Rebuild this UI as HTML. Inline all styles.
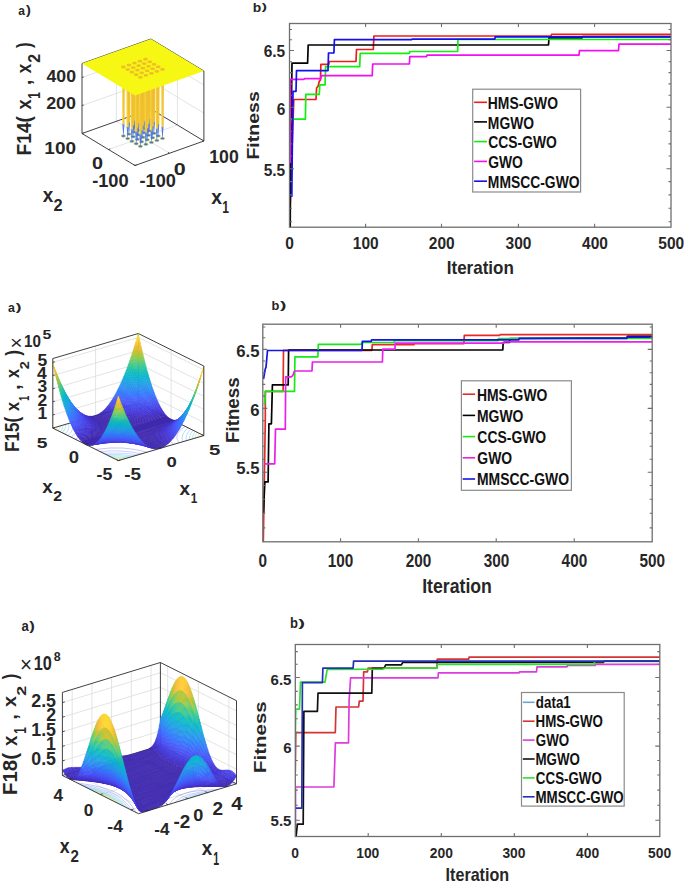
<!DOCTYPE html>
<html><head><meta charset="utf-8"><style>
html,body{margin:0;padding:0;background:#fff;}
svg{display:block;font-family:"Liberation Sans",sans-serif;}
</style></head><body>
<svg width="685" height="885" viewBox="0 0 685 885">
<rect width="685" height="885" fill="#fff"/>
<clipPath id="c1"><rect x="289.5" y="22.5" width="381.5" height="204.7"/></clipPath>
<g clip-path="url(#c1)" fill="none" stroke-width="1.7" stroke-linejoin="round">
<polyline stroke="#f01c1c" points="290.2,206.0 292.0,150.0 293.8,99.5 316.0,99.5 316.6,88.0 318.2,86.0 319.2,81.5 320.4,80.0 320.9,64.4 328.8,64.4 329.2,61.5 356.0,61.5 356.5,49.5 373.3,49.5 373.9,36.0 551.0,36.0 551.5,34.4 672.0,34.4"/>
<polyline stroke="#000000" points="290.2,228.0 290.6,160.0 292.0,63.2 307.6,63.2 308.2,45.0 548.5,45.0 549.0,37.9 582.0,37.9 582.5,36.7 672.0,36.7"/>
<polyline stroke="#10f010" points="290.3,125.0 290.8,119.2 305.4,119.2 305.8,94.3 319.3,94.3 319.8,84.9 325.1,84.9 325.6,66.6 359.7,66.6 360.2,53.3 409.4,53.3 409.8,51.5 457.6,51.5 458.0,39.5 672.0,39.5"/>
<polyline stroke="#f010f0" points="290.2,163.0 290.5,79.3 304.0,79.3 304.4,78.6 320.8,78.6 321.3,75.7 372.2,75.7 372.7,64.0 409.4,64.0 409.8,56.7 426.5,56.7 427.0,55.2 579.0,55.2 579.5,50.6 618.5,50.6 619.0,44.1 672.0,44.1"/>
<polyline stroke="#1010f0" points="290.6,196.2 291.8,196.2 292.5,130.0 293.0,91.4 296.0,91.4 296.5,70.7 328.0,70.7 328.5,53.0 333.9,53.0 334.4,39.6 411.6,39.6 412.0,39.2 494.8,39.2 495.2,36.8 672.0,36.8"/>
</g>
<rect x="289.5" y="23.5" width="381.5" height="203.7" fill="none" stroke="#6e6e6e" stroke-width="1.3"/>
<path d="M365.6 227.2v-3.5M365.6 23.5v3.5M441.5 227.2v-3.5M441.5 23.5v3.5M518.4 227.2v-3.5M518.4 23.5v3.5M594.6 227.2v-3.5M594.6 23.5v3.5M289.5 29.5h2.5M671.0 29.5h-2.5M289.5 39.8h2.5M671.0 39.8h-2.5M289.5 50.5h4.5M671.0 50.5h-4.5M289.5 61.7h2.5M671.0 61.7h-2.5M289.5 72.6h2.5M671.0 72.6h-2.5M289.5 83.9h2.5M671.0 83.9h-2.5M289.5 95.2h2.5M671.0 95.2h-2.5M289.5 107.3h4.5M671.0 107.3h-4.5M289.5 119.1h2.5M671.0 119.1h-2.5M289.5 131.3h2.5M671.0 131.3h-2.5M289.5 143.9h2.5M671.0 143.9h-2.5M289.5 156.0h2.5M671.0 156.0h-2.5M289.5 168.7h4.5M671.0 168.7h-4.5M289.5 181.6h2.5M671.0 181.6h-2.5M289.5 194.9h2.5M671.0 194.9h-2.5M289.5 208.3h2.5M671.0 208.3h-2.5M289.5 221.7h2.5M671.0 221.7h-2.5" stroke="#6e6e6e" stroke-width="1.1" fill="none"/>
<text transform="translate(285.30,249.44) scale(0.946,1)" font-size="16.40" font-weight="bold" fill="#262626" >0</text>
<text transform="translate(352.80,249.44) scale(0.946,1)" font-size="16.40" font-weight="bold" fill="#262626" >100</text>
<text transform="translate(428.81,249.44) scale(0.946,1)" font-size="16.40" font-weight="bold" fill="#262626" >200</text>
<text transform="translate(505.61,249.44) scale(0.946,1)" font-size="16.40" font-weight="bold" fill="#262626" >300</text>
<text transform="translate(582.07,249.44) scale(0.946,1)" font-size="16.40" font-weight="bold" fill="#262626" >400</text>
<text transform="translate(658.35,249.44) scale(0.946,1)" font-size="16.40" font-weight="bold" fill="#262626" >500</text>
<text transform="translate(263.72,57.14) scale(0.977,1)" font-size="15.83" font-weight="bold" fill="#262626" >6.5</text>
<text transform="translate(276.75,114.94) scale(0.977,1)" font-size="15.83" font-weight="bold" fill="#262626" >6</text>
<text transform="translate(263.72,175.76) scale(0.977,1)" font-size="15.83" font-weight="bold" fill="#262626" >5.5</text>
<text transform="translate(446.75,274.21) scale(0.893,1)" font-size="19.05" font-weight="bold" fill="#262626" >Iteration</text>
<text transform="translate(252.70,11.67) scale(1.029,1)" font-size="13.47" font-weight="bold" fill="#262626" >b</text>
<text transform="translate(261.86,10.25) scale(1.593,1)" font-size="9.87" font-weight="bold" fill="#262626" >)</text>
<text transform="translate(258.84,159.62) rotate(-90) scale(1.199,1)" font-size="16.33" font-weight="bold" fill="#262626">Fitness</text>
<rect x="472.7" y="89.2" width="107.90000000000003" height="102.8" fill="#fff" stroke="#8a8a8a" stroke-width="1.2"/>
<path d="M474.1 102.3H487.0" stroke="#f01c1c" stroke-width="1.6"/>
<text transform="translate(487.86,108.83) scale(0.832,1)" font-size="16.68" font-weight="bold" fill="#111" >HMS-GWO</text>
<path d="M474.1 121.9H487.0" stroke="#000000" stroke-width="1.6"/>
<text transform="translate(487.86,128.55) scale(0.832,1)" font-size="16.68" font-weight="bold" fill="#111" >MGWO</text>
<path d="M474.1 141.6H487.0" stroke="#10f010" stroke-width="1.6"/>
<text transform="translate(488.25,148.27) scale(0.832,1)" font-size="16.68" font-weight="bold" fill="#111" >CCS-GWO</text>
<path d="M474.1 161.4H487.0" stroke="#f010f0" stroke-width="1.6"/>
<text transform="translate(488.25,167.99) scale(0.832,1)" font-size="16.68" font-weight="bold" fill="#111" >GWO</text>
<path d="M474.1 181.2H487.0" stroke="#1010f0" stroke-width="1.6"/>
<text transform="translate(487.86,187.71) scale(0.832,1)" font-size="16.68" font-weight="bold" fill="#111" >MMSCC-GWO</text>
<clipPath id="c2"><rect x="262.8" y="323.2" width="389.40000000000003" height="218.59999999999997"/></clipPath>
<g clip-path="url(#c2)" fill="none" stroke-width="1.7" stroke-linejoin="round">
<polyline stroke="#e62a2a" points="263.3,542.0 264.5,470.0 265.3,420.0 265.3,391.4 283.1,391.4 283.5,350.3 371.9,350.3 372.3,344.6 413.9,344.6 414.3,343.6 463.9,343.6 464.3,335.3 499.6,335.3 500.0,334.6 653.0,334.6"/>
<polyline stroke="#000000" points="263.5,513.0 264.8,481.9 268.1,481.9 268.9,423.8 271.4,423.8 272.4,384.9 288.2,384.9 288.6,350.0 502.8,350.0 503.2,342.5 509.6,342.5 510.0,338.5 627.0,337.8 627.4,336.3 653.0,336.3"/>
<polyline stroke="#18e818" points="264.6,404.6 265.5,391.4 294.5,391.4 294.9,356.8 317.9,356.8 318.3,344.4 361.4,344.4 361.8,342.5 394.0,342.5 394.4,340.6 498.0,340.6 498.4,338.5 653.0,338.5"/>
<polyline stroke="#e820e8" points="264.0,463.9 274.7,463.9 275.5,429.2 285.3,429.2 285.7,376.8 291.6,376.8 293.0,375.0 294.5,371.0 312.0,371.0 312.4,362.0 382.4,362.0 382.8,349.1 394.9,349.1 395.3,343.2 503.8,343.2 504.2,341.8 653.0,341.8"/>
<polyline stroke="#1414e6" points="263.5,379.0 265.3,368.8 266.0,367.3 267.5,350.5 362.0,350.5 362.4,341.4 371.2,341.4 371.6,339.8 518.9,339.8 519.3,338.3 627.0,338.3 627.4,337.2 653.0,337.2"/>
</g>
<rect x="262.8" y="324.2" width="389.40000000000003" height="217.59999999999997" fill="none" stroke="#6e6e6e" stroke-width="1.3"/>
<path d="M340.6 541.8v-3.5M340.6 324.2v3.5M418.4 541.8v-3.5M418.4 324.2v3.5M496.2 541.8v-3.5M496.2 324.2v3.5M574.2 541.8v-3.5M574.2 324.2v3.5M262.8 327.0h2.5M652.2 327.0h-2.5M262.8 337.7h2.5M652.2 337.7h-2.5M262.8 349.4h4.5M652.2 349.4h-4.5M262.8 361.0h2.5M652.2 361.0h-2.5M262.8 372.8h2.5M652.2 372.8h-2.5M262.8 384.4h2.5M652.2 384.4h-2.5M262.8 396.1h2.5M652.2 396.1h-2.5M262.8 408.4h4.5M652.2 408.4h-4.5M262.8 420.6h2.5M652.2 420.6h-2.5M262.8 433.3h2.5M652.2 433.3h-2.5M262.8 446.3h2.5M652.2 446.3h-2.5M262.8 459.3h2.5M652.2 459.3h-2.5M262.8 472.3h4.5M652.2 472.3h-4.5M262.8 485.5h2.5M652.2 485.5h-2.5M262.8 499.3h2.5M652.2 499.3h-2.5M262.8 513.3h2.5M652.2 513.3h-2.5M262.8 527.9h2.5M652.2 527.9h-2.5" stroke="#6e6e6e" stroke-width="1.1" fill="none"/>
<text transform="translate(258.55,566.52) scale(0.847,1)" font-size="18.09" font-weight="bold" fill="#262626" >0</text>
<text transform="translate(327.76,566.52) scale(0.847,1)" font-size="18.09" font-weight="bold" fill="#262626" >100</text>
<text transform="translate(405.67,566.52) scale(0.847,1)" font-size="18.09" font-weight="bold" fill="#262626" >200</text>
<text transform="translate(483.66,566.52) scale(0.847,1)" font-size="18.09" font-weight="bold" fill="#262626" >300</text>
<text transform="translate(561.62,566.52) scale(0.847,1)" font-size="18.09" font-weight="bold" fill="#262626" >400</text>
<text transform="translate(639.51,566.52) scale(0.847,1)" font-size="18.09" font-weight="bold" fill="#262626" >500</text>
<text transform="translate(236.27,357.08) scale(1.009,1)" font-size="16.54" font-weight="bold" fill="#262626" >6.5</text>
<text transform="translate(250.33,415.58) scale(1.009,1)" font-size="16.54" font-weight="bold" fill="#262626" >6</text>
<text transform="translate(236.27,473.90) scale(1.009,1)" font-size="16.54" font-weight="bold" fill="#262626" >5.5</text>
<text transform="translate(422.21,592.70) scale(0.890,1)" font-size="19.86" font-weight="bold" fill="#262626" >Iteration</text>
<text transform="translate(271.46,310.17) scale(0.985,1)" font-size="13.06" font-weight="bold" fill="#262626" >b</text>
<text transform="translate(279.95,309.06) scale(1.873,1)" font-size="10.29" font-weight="bold" fill="#262626" >)</text>
<text transform="translate(239.32,442.97) rotate(-90) scale(1.060,1)" font-size="17.69" font-weight="bold" fill="#262626">Fitness</text>
<rect x="461.4" y="380.8" width="110.0" height="109.5" fill="#fff" stroke="#8a8a8a" stroke-width="1.2"/>
<path d="M462.7 394.2H475.1" stroke="#e62a2a" stroke-width="1.6"/>
<text transform="translate(476.96,400.63) scale(0.843,1)" font-size="16.54" font-weight="bold" fill="#111" >HMS-GWO</text>
<path d="M462.7 415.4H475.1" stroke="#000000" stroke-width="1.6"/>
<text transform="translate(476.96,421.83) scale(0.843,1)" font-size="16.54" font-weight="bold" fill="#111" >MGWO</text>
<path d="M462.7 436.6H475.1" stroke="#18e818" stroke-width="1.6"/>
<text transform="translate(477.34,443.03) scale(0.843,1)" font-size="16.54" font-weight="bold" fill="#111" >CCS-GWO</text>
<path d="M462.7 457.8H475.1" stroke="#e820e8" stroke-width="1.6"/>
<text transform="translate(477.34,464.23) scale(0.843,1)" font-size="16.54" font-weight="bold" fill="#111" >GWO</text>
<path d="M462.7 479.0H475.1" stroke="#1414e6" stroke-width="1.6"/>
<text transform="translate(476.96,485.43) scale(0.843,1)" font-size="16.54" font-weight="bold" fill="#111" >MMSCC-GWO</text>
<clipPath id="c3"><rect x="295.3" y="643.5" width="364.49999999999994" height="193.0"/></clipPath>
<g clip-path="url(#c3)" fill="none" stroke-width="1.7" stroke-linejoin="round">
<polyline stroke="#d43434" points="295.3,772.3 295.8,732.6 335.3,732.6 336.0,707.0 358.6,707.0 359.3,701.2 363.0,701.2 363.7,671.8 367.4,671.8 368.1,668.1 436.9,668.1 437.3,659.2 468.7,659.2 469.1,657.1 661.0,657.1"/>
<polyline stroke="#dc3cdc" points="295.5,826.4 295.5,787.0 333.9,787.0 335.4,742.8 348.5,742.8 349.1,700.5 350.6,677.8 438.0,677.8 438.4,672.8 519.0,672.8 519.4,671.9 536.5,671.9 537.0,666.8 567.0,666.8 567.4,665.5 595.1,665.5 595.5,664.4 661.0,664.4"/>
<polyline stroke="#111111" points="296.0,837.3 297.4,824.2 303.2,824.2 303.9,711.4 317.4,711.4 318.0,693.2 371.8,693.2 372.3,668.4 384.0,668.4 385.7,664.9 401.4,664.9 402.7,662.3 603.6,662.3 604.0,661.2 661.0,661.2"/>
<polyline stroke="#2ee02e" points="295.3,738.4 295.8,709.2 299.5,709.2 300.5,682.2 325.0,682.2 327.2,669.3 383.0,669.1 384.8,668.2 437.0,668.2 437.4,664.3 594.1,664.3 594.5,661.5 661.0,661.5"/>
<polyline stroke="#2430b8" points="296.0,808.1 301.8,808.1 302.4,682.7 322.4,682.7 322.9,668.1 353.1,668.1 353.6,661.1 661.0,661.1"/>
</g>
<rect x="295.3" y="644.5" width="364.49999999999994" height="192.0" fill="none" stroke="#6e6e6e" stroke-width="1.3"/>
<path d="M368.2 836.5v-3.5M368.2 644.5v3.5M441.3 836.5v-3.5M441.3 644.5v3.5M514.3 836.5v-3.5M514.3 644.5v3.5M587.4 836.5v-3.5M587.4 644.5v3.5M295.3 651.6h2.5M659.8 651.6h-2.5M295.3 664.3h2.5M659.8 664.3h-2.5M295.3 677.5h4.5M659.8 677.5h-4.5M295.3 691.4h2.5M659.8 691.4h-2.5M295.3 704.9h2.5M659.8 704.9h-2.5M295.3 718.8h2.5M659.8 718.8h-2.5M295.3 732.2h2.5M659.8 732.2h-2.5M295.3 746.1h4.5M659.8 746.1h-4.5M295.3 760.5h2.5M659.8 760.5h-2.5M295.3 775.0h2.5M659.8 775.0h-2.5M295.3 790.1h2.5M659.8 790.1h-2.5M295.3 805.2h2.5M659.8 805.2h-2.5M295.3 820.2h4.5M659.8 820.2h-4.5" stroke="#6e6e6e" stroke-width="1.1" fill="none"/>
<text transform="translate(291.26,858.01) scale(0.893,1)" font-size="15.49" font-weight="bold" fill="#262626" >0</text>
<text transform="translate(356.21,858.01) scale(0.893,1)" font-size="15.49" font-weight="bold" fill="#262626" >100</text>
<text transform="translate(429.80,858.01) scale(0.893,1)" font-size="15.49" font-weight="bold" fill="#262626" >200</text>
<text transform="translate(502.39,858.01) scale(0.893,1)" font-size="15.49" font-weight="bold" fill="#262626" >300</text>
<text transform="translate(576.04,858.01) scale(0.893,1)" font-size="15.49" font-weight="bold" fill="#262626" >400</text>
<text transform="translate(648.04,858.01) scale(0.893,1)" font-size="15.49" font-weight="bold" fill="#262626" >500</text>
<text transform="translate(270.54,685.10) scale(0.975,1)" font-size="15.41" font-weight="bold" fill="#262626" >6.5</text>
<text transform="translate(283.19,752.80) scale(0.975,1)" font-size="15.41" font-weight="bold" fill="#262626" >6</text>
<text transform="translate(270.54,826.02) scale(0.975,1)" font-size="15.41" font-weight="bold" fill="#262626" >5.5</text>
<text transform="translate(445.61,881.22) scale(0.890,1)" font-size="18.10" font-weight="bold" fill="#262626" >Iteration</text>
<text transform="translate(290.05,628.46) scale(0.915,1)" font-size="14.29" font-weight="bold" fill="#262626" >b</text>
<text transform="translate(298.35,627.16) scale(1.808,1)" font-size="11.26" font-weight="bold" fill="#262626" >)</text>
<text transform="translate(265.94,773.08) rotate(-90) scale(1.289,1)" font-size="15.92" font-weight="bold" fill="#262626">Fitness</text>
<rect x="521.5" y="692.5" width="102.70000000000005" height="113.60000000000002" fill="#fff" stroke="#8a8a8a" stroke-width="1.2"/>
<path d="M522.8 702.3H534.6" stroke="#6aa6cf" stroke-width="1.6"/>
<text transform="translate(535.87,708.34) scale(0.829,1)" font-size="16.11" font-weight="bold" fill="#111" >data1</text>
<path d="M522.8 721.2H534.6" stroke="#d43434" stroke-width="1.6"/>
<text transform="translate(535.50,727.24) scale(0.829,1)" font-size="16.11" font-weight="bold" fill="#111" >HMS-GWO</text>
<path d="M522.8 740.1H534.6" stroke="#dc3cdc" stroke-width="1.6"/>
<text transform="translate(535.87,746.14) scale(0.829,1)" font-size="16.11" font-weight="bold" fill="#111" >GWO</text>
<path d="M522.8 759.0H534.6" stroke="#111111" stroke-width="1.6"/>
<text transform="translate(535.50,765.04) scale(0.829,1)" font-size="16.11" font-weight="bold" fill="#111" >MGWO</text>
<path d="M522.8 777.9H534.6" stroke="#2ee02e" stroke-width="1.6"/>
<text transform="translate(535.87,783.94) scale(0.829,1)" font-size="16.11" font-weight="bold" fill="#111" >CCS-GWO</text>
<path d="M522.8 796.8H534.6" stroke="#2430b8" stroke-width="1.6"/>
<text transform="translate(535.50,802.84) scale(0.829,1)" font-size="16.11" font-weight="bold" fill="#111" >MMSCC-GWO</text>
<style>.sf path{fill:currentColor;stroke:currentColor;stroke-width:0.45;stroke-linejoin:round}</style>
<path d="M169.4 153.2L116.4 121.2M116.4 121.2L116.4 51.2M108.5 149.5L177.4 125.0M177.4 125.0L177.4 55.0M82.0 105.6L150.9 81.1M150.9 81.1L203.9 113.1M82.0 77.5L150.9 53.0M150.9 53.0L203.9 85.0" stroke="#dcdcdc" stroke-width="0.8" fill="none"/>
<path d="M150.9 109.0L150.9 39.0M82.0 63.5L150.9 39.0M150.9 39.0L203.9 71.0M82.0 133.5L150.9 109.0M150.9 109.0L203.9 141.0" stroke="#2b2b2b" stroke-width="0.9" fill="none"/>
<g fill="#3e6fd8" stroke="#c9cf46" stroke-width="0.6"><ellipse cx="140.4" cy="146.3" rx="2.1" ry="1.2"/><ellipse cx="136.2" cy="143.7" rx="2.1" ry="1.2"/><ellipse cx="131.9" cy="141.2" rx="2.1" ry="1.2"/><ellipse cx="127.7" cy="138.6" rx="2.1" ry="1.2"/><ellipse cx="123.4" cy="136.0" rx="2.1" ry="1.2"/><ellipse cx="145.9" cy="144.3" rx="2.1" ry="1.2"/><ellipse cx="141.7" cy="141.8" rx="2.1" ry="1.2"/><ellipse cx="137.4" cy="139.2" rx="2.1" ry="1.2"/><ellipse cx="133.2" cy="136.7" rx="2.1" ry="1.2"/><ellipse cx="129.0" cy="134.1" rx="2.1" ry="1.2"/><ellipse cx="151.4" cy="142.4" rx="2.1" ry="1.2"/><ellipse cx="147.2" cy="139.8" rx="2.1" ry="1.2"/><ellipse cx="142.9" cy="137.2" rx="2.1" ry="1.2"/><ellipse cx="138.7" cy="134.7" rx="2.1" ry="1.2"/><ellipse cx="134.5" cy="132.1" rx="2.1" ry="1.2"/><ellipse cx="156.9" cy="140.4" rx="2.1" ry="1.2"/><ellipse cx="152.7" cy="137.8" rx="2.1" ry="1.2"/><ellipse cx="148.5" cy="135.3" rx="2.1" ry="1.2"/><ellipse cx="144.2" cy="132.7" rx="2.1" ry="1.2"/><ellipse cx="140.0" cy="130.2" rx="2.1" ry="1.2"/><ellipse cx="162.5" cy="138.4" rx="2.1" ry="1.2"/><ellipse cx="158.2" cy="135.9" rx="2.1" ry="1.2"/><ellipse cx="154.0" cy="133.3" rx="2.1" ry="1.2"/><ellipse cx="149.7" cy="130.8" rx="2.1" ry="1.2"/><ellipse cx="145.5" cy="128.2" rx="2.1" ry="1.2"/></g>
<linearGradient id="spo" x1="0" y1="0" x2="1" y2="0"><stop offset="0" stop-color="#f8d84a"/><stop offset="0.5" stop-color="#f4c832"/><stop offset="1" stop-color="#eab52a"/></linearGradient>
<linearGradient id="spg" x1="0" y1="0" x2="0" y2="1"><stop offset="0" stop-color="#9aa0a8"/><stop offset="0.15" stop-color="#5a86e6"/><stop offset="1" stop-color="#3a66d8"/></linearGradient>
<path d="M144.1 58.2L146.9 58.2L146.6 116.3L144.4 116.3z" fill="url(#spo)"/>
<path d="M144.4 116.3L146.6 116.3L145.7 127.2L145.3 127.2z" fill="url(#spg)"/>
<path d="M138.6 60.2L141.4 60.2L141.1 118.3L138.9 118.3z" fill="url(#spo)"/>
<path d="M138.9 118.3L141.1 118.3L140.2 129.1L139.8 129.1z" fill="url(#spg)"/>
<path d="M148.3 60.8L151.1 60.8L150.8 118.9L148.6 118.9z" fill="url(#spo)"/>
<path d="M148.6 118.9L150.8 118.9L149.9 129.7L149.5 129.7z" fill="url(#spg)"/>
<path d="M133.1 62.1L135.9 62.1L135.6 120.2L133.4 120.2z" fill="url(#spo)"/>
<path d="M133.4 120.2L135.6 120.2L134.7 131.1L134.3 131.1z" fill="url(#spg)"/>
<path d="M142.8 62.7L145.6 62.7L145.3 120.8L143.1 120.8z" fill="url(#spo)"/>
<path d="M143.1 120.8L145.3 120.8L144.4 131.7L144.0 131.7z" fill="url(#spg)"/>
<path d="M152.6 63.3L155.4 63.3L155.1 121.4L152.9 121.4z" fill="url(#spo)"/>
<path d="M152.9 121.4L155.1 121.4L154.2 132.3L153.8 132.3z" fill="url(#spg)"/>
<path d="M127.6 64.1L130.4 64.1L130.1 122.2L127.9 122.2z" fill="url(#spo)"/>
<path d="M127.9 122.2L130.1 122.2L129.2 133.0L128.8 133.0z" fill="url(#spg)"/>
<path d="M137.3 64.7L140.1 64.7L139.8 122.8L137.6 122.8z" fill="url(#spo)"/>
<path d="M137.6 122.8L139.8 122.8L138.9 133.6L138.5 133.6z" fill="url(#spg)"/>
<path d="M147.1 65.3L149.9 65.3L149.6 123.4L147.4 123.4z" fill="url(#spo)"/>
<path d="M147.4 123.4L149.6 123.4L148.7 134.2L148.3 134.2z" fill="url(#spg)"/>
<path d="M156.8 65.9L159.6 65.9L159.3 124.0L157.1 124.0z" fill="url(#spo)"/>
<path d="M157.1 124.0L159.3 124.0L158.4 134.8L158.0 134.8z" fill="url(#spg)"/>
<path d="M122.0 66.0L124.8 66.0L124.5 124.1L122.3 124.1z" fill="url(#spo)"/>
<path d="M122.3 124.1L124.5 124.1L123.6 135.0L123.2 135.0z" fill="url(#spg)"/>
<path d="M131.8 66.7L134.6 66.7L134.3 124.8L132.1 124.8z" fill="url(#spo)"/>
<path d="M132.1 124.8L134.3 124.8L133.4 135.6L133.0 135.6z" fill="url(#spg)"/>
<path d="M141.5 67.2L144.3 67.2L144.0 125.3L141.8 125.3z" fill="url(#spo)"/>
<path d="M141.8 125.3L144.0 125.3L143.1 136.2L142.8 136.2z" fill="url(#spg)"/>
<path d="M151.3 67.8L154.1 67.8L153.8 125.9L151.6 125.9z" fill="url(#spo)"/>
<path d="M151.6 125.9L153.8 125.9L152.9 136.8L152.5 136.8z" fill="url(#spg)"/>
<path d="M161.1 68.4L163.9 68.4L163.6 126.5L161.4 126.5z" fill="url(#spo)"/>
<path d="M161.4 126.5L163.6 126.5L162.7 137.4L162.3 137.4z" fill="url(#spg)"/>
<path d="M126.3 68.6L129.1 68.6L128.8 126.7L126.6 126.7z" fill="url(#spo)"/>
<path d="M126.6 126.7L128.8 126.7L127.9 137.6L127.5 137.6z" fill="url(#spg)"/>
<path d="M136.0 69.2L138.8 69.2L138.5 127.3L136.3 127.3z" fill="url(#spo)"/>
<path d="M136.3 127.3L138.5 127.3L137.6 138.2L137.2 138.2z" fill="url(#spg)"/>
<path d="M145.8 69.8L148.6 69.8L148.3 127.9L146.1 127.9z" fill="url(#spo)"/>
<path d="M146.1 127.9L148.3 127.9L147.4 138.8L147.0 138.8z" fill="url(#spg)"/>
<path d="M155.5 70.4L158.3 70.4L158.0 128.5L155.8 128.5z" fill="url(#spo)"/>
<path d="M155.8 128.5L158.0 128.5L157.1 139.4L156.7 139.4z" fill="url(#spg)"/>
<path d="M130.5 71.2L133.3 71.2L133.0 129.3L130.8 129.3z" fill="url(#spo)"/>
<path d="M130.8 129.3L133.0 129.3L132.1 140.1L131.7 140.1z" fill="url(#spg)"/>
<path d="M140.3 71.8L143.1 71.8L142.8 129.9L140.6 129.9z" fill="url(#spo)"/>
<path d="M140.6 129.9L142.8 129.9L141.9 140.7L141.5 140.7z" fill="url(#spg)"/>
<path d="M150.0 72.4L152.8 72.4L152.5 130.5L150.3 130.5z" fill="url(#spo)"/>
<path d="M150.3 130.5L152.5 130.5L151.6 141.3L151.2 141.3z" fill="url(#spg)"/>
<path d="M134.8 73.7L137.6 73.7L137.3 131.8L135.1 131.8z" fill="url(#spo)"/>
<path d="M135.1 131.8L137.3 131.8L136.4 142.7L136.0 142.7z" fill="url(#spg)"/>
<path d="M144.5 74.3L147.3 74.3L147.0 132.4L144.8 132.4z" fill="url(#spo)"/>
<path d="M144.8 132.4L147.0 132.4L146.1 143.3L145.7 143.3z" fill="url(#spg)"/>
<path d="M139.0 76.3L141.8 76.3L141.5 134.4L139.3 134.4z" fill="url(#spo)"/>
<path d="M139.3 134.4L141.5 134.4L140.6 145.2L140.2 145.2z" fill="url(#spg)"/>
<path d="M135.0 95.5L203.9 71.0L150.9 39.0L82.0 63.5z" fill="#f7f714"/>
<g fill="#eebf28"><ellipse cx="140.4" cy="77.3" rx="2.4" ry="1.4"/><ellipse cx="136.2" cy="74.7" rx="2.4" ry="1.4"/><ellipse cx="131.9" cy="72.2" rx="2.4" ry="1.4"/><ellipse cx="127.7" cy="69.6" rx="2.4" ry="1.4"/><ellipse cx="123.4" cy="67.0" rx="2.4" ry="1.4"/><ellipse cx="145.9" cy="75.3" rx="2.4" ry="1.4"/><ellipse cx="141.7" cy="72.8" rx="2.4" ry="1.4"/><ellipse cx="137.4" cy="70.2" rx="2.4" ry="1.4"/><ellipse cx="133.2" cy="67.7" rx="2.4" ry="1.4"/><ellipse cx="129.0" cy="65.1" rx="2.4" ry="1.4"/><ellipse cx="151.4" cy="73.4" rx="2.4" ry="1.4"/><ellipse cx="147.2" cy="70.8" rx="2.4" ry="1.4"/><ellipse cx="142.9" cy="68.2" rx="2.4" ry="1.4"/><ellipse cx="138.7" cy="65.7" rx="2.4" ry="1.4"/><ellipse cx="134.5" cy="63.1" rx="2.4" ry="1.4"/><ellipse cx="156.9" cy="71.4" rx="2.4" ry="1.4"/><ellipse cx="152.7" cy="68.8" rx="2.4" ry="1.4"/><ellipse cx="148.5" cy="66.3" rx="2.4" ry="1.4"/><ellipse cx="144.2" cy="63.7" rx="2.4" ry="1.4"/><ellipse cx="140.0" cy="61.2" rx="2.4" ry="1.4"/><ellipse cx="162.5" cy="69.4" rx="2.4" ry="1.4"/><ellipse cx="158.2" cy="66.9" rx="2.4" ry="1.4"/><ellipse cx="154.0" cy="64.3" rx="2.4" ry="1.4"/><ellipse cx="149.7" cy="61.8" rx="2.4" ry="1.4"/><ellipse cx="145.5" cy="59.2" rx="2.4" ry="1.4"/></g>
<path d="M82.0 133.5L82.0 63.5M203.9 141.0L203.9 71.0M82.0 133.5L135.0 165.5M135.0 165.5L203.9 141.0" stroke="#2b2b2b" stroke-width="0.9" fill="none"/>
<path d="M135.0 165.5L133.7 164.7M169.4 153.2L168.1 152.4M203.9 141.0L202.6 140.2M135.0 165.5L136.7 164.9M108.5 149.5L110.2 148.9M82.0 133.5L83.7 132.9M82.0 105.6L83.7 105.0M82.0 77.5L83.7 76.9" stroke="#2b2b2b" stroke-width="0.8" fill="none"/>
<path d="M118.3 460.6L52.8 428.1M52.8 428.1L52.8 358.5M161.1 448.1L95.6 415.6M95.6 415.6L95.6 346.0M203.8 435.6L138.3 403.1M138.3 403.1L138.3 333.5M118.3 460.6L203.8 435.6M203.8 435.6L203.8 366.0M85.5 444.4L171.1 419.4M171.1 419.4L171.1 349.8M52.8 428.1L138.3 403.1M138.3 403.1L138.3 333.5M52.8 415.0L138.3 390.0M138.3 390.0L203.8 422.5M52.8 401.8L138.3 376.8M138.3 376.8L203.8 409.3M52.8 388.7L138.3 363.7M138.3 363.7L203.8 396.2M52.8 375.5L138.3 350.5M138.3 350.5L203.8 383.0M52.8 362.4L138.3 337.4M138.3 337.4L203.8 369.9" stroke="#dcdcdc" stroke-width="0.8" fill="none"/>
<path d="M138.3 403.1L138.3 333.5M52.8 358.5L138.3 333.5M138.3 333.5L203.8 366.0M52.8 428.1L138.3 403.1M138.3 403.1L203.8 435.6" stroke="#2b2b2b" stroke-width="0.9" fill="none"/>
<path d="M95.8 449.4L110 448L122.4 448L134.6 449.4L147.2 452.2M81.7 419.7L84.1 422.6L85.5 425L86.1 427.4L85.8 429.8L84.6 432.1L82.5 434.4L75.3 439.3M173.4 444.5L170.9 441.6L169.5 438.9L169 436.5L169.4 434L170.7 431.7L173.2 429.2L180.9 424.2M161.2 414.4L146.7 416L133.4 416.2L121 414.9L107.9 412" stroke="#4640e1" stroke-width="0.5" fill="none" opacity="0.6"/>
<path d="M100 451.5L111 450.9L121.5 451L131.5 452L141.7 453.8M76.2 421.2L78.1 425.5L78.2 427.4L77.9 429.4L75.5 433.3L71.1 437.2M178.8 442.9L176.9 438.5L176.9 436.4L177.4 434.3L180.1 430.2L185 426.3M157.1 412.4L145.8 413.2L134.8 413.2L124.1 412.2L113.3 410.4" stroke="#4560fb" stroke-width="0.5" fill="none" opacity="0.6"/>
<path d="M103.3 453.2L120.8 453.1L129.3 453.8L137.5 455M72.1 422.5L72.9 425.8L72.6 429.1L70.9 432.3L67.8 435.6M183 441.7L182.1 438.1L182.7 434.6L184.7 431.2L188.2 427.8M153.9 410.9L144.6 411.3L135.5 411.1L126.4 410.4L117.5 409.2" stroke="#3182f8" stroke-width="0.5" fill="none" opacity="0.6"/>
<path d="M106 454.5L120.2 454.6L134 456M68.5 423.5L68.9 426.2L68.4 429L67.2 431.5L65.1 434.2M186.5 440.7L186.2 437.7L186.7 434.9L188.3 432L190.8 429.1M151.3 409.5L135.7 409.6L121 408.2" stroke="#239fe6" stroke-width="0.5" fill="none" opacity="0.6"/>
<path d="M108.4 455.7L119.7 455.9L130.9 456.9M65.4 424.4L65.5 426.6L65 428.8L62.7 433M189.6 439.7L189.6 437.3L190.2 434.9L191.3 432.7L193.1 430.3M149 408.4L136.5 408.3L124.1 407.2" stroke="#0db6cc" stroke-width="0.5" fill="none" opacity="0.6"/>
<path d="M110.6 456.8L128.1 457.7M62.6 425.2L62.1 428.7L60.5 431.9M192.4 438.9L193.1 435.1L195.2 431.4M146.9 407.3L136.8 407.2L126.9 406.4" stroke="#2ac4a4" stroke-width="0.5" fill="none" opacity="0.6"/>
<path d="M112.6 457.8L125.6 458.5M60.1 426L59.6 428.4L58.5 430.9M195 438.2L195.6 435.3L197.2 432.3M144.9 406.4L129.5 405.7" stroke="#66cc6e" stroke-width="0.5" fill="none" opacity="0.6"/>
<path d="M114.5 458.7L123.2 459.2M57.7 426.7L56.6 430M197.4 437.5L199 433.2M143.1 405.5L131.9 405" stroke="#b5c435" stroke-width="0.5" fill="none" opacity="0.6"/>
<path d="M116.3 459.6L120.9 459.8M55.4 427.3L54.8 429.1M199.6 436.8L200.7 434M141.4 404.6L134.2 404.3" stroke="#f3ba39" stroke-width="0.5" fill="none" opacity="0.6"/>
<path d="M117.9 460.4L118.8 460.5M53.3 428L53.2 428.3M201.8 436.2L202.3 434.8M139.8 403.9L136.3 403.7" stroke="#f9d82d" stroke-width="0.5" fill="none" opacity="0.6"/>
<g class="sf">
<path d="M138 341.9l1.2-4-.9-4.4-1.2 4.3z" color="#f5e625"/>
<path d="M136.8 345.8l1.2-3.9-.9-4.1-1.2 4z" color="#fbd32f"/>
<path d="M135.6 349.6l1.2-3.8-.9-4-1.3 4z" color="#f6bf37"/>
<path d="M134.4 353.3l1.2-3.7-1-3.8-1.2 3.9z" color="#e2bd32"/>
<path d="M133.1 356.8l1.3-3.5-1-3.6-1.2 3.8z" color="#c2c22e"/>
<path d="M131.9 360.3l1.2-3.5-.9-3.3-1.2 3.6z" color="#9ac946"/>
<path d="M130.7 363.7l1.2-3.4-.9-3.2-1.2 3.6z" color="#71cc66"/>
<path d="M129.5 366.9l1.2-3.2-.9-3-1.3 3.4z" color="#4dca84"/>
<path d="M128.2 370.1l1.3-3.2-1-2.8-1.2 3.4z" color="#38c897"/>
<path d="M127 373.2l1.2-3.1-.9-2.6-1.2 3.2z" color="#1fc1ae"/>
<path d="M125.8 376.1l1.2-2.9-.9-2.5-1.2 3.1z" color="#10bac3"/>
<path d="M124.6 379l1.2-2.9-.9-2.3-1.3 3z" color="#0cb5d0"/>
<path d="M123.4 381.7l1.2-2.7-1-2.2-1.2 2.9z" color="#14add9"/>
<path d="M122.1 384.4l1.3-2.7-1-2-1.2 2.8z" color="#22a1e5"/>
<path d="M120.9 386.9l1.2-2.5-.9-1.9-1.2 2.6z" color="#2897eb"/>
<path d="M119.7 389.4l1.2-2.5-.9-1.8-1.2 2.6z" color="#2d8df1"/>
<path d="M118.5 391.7l1.2-2.3-.9-1.7-1.3 2.4z" color="#3182f8"/>
<path d="M117.2 393.9l1.3-2.2-1-1.6-1.2 2.4z" color="#327dfb"/>
<path d="M116 396l1.2-2.1-.9-1.4-1.2 2.2z" color="#3a71fd"/>
<path d="M114.8 398.1l1.2-2.1-.9-1.3-1.2 2.2z" color="#4365fc"/>
<path d="M113.6 400l1.2-1.9-.9-1.2-1.3 2z" color="#455ffb"/>
<path d="M112.4 401.8l1.2-1.8-1-1.1-1.2 1.9z" color="#4754f4"/>
<path d="M111.1 403.5l1.3-1.7-1-1-1.2 1.8z" color="#474ff1"/>
<path d="M109.9 405.1l1.2-1.6-.9-.9-1.2 1.7z" color="#4749ec"/>
<path d="M108.7 406.6l1.2-1.5-.9-.8-1.2 1.5z" color="#4744e5"/>
<path d="M107.5 408l1.2-1.4-.9-.8-1.3 1.5z" color="#463fdf"/>
<path d="M106.3 409.3l1.2-1.3-1-.7-1.2 1.4z" color="#4539d8"/>
<path d="M105 410.5l1.3-1.2-1-.6-1.2 1.2z" color="#4434cf"/>
<path d="M103.8 411.6l1.2-1.1-.9-.6-1.2 1.1z" color="#4230c4"/>
<path d="M101.4 413.5l2.4-1.9-.9-.6-2.5 2z" color="#402cb9"/>
<path d="M90.4 416.8l3.6-.1 2.5-.7 2.4-1 2.5-1.5-1-.5-2.4 1.5-2.4 1.1-2.5 .6-3.7 .1z" color="#3f28ae"/>
<path d="M87.9 416.5l2.5 .3-1-.5-2.4-.4z" color="#402cb9"/>
<path d="M86.7 416.1l1.2 .4-.9-.6-1.2-.4z" color="#4230c4"/>
<path d="M84.3 415.1l2.4 1-.9-.6-2.5-1.2z" color="#4434cf"/>
<path d="M83 414.4l1.3 .7-1-.8-1.2-.7z" color="#4539d8"/>
<path d="M81.8 413.6l1.2 .8-.9-.8-1.2-.8z" color="#463fdf"/>
<path d="M80.6 412.8l1.2 .8-.9-.8-1.2-1z" color="#4744e5"/>
<path d="M79.4 411.8l1.2 1-.9-1-1.3-1z" color="#474ff1"/>
<path d="M78.2 410.7l1.2 1.1-1-1-1.2-1.2z" color="#4754f4"/>
<path d="M76.9 409.5l1.3 1.2-1-1.1-1.2-1.2z" color="#465af7"/>
<path d="M75.7 408.3l1.2 1.2-.9-1.1-1.2-1.4z" color="#4365fc"/>
<path d="M74.5 406.9l1.2 1.4-.9-1.3-1.2-1.5z" color="#3f6bfc"/>
<path d="M73.3 405.4l1.2 1.5-.9-1.4-1.3-1.6z" color="#3677fd"/>
<path d="M72.1 403.8l1.2 1.6-1-1.5-1.2-1.7z" color="#3182f8"/>
<path d="M70.8 402.1l1.3 1.7-1-1.6-1.2-1.9z" color="#2d8df1"/>
<path d="M69.6 400.3l1.2 1.8-.9-1.8-1.2-1.9z" color="#2897eb"/>
<path d="M68.4 398.4l1.2 1.9-.9-1.9-1.2-2z" color="#22a1e5"/>
<path d="M67.2 396.4l1.2 2-.9-2-1.3-2.2z" color="#19a9dd"/>
<path d="M66 394.3l1.2 2.1-1-2.2-1.2-2.2z" color="#0eb1d5"/>
<path d="M64.7 392l1.2 2.3-.9-2.3-1.2-2.4z" color="#10bac3"/>
<path d="M63.5 389.7l1.2 2.3-.9-2.4-1.2-2.5z" color="#17bfb5"/>
<path d="M62.3 387.3l1.2 2.4-.9-2.6-1.3-2.6z" color="#2fc69f"/>
<path d="M61.1 384.8l1.2 2.5-1-2.8-1.2-2.7z" color="#4dca84"/>
<path d="M59.8 382.2l1.3 2.6-1-3-1.2-2.8z" color="#62cc71"/>
<path d="M58.6 379.4l1.2 2.8-.9-3.2-1.2-2.9z" color="#8dca50"/>
<path d="M57.4 376.6l1.2 2.8-.9-3.3-1.2-3z" color="#b5c436"/>
<path d="M56.2 373.6l1.2 3-.9-3.5-1.3-3.2z" color="#d8be2e"/>
<path d="M55 370.6l1.2 3-1-3.7-1.2-3.2z" color="#f4bb39"/>
<path d="M53.7 367.5l1.3 3.1-1-3.9-1.2-3.4zM139 346l1.2-3.8-1-4.3-1.2 4z" color="#fdcd32"/>
<path d="M137.7 349.7l1.2-3.7-.9-4.1-1.2 3.9z" color="#f6bf37"/>
<path d="M136.5 353.2l1.2-3.5-.9-3.9-1.2 3.8z" color="#e2bd32"/>
<path d="M135.3 356.7l1.2-3.5-.9-3.6-1.2 3.7z" color="#c2c22e"/>
<path d="M134.1 360.1l1.2-3.4-.9-3.4-1.3 3.5z" color="#9ac946"/>
<path d="M132.8 363.4l1.3-3.3-1-3.3-1.2 3.5z" color="#71cc66"/>
<path d="M131.6 366.6l1.2-3.2-.9-3.1-1.2 3.4z" color="#57cc7b"/>
<path d="M130.4 369.7l1.2-3.1-.9-2.9-1.2 3.2z" color="#38c897"/>
<path d="M129.2 372.7l1.2-3-.9-2.8-1.3 3.2z" color="#1fc1ae"/>
<path d="M128 375.6l1.2-2.9-1-2.6-1.2 3.1z" color="#12bdbc"/>
<path d="M126.7 378.4l1.3-2.8-1-2.4-1.2 2.9z" color="#0eb7c9"/>
<path d="M125.5 381.1l1.2-2.7-.9-2.3-1.2 2.9z" color="#14add9"/>
<path d="M124.3 383.7l1.2-2.6-.9-2.1-1.2 2.7z" color="#1fa5e1"/>
<path d="M123.1 386.2l1.2-2.5-.9-2-1.3 2.7z" color="#259ce8"/>
<path d="M121.8 388.7l1.3-2.5-1-1.8-1.2 2.5z" color="#2b92ee"/>
<path d="M120.6 391l1.3-2.3-1-1.8-1.2 2.5z" color="#2f88f5"/>
<path d="M119.4 393.2l1.2-2.2-.9-1.6-1.2 2.3z" color="#327dfb"/>
<path d="M118.2 395.3l1.2-2.1-.9-1.5-1.3 2.2z" color="#3677fd"/>
<path d="M117 397.3l1.2-2-1-1.4-1.2 2.1z" color="#3f6bfc"/>
<path d="M115.7 399.3l1.3-2-1-1.3-1.2 2.1z" color="#4365fc"/>
<path d="M114.5 401.1l1.2-1.8-.9-1.2-1.2 1.9z" color="#465af7"/>
<path d="M113.3 402.8l1.2-1.7-.9-1.1-1.2 1.8z" color="#4754f4"/>
<path d="M112.1 404.5l1.2-1.7-.9-1-1.3 1.7z" color="#4749ec"/>
<path d="M110.9 406l1.2-1.5-1-1-1.2 1.6z" color="#4744e5"/>
<path d="M109.6 407.4l1.3-1.4-1-.9-1.2 1.5z" color="#463fdf"/>
<path d="M108.4 408.8l1.2-1.4-.9-.8-1.2 1.4z" color="#4539d8"/>
<path d="M106 411.2l2.4-2.4-.9-.8-2.5 2.5z" color="#4434cf"/>
<path d="M104.8 412.2l1.2-1-1-.7-1.2 1.1z" color="#4230c4"/>
<path d="M102.3 414l2.5-1.8-1-.6-2.4 1.9z" color="#402cb9"/>
<path d="M91.3 417.4l3.7-.3 2.4-.6 2.5-1 2.4-1.5-.9-.5-2.5 1.5-2.4 1-2.5 .7-3.6 .1z" color="#3f28ae"/>
<path d="M88.9 417l2.4 .4-.9-.6-2.5-.3z" color="#402cb9"/>
<path d="M86.4 416.3l2.5 .7-1-.5-2.4-.9z" color="#4230c4"/>
<path d="M85.2 415.8l1.2 .5-.9-.7-1.2-.5z" color="#4434cf"/>
<path d="M84 415.2l1.2 .6-.9-.7-1.2-.7z" color="#4539d8"/>
<path d="M82.8 414.5l1.2 .7-1-.8-1.2-.8z" color="#463fdf"/>
<path d="M81.5 413.7l1.3 .8-1-.9-1.2-.8z" color="#4744e5"/>
<path d="M80.3 412.8l1.2 .9-.9-.9-1.2-1z" color="#4749ec"/>
<path d="M79.1 411.8l1.2 1-.9-1-1.2-1.1z" color="#474ff1"/>
<path d="M77.9 410.7l1.2 1.1-.9-1.1-1.3-1.2z" color="#465af7"/>
<path d="M75.4 408.2l1.3 1.3-1-1.2-1.2-1.4z" color="#3f6bfc"/>
<path d="M74.2 406.9l1.2 1.3-.9-1.3-1.2-1.5z" color="#3a71fd"/>
<path d="M73 405.4l1.2 1.5-.9-1.5-1.2-1.6z" color="#327dfb"/>
<path d="M71.8 403.8l1.2 1.6-.9-1.6-1.3-1.7z" color="#2f88f5"/>
<path d="M70.6 402.1l1.2 1.7-1-1.7-1.2-1.8z" color="#2b92ee"/>
<path d="M69.3 400.3l1.2 1.8-.9-1.8-1.2-1.9z" color="#259ce8"/>
<path d="M68.1 398.5l1.2 1.8-.9-1.9-1.2-2z" color="#1fa5e1"/>
<path d="M66.9 396.5l1.2 2-.9-2.1-1.2-2.1z" color="#14add9"/>
<path d="M65.7 394.4l1.2 2.1-1-2.2-1.2-2.3z" color="#0cb5d0"/>
<path d="M64.4 392.3l1.3 2.1-1-2.4-1.2-2.3z" color="#10bac3"/>
<path d="M63.2 390l1.2 2.3-.9-2.6-1.2-2.4z" color="#1fc1ae"/>
<path d="M62 387.7l1.2 2.3-.9-2.7-1.2-2.5z" color="#2fc69f"/>
<path d="M60.8 385.2l1.2 2.5-.9-2.9-1.3-2.6z" color="#4dca84"/>
<path d="M59.6 382.7l1.2 2.5-1-3-1.2-2.8z" color="#71cc66"/>
<path d="M58.3 380l1.3 2.7-1-3.3-1.2-2.8z" color="#9ac946"/>
<path d="M57.1 377.3l1.2 2.7-.9-3.4-1.2-3z" color="#b5c436"/>
<path d="M55.9 374.4l1.2 2.9-.9-3.7-1.2-3z" color="#d8be2e"/>
<path d="M54.7 371.5l1.2 2.9-.9-3.8-1.3-3.1z" color="#f4bb39"/>
<path d="M139.9 349.9l1.2-3.5-.9-4.2-1.2 3.8z" color="#f6bf37"/>
<path d="M138.7 353.4l1.2-3.5-.9-3.9-1.3 3.7z" color="#e2bd32"/>
<path d="M137.4 356.8l1.3-3.4-1-3.7-1.2 3.5z" color="#c2c22e"/>
<path d="M136.2 360.1l1.2-3.3-.9-3.6-1.2 3.5z" color="#9ac946"/>
<path d="M135 363.3l1.2-3.2-.9-3.4-1.2 3.4z" color="#7fcb5b"/>
<path d="M133.8 366.4l1.2-3.1-.9-3.2-1.3 3.3z" color="#57cc7b"/>
<path d="M132.6 369.5l1.2-3.1-1-3-1.2 3.2z" color="#38c897"/>
<path d="M131.3 372.4l1.3-2.9-1-2.9-1.2 3.1z" color="#27c4a7"/>
<path d="M130.1 375.2l1.2-2.8-.9-2.7-1.2 3z" color="#12bdbc"/>
<path d="M128.9 378l1.2-2.8-.9-2.5-1.2 2.9z" color="#0eb7c9"/>
<path d="M127.7 380.6l1.2-2.6-.9-2.4-1.3 2.8z" color="#0eb1d5"/>
<path d="M126.4 383.2l1.3-2.6-1-2.2-1.2 2.7z" color="#19a9dd"/>
<path d="M125.2 385.7l1.2-2.5-.9-2.1-1.2 2.6z" color="#22a1e5"/>
<path d="M124 388.1l1.2-2.4-.9-2-1.2 2.5z" color="#2897eb"/>
<path d="M122.8 390.4l1.2-2.3-.9-1.9-1.2 2.5z" color="#2d8df1"/>
<path d="M121.6 392.6l1.2-2.2-.9-1.7-1.3 2.3z" color="#3182f8"/>
<path d="M120.3 394.7l1.3-2.1-1-1.6-1.2 2.2z" color="#3677fd"/>
<path d="M119.1 396.7l1.2-2-.9-1.5-1.2 2.1z" color="#3a71fd"/>
<path d="M117.9 398.6l1.2-1.9-.9-1.4-1.2 2z" color="#4365fc"/>
<path d="M116.7 400.4l1.2-1.8-.9-1.3-1.3 2z" color="#455ffb"/>
<path d="M115.5 402.2l1.2-1.8-1-1.1-1.2 1.8z" color="#4754f4"/>
<path d="M114.2 403.8l1.3-1.6-1-1.1-1.2 1.7z" color="#474ff1"/>
<path d="M113 405.4l1.2-1.6-.9-1-1.2 1.7z" color="#4749ec"/>
<path d="M111.8 406.9l1.2-1.5-.9-.9-1.2 1.5z" color="#4744e5"/>
<path d="M110.6 408.2l1.2-1.3-.9-.9-1.3 1.4z" color="#463fdf"/>
<path d="M109.4 409.5l1.2-1.3-1-.8-1.2 1.4z" color="#4539d8"/>
<path d="M108.1 410.7l1.3-1.2-1-.7-1.2 1.2z" color="#4434cf"/>
<path d="M105.7 412.8l2.4-2.1-.9-.7-2.4 2.2z" color="#4230c4"/>
<path d="M103.2 414.6l2.5-1.8-.9-.6-2.5 1.8z" color="#402cb9"/>
<path d="M92.2 417.9l3.7-.3 2.5-.6 2.4-1 2.4-1.4-.9-.6-2.4 1.5-2.5 1-2.4 .6-3.7 .3z" color="#3f28ae"/>
<path d="M89.8 417.6l2.4 .3-.9-.5-2.4-.4z" color="#402cb9"/>
<path d="M87.4 417l2.4 .6-.9-.6-2.5-.7z" color="#4230c4"/>
<path d="M86.1 416.5l1.3 .5-1-.7-1.2-.5z" color="#4434cf"/>
<path d="M84.9 416l1.2 .5-.9-.7-1.2-.6z" color="#4539d8"/>
<path d="M83.7 415.3l1.2 .7-.9-.8-1.2-.7z" color="#463fdf"/>
<path d="M82.5 414.6l1.2 .7-.9-.8-1.3-.8z" color="#4744e5"/>
<path d="M81.3 413.8l1.2 .8-1-.9-1.2-.9z" color="#4749ec"/>
<path d="M80 412.9l1.3 .9-1-1-1.2-1z" color="#474ff1"/>
<path d="M78.8 411.9l1.2 1-.9-1.1-1.2-1.1z" color="#4754f4"/>
<path d="M77.6 410.8l1.2 1.1-.9-1.2-1.2-1.2z" color="#465af7"/>
<path d="M76.4 409.6l1.2 1.2-.9-1.3-1.3-1.3z" color="#4365fc"/>
<path d="M75.1 408.3l1.3 1.3-1-1.4-1.2-1.3z" color="#3f6bfc"/>
<path d="M73.9 406.9l1.2 1.4-.9-1.4-1.2-1.5z" color="#3677fd"/>
<path d="M72.7 405.5l1.2 1.4-.9-1.5-1.2-1.6z" color="#3182f8"/>
<path d="M71.5 403.9l1.2 1.6-.9-1.7-1.2-1.7z" color="#2f88f5"/>
<path d="M70.3 402.3l1.2 1.6-1-1.8-1.2-1.8z" color="#2b92ee"/>
<path d="M69 400.5l1.3 1.8-1-2-1.2-1.8z" color="#259ce8"/>
<path d="M67.8 398.7l1.2 1.8-.9-2-1.2-2z" color="#1fa5e1"/>
<path d="M66.6 396.8l1.2 1.9-.9-2.2-1.2-2.1z" color="#14add9"/>
<path d="M65.4 394.8l1.2 2-.9-2.4-1.3-2.1z" color="#0eb7c9"/>
<path d="M64.2 392.7l1.2 2.1-1-2.5-1.2-2.3z" color="#12bdbc"/>
<path d="M62.9 390.5l1.3 2.2-1-2.7-1.2-2.3z" color="#1fc1ae"/>
<path d="M61.7 388.2l1.2 2.3-.9-2.8-1.2-2.5z" color="#38c897"/>
<path d="M60.5 385.8l1.2 2.4-.9-3-1.2-2.5z" color="#4dca84"/>
<path d="M59.3 383.3l1.2 2.5-.9-3.1-1.3-2.7z" color="#71cc66"/>
<path d="M58 380.8l1.3 2.5-1-3.3-1.2-2.7z" color="#9ac946"/>
<path d="M56.8 378.1l1.2 2.7-.9-3.5-1.2-2.9z" color="#b5c436"/>
<path d="M55.6 375.4l1.2 2.7-.9-3.7-1.2-2.9z" color="#d8be2e"/>
<path d="M140.8 353.8l1.2-3.4-.9-4-1.2 3.5z" color="#e2bd32"/>
<path d="M139.6 357.1l1.2-3.3-.9-3.9-1.2 3.5z" color="#c2c22e"/>
<path d="M138.4 360.3l1.2-3.2-.9-3.7-1.3 3.4z" color="#9ac946"/>
<path d="M137.2 363.4l1.2-3.1-1-3.5-1.2 3.3z" color="#7fcb5b"/>
<path d="M135.9 366.4l1.3-3-1-3.3-1.2 3.2z" color="#57cc7b"/>
<path d="M134.7 369.4l1.2-3-.9-3.1-1.2 3.1z" color="#42c98e"/>
<path d="M133.5 372.2l1.2-2.8-.9-3-1.2 3.1z" color="#27c4a7"/>
<path d="M132.3 375l1.2-2.8-.9-2.7-1.3 2.9z" color="#17bfb5"/>
<path d="M131 377.7l1.3-2.7-1-2.6-1.2 2.8z" color="#10bac3"/>
<path d="M129.8 380.3l1.2-2.6-.9-2.5-1.2 2.8z" color="#0eb1d5"/>
<path d="M128.6 382.8l1.2-2.5-.9-2.3-1.2 2.6z" color="#19a9dd"/>
<path d="M127.4 385.2l1.2-2.4-.9-2.2-1.2 2.6z" color="#22a1e5"/>
<path d="M126.2 387.6l1.2-2.4-1-2-1.2 2.5z" color="#2897eb"/>
<path d="M124.9 389.8l1.3-2.2-1-1.9-1.2 2.4z" color="#2b92ee"/>
<path d="M123.7 392l1.2-2.2-.9-1.7-1.2 2.3z" color="#2f88f5"/>
<path d="M122.5 394.1l1.2-2.1-.9-1.6-1.2 2.2z" color="#327dfb"/>
<path d="M121.3 396.1l1.2-2-.9-1.5-1.3 2.1z" color="#3a71fd"/>
<path d="M120.1 398l1.2-1.9-1-1.4-1.2 2z" color="#3f6bfc"/>
<path d="M118.8 399.9l1.3-1.9-1-1.3-1.2 1.9z" color="#455ffb"/>
<path d="M117.6 401.6l1.2-1.7-.9-1.3-1.2 1.8z" color="#465af7"/>
<path d="M116.4 403.3l1.2-1.7-.9-1.2-1.2 1.8z" color="#4754f4"/>
<path d="M115.2 404.8l1.2-1.5-.9-1.1-1.3 1.6z" color="#474ff1"/>
<path d="M114 406.3l1.2-1.5-1-1-1.2 1.6z" color="#4749ec"/>
<path d="M112.7 407.7l1.2-1.4-.9-.9-1.2 1.5z" color="#4744e5"/>
<path d="M111.5 409l1.2-1.3-.9-.8-1.2 1.3z" color="#463fdf"/>
<path d="M110.3 410.3l1.2-1.3-.9-.8-1.2 1.3z" color="#4539d8"/>
<path d="M109.1 411.4l1.2-1.1-.9-.8-1.3 1.2z" color="#4434cf"/>
<path d="M106.6 413.4l2.5-2-1-.7-2.4 2.1z" color="#4230c4"/>
<path d="M104.2 415.1l2.4-1.7-.9-.6-2.5 1.8z" color="#402cb9"/>
<path d="M92 418.3l2.4 .1 3.7-.6 2.4-.8 3.7-1.9-1-.5-3.6 1.9-2.5 .8-3.6 .6-2.5-.1z" color="#3f28ae"/>
<path d="M89.5 418l2.5 .3-1-.5-2.4-.5z" color="#402cb9"/>
<path d="M88.3 417.6l1.2 .4-.9-.7-1.2-.3z" color="#4230c4"/>
<path d="M87.1 417.2l1.2 .4-.9-.6-1.3-.5z" color="#4434cf"/>
<path d="M84.6 416.2l2.5 1-1-.7-2.4-1.2z" color="#4539d8"/>
<path d="M83.4 415.5l1.2 .7-.9-.9-1.2-.7z" color="#463fdf"/>
<path d="M82.2 414.8l1.2 .7-.9-.9-1.2-.8z" color="#4744e5"/>
<path d="M81 413.9l1.2 .9-.9-1-1.3-.9z" color="#4749ec"/>
<path d="M79.8 413l1.2 .9-1-1-1.2-1z" color="#4754f4"/>
<path d="M78.5 412l1.3 1-1-1.1-1.2-1.1z" color="#465af7"/>
<path d="M77.3 410.9l1.2 1.1-.9-1.2-1.2-1.2z" color="#455ffb"/>
<path d="M76.1 409.7l1.2 1.2-.9-1.3-1.2-1.3z" color="#3f6bfc"/>
<path d="M74.9 408.5l1.2 1.2-1-1.4-1.2-1.4z" color="#3a71fd"/>
<path d="M73.6 407.1l1.3 1.4-1-1.6-1.2-1.4z" color="#327dfb"/>
<path d="M72.4 405.7l1.2 1.4-.9-1.6-1.2-1.6z" color="#3182f8"/>
<path d="M71.2 404.1l1.2 1.6-.9-1.8-1.2-1.6z" color="#2d8df1"/>
<path d="M70 402.5l1.2 1.6-.9-1.8-1.3-1.8z" color="#2897eb"/>
<path d="M68.8 400.8l1.2 1.7-1-2-1.2-1.8z" color="#22a1e5"/>
<path d="M67.5 399.1l1.3 1.7-1-2.1-1.2-1.9z" color="#19a9dd"/>
<path d="M66.3 397.2l1.2 1.9-.9-2.3-1.2-2z" color="#0eb1d5"/>
<path d="M65.1 395.2l1.2 2-.9-2.4-1.2-2.1z" color="#0eb7c9"/>
<path d="M63.9 393.2l1.2 2-.9-2.5-1.3-2.2z" color="#12bdbc"/>
<path d="M62.6 391.1l1.3 2.1-1-2.7-1.2-2.3z" color="#27c4a7"/>
<path d="M61.4 388.9l1.3 2.2-1-2.9-1.2-2.4z" color="#38c897"/>
<path d="M60.2 386.6l1.2 2.3-.9-3.1-1.2-2.5z" color="#4dca84"/>
<path d="M59 384.2l1.2 2.4-.9-3.3-1.3-2.5z" color="#71cc66"/>
<path d="M57.8 381.7l1.2 2.5-1-3.4-1.2-2.7z" color="#9ac946"/>
<path d="M56.5 379.2l1.3 2.5-1-3.6-1.2-2.7z" color="#b5c436"/>
<path d="M141.8 357.5l1.2-3.2-1-3.9-1.2 3.4z" color="#c2c22e"/>
<path d="M140.5 360.6l1.3-3.1-1-3.7-1.2 3.3z" color="#9ac946"/>
<path d="M139.3 363.6l1.2-3-.9-3.5-1.2 3.2z" color="#7fcb5b"/>
<path d="M138.1 366.6l1.2-3-.9-3.3-1.2 3.1z" color="#57cc7b"/>
<path d="M136.9 369.4l1.2-2.8-.9-3.2-1.3 3z" color="#42c98e"/>
<path d="M135.6 372.2l1.3-2.8-1-3-1.2 3z" color="#27c4a7"/>
<path d="M134.4 374.9l1.2-2.7-.9-2.8-1.2 2.8z" color="#17bfb5"/>
<path d="M133.2 377.5l1.2-2.6-.9-2.7-1.2 2.8z" color="#10bac3"/>
<path d="M132 380.1l1.2-2.6-.9-2.5-1.2 2.7z" color="#0cb5d0"/>
<path d="M130.8 382.5l1.2-2.4-.9-2.4-1.3 2.6z" color="#14add9"/>
<path d="M129.5 384.9l1.3-2.4-1-2.2-1.2 2.5z" color="#1fa5e1"/>
<path d="M128.3 387.2l1.2-2.3-.9-2.1-1.2 2.4z" color="#259ce8"/>
<path d="M127.1 389.4l1.2-2.2-.9-2-1.2 2.4z" color="#2b92ee"/>
<path d="M125.9 391.6l1.2-2.2-.9-1.8-1.3 2.2z" color="#2f88f5"/>
<path d="M124.7 393.6l1.2-2-1-1.8-1.2 2.2z" color="#3182f8"/>
<path d="M123.4 395.6l1.3-2-1-1.6-1.2 2.1z" color="#3677fd"/>
<path d="M122.2 397.5l1.2-1.9-.9-1.5-1.2 2z" color="#3a71fd"/>
<path d="M121 399.3l1.2-1.8-.9-1.4-1.2 1.9z" color="#4365fc"/>
<path d="M119.8 401.1l1.2-1.8-.9-1.3-1.3 1.9z" color="#455ffb"/>
<path d="M116.1 405.8l1.2-1.5-.9-1-1.2 1.5z" color="#4749ec"/>
<path d="M114.9 407.2l1.2-1.4-.9-1-1.2 1.5z" color="#4744e5"/>
<path d="M113.7 408.5l1.2-1.3-1-.9-1.2 1.4z" color="#463fdf"/>
<path d="M112.4 409.8l1.3-1.3-1-.8-1.2 1.3z" color="#4539d8"/>
<path d="M110 412.1l2.4-2.3-.9-.8-2.4 2.4z" color="#4434cf"/>
<path d="M108.8 413.1l1.2-1-.9-.7-1.3 1z" color="#4230c4"/>
<path d="M105.1 415.6l3.7-2.5-1-.7-3.6 2.7z" color="#402cb9"/>
<path d="M92.9 418.9l2.4 0 3.7-.6 2.4-.9 3.7-1.8-.9-.5-3.7 1.9-2.4 .8-3.7 .6-2.4-.1z" color="#3f28ae"/>
<path d="M90.5 418.6l2.4 .3-.9-.6-2.5-.3z" color="#402cb9"/>
<path d="M89.2 418.3l1.3 .3-1-.6-1.2-.4z" color="#4230c4"/>
<path d="M86.8 417.5l2.4 .8-.9-.7-2.4-.9z" color="#4434cf"/>
<path d="M85.6 417l1.2 .5-.9-.8-1.3-.5z" color="#4539d8"/>
<path d="M84.4 416.4l1.2 .6-1-.8-1.2-.7z" color="#463fdf"/>
<path d="M83.1 415.7l1.3 .7-1-.9-1.2-.7z" color="#4744e5"/>
<path d="M81.9 415l1.2 .7-.9-.9-1.2-.9z" color="#4749ec"/>
<path d="M80.7 414.1l1.2 .9-.9-1.1-1.2-.9z" color="#474ff1"/>
<path d="M79.5 413.2l1.2 .9-.9-1.1-1.3-1z" color="#4754f4"/>
<path d="M78.2 412.2l1.3 1-1-1.2-1.2-1.1z" color="#465af7"/>
<path d="M77 411.1l1.2 1.1-.9-1.3-1.2-1.2z" color="#4365fc"/>
<path d="M75.8 409.9l1.2 1.2-.9-1.4-1.2-1.2z" color="#3f6bfc"/>
<path d="M74.6 408.7l1.2 1.2-.9-1.4-1.3-1.4z" color="#3677fd"/>
<path d="M73.4 407.4l1.2 1.3-1-1.6-1.2-1.4z" color="#327dfb"/>
<path d="M72.1 406l1.3 1.4-1-1.7-1.2-1.6z" color="#2f88f5"/>
<path d="M70.9 404.5l1.2 1.5-.9-1.9-1.2-1.6z" color="#2b92ee"/>
<path d="M69.7 402.9l1.2 1.6-.9-2-1.2-1.7z" color="#2897eb"/>
<path d="M68.5 401.3l1.2 1.6-.9-2.1-1.3-1.7z" color="#22a1e5"/>
<path d="M67.2 399.6l1.3 1.7-1-2.2-1.2-1.9z" color="#19a9dd"/>
<path d="M66 397.7l1.2 1.9-.9-2.4-1.2-2z" color="#0eb1d5"/>
<path d="M64.8 395.9l1.2 1.8-.9-2.5-1.2-2z" color="#0eb7c9"/>
<path d="M63.6 393.9l1.2 2-.9-2.7-1.2-2.1z" color="#12bdbc"/>
<path d="M62.4 391.8l1.2 2.1-.9-2.8-1.3-2.2z" color="#27c4a7"/>
<path d="M61.1 389.7l1.3 2.1-1-2.9-1.2-2.3z" color="#38c897"/>
<path d="M59.9 387.5l1.2 2.2-.9-3.1-1.2-2.4z" color="#4dca84"/>
<path d="M58.7 385.2l1.2 2.3-.9-3.3-1.2-2.5z" color="#71cc66"/>
<path d="M57.5 382.8l1.2 2.4-.9-3.5-1.3-2.5z" color="#8dca50"/>
<path d="M142.7 361.1l1.2-3-.9-3.8-1.2 3.2z" color="#9ac946"/>
<path d="M141.5 364.1l1.2-3-.9-3.6-1.3 3.1z" color="#71cc66"/>
<path d="M140.2 366.9l1.3-2.8-1-3.5-1.2 3z" color="#57cc7b"/>
<path d="M139 369.7l1.2-2.8-.9-3.3-1.2 3z" color="#38c897"/>
<path d="M137.8 372.4l1.2-2.7-.9-3.1-1.2 2.8z" color="#27c4a7"/>
<path d="M136.6 375l1.2-2.6-.9-3-1.2 2.8z" color="#17bfb5"/>
<path d="M135.4 377.6l1.2-2.6-1-2.8-1.2 2.7z" color="#10bac3"/>
<path d="M134.1 380l1.3-2.4-1-2.7-1.2 2.6z" color="#0cb5d0"/>
<path d="M132.9 382.4l1.2-2.4-.9-2.5-1.2 2.6z" color="#14add9"/>
<path d="M131.7 384.7l1.2-2.3-.9-2.3-1.2 2.4z" color="#1fa5e1"/>
<path d="M130.5 387l1.2-2.3-.9-2.2-1.3 2.4z" color="#259ce8"/>
<path d="M129.3 389.2l1.2-2.2-1-2.1-1.2 2.3z" color="#2b92ee"/>
<path d="M128 391.3l1.3-2.1-1-2-1.2 2.2z" color="#2d8df1"/>
<path d="M126.8 393.3l1.2-2-.9-1.9-1.2 2.2z" color="#3182f8"/>
<path d="M125.6 395.2l1.2-1.9-.9-1.7-1.2 2z" color="#3677fd"/>
<path d="M124.4 397.1l1.2-1.9-.9-1.6-1.3 2z" color="#3a71fd"/>
<path d="M123.2 398.9l1.2-1.8-1-1.5-1.2 1.9z" color="#3f6bfc"/>
<path d="M121.9 400.6l1.2-1.7-.9-1.4-1.2 1.8z" color="#455ffb"/>
<path d="M120.7 402.3l1.2-1.7-.9-1.3-1.2 1.8z" color="#465af7"/>
<path d="M114.6 409.4l1.2-1.3-.9-.9-1.2 1.3z" color="#463fdf"/>
<path d="M113.4 410.6l1.2-1.2-.9-.9-1.3 1.3z" color="#4539d8"/>
<path d="M112.2 411.7l1.2-1.1-1-.8-1.2 1.2z" color="#4434cf"/>
<path d="M109.7 413.7l2.5-2-1-.7-2.4 2.1z" color="#4230c4"/>
<path d="M107.3 415.4l2.4-1.7-.9-.6-2.5 1.8z" color="#402cb9"/>
<path d="M93.8 419.4l3.7-.2 3.7-.8 3.6-1.6 2.5-1.4-1-.5-2.4 1.4-3.7 1.6-3.6 .9-3.7 .1z" color="#3f28ae"/>
<path d="M91.4 419.2l2.4 .2-.9-.5-2.4-.3z" color="#402cb9"/>
<path d="M89 418.6l2.4 .6-.9-.6-2.5-.7z" color="#4230c4"/>
<path d="M87.7 418.3l1.2 .3-.9-.7-1.2-.4z" color="#4434cf"/>
<path d="M86.5 417.8l1.2 .5-.9-.8-1.2-.5z" color="#4539d8"/>
<path d="M84.1 416.6l2.4 1.2-.9-.8-2.5-1.3z" color="#463fdf"/>
<path d="M82.8 416l1.3 .6-1-.9-1.2-.7z" color="#4744e5"/>
<path d="M81.6 415.2l1.2 .8-.9-1-1.2-.9z" color="#4749ec"/>
<path d="M80.4 414.4l1.2 .8-.9-1.1-1.2-.9z" color="#4754f4"/>
<path d="M79.2 413.4l1.2 1-.9-1.2-1.3-1z" color="#465af7"/>
<path d="M78 412.5l1.2 .9-1-1.2-1.2-1.1z" color="#455ffb"/>
<path d="M76.7 411.4l1.3 1.1-1-1.4-1.2-1.2z" color="#4365fc"/>
<path d="M75.5 410.3l1.2 1.1-.9-1.5-1.2-1.2z" color="#3a71fd"/>
<path d="M74.3 409l1.2 1.3-.9-1.6-1.2-1.3z" color="#3677fd"/>
<path d="M73.1 407.8l1.2 1.2-.9-1.6-1.3-1.4z" color="#3182f8"/>
<path d="M71.8 406.4l1.3 1.4-1-1.8-1.2-1.5z" color="#2f88f5"/>
<path d="M70.6 405l1.2 1.4-.9-1.9-1.2-1.6z" color="#2b92ee"/>
<path d="M69.4 403.4l1.2 1.6-.9-2.1-1.2-1.6z" color="#259ce8"/>
<path d="M68.2 401.9l1.2 1.5-.9-2.1-1.3-1.7z" color="#22a1e5"/>
<path d="M67 400.2l1.2 1.7-1-2.3-1.2-1.9z" color="#19a9dd"/>
<path d="M65.7 398.4l1.3 1.8-1-2.5-1.2-1.8z" color="#0eb1d5"/>
<path d="M64.5 396.6l1.2 1.8-.9-2.5-1.2-2z" color="#0eb7c9"/>
<path d="M63.3 394.7l1.2 1.9-.9-2.7-1.2-2.1z" color="#12bdbc"/>
<path d="M62.1 392.8l1.2 1.9-.9-2.9-1.3-2.1z" color="#27c4a7"/>
<path d="M60.9 390.7l1.2 2.1-1-3.1-1.2-2.2z" color="#38c897"/>
<path d="M59.6 388.6l1.3 2.1-1-3.2-1.2-2.3z" color="#4dca84"/>
<path d="M58.4 386.4l1.2 2.2-.9-3.4-1.2-2.4zM143.6 364.7l1.3-2.9-1-3.7-1.2 3z" color="#71cc66"/>
<path d="M142.4 367.4l1.2-2.7-.9-3.6-1.2 3z" color="#4dca84"/>
<path d="M141.2 370.1l1.2-2.7-.9-3.3-1.2 2.8z" color="#38c897"/>
<path d="M140 372.7l1.2-2.6-.9-3.2-1.3 2.8z" color="#27c4a7"/>
<path d="M138.7 375.2l1.3-2.5-1-3-1.2 2.7z" color="#17bfb5"/>
<path d="M137.5 377.7l1.2-2.5-.9-2.8-1.2 2.6z" color="#10bac3"/>
<path d="M136.3 380.1l1.2-2.4-.9-2.7-1.2 2.6z" color="#0cb5d0"/>
<path d="M135.1 382.4l1.2-2.3-.9-2.5-1.3 2.4z" color="#14add9"/>
<path d="M133.9 384.7l1.2-2.3-1-2.4-1.2 2.4z" color="#1fa5e1"/>
<path d="M132.6 386.9l1.3-2.2-1-2.3-1.2 2.3z" color="#259ce8"/>
<path d="M131.4 389l1.2-2.1-.9-2.2-1.2 2.3z" color="#2897eb"/>
<path d="M130.2 391.1l1.2-2.1-.9-2-1.2 2.2z" color="#2d8df1"/>
<path d="M129 393l1.2-1.9-.9-1.9-1.3 2.1z" color="#3182f8"/>
<path d="M127.7 394.9l1.3-1.9-1-1.7-1.2 2z" color="#327dfb"/>
<path d="M126.5 396.8l1.2-1.9-.9-1.6-1.2 1.9z" color="#3a71fd"/>
<path d="M125.3 398.6l1.2-1.8-.9-1.6-1.2 1.9z" color="#3f6bfc"/>
<path d="M124.1 400.2l1.2-1.6-.9-1.5-1.2 1.8z" color="#4365fc"/>
<path d="M122.9 401.9l1.2-1.7-1-1.3-1.2 1.7z" color="#465af7"/>
<path d="M121.6 403.4l1.3-1.5-1-1.3-1.2 1.7z" color="#4754f4"/>
<path d="M120.4 404.9l1.2-1.5-.9-1.1-1.2 1.5z" color="#474ff1"/>
<path d="M113.1 412.4l1.2-1.1-.9-.7-1.2 1.1z" color="#4434cf"/>
<path d="M110.6 414.3l2.5-1.9-.9-.7-2.5 2z" color="#4230c4"/>
<path d="M108.2 415.9l2.4-1.6-.9-.6-2.4 1.7z" color="#402cb9"/>
<path d="M94.8 420l3.6-.3 3.7-.9 2.4-.9 3.7-2-.9-.5-2.5 1.4-3.6 1.6-3.7 .8-3.7 .2z" color="#3f28ae"/>
<path d="M92.3 419.8l2.5 .2-1-.6-2.4-.2z" color="#402cb9"/>
<path d="M89.9 419.3l2.4 .5-.9-.6-2.5-.6z" color="#4230c4"/>
<path d="M87.4 418.6l2.5 .7-1-.7-2.4-.8z" color="#4434cf"/>
<path d="M86.2 418.1l1.2 .5-.9-.8-1.2-.5z" color="#4539d8"/>
<path d="M85 417.6l1.2 .5-.9-.8-1.2-.7z" color="#463fdf"/>
<path d="M83.8 417l1.2 .6-.9-1-1.3-.6z" color="#4744e5"/>
<path d="M82.6 416.3l1.2 .7-1-1-1.2-.8z" color="#4749ec"/>
<path d="M81.3 415.5l1.3 .8-1-1.1-1.2-.8z" color="#474ff1"/>
<path d="M80.1 414.7l1.2 .8-.9-1.1-1.2-1z" color="#4754f4"/>
<path d="M78.9 413.8l1.2 .9-.9-1.3-1.2-.9z" color="#465af7"/>
<path d="M77.7 412.8l1.2 1-.9-1.3-1.3-1.1z" color="#455ffb"/>
<path d="M76.4 411.8l1.3 1-1-1.4-1.2-1.1z" color="#3f6bfc"/>
<path d="M75.2 410.7l1.2 1.1-.9-1.5-1.2-1.3z" color="#3a71fd"/>
<path d="M74 409.5l1.2 1.2-.9-1.7-1.2-1.2z" color="#327dfb"/>
<path d="M72.8 408.3l1.2 1.2-.9-1.7-1.3-1.4z" color="#3182f8"/>
<path d="M71.6 406.9l1.2 1.4-1-1.9-1.2-1.4z" color="#2d8df1"/>
<path d="M70.3 405.5l1.3 1.4-1-1.9-1.2-1.6z" color="#2b92ee"/>
<path d="M69.1 404.1l1.2 1.4-.9-2.1-1.2-1.5z" color="#259ce8"/>
<path d="M67.9 402.6l1.2 1.5-.9-2.2-1.2-1.7z" color="#1fa5e1"/>
<path d="M66.7 401l1.2 1.6-.9-2.4-1.3-1.8z" color="#19a9dd"/>
<path d="M65.5 399.3l1.2 1.7-1-2.6-1.2-1.8z" color="#0eb1d5"/>
<path d="M64.2 397.6l1.3 1.7-1-2.7-1.2-1.9z" color="#0eb7c9"/>
<path d="M63 395.8l1.2 1.8-.9-2.9-1.2-1.9z" color="#12bdbc"/>
<path d="M61.8 393.9l1.2 1.9-.9-3-1.2-2.1z" color="#1fc1ae"/>
<path d="M60.6 391.9l1.2 2-.9-3.2-1.3-2.1z" color="#38c897"/>
<path d="M59.4 389.9l1.2 2-1-3.3-1.2-2.2zM144.6 368.1l1.2-2.7-.9-3.6-1.3 2.9z" color="#4dca84"/>
<path d="M143.3 370.7l1.3-2.6-1-3.4-1.2 2.7z" color="#38c897"/>
<path d="M142.1 373.2l1.2-2.5-.9-3.3-1.2 2.7z" color="#27c4a7"/>
<path d="M140.9 375.6l1.2-2.4-.9-3.1-1.2 2.6z" color="#17bfb5"/>
<path d="M139.7 378l1.2-2.4-.9-2.9-1.3 2.5z" color="#10bac3"/>
<path d="M138.5 380.3l1.2-2.3-1-2.8-1.2 2.5z" color="#0cb5d0"/>
<path d="M137.2 382.6l1.3-2.3-1-2.6-1.2 2.4z" color="#14add9"/>
<path d="M136 384.8l1.2-2.2-.9-2.5-1.2 2.3z" color="#1fa5e1"/>
<path d="M134.8 386.9l1.2-2.1-.9-2.4-1.2 2.3z" color="#259ce8"/>
<path d="M133.6 389l1.2-2.1-.9-2.2-1.3 2.2z" color="#2897eb"/>
<path d="M132.4 391l1.2-2-1-2.1-1.2 2.1z" color="#2d8df1"/>
<path d="M131.1 392.9l1.2-1.9-.9-2-1.2 2.1z" color="#2f88f5"/>
<path d="M129.9 394.8l1.2-1.9-.9-1.8-1.2 1.9z" color="#327dfb"/>
<path d="M128.7 396.6l1.2-1.8-.9-1.8-1.2 1.9z" color="#3677fd"/>
<path d="M127.5 398.3l1.2-1.7-1-1.7-1.2 1.9z" color="#3f6bfc"/>
<path d="M126.2 400l1.3-1.7-1-1.5-1.2 1.8z" color="#4365fc"/>
<path d="M125 401.6l1.2-1.6-.9-1.4-1.2 1.6z" color="#455ffb"/>
<path d="M123.8 403.1l1.2-1.5-.9-1.4-1.2 1.7z" color="#465af7"/>
<path d="M122.6 404.6l1.2-1.5-.9-1.2-1.3 1.5z" color="#4754f4"/>
<path d="M121.4 406l1.2-1.4-1-1.2-1.2 1.5z" color="#474ff1"/>
<path d="M111.6 414.9l2.4-1.8-.9-.7-2.5 1.9z" color="#4230c4"/>
<path d="M109.1 416.5l2.5-1.6-1-.6-2.4 1.6z" color="#402cb9"/>
<path d="M95.7 420.5l3.7-.3 3.6-.9 3.7-1.5 2.4-1.3-.9-.6-3.7 2-2.4 .9-3.7 .9-3.6 .3z" color="#3f28ae"/>
<path d="M92 420.2l3.7 .3-.9-.5-3.7-.4z" color="#402cb9"/>
<path d="M90.8 420l1.2 .2-.9-.6-1.2-.3z" color="#4230c4"/>
<path d="M88.4 419.4l2.4 .6-.9-.7-2.5-.7z" color="#4434cf"/>
<path d="M87.2 419l1.2 .4-1-.8-1.2-.5z" color="#4539d8"/>
<path d="M85.9 418.5l1.3 .5-1-.9-1.2-.5z" color="#463fdf"/>
<path d="M83.5 417.3l2.4 1.2-.9-.9-2.4-1.3z" color="#4744e5"/>
<path d="M82.3 416.6l1.2 .7-.9-1-1.3-.8z" color="#4749ec"/>
<path d="M81.1 415.9l1.2 .7-1-1.1-1.2-.8z" color="#474ff1"/>
<path d="M79.8 415.1l1.3 .8-1-1.2-1.2-.9z" color="#4754f4"/>
<path d="M78.6 414.2l1.2 .9-.9-1.3-1.2-1z" color="#455ffb"/>
<path d="M77.4 413.3l1.2 .9-.9-1.4-1.2-1z" color="#4365fc"/>
<path d="M76.2 412.3l1.2 1-1-1.5-1.2-1.1z" color="#3f6bfc"/>
<path d="M74.9 411.2l1.3 1.1-1-1.6-1.2-1.2z" color="#3a71fd"/>
<path d="M73.7 410.1l1.2 1.1-.9-1.7-1.2-1.2z" color="#327dfb"/>
<path d="M72.5 408.9l1.2 1.2-.9-1.8-1.2-1.4z" color="#3182f8"/>
<path d="M71.3 407.6l1.2 1.3-.9-2-1.3-1.4z" color="#2d8df1"/>
<path d="M70.1 406.3l1.2 1.3-1-2.1-1.2-1.4z" color="#2b92ee"/>
<path d="M68.8 404.9l1.3 1.4-1-2.2-1.2-1.5z" color="#259ce8"/>
<path d="M67.6 403.4l1.2 1.5-.9-2.3-1.2-1.6z" color="#1fa5e1"/>
<path d="M66.4 401.9l1.2 1.5-.9-2.4-1.2-1.7z" color="#19a9dd"/>
<path d="M65.2 400.3l1.2 1.6-.9-2.6-1.3-1.7z" color="#0eb1d5"/>
<path d="M64 398.6l1.2 1.7-1-2.7-1.2-1.8z" color="#0eb7c9"/>
<path d="M62.7 396.9l1.2 1.7-.9-2.8-1.2-1.9z" color="#12bdbc"/>
<path d="M61.5 395.1l1.2 1.8-.9-3-1.2-2z" color="#1fc1ae"/>
<path d="M60.3 393.3l1.2 1.8-.9-3.2-1.3-2zM145.5 371.4l1.2-2.5-.9-3.5-1.2 2.7z" color="#2fc69f"/>
<path d="M144.3 373.8l1.2-2.4-.9-3.3-1.3 2.6z" color="#1fc1ae"/>
<path d="M143.1 376.2l1.2-2.4-1-3.1-1.2 2.5z" color="#12bdbc"/>
<path d="M141.8 378.5l1.3-2.3-1-3-1.2 2.4z" color="#0eb7c9"/>
<path d="M140.6 380.7l1.2-2.2-.9-2.9-1.2 2.4z" color="#0cb5d0"/>
<path d="M139.4 382.9l1.2-2.2-.9-2.7-1.2 2.3z" color="#14add9"/>
<path d="M138.2 385l1.2-2.1-.9-2.6-1.3 2.3z" color="#1fa5e1"/>
<path d="M137 387.1l1.2-2.1-1-2.4-1.2 2.2z" color="#259ce8"/>
<path d="M135.7 389.1l1.2-2-.9-2.3-1.2 2.1z" color="#2897eb"/>
<path d="M134.5 391l1.2-1.9-.9-2.2-1.2 2.1z" color="#2d8df1"/>
<path d="M133.3 392.9l1.2-1.9-.9-2-1.2 2z" color="#2f88f5"/>
<path d="M132.1 394.7l1.2-1.8-.9-1.9-1.3 1.9z" color="#327dfb"/>
<path d="M130.8 396.4l1.3-1.7-1-1.8-1.2 1.9z" color="#3677fd"/>
<path d="M129.6 398.1l1.2-1.7-.9-1.6-1.2 1.8z" color="#3a71fd"/>
<path d="M128.4 399.8l1.2-1.7-.9-1.5-1.2 1.7z" color="#4365fc"/>
<path d="M127.2 401.3l1.2-1.5-.9-1.5-1.3 1.7z" color="#455ffb"/>
<path d="M126 402.9l1.2-1.6-1-1.3-1.2 1.6z" color="#465af7"/>
<path d="M124.7 404.3l1.3-1.4-1-1.3-1.2 1.5z" color="#4754f4"/>
<path d="M123.5 405.7l1.2-1.4-.9-1.2-1.2 1.5z" color="#474ff1"/>
<path d="M122.3 407l1.2-1.3-.9-1.1-1.2 1.4z" color="#4749ec"/>
<path d="M110.1 417l3.6-2.3-.9-.7-3.7 2.5z" color="#402cb9"/>
<path d="M96.6 421l3.7-.3 3.7-.9 3.6-1.5 2.5-1.3-1-.5-2.4 1.3-3.7 1.5-3.6 .9-3.7 .3z" color="#3f28ae"/>
<path d="M93 420.9l3.6 .1-.9-.5-3.7-.3z" color="#402cb9"/>
<path d="M90.5 420.4l2.5 .5-1-.7-2.4-.5z" color="#4230c4"/>
<path d="M89.3 420.1l1.2 .3-.9-.7-1.2-.3z" color="#4434cf"/>
<path d="M86.9 419.4l2.4 .7-.9-.7-2.5-.9z" color="#4539d8"/>
<path d="M85.6 418.9l1.3 .5-1-.9-1.2-.6z" color="#463fdf"/>
<path d="M84.4 418.3l1.2 .6-.9-1-1.2-.6z" color="#4744e5"/>
<path d="M83.2 417.7l1.2 .6-.9-1-1.2-.7z" color="#4749ec"/>
<path d="M82 417.1l1.2 .6-.9-1.1-1.2-.7z" color="#474ff1"/>
<path d="M80.8 416.3l1.2 .8-.9-1.2-1.3-.8z" color="#4754f4"/>
<path d="M79.5 415.6l1.3 .7-1-1.2-1.2-.9z" color="#465af7"/>
<path d="M78.3 414.7l1.2 .9-.9-1.4-1.2-.9z" color="#455ffb"/>
<path d="M77.1 413.8l1.2 .9-.9-1.4-1.2-1z" color="#4365fc"/>
<path d="M75.9 412.8l1.2 1-.9-1.5-1.3-1.1z" color="#3f6bfc"/>
<path d="M74.7 411.8l1.2 1-1-1.6-1.2-1.1z" color="#3677fd"/>
<path d="M73.4 410.7l1.3 1.1-1-1.7-1.2-1.2z" color="#327dfb"/>
<path d="M72.2 409.6l1.2 1.1-.9-1.8-1.2-1.3z" color="#3182f8"/>
<path d="M71 408.4l1.2 1.2-.9-2-1.2-1.3z" color="#2d8df1"/>
<path d="M69.8 407.1l1.2 1.3-.9-2.1-1.3-1.4z" color="#2b92ee"/>
<path d="M68.6 405.8l1.2 1.3-1-2.2-1.2-1.5z" color="#259ce8"/>
<path d="M67.3 404.4l1.2 1.4-.9-2.4-1.2-1.5z" color="#1fa5e1"/>
<path d="M66.1 402.9l1.2 1.5-.9-2.5-1.2-1.6z" color="#19a9dd"/>
<path d="M64.9 401.4l1.2 1.5-.9-2.6-1.2-1.7z" color="#0eb1d5"/>
<path d="M63.7 399.9l1.2 1.5-1-2.8-1.2-1.7z" color="#0eb7c9"/>
<path d="M62.4 398.2l1.3 1.7-1-3-1.2-1.8z" color="#12bdbc"/>
<path d="M61.2 396.5l1.2 1.7-.9-3.1-1.2-1.8zM146.4 374.6l1.3-2.3-1-3.4-1.2 2.5z" color="#1fc1ae"/>
<path d="M145.2 376.8l1.2-2.2-.9-3.2-1.2 2.4z" color="#12bdbc"/>
<path d="M144 379.1l1.2-2.3-.9-3-1.2 2.4z" color="#0eb7c9"/>
<path d="M142.8 381.2l1.2-2.1-.9-2.9-1.3 2.3z" color="#0eb1d5"/>
<path d="M141.5 383.3l1.3-2.1-1-2.7-1.2 2.2z" color="#19a9dd"/>
<path d="M140.3 385.3l1.2-2-.9-2.6-1.2 2.2z" color="#1fa5e1"/>
<path d="M139.1 387.3l1.2-2-.9-2.4-1.2 2.1z" color="#259ce8"/>
<path d="M137.9 389.3l1.2-2-.9-2.3-1.2 2.1z" color="#2897eb"/>
<path d="M136.7 391.1l1.2-1.8-.9-2.2-1.3 2z" color="#2d8df1"/>
<path d="M135.4 393l1.3-1.9-1-2-1.2 1.9z" color="#2f88f5"/>
<path d="M134.2 394.7l1.2-1.7-.9-2-1.2 1.9z" color="#327dfb"/>
<path d="M133 396.4l1.2-1.7-.9-1.8-1.2 1.8z" color="#3677fd"/>
<path d="M131.8 398.1l1.2-1.7-.9-1.7-1.3 1.7z" color="#3a71fd"/>
<path d="M130.6 399.7l1.2-1.6-1-1.7-1.2 1.7z" color="#3f6bfc"/>
<path d="M129.3 401.2l1.3-1.5-1-1.6-1.2 1.7z" color="#455ffb"/>
<path d="M128.1 402.7l1.2-1.5-.9-1.4-1.2 1.5z" color="#465af7"/>
<path d="M126.9 404.1l1.2-1.4-.9-1.4-1.2 1.6z" color="#4754f4"/>
<path d="M125.7 405.5l1.2-1.4-.9-1.2-1.3 1.4z" color="#474ff1"/>
<path d="M124.4 406.8l1.3-1.3-1-1.2-1.2 1.4z" color="#4749ec"/>
<path d="M122 409.3l2.4-2.5-.9-1.1-2.4 2.6z" color="#4744e5"/>
<path d="M111 417.6l3.7-2.3-1-.6-3.6 2.3z" color="#402cb9"/>
<path d="M96.4 421.6l3.6-.3 3.7-.7 3.6-1.3 3.7-1.7-.9-.6-3.7 1.8-3.6 1.3-3.7 .8-3.7 .1z" color="#3f28ae"/>
<path d="M93.9 421.5l2.5 .1-1-.6-2.4-.1z" color="#402cb9"/>
<path d="M91.5 421.2l2.4 .3-.9-.6-2.5-.5z" color="#4230c4"/>
<path d="M89 420.6l2.5 .6-1-.8-2.4-.6z" color="#4434cf"/>
<path d="M87.8 420.2l1.2 .4-.9-.8-1.2-.4z" color="#4539d8"/>
<path d="M85.4 419.3l2.4 .9-.9-.8-2.5-1.1z" color="#463fdf"/>
<path d="M84.1 418.8l1.3 .5-1-1-1.2-.6z" color="#4744e5"/>
<path d="M82.9 418.2l1.2 .6-.9-1.1-1.2-.6z" color="#4749ec"/>
<path d="M81.7 417.6l1.2 .6-.9-1.1-1.2-.8z" color="#474ff1"/>
<path d="M80.5 416.9l1.2 .7-.9-1.3-1.3-.7z" color="#4754f4"/>
<path d="M79.3 416.1l1.2 .8-1-1.3-1.2-.9z" color="#465af7"/>
<path d="M78 415.3l1.3 .8-1-1.4-1.2-.9z" color="#455ffb"/>
<path d="M76.8 414.5l1.2 .8-.9-1.5-1.2-1z" color="#4365fc"/>
<path d="M75.6 413.5l1.2 1-.9-1.7-1.2-1z" color="#3a71fd"/>
<path d="M74.4 412.6l1.2 .9-.9-1.7-1.3-1.1z" color="#3677fd"/>
<path d="M73.2 411.5l1.2 1.1-1-1.9-1.2-1.1z" color="#327dfb"/>
<path d="M71.9 410.4l1.2 1.1-.9-1.9-1.2-1.2z" color="#3182f8"/>
<path d="M70.7 409.3l1.2 1.1-.9-2-1.2-1.3z" color="#2d8df1"/>
<path d="M69.5 408.1l1.2 1.2-.9-2.2-1.2-1.3z" color="#2b92ee"/>
<path d="M68.3 406.8l1.2 1.3-1-2.3-1.2-1.4z" color="#259ce8"/>
<path d="M67 405.5l1.3 1.3-1-2.4-1.2-1.5z" color="#22a1e5"/>
<path d="M65.8 404.1l1.2 1.4-.9-2.6-1.2-1.5z" color="#19a9dd"/>
<path d="M64.6 402.7l1.2 1.4-.9-2.7-1.2-1.5z" color="#0eb1d5"/>
<path d="M63.4 401.2l1.2 1.5-.9-2.8-1.3-1.7z" color="#0cb5d0"/>
<path d="M62.2 399.7l1.2 1.5-1-3-1.2-1.7zM147.4 377.7l1.2-2.2-.9-3.2-1.3 2.3z" color="#10bac3"/>
<path d="M146.1 379.8l1.3-2.1-1-3.1-1.2 2.2z" color="#0cb5d0"/>
<path d="M144.9 381.9l1.2-2.1-.9-3-1.2 2.3z" color="#0eb1d5"/>
<path d="M143.7 383.9l1.2-2-.9-2.8-1.2 2.1z" color="#19a9dd"/>
<path d="M142.5 385.8l1.2-1.9-.9-2.7-1.2 2.1z" color="#22a1e5"/>
<path d="M141.3 387.7l1.2-1.9-1-2.5-1.2 2z" color="#259ce8"/>
<path d="M140 389.6l1.3-1.9-1-2.4-1.2 2z" color="#2b92ee"/>
<path d="M138.8 391.4l1.2-1.8-.9-2.3-1.2 2z" color="#2d8df1"/>
<path d="M137.6 393.2l1.2-1.8-.9-2.1-1.2 1.8z" color="#2f88f5"/>
<path d="M136.4 394.9l1.2-1.7-.9-2.1-1.3 1.9z" color="#327dfb"/>
<path d="M135.2 396.5l1.2-1.6-1-1.9-1.2 1.7z" color="#3677fd"/>
<path d="M133.9 398.1l1.3-1.6-1-1.8-1.2 1.7z" color="#3a71fd"/>
<path d="M132.7 399.7l1.2-1.6-.9-1.7-1.2 1.7z" color="#3f6bfc"/>
<path d="M131.5 401.2l1.2-1.5-.9-1.6-1.2 1.6z" color="#4365fc"/>
<path d="M130.3 402.6l1.2-1.4-.9-1.5-1.3 1.5z" color="#455ffb"/>
<path d="M129 404l1.3-1.4-1-1.4-1.2 1.5z" color="#465af7"/>
<path d="M127.8 405.3l1.3-1.3-1-1.3-1.2 1.4z" color="#4754f4"/>
<path d="M126.6 406.6l1.2-1.3-.9-1.2-1.2 1.4z" color="#474ff1"/>
<path d="M125.4 407.9l1.2-1.3-.9-1.1-1.3 1.3z" color="#4749ec"/>
<path d="M124.2 409.1l1.2-1.2-1-1.1-1.2 1.3z" color="#4744e5"/>
<path d="M122.9 410.2l1.3-1.1-1-1-1.2 1.2z" color="#463fdf"/>
<path d="M97.3 422.2l3.7-.4 4.8-1.1 3.7-1.4 3.7-1.9-1-.5-3.6 1.9-3.7 1.4-4.9 1.1-3.6 .3z" color="#3f28ae"/>
<path d="M93.6 422l3.7 .2-.9-.6-3.7-.2z" color="#402cb9"/>
<path d="M91.2 421.7l2.4 .3-.9-.6-2.5-.5z" color="#4230c4"/>
<path d="M90 421.4l1.2 .3-1-.8-1.2-.3z" color="#4434cf"/>
<path d="M87.5 420.7l2.5 .7-1-.8-2.4-.8z" color="#4539d8"/>
<path d="M86.3 420.3l1.2 .4-.9-.9-1.2-.5z" color="#463fdf"/>
<path d="M85.1 419.9l1.2 .4-.9-1-1.3-.5z" color="#4744e5"/>
<path d="M82.6 418.8l2.5 1.1-1-1.1-2.4-1.2z" color="#4749ec"/>
<path d="M81.4 418.2l1.2 .6-.9-1.2-1.2-.7z" color="#474ff1"/>
<path d="M80.2 417.5l1.2 .7-.9-1.3-1.2-.8z" color="#4754f4"/>
<path d="M79 416.8l1.2 .7-.9-1.4-1.3-.8z" color="#465af7"/>
<path d="M77.8 416l1.2 .8-1-1.5-1.2-.8z" color="#455ffb"/>
<path d="M76.5 415.2l1.2 .8-.9-1.5-1.2-1z" color="#4365fc"/>
<path d="M75.3 414.3l1.2 .9-.9-1.7-1.2-.9z" color="#3a71fd"/>
<path d="M74.1 413.4l1.2 .9-.9-1.7-1.2-1.1z" color="#3677fd"/>
<path d="M72.9 412.4l1.2 1-1-1.9-1.2-1.1z" color="#327dfb"/>
<path d="M71.6 411.4l1.3 1-1-2-1.2-1.1z" color="#3182f8"/>
<path d="M70.4 410.3l1.2 1.1-.9-2.1-1.2-1.2z" color="#2d8df1"/>
<path d="M69.2 409.2l1.2 1.1-.9-2.2-1.2-1.3z" color="#2b92ee"/>
<path d="M68 408l1.2 1.2-.9-2.4-1.3-1.3z" color="#259ce8"/>
<path d="M66.8 406.8l1.2 1.2-1-2.5-1.2-1.4z" color="#22a1e5"/>
<path d="M65.5 405.5l1.3 1.3-1-2.7-1.2-1.4z" color="#19a9dd"/>
<path d="M64.3 404.1l1.2 1.4-.9-2.8-1.2-1.5z" color="#14add9"/>
<path d="M63.1 402.8l1.2 1.3-.9-2.9-1.2-1.5zM148.3 380.7l1.2-2.1-.9-3.1-1.2 2.2z" color="#0cb5d0"/>
<path d="M147.1 382.6l1.2-1.9-.9-3-1.2 2.1z" color="#14add9"/>
<path d="M145.9 384.6l1.2-2-1-2.8-1.2 2.1z" color="#1fa5e1"/>
<path d="M144.6 386.4l1.3-1.8-1-2.7-1.2 2z" color="#22a1e5"/>
<path d="M143.4 388.3l1.2-1.9-.9-2.5-1.2 1.9z" color="#259ce8"/>
<path d="M142.2 390l1.2-1.7-.9-2.5-1.2 1.9z" color="#2b92ee"/>
<path d="M141 391.8l1.2-1.8-.9-2.3-1.3 1.9z" color="#2d8df1"/>
<path d="M139.8 393.5l1.2-1.7-1-2.2-1.2 1.8z" color="#3182f8"/>
<path d="M138.5 395.1l1.3-1.6-1-2.1-1.2 1.8z" color="#327dfb"/>
<path d="M137.3 396.7l1.2-1.6-.9-1.9-1.2 1.7z" color="#3677fd"/>
<path d="M136.1 398.2l1.2-1.5-.9-1.8-1.2 1.6z" color="#3a71fd"/>
<path d="M134.9 399.7l1.2-1.5-.9-1.7-1.3 1.6z" color="#3f6bfc"/>
<path d="M133.6 401.2l1.3-1.5-1-1.6-1.2 1.6z" color="#4365fc"/>
<path d="M132.4 402.6l1.2-1.4-.9-1.5-1.2 1.5z" color="#455ffb"/>
<path d="M131.2 404l1.2-1.4-.9-1.4-1.2 1.4z" color="#465af7"/>
<path d="M130 405.3l1.2-1.3-.9-1.4-1.2 1.4z" color="#4754f4"/>
<path d="M128.8 406.5l1.2-1.2-.9-1.3-1.3 1.3z" color="#474ff1"/>
<path d="M127.5 407.7l1.3-1.2-1-1.2-1.2 1.3z" color="#4749ec"/>
<path d="M126.3 408.9l1.2-1.2-.9-1.1-1.2 1.3z" color="#4744e5"/>
<path d="M123.9 411.1l2.4-2.2-.9-1-2.5 2.3z" color="#463fdf"/>
<path d="M98.2 422.7l3.7-.4 4.9-1.1 3.6-1.4 3.7-1.8-.9-.6-3.7 1.9-3.7 1.4-4.8 1.1-3.7 .4z" color="#3f28ae"/>
<path d="M94.6 422.7l3.6 0-.9-.5-3.7-.2z" color="#402cb9"/>
<path d="M92.1 422.4l2.5 .3-1-.7-2.4-.3z" color="#4230c4"/>
<path d="M89.7 421.9l2.4 .5-.9-.7-2.5-.6z" color="#4434cf"/>
<path d="M88.5 421.6l1.2 .3-1-.8-1.2-.4z" color="#4539d8"/>
<path d="M86 420.9l2.5 .7-1-.9-2.4-.8z" color="#463fdf"/>
<path d="M84.8 420.5l1.2 .4-.9-1-1.2-.5z" color="#4744e5"/>
<path d="M83.6 420l1.2 .5-.9-1.1-1.3-.6z" color="#4749ec"/>
<path d="M81.1 418.8l2.5 1.2-1-1.2-2.4-1.3z" color="#474ff1"/>
<path d="M79.9 418.2l1.2 .6-.9-1.3-1.2-.7z" color="#4754f4"/>
<path d="M78.7 417.5l1.2 .7-.9-1.4-1.2-.8z" color="#465af7"/>
<path d="M77.5 416.8l1.2 .7-1-1.5-1.2-.8z" color="#455ffb"/>
<path d="M76.2 416l1.3 .8-1-1.6-1.2-.9z" color="#4365fc"/>
<path d="M75 415.2l1.2 .8-.9-1.7-1.2-.9z" color="#3a71fd"/>
<path d="M73.8 414.3l1.2 .9-.9-1.8-1.2-1z" color="#3677fd"/>
<path d="M72.6 413.4l1.2 .9-.9-1.9-1.3-1z" color="#327dfb"/>
<path d="M71.4 412.5l1.2 .9-1-2-1.2-1.1z" color="#3182f8"/>
<path d="M70.1 411.5l1.3 1-1-2.2-1.2-1.1z" color="#2f88f5"/>
<path d="M68.9 410.4l1.2 1.1-.9-2.3-1.2-1.2z" color="#2b92ee"/>
<path d="M67.7 409.3l1.2 1.1-.9-2.4-1.2-1.2z" color="#2897eb"/>
<path d="M66.5 408.1l1.2 1.2-.9-2.5-1.3-1.3z" color="#22a1e5"/>
<path d="M65.2 407l1.3 1.1-1-2.6-1.2-1.4z" color="#1fa5e1"/>
<path d="M64 405.7l1.2 1.3-.9-2.9-1.2-1.3z" color="#14add9"/>
<path d="M149.2 383.5l1.3-1.8-1-3.1-1.2 2.1z" color="#19a9dd"/>
<path d="M148 385.4l1.2-1.9-.9-2.8-1.2 1.9z" color="#1fa5e1"/>
<path d="M146.8 387.2l1.2-1.8-.9-2.8-1.2 2z" color="#259ce8"/>
<path d="M145.6 388.9l1.2-1.7-.9-2.6-1.3 1.8z" color="#2897eb"/>
<path d="M144.4 390.6l1.2-1.7-1-2.5-1.2 1.9z" color="#2b92ee"/>
<path d="M143.1 392.3l1.3-1.7-1-2.3-1.2 1.7z" color="#2f88f5"/>
<path d="M141.9 393.9l1.2-1.6-.9-2.3-1.2 1.8z" color="#3182f8"/>
<path d="M140.7 395.5l1.2-1.6-.9-2.1-1.2 1.7z" color="#327dfb"/>
<path d="M139.5 397l1.2-1.5-.9-2-1.3 1.6z" color="#3677fd"/>
<path d="M138.2 398.5l1.3-1.5-1-1.9-1.2 1.6z" color="#3a71fd"/>
<path d="M137 399.9l1.2-1.4-.9-1.8-1.2 1.5z" color="#3f6bfc"/>
<path d="M135.8 401.3l1.2-1.4-.9-1.7-1.2 1.5z" color="#4365fc"/>
<path d="M134.6 402.7l1.2-1.4-.9-1.6-1.2 1.5z" color="#455ffb"/>
<path d="M133.4 404l1.2-1.3-.9-1.5-1.3 1.4z" color="#465af7"/>
<path d="M132.1 405.3l1.3-1.3-1-1.4-1.2 1.4z" color="#4754f4"/>
<path d="M130.9 406.5l1.2-1.2-.9-1.3-1.2 1.3z" color="#474ff1"/>
<path d="M129.7 407.7l1.2-1.2-.9-1.2-1.2 1.2z" color="#4749ec"/>
<path d="M127.3 409.9l2.4-2.2-.9-1.2-2.5 2.4z" color="#4744e5"/>
<path d="M126 411l1.3-1.1-1-1-1.2 1.1z" color="#463fdf"/>
<path d="M123.6 413l2.4-2-.9-1-2.4 2.1z" color="#4539d8"/>
<path d="M97.9 423.3l4.9-.5 3.7-.8 4.9-1.7 3.6-1.8-.9-.5-3.7 1.8-4.8 1.7-3.7 .8-4.9 .4z" color="#3f28ae"/>
<path d="M95.5 423.3l2.4 0-.9-.6-2.4 0z" color="#402cb9"/>
<path d="M91.8 423l3.7 .3-.9-.6-3.7-.5z" color="#4230c4"/>
<path d="M90.6 422.8l1.2 .2-.9-.8-1.2-.3z" color="#4434cf"/>
<path d="M88.2 422.2l2.4 .6-.9-.9-2.5-.6z" color="#4539d8"/>
<path d="M85.7 421.5l2.5 .7-1-.9-2.4-.8z" color="#463fdf"/>
<path d="M84.5 421.1l1.2 .4-.9-1-1.2-.5z" color="#4744e5"/>
<path d="M83.3 420.6l1.2 .5-.9-1.1-1.2-.6z" color="#4749ec"/>
<path d="M82.1 420.1l1.2 .5-1-1.2-1.2-.6z" color="#474ff1"/>
<path d="M79.6 419l2.5 1.1-1-1.3-2.4-1.3z" color="#4754f4"/>
<path d="M78.4 418.4l1.2 .6-.9-1.5-1.2-.7z" color="#465af7"/>
<path d="M77.2 417.7l1.2 .7-.9-1.6-1.3-.8z" color="#455ffb"/>
<path d="M76 417l1.2 .7-1-1.7-1.2-.8z" color="#4365fc"/>
<path d="M74.7 416.2l1.3 .8-1-1.8-1.2-.9z" color="#3f6bfc"/>
<path d="M73.5 415.4l1.2 .8-.9-1.9-1.2-.9z" color="#3677fd"/>
<path d="M72.3 414.6l1.2 .8-.9-2-1.2-.9z" color="#327dfb"/>
<path d="M71.1 413.7l1.2 .9-.9-2.1-1.3-1z" color="#3182f8"/>
<path d="M69.8 412.7l1.3 1-1-2.2-1.2-1.1z" color="#2f88f5"/>
<path d="M68.6 411.7l1.2 1-.9-2.3-1.2-1.1z" color="#2d8df1"/>
<path d="M67.4 410.7l1.2 1-.9-2.4-1.2-1.2z" color="#2897eb"/>
<path d="M66.2 409.7l1.2 1-.9-2.6-1.2-1.1z" color="#259ce8"/>
<path d="M65 408.5l1.2 1.2-1-2.7-1.2-1.3zM150.2 386.3l1.2-1.7-.9-2.9-1.3 1.8z" color="#22a1e5"/>
<path d="M149 388l1.2-1.7-1-2.8-1.2 1.9z" color="#259ce8"/>
<path d="M147.7 389.7l1.3-1.7-1-2.6-1.2 1.8z" color="#2b92ee"/>
<path d="M146.5 391.3l1.2-1.6-.9-2.5-1.2 1.7z" color="#2d8df1"/>
<path d="M145.3 392.9l1.2-1.6-.9-2.4-1.2 1.7z" color="#2f88f5"/>
<path d="M144.1 394.4l1.2-1.5-.9-2.3-1.3 1.7z" color="#3182f8"/>
<path d="M142.8 395.9l1.3-1.5-1-2.1-1.2 1.6z" color="#327dfb"/>
<path d="M141.6 397.4l1.2-1.5-.9-2-1.2 1.6z" color="#3677fd"/>
<path d="M140.4 398.8l1.2-1.4-.9-1.9-1.2 1.5z" color="#3a71fd"/>
<path d="M138 401.6l2.4-2.8-.9-1.8-2.5 2.9z" color="#4365fc"/>
<path d="M136.7 402.9l1.3-1.3-1-1.7-1.2 1.4z" color="#455ffb"/>
<path d="M135.5 404.1l1.2-1.2-.9-1.6-1.2 1.4z" color="#465af7"/>
<path d="M134.3 405.4l1.2-1.3-.9-1.4-1.2 1.3z" color="#4754f4"/>
<path d="M133.1 406.6l1.2-1.2-.9-1.4-1.3 1.3z" color="#474ff1"/>
<path d="M131.9 407.7l1.2-1.1-1-1.3-1.2 1.2z" color="#4749ec"/>
<path d="M129.4 409.9l2.5-2.2-1-1.2-2.4 2.3z" color="#4744e5"/>
<path d="M128.2 410.9l1.2-1-.9-1.1-1.2 1.1z" color="#463fdf"/>
<path d="M125.7 412.9l2.5-2-.9-1-2.5 2.1z" color="#4539d8"/>
<path d="M123.3 414.7l2.4-1.8-.9-.9-2.4 1.9z" color="#4434cf"/>
<path d="M98.9 423.9l4.9-.6 4.8-1.2 3.7-1.3 4.9-2.4-.9-.5-4.9 2.4-3.7 1.3-4.9 1.2-4.9 .5z" color="#3f28ae"/>
<path d="M95.2 423.9l3.7 0-1-.6-3.6-.1z" color="#402cb9"/>
<path d="M92.8 423.7l2.4 .2-.9-.7-2.5-.2z" color="#4230c4"/>
<path d="M90.3 423.4l2.5 .3-1-.7-2.4-.5z" color="#4434cf"/>
<path d="M87.9 422.9l2.4 .5-.9-.9-2.5-.6z" color="#4539d8"/>
<path d="M86.7 422.6l1.2 .3-1-1-1.2-.4z" color="#463fdf"/>
<path d="M84.2 421.8l2.5 .8-1-1.1-2.4-.9z" color="#4744e5"/>
<path d="M83 421.4l1.2 .4-.9-1.2-1.2-.5z" color="#4749ec"/>
<path d="M81.8 420.9l1.2 .5-.9-1.3-1.3-.5z" color="#474ff1"/>
<path d="M79.3 419.9l2.5 1-1-1.3-2.4-1.2z" color="#4754f4"/>
<path d="M78.1 419.3l1.2 .6-.9-1.5-1.2-.7z" color="#465af7"/>
<path d="M76.9 418.7l1.2 .6-.9-1.6-1.2-.7z" color="#455ffb"/>
<path d="M75.7 418l1.2 .7-.9-1.7-1.3-.8z" color="#4365fc"/>
<path d="M74.4 417.3l1.3 .7-1-1.8-1.2-.8z" color="#3f6bfc"/>
<path d="M73.2 416.6l1.2 .7-.9-1.9-1.2-.8z" color="#3a71fd"/>
<path d="M72 415.8l1.2 .8-.9-2-1.2-.9z" color="#3677fd"/>
<path d="M70.8 415l1.2 .8-.9-2.1-1.2-1z" color="#327dfb"/>
<path d="M69.6 414.1l1.2 .9-1-2.3-1.2-1z" color="#2f88f5"/>
<path d="M68.3 413.2l1.3 .9-1-2.4-1.2-1z" color="#2d8df1"/>
<path d="M67.1 412.3l1.2 .9-.9-2.5-1.2-1z" color="#2b92ee"/>
<path d="M65.9 411.3l1.2 1-.9-2.6-1.2-1.2zM151.1 389l1.2-1.6-.9-2.8-1.2 1.7z" color="#2897eb"/>
<path d="M149.9 390.5l1.2-1.5-.9-2.7-1.2 1.7z" color="#2b92ee"/>
<path d="M148.7 392.1l1.2-1.6-.9-2.5-1.3 1.7z" color="#2f88f5"/>
<path d="M147.4 393.6l1.3-1.5-1-2.4-1.2 1.6z" color="#3182f8"/>
<path d="M146.2 395.1l1.2-1.5-.9-2.3-1.2 1.6z" color="#327dfb"/>
<path d="M145 396.5l1.2-1.4-.9-2.2-1.2 1.5z" color="#3677fd"/>
<path d="M143.8 397.9l1.2-1.4-.9-2.1-1.2 1.5z" color="#3a71fd"/>
<path d="M142.6 399.3l1.2-1.4-.9-2-1.3 1.5z" color="#3f6bfc"/>
<path d="M141.3 400.6l1.3-1.3-1-1.9-1.2 1.4z" color="#4365fc"/>
<path d="M140.1 401.9l1.2-1.3-.9-1.8-1.2 1.4z" color="#455ffb"/>
<path d="M137.7 404.4l2.4-2.5-.9-1.7-2.5 2.7z" color="#465af7"/>
<path d="M136.5 405.5l1.2-1.1-1-1.5-1.2 1.2z" color="#4754f4"/>
<path d="M135.2 406.7l1.3-1.2-1-1.4-1.2 1.3z" color="#474ff1"/>
<path d="M132.8 408.9l2.4-2.2-.9-1.3-2.4 2.3z" color="#4749ec"/>
<path d="M131.6 409.9l1.2-1-.9-1.2-1.3 1.1z" color="#4744e5"/>
<path d="M129.1 411.9l2.5-2-1-1.1-2.4 2.1z" color="#463fdf"/>
<path d="M127.9 412.8l1.2-.9-.9-1-1.2 1z" color="#4539d8"/>
<path d="M125.5 414.6l2.4-1.8-.9-.9-2.5 1.9z" color="#4434cf"/>
<path d="M99.8 424.4l4.9-.6 4.9-1.2 3.6-1.3 4.9-2.3-.9-.6-4.9 2.4-3.6 1.3-4.9 1.2-4.9 .6z" color="#3f28ae"/>
<path d="M96.1 424.6l3.7-.2-.9-.5-3.7 0z" color="#402cb9"/>
<path d="M92.5 424.4l3.6 .2-.9-.7-3.7-.3z" color="#4230c4"/>
<path d="M90 424l2.5 .4-1-.8-2.4-.5z" color="#4434cf"/>
<path d="M87.6 423.6l2.4 .4-.9-.9-2.4-.5z" color="#4539d8"/>
<path d="M86.4 423.3l1.2 .3-.9-1-1.3-.4z" color="#463fdf"/>
<path d="M83.9 422.6l2.5 .7-1-1.1-2.4-.8z" color="#4744e5"/>
<path d="M82.7 422.2l1.2 .4-.9-1.2-1.2-.5z" color="#4749ec"/>
<path d="M81.5 421.8l1.2 .4-.9-1.3-1.2-.5z" color="#474ff1"/>
<path d="M79 420.9l2.5 .9-.9-1.4-2.5-1.1z" color="#4754f4"/>
<path d="M77.8 420.3l1.2 .6-.9-1.6-1.2-.6z" color="#465af7"/>
<path d="M76.6 419.8l1.2 .5-.9-1.6-1.2-.7z" color="#455ffb"/>
<path d="M75.4 419.2l1.2 .6-.9-1.8-1.3-.7z" color="#4365fc"/>
<path d="M74.2 418.5l1.2 .7-1-1.9-1.2-.7z" color="#3f6bfc"/>
<path d="M72.9 417.8l1.3 .7-1-1.9-1.2-.8z" color="#3a71fd"/>
<path d="M71.7 417.1l1.2 .7-.9-2-1.2-.8z" color="#3677fd"/>
<path d="M70.5 416.4l1.2 .7-.9-2.1-1.2-.9z" color="#327dfb"/>
<path d="M69.3 415.6l1.2 .8-.9-2.3-1.3-.9z" color="#3182f8"/>
<path d="M68.1 414.8l1.2 .8-1-2.4-1.2-.9z" color="#2f88f5"/>
<path d="M66.8 413.9l1.3 .9-1-2.5-1.2-1zM152 391.5l1.3-1.5-1-2.6-1.2 1.6z" color="#2d8df1"/>
<path d="M150.8 393l1.2-1.5-.9-2.5-1.2 1.5z" color="#2f88f5"/>
<path d="M149.6 394.4l1.2-1.4-.9-2.5-1.2 1.6z" color="#3182f8"/>
<path d="M148.4 395.8l1.2-1.4-.9-2.3-1.2 1.5z" color="#327dfb"/>
<path d="M147.2 397.2l1.2-1.4-.9-2.2-1.3 1.5z" color="#3677fd"/>
<path d="M145.9 398.5l1.3-1.3-1-2.1-1.2 1.4z" color="#3a71fd"/>
<path d="M144.7 399.8l1.2-1.3-.9-2-1.2 1.4z" color="#3f6bfc"/>
<path d="M143.5 401.1l1.2-1.3-.9-1.9-1.2 1.4z" color="#4365fc"/>
<path d="M142.3 402.3l1.2-1.2-.9-1.8-1.3 1.3z" color="#455ffb"/>
<path d="M141.1 403.5l1.2-1.2-1-1.7-1.2 1.3z" color="#465af7"/>
<path d="M138.6 405.8l2.5-2.3-1-1.6-2.4 2.5z" color="#4754f4"/>
<path d="M137.4 406.9l1.2-1.1-.9-1.4-1.2 1.1z" color="#474ff1"/>
<path d="M136.2 408l1.2-1.1-.9-1.4-1.3 1.2z" color="#4749ec"/>
<path d="M133.7 410l2.5-2-1-1.3-2.4 2.2z" color="#4744e5"/>
<path d="M131.3 411.9l2.4-1.9-.9-1.1-2.5 2z" color="#463fdf"/>
<path d="M128.8 413.7l2.5-1.8-1-1-2.4 1.9z" color="#4539d8"/>
<path d="M126.4 415.4l2.4-1.7-.9-.9-2.4 1.8z" color="#4434cf"/>
<path d="M124 416.9l2.4-1.5-.9-.8-2.5 1.6z" color="#4230c4"/>
<path d="M99.5 425.1l4.9-.6 4.9-1.1 4.9-1.7 4.9-2.1-1-.6-4.9 2.3-4.8 1.6-4.9 1.1-4.9 .5z" color="#3f28ae"/>
<path d="M95.9 425.2l3.6-.1-.9-.6-3.7 0z" color="#402cb9"/>
<path d="M93.4 425.1l2.5 .1-1-.7-2.4-.1z" color="#4230c4"/>
<path d="M89.8 424.8l3.6 .3-.9-.7-3.7-.6z" color="#4434cf"/>
<path d="M88.5 424.6l1.3 .2-1-1-1.2-.2z" color="#4539d8"/>
<path d="M86.1 424.1l2.4 .5-.9-1-2.4-.6z" color="#463fdf"/>
<path d="M83.6 423.5l2.5 .6-.9-1.1-2.5-.8z" color="#4744e5"/>
<path d="M82.4 423.2l1.2 .3-.9-1.3-1.2-.4z" color="#4749ec"/>
<path d="M80 422.4l2.4 .8-.9-1.4-2.5-.9z" color="#474ff1"/>
<path d="M78.8 421.9l1.2 .5-1-1.5-1.2-.6z" color="#4754f4"/>
<path d="M77.5 421.4l1.3 .5-1-1.6-1.2-.5z" color="#465af7"/>
<path d="M76.3 420.9l1.2 .5-.9-1.6-1.2-.6z" color="#455ffb"/>
<path d="M75.1 420.4l1.2 .5-.9-1.7-1.2-.7z" color="#4365fc"/>
<path d="M72.7 419.2l2.4 1.2-.9-1.9-2.5-1.4z" color="#3f6bfc"/>
<path d="M71.4 418.6l1.3 .6-1-2.1-1.2-.7z" color="#3a71fd"/>
<path d="M70.2 417.9l1.2 .7-.9-2.2-1.2-.8z" color="#3677fd"/>
<path d="M69 417.2l1.2 .7-.9-2.3-1.2-.8z" color="#327dfb"/>
<path d="M67.8 416.4l1.2 .8-.9-2.4-1.3-.9zM153 394l1.2-1.4-.9-2.6-1.2 1.5z" color="#3182f8"/>
<path d="M151.8 395.3l1.2-1.3-.9-2.5-1.3 1.5z" color="#327dfb"/>
<path d="M150.5 396.6l1.3-1.3-1-2.3-1.2 1.4z" color="#3677fd"/>
<path d="M149.3 397.9l1.2-1.3-.9-2.2-1.2 1.4z" color="#3a71fd"/>
<path d="M148.1 399.2l1.2-1.3-.9-2.1-1.2 1.4z" color="#3f6bfc"/>
<path d="M146.9 400.4l1.2-1.2-.9-2-1.3 1.3z" color="#4365fc"/>
<path d="M144.4 402.8l2.5-2.4-1-1.9-2.4 2.6z" color="#455ffb"/>
<path d="M143.2 403.9l1.2-1.1-.9-1.7-1.2 1.2z" color="#465af7"/>
<path d="M142 405l1.2-1.1-.9-1.6-1.2 1.2z" color="#4754f4"/>
<path d="M139.6 407.2l2.4-2.2-.9-1.5-2.5 2.3z" color="#474ff1"/>
<path d="M138.3 408.2l1.2-1-.9-1.4-1.2 1.1z" color="#4749ec"/>
<path d="M135.9 410.2l2.4-2-.9-1.3-2.5 2.1z" color="#4744e5"/>
<path d="M133.4 412l2.5-1.8-1-1.2-2.4 2z" color="#463fdf"/>
<path d="M131 413.8l2.4-1.8-.9-1-2.4 1.8z" color="#4539d8"/>
<path d="M128.6 415.4l2.4-1.6-.9-1-2.5 1.8z" color="#4434cf"/>
<path d="M124.9 417.6l3.7-2.2-1-.8-3.6 2.3z" color="#4230c4"/>
<path d="M100.5 425.7l4.8-.7 6.2-1.5 4.8-1.7 4.9-2.2-.9-.6-4.9 2.3-4.9 1.7-4.9 1.3-6.1 .8z" color="#3f28ae"/>
<path d="M95.6 425.9l4.9-.2-1-.6-4.9 .1z" color="#402cb9"/>
<path d="M93.1 425.9l2.5 0-1-.7-2.4-.2z" color="#4230c4"/>
<path d="M90.7 425.7l2.4 .2-.9-.9-2.4-.2z" color="#4434cf"/>
<path d="M88.2 425.4l2.5 .3-.9-.9-2.5-.4z" color="#4539d8"/>
<path d="M85.8 425l2.4 .4-.9-1-2.4-.6z" color="#463fdf"/>
<path d="M83.4 424.4l2.4 .6-.9-1.2-2.5-.6z" color="#4744e5"/>
<path d="M82.1 424.1l1.3 .3-1-1.2-1.2-.4z" color="#4749ec"/>
<path d="M79.7 423.4l2.4 .7-.9-1.3-2.4-.9z" color="#474ff1"/>
<path d="M78.5 423l1.2 .4-.9-1.5-1.3-.5z" color="#4754f4"/>
<path d="M76 422.2l2.5 .8-1-1.6-2.4-1z" color="#465af7"/>
<path d="M74.8 421.7l1.2 .5-.9-1.8-1.2-.6z" color="#455ffb"/>
<path d="M73.6 421.2l1.2 .5-.9-1.9-1.2-.6z" color="#4365fc"/>
<path d="M72.4 420.6l1.2 .6-.9-2-1.3-.6z" color="#3f6bfc"/>
<path d="M71.1 420.1l1.3 .5-1-2-1.2-.7z" color="#3a71fd"/>
<path d="M69.9 419.5l1.2 .6-.9-2.2-1.2-.7z" color="#3677fd"/>
<path d="M68.7 418.9l1.2 .6-.9-2.3-1.2-.8z" color="#327dfb"/>
<path d="M153.9 396.3l1.2-1.2-.9-2.5-1.2 1.4z" color="#3677fd"/>
<path d="M152.7 397.6l1.2-1.3-.9-2.3-1.2 1.3z" color="#3a71fd"/>
<path d="M150.3 400l2.4-2.4-.9-2.3-2.5 2.6z" color="#3f6bfc"/>
<path d="M149 401.1l1.3-1.1-1-2.1-1.2 1.3z" color="#4365fc"/>
<path d="M147.8 402.3l1.2-1.2-.9-1.9-1.2 1.2z" color="#455ffb"/>
<path d="M146.6 403.4l1.2-1.1-.9-1.9-1.2 1.2z" color="#465af7"/>
<path d="M144.2 405.5l2.4-2.1-.9-1.8-2.5 2.3z" color="#4754f4"/>
<path d="M142.9 406.5l1.2-1-.9-1.6-1.2 1.1z" color="#474ff1"/>
<path d="M140.5 408.5l2.4-2-.9-1.5-2.4 2.2z" color="#4749ec"/>
<path d="M138 410.4l2.5-1.9-.9-1.3-2.5 2z" color="#4744e5"/>
<path d="M135.6 412.2l2.4-1.8-.9-1.2-2.4 1.9z" color="#463fdf"/>
<path d="M133.2 413.9l2.4-1.7-.9-1.1-2.5 1.8z" color="#4539d8"/>
<path d="M130.7 415.4l2.5-1.5-1-1-2.4 1.7z" color="#4434cf"/>
<path d="M127 417.6l3.7-2.2-.9-.8-3.7 2.3z" color="#4230c4"/>
<path d="M100.2 426.4l4.9-.7 6.1-1.4 4.9-1.6 6.1-2.6-1-.5-6.1 2.6-4.9 1.6-6.1 1.4-4.9 .6z" color="#3f28ae"/>
<path d="M96.5 426.6l3.7-.2-1-.6-3.6 .1z" color="#402cb9"/>
<path d="M92.9 426.6l3.6 0-.9-.7-3.7-.1z" color="#4230c4"/>
<path d="M90.4 426.5l2.5 .1-1-.8-2.4-.3z" color="#4434cf"/>
<path d="M86.7 426.1l3.7 .4-.9-1-3.7-.5z" color="#4539d8"/>
<path d="M85.5 425.9l1.2 .2-.9-1.1-1.2-.3z" color="#463fdf"/>
<path d="M83.1 425.5l2.4 .4-.9-1.2-2.5-.6z" color="#4744e5"/>
<path d="M80.6 424.9l2.5 .6-1-1.4-2.4-.7z" color="#4749ec"/>
<path d="M79.4 424.6l1.2 .3-.9-1.5-1.2-.4z" color="#474ff1"/>
<path d="M77 423.9l2.4 .7-.9-1.6-2.5-.8z" color="#4754f4"/>
<path d="M75.8 423.5l1.2 .4-1-1.7-1.2-.5z" color="#465af7"/>
<path d="M74.5 423.1l1.2 .4-.9-1.8-1.2-.5z" color="#455ffb"/>
<path d="M72.1 422.2l2.4 .9-.9-1.9-2.5-1.1z" color="#4365fc"/>
<path d="M70.9 421.7l1.2 .5-1-2.1-1.2-.6z" color="#3f6bfc"/>
<path d="M69.6 421.2l1.3 .5-1-2.2-1.2-.6z" color="#3a71fd"/>
<path d="M153.6 399.7l2.5-2.3-1-2.3-2.4 2.5z" color="#3f6bfc"/>
<path d="M152.4 400.8l1.2-1.1-.9-2.1-1.2 1.2z" color="#4365fc"/>
<path d="M151.2 401.9l1.2-1.1-.9-2-1.2 1.2z" color="#455ffb"/>
<path d="M148.8 404l2.4-2.1-.9-1.9-2.5 2.3z" color="#465af7"/>
<path d="M147.5 405l1.2-1-.9-1.7-1.2 1.1z" color="#4754f4"/>
<path d="M145.1 407l2.4-2-.9-1.6-2.4 2.1z" color="#474ff1"/>
<path d="M142.6 408.9l2.5-1.9-.9-1.5-2.5 2z" color="#4749ec"/>
<path d="M141.4 409.8l1.2-.9-.9-1.4-1.2 1z" color="#4744e5"/>
<path d="M137.8 412.4l3.6-2.6-.9-1.3-3.7 2.8z" color="#463fdf"/>
<path d="M135.3 414l2.5-1.6-1-1.1-2.4 1.7z" color="#4539d8"/>
<path d="M132.9 415.5l2.4-1.5-.9-1-2.5 1.7z" color="#4434cf"/>
<path d="M129.2 417.7l3.7-2.2-1-.8-3.6 2.2z" color="#4230c4"/>
<path d="M124.3 420.1l4.9-2.4-.9-.8-4.9 2.6z" color="#402cb9"/>
<path d="M101.1 427l6.1-1 6.1-1.6 4.9-1.7 6.1-2.6-.9-.6-6.1 2.7-4.9 1.7-6.1 1.6-6.1 .9z" color="#3f28ae"/>
<path d="M96.2 427.4l4.9-.4-.9-.6-4.9 .2z" color="#402cb9"/>
<path d="M92.6 427.4l3.6 0-.9-.8-3.7 0z" color="#4230c4"/>
<path d="M90.1 427.3l2.5 .1-1-.8-2.4-.2z" color="#4434cf"/>
<path d="M86.5 427l3.6 .3-.9-.9-3.7-.5z" color="#4539d8"/>
<path d="M84 426.7l2.5 .3-1-1.1-2.4-.4z" color="#463fdf"/>
<path d="M81.6 426.3l2.4 .4-.9-1.2-2.5-.6z" color="#4744e5"/>
<path d="M80.4 426.1l1.2 .2-1-1.4-1.2-.3z" color="#4749ec"/>
<path d="M77.9 425.6l2.4 .5-.9-1.5-2.4-.7z" color="#474ff1"/>
<path d="M76.7 425.2l1.2 .4-.9-1.7-1.2-.4z" color="#4754f4"/>
<path d="M74.2 424.6l2.5 .6-1-1.7-2.4-.8z" color="#465af7"/>
<path d="M73 424.2l1.2 .4-.9-1.9-1.2-.5z" color="#455ffb"/>
<path d="M70.6 423.4l2.4 .8-.9-2-2.5-1zM155.8 400.7l1.2-1.1-.9-2.2-1.2 1.2z" color="#4365fc"/>
<path d="M154.6 401.7l1.2-1-.9-2.1-1.3 1.1z" color="#455ffb"/>
<path d="M152.1 403.8l2.5-2.1-1-2-2.4 2.2z" color="#465af7"/>
<path d="M150.9 404.7l1.2-.9-.9-1.9-1.2 1.1z" color="#4754f4"/>
<path d="M148.5 406.6l2.4-1.9-.9-1.7-2.5 2z" color="#474ff1"/>
<path d="M146 408.5l2.5-1.9-1-1.6-2.4 2z" color="#4749ec"/>
<path d="M143.6 410.2l2.4-1.7-.9-1.5-2.5 1.9z" color="#4744e5"/>
<path d="M141.1 411.9l2.5-1.7-1-1.3-2.4 1.8z" color="#463fdf"/>
<path d="M137.5 414.2l3.6-2.3-.9-1.2-3.7 2.5z" color="#4539d8"/>
<path d="M135 415.7l2.5-1.5-1-1-2.4 1.6z" color="#4434cf"/>
<path d="M131.4 417.7l3.6-2-.9-.9-3.7 2.2z" color="#4230c4"/>
<path d="M125.3 420.7l6.1-3-1-.7-6.1 3.1z" color="#402cb9"/>
<path d="M100.8 427.7l6.1-1 6.1-1.5 6.2-2 6.1-2.5-1-.6-6.1 2.6-6.1 2.1-6.1 1.4-6.1 .9z" color="#3f28ae"/>
<path d="M95.9 428.2l4.9-.5-.9-.6-4.9 .3z" color="#402cb9"/>
<path d="M92.3 428.3l3.6-.1-.9-.8-3.7 0z" color="#4230c4"/>
<path d="M88.6 428.2l3.7 .1-1-.9-3.6-.2z" color="#4434cf"/>
<path d="M86.2 428.1l2.4 .1-.9-1-2.5-.3z" color="#4539d8"/>
<path d="M83.7 427.8l2.5 .3-1-1.2-2.4-.4z" color="#463fdf"/>
<path d="M81.3 427.5l2.4 .3-.9-1.3-2.5-.4z" color="#4744e5"/>
<path d="M78.8 427.1l2.5 .4-1-1.4-2.4-.5z" color="#4749ec"/>
<path d="M76.4 426.7l2.4 .4-.9-1.5-2.4-.7z" color="#474ff1"/>
<path d="M75.2 426.4l1.2 .3-.9-1.8-1.3-.3z" color="#4754f4"/>
<path d="M72.7 425.8l2.5 .6-1-1.8-2.4-.8z" color="#465af7"/>
<path d="M71.5 425.5l1.2 .3-.9-2-1.2-.4z" color="#455ffb"/>
<path d="M155.5 403.7l2.5-2-1-2.1-2.4 2.1z" color="#465af7"/>
<path d="M154.3 404.6l1.2-.9-.9-2-1.2 1z" color="#4754f4"/>
<path d="M151.8 406.4l2.5-1.8-1-1.9-2.4 2z" color="#474ff1"/>
<path d="M149.4 408.2l2.4-1.8-.9-1.7-2.4 1.9z" color="#4749ec"/>
<path d="M147 409.9l2.4-1.7-.9-1.6-2.5 1.9z" color="#4744e5"/>
<path d="M143.3 412.2l3.7-2.3-1-1.4-3.6 2.6z" color="#463fdf"/>
<path d="M140.8 413.8l2.5-1.6-.9-1.1-2.5 1.6z" color="#4539d8"/>
<path d="M137.2 415.9l3.7-2.1-1-1.1-3.6 2.3z" color="#4434cf"/>
<path d="M133.5 417.9l3.7-2-.9-.9-3.7 2.1z" color="#4230c4"/>
<path d="M127.4 420.8l6.1-2.9-.9-.8-6.1 3.1z" color="#402cb9"/>
<path d="M101.8 428.3l6.1-1.1 6.1-1.5 7.3-2.4 6.1-2.5-.9-.6-6.1 2.6-7.4 2.4-6.1 1.5-6.1 1z" color="#3f28ae"/>
<path d="M95.7 429l6.1-.7-1-.6-6.1 .5z" color="#402cb9"/>
<path d="M92 429.2l3.7-.2-1-.8-3.6 .1z" color="#4230c4"/>
<path d="M88.3 429.2l3.7 0-.9-.9-3.7-.2z" color="#4434cf"/>
<path d="M84.7 429.1l3.6 .1-.9-1.1-3.7-.3z" color="#4539d8"/>
<path d="M82.2 428.9l2.5 .2-1-1.3-2.4-.3z" color="#463fdf"/>
<path d="M79.8 428.6l2.4 .3-.9-1.4-2.5-.4z" color="#4744e5"/>
<path d="M77.3 428.3l2.5 .3-1-1.5-2.4-.4z" color="#4749ec"/>
<path d="M74.9 427.9l2.4 .4-.9-1.6-2.4-.6z" color="#474ff1"/>
<path d="M72.4 427.5l2.5 .4-.9-1.8-2.5-.6zM157.7 404.6l1.2-.9-.9-2-1.3 1z" color="#4754f4"/>
<path d="M155.2 406.3l2.5-1.7-1-1.9-2.4 1.9z" color="#474ff1"/>
<path d="M152.8 408l2.4-1.7-.9-1.7-2.5 1.8z" color="#4749ec"/>
<path d="M150.3 409.6l2.5-1.6-1-1.6-2.4 1.8z" color="#4744e5"/>
<path d="M146.7 411.9l3.6-2.3-.9-1.4-3.7 2.5z" color="#463fdf"/>
<path d="M143 414.1l3.7-2.2-1-1.2-3.6 2.3z" color="#4539d8"/>
<path d="M139.3 416.1l3.7-2-.9-1.1-3.7 2.2z" color="#4434cf"/>
<path d="M135.7 418l3.6-1.9-.9-.9-3.7 2z" color="#4230c4"/>
<path d="M129.6 420.9l6.1-2.9-1-.8-6.1 3z" color="#402cb9"/>
<path d="M101.5 429.1l7.3-1.4 7.3-1.9 6.1-2 7.4-2.9-1-.7-7.3 3.1-7.3 2.4-6.1 1.5-7.4 1.3z" color="#3f28ae"/>
<path d="M95.4 429.9l6.1-.8-1-.6-6.1 .6z" color="#402cb9"/>
<path d="M90.5 430.2l4.9-.3-1-.8-4.8 .1z" color="#4230c4"/>
<path d="M86.8 430.3l3.7-.1-.9-1-3.7-.1z" color="#4434cf"/>
<path d="M84.4 430.2l2.4 .1-.9-1.2-2.5-.1z" color="#4539d8"/>
<path d="M80.7 430.1l3.7 .1-1-1.2-3.6-.4z" color="#463fdf"/>
<path d="M78.3 429.9l2.4 .2-.9-1.5-2.5-.3z" color="#4744e5"/>
<path d="M75.8 429.7l2.5 .2-1-1.6-2.4-.4z" color="#4749ec"/>
<path d="M73.4 429.4l2.4 .3-.9-1.8-2.5-.4z" color="#474ff1"/>
<path d="M156.2 408l3.6-2.4-.9-1.9-3.7 2.6z" color="#4749ec"/>
<path d="M153.7 409.5l2.5-1.5-1-1.7-2.4 1.7z" color="#4744e5"/>
<path d="M150 411.7l3.7-2.2-.9-1.5-3.7 2.4z" color="#463fdf"/>
<path d="M146.4 413.8l3.6-2.1-.9-1.3-3.7 2.3z" color="#4539d8"/>
<path d="M142.7 415.8l3.7-2-.9-1.1-3.7 2.1z" color="#4434cf"/>
<path d="M137.8 418.2l4.9-2.4-.9-1-4.9 2.6z" color="#4230c4"/>
<path d="M131.7 421l6.1-2.8-.9-.8-6.1 2.9z" color="#402cb9"/>
<path d="M101.2 429.9l7.3-1.4 7.3-1.9 7.4-2.3 8.5-3.3-.9-.7-7.3 3-7.4 2.5-7.3 1.9-8.5 1.6z" color="#3f28ae"/>
<path d="M95.1 430.8l6.1-.9-.9-.6-6.1 .7z" color="#402cb9"/>
<path d="M90.2 431.2l4.9-.4-1-.8-4.8 .2z" color="#4230c4"/>
<path d="M85.3 431.4l4.9-.2-.9-1-4.9 0z" color="#4434cf"/>
<path d="M82.9 431.4l2.4 0-.9-1.2-2.5-.1z" color="#4539d8"/>
<path d="M79.2 431.4l3.7 0-1-1.3-3.6-.2z" color="#463fdf"/>
<path d="M75.5 431.2l3.7 .2-.9-1.5-3.7-.4z" color="#4744e5"/>
<path d="M74.3 431.2l1.2 0-.9-1.7-1.2-.1z" color="#4749ec"/>
<path d="M158.3 408.8l2.5-1.4-1-1.8-2.4 1.6z" color="#4744e5"/>
<path d="M154.6 411l3.7-2.2-.9-1.6-3.7 2.3z" color="#463fdf"/>
<path d="M149.8 413.6l4.8-2.6-.9-1.5-4.9 2.9z" color="#4539d8"/>
<path d="M146.1 415.5l3.7-1.9-1-1.2-3.6 2.1z" color="#4434cf"/>
<path d="M141.2 417.9l4.9-2.4-.9-1-4.9 2.5z" color="#4230c4"/>
<path d="M133.9 421.1l7.3-3.2-.9-.9-7.4 3.4z" color="#402cb9"/>
<path d="M100.9 430.8l8.6-1.8 8.5-2.3 8.6-2.8 7.3-2.8-1-.7-7.3 3-8.5 2.9-8.6 2.2-8.5 1.6z" color="#3f28ae"/>
<path d="M93.6 431.9l7.3-1.1-.9-.7-7.4 .9z" color="#402cb9"/>
<path d="M88.7 432.4l4.9-.5-1-.9-4.8 .3z" color="#4230c4"/>
<path d="M83.8 432.7l4.9-.3-.9-1.1-4.9 .1z" color="#4434cf"/>
<path d="M80.1 432.8l3.7-.1-.9-1.3-3.7 0z" color="#4539d8"/>
<path d="M76.5 432.9l3.6-.1-.9-1.4-3.7-.2z" color="#463fdf"/>
<path d="M75.3 432.8l1.2 .1-1-1.7-1.2 0z" color="#4744e5"/>
<path d="M159.2 410.4l2.5-1.4-.9-1.6-2.5 1.4z" color="#463fdf"/>
<path d="M154.4 412.9l4.8-2.5-.9-1.6-4.9 2.8z" color="#4539d8"/>
<path d="M149.5 415.3l4.9-2.4-1-1.3-4.9 2.7z" color="#4434cf"/>
<path d="M143.4 418.2l6.1-2.9-1-1-6.1 3z" color="#4230c4"/>
<path d="M136 421.3l7.4-3.1-1-.9-7.3 3.3z" color="#402cb9"/>
<path d="M100.6 431.6l9.8-2.1 8.5-2.3 8.6-2.8 8.5-3.1-.9-.7-8.5 3.3-9.8 3.2-8.6 2.2-8.5 1.7z" color="#3f28ae"/>
<path d="M92.1 433l8.5-1.4-.9-.6-8.6 1.1z" color="#402cb9"/>
<path d="M87.2 433.6l4.9-.6-1-.9-4.9 .4z" color="#4230c4"/>
<path d="M82.3 434.1l4.9-.5-1-1.1-4.8 .3z" color="#4434cf"/>
<path d="M77.4 434.4l4.9-.3-.9-1.3-4.9 .1z" color="#4539d8"/>
<path d="M76.2 434.4l1.2 0-.9-1.5-1.2-.1z" color="#463fdf"/>
<path d="M159 412.4l3.6-1.8-.9-1.6-3.7 2z" color="#4539d8"/>
<path d="M154.1 414.7l4.9-2.3-1-1.4-4.9 2.5z" color="#4434cf"/>
<path d="M148 417.4l6.1-2.7-1-1.2-6.1 3z" color="#4230c4"/>
<path d="M139.4 421l8.6-3.6-1-.9-8.5 3.8z" color="#402cb9"/>
<path d="M99.1 432.8l9.8-2.2 11-2.9 9.7-3.2 9.8-3.5-.9-.7-9.8 3.7-9.8 3.2-11 2.9-9.7 2z" color="#3f28ae"/>
<path d="M90.6 434.3l8.5-1.5-.9-.7-8.6 1.2z" color="#402cb9"/>
<path d="M84.5 435.1l6.1-.8-1-1-6.1 .7z" color="#4230c4"/>
<path d="M79.6 435.7l4.9-.6-1-1.1-4.9 .3z" color="#4434cf"/>
<path d="M77.1 435.9l2.5-.2-1-1.4-2.4 .1z" color="#4539d8"/>
<path d="M158.7 414.2l4.9-2.2-1-1.4-4.9 2.4z" color="#4434cf"/>
<path d="M151.4 417.3l7.3-3.1-1-1.2-7.3 3.4z" color="#4230c4"/>
<path d="M142.8 420.7l8.6-3.4-1-.9-8.5 3.6z" color="#402cb9"/>
<path d="M97.6 434l12.2-2.9 11-3 11-3.4 11-4-.9-.7-11 4.1-11 3.6-11 2.9-12.2 2.6z" color="#3f28ae"/>
<path d="M89.1 435.6l8.5-1.6-.9-.8-8.6 1.4z" color="#402cb9"/>
<path d="M81.7 436.7l7.4-1.1-1-1-7.3 .9z" color="#4230c4"/>
<path d="M78.1 437.2l3.6-.5-.9-1.2-3.7 .4z" color="#4434cf"/>
<path d="M157.2 416.3l7.3-3-.9-1.3-7.4 3.3z" color="#4230c4"/>
<path d="M146.2 420.5l11-4.2-1-1-11 4.5z" color="#402cb9"/>
<path d="M96.1 435.2l12.2-2.9 13.5-3.7 12.2-3.8 12.2-4.3-1-.7-12.2 4.4-12.2 3.9-13.4 3.7-12.2 2.6z" color="#3f28ae"/>
<path d="M85.1 437.4l11-2.2-.9-.8-11 2z" color="#402cb9"/>
<path d="M79 438.5l6.1-1.1-.9-1-6.1 .8zM163 415.5l2.4-1-.9-1.2-2.4 1z" color="#4230c4"/>
<path d="M150.8 420l12.2-4.5-.9-1.2-12.3 4.9z" color="#402cb9"/>
<path d="M92.2 437l14.6-3.5 14.7-4.1 14.6-4.5 14.7-4.9-1-.8-14.6 5.2-14.7 4.6-14.6 3.9-14.7 3.3z" color="#3f28ae"/>
<path d="M81.2 439.4l11-2.4-1-.8-11 2.1z" color="#402cb9"/>
<path d="M79.9 439.7l1.3-.3-1-1.1-1.2 .2z" color="#4230c4"/>
<path d="M157.8 418.6l8.6-3-1-1.1-8.5 3.2z" color="#402cb9"/>
<path d="M88.2 439l17.1-4.3 18.3-5.2 17.1-5.2 17.1-5.7-.9-.9-17.1 6-17.1 5.4-18.3 5-17.1 4z" color="#3f28ae"/>
<path d="M80.9 440.7l7.3-1.7-.9-.9-7.4 1.6zM166.1 417l1.2-.4-.9-1-1.2 .4z" color="#402cb9"/>
<path d="M81.8 441.6l20.8-5.4 22-6.2 20.7-6.3 20.8-6.7-.9-1-20.8 7.1-20.8 6.4-22 6.1-20.7 5.1zM82.7 442.5l42.8-12 42.7-13.1-.9-.8-22 7.1-20.7 6.3-22 6.2-20.8 5.4zM83.7 443.2l42.7-12.3 42.8-12.7-1-.8-42.7 13.1-42.8 12zM84.6 443.8l85.5-25-.9-.6-42.8 12.7-42.7 12.3zM85.6 444.3l85.5-25-1-.5-85.5 25zM86.5 444.8l85.5-25-.9-.5-85.6 25zM87.4 445.1l42.8-12.3 42.7-12.7-.9-.3-85.5 25zM88.4 445.3l42.7-12.1 42.8-13-1-.1-42.7 12.7-42.8 12.3zM89.3 445.4l20.8-5.5 21.9-6.2 22-6.7 20.8-6.7-.9-.1-42.8 13-42.7 12.1z" color="#3f28ae"/>
<path d="M174.5 420.7l1.2-.5-.9 .1-1.2 .4z" color="#402cb9"/>
<path d="M90.2 445.4l20.8-5.1 22-6.1 20.7-6.4 20.8-7.1-.9 0-20.8 6.7-20.8 6.3-21.9 6.2-20.8 5.5z" color="#3f28ae"/>
<path d="M168.1 423.3l8.6-3.2-1 .1-8.5 3.1z" color="#402cb9"/>
<path d="M98.5 443.7l18.3-4.4 17.1-4.7 17.1-5.3 17.1-6-.9 0-17.1 5.6-17.1 5.3-17.1 4.8-18.3 4.6z" color="#3f28ae"/>
<path d="M91.2 445.2l7.3-1.5-.9-.1-7.4 1.8z" color="#402cb9"/>
<path d="M175.2 420.8l2.4-1-.9 .3-2.5 .9z" color="#4230c4"/>
<path d="M162.9 425.7l12.3-4.9-1 .2-12.2 4.5z" color="#402cb9"/>
<path d="M104.3 442.7l14.7-3.3 14.6-3.9 14.7-4.6 14.6-5.2-.9-.2-14.6 5-14.7 4.5-14.7 4-14.6 3.6z" color="#3f28ae"/>
<path d="M93.3 444.8l11-2.1-.9-.1-11 2.4z" color="#402cb9"/>
<path d="M92.1 445l1.2-.2-.9 .2-1.2 .2zM171.2 422.7l7.3-3.3-.9 .4-7.3 3z" color="#4230c4"/>
<path d="M160.2 427.2l11-4.5-.9 .1-11 4.2z" color="#402cb9"/>
<path d="M110.1 441.9l12.2-2.7 13.5-3.6 12.2-3.9 12.2-4.5-.9-.2-12.2 4.3-12.2 3.8-13.5 3.7-12.2 2.9z" color="#3f28ae"/>
<path d="M99.1 443.8l11-1.9-.9-.2-11 2.2z" color="#402cb9"/>
<path d="M93 444.7l6.1-.9-.9 .1-6.1 1.1z" color="#4230c4"/>
<path d="M174.6 421.3l4.9-2.4-1 .5-4.8 2.2z" color="#4434cf"/>
<path d="M167.3 424.7l7.3-3.4-1 .3-7.3 3.2z" color="#4230c4"/>
<path d="M158.7 428.3l8.6-3.6-1 .1-8.5 3.3z" color="#402cb9"/>
<path d="M113.5 441.6l12.2-2.6 11-3 11-3.5 11-4.2-.9-.2-11 4-11 3.5-12.2 3.3-11 2.5z" color="#3f28ae"/>
<path d="M97.6 443.9l6.1-.7-.9 0-6.1 1z" color="#4230c4"/>
<path d="M94 444.3l3.6-.4-.9 .3-3.7 .5zM171.9 422.8l4.8-2.5-.9 .4-4.9 2.4z" color="#4434cf"/>
<path d="M165.8 425.8l6.1-3-1 .3-6.1 2.7z" color="#4230c4"/>
<path d="M157.2 429.5l8.6-3.7-1 0-8.5 3.5z" color="#402cb9"/>
<path d="M116.9 441.4l9.8-2 11-2.9 9.7-3.2 9.8-3.8-.9-.2-9.8 3.6-9.8 3.1-11 3-9.7 2.1z" color="#3f28ae"/>
<path d="M102.2 443.3l6.1-.7-.9 0-6.1 .9z" color="#4230c4"/>
<path d="M97.4 443.6l4.8-.3-.9 .2-4.9 .5z" color="#4434cf"/>
<path d="M94.9 443.7l2.4-.1-.9 .4-2.4 .3zM174 421.8l4.9-2.8-.9 .6-4.9 2.6z" color="#4539d8"/>
<path d="M169.1 424.5l4.9-2.7-.9 .4-4.9 2.4z" color="#4434cf"/>
<path d="M163 427.5l6.1-3-.9 .1-6.1 2.8z" color="#4230c4"/>
<path d="M155.7 430.8l7.3-3.3-.9-.1-7.3 3.1z" color="#402cb9"/>
<path d="M120.3 441.2l8.5-1.7 9.8-2.5 8.5-2.9 8.6-3.3-.9-.3-8.6 3.2-8.5 2.8-8.6 2.3-9.8 2.1z" color="#3f28ae"/>
<path d="M111.7 442.3l8.6-1.1-1-.3-8.5 1.4z" color="#402cb9"/>
<path d="M106.8 442.8l4.9-.5-.9 0-4.9 .6z" color="#4230c4"/>
<path d="M102 443l4.8-.2-.9 .1-4.9 .5z" color="#4434cf"/>
<path d="M97.1 443.1l4.9-.1-1 .4-4.9 .3z" color="#4539d8"/>
<path d="M95.8 443.1l1.3 0-1 .6-1.2 0zM176.2 420.7l3.6-2.4-.9 .7-3.7 2.2z" color="#463fdf"/>
<path d="M171.3 423.6l4.9-2.9-1 .5-4.9 2.6z" color="#4539d8"/>
<path d="M167.6 425.6l3.7-2-.9 .2-3.7 1.9z" color="#4434cf"/>
<path d="M161.5 428.8l6.1-3.2-.9 .1-6.1 2.9z" color="#4230c4"/>
<path d="M155.4 431.6l6.1-2.8-.9-.2-6.1 2.7z" color="#402cb9"/>
<path d="M122.4 441.3l8.6-1.6 8.5-2.3 7.4-2.4 8.5-3.4-.9-.3-7.4 2.8-8.5 2.9-8.6 2.2-8.5 1.8z" color="#3f28ae"/>
<path d="M115.1 442.2l7.3-.9-.9-.3-7.3 1.1z" color="#402cb9"/>
<path d="M110.2 442.5l4.9-.3-.9-.1-4.9 .5z" color="#4230c4"/>
<path d="M105.3 442.6l4.9-.1-.9 .1-4.9 .3z" color="#4434cf"/>
<path d="M101.7 442.6l3.6 0-.9 .3-3.7 .1z" color="#4539d8"/>
<path d="M98 442.4l3.7 .2-1 .4-3.6 .1z" color="#463fdf"/>
<path d="M96.8 442.3l1.2 .1-.9 .7-1.3 0z" color="#4744e5"/>
<path d="M173.4 422.5l3.7-2.4-.9 .6-3.7 2.2z" color="#463fdf"/>
<path d="M169.8 424.7l3.6-2.2-.9 .4-3.7 2z" color="#4539d8"/>
<path d="M166.1 426.8l3.7-2.1-1 .2-3.6 2z" color="#4434cf"/>
<path d="M161.2 429.5l4.9-2.7-.9 .1-4.9 2.4z" color="#4230c4"/>
<path d="M155.1 432.4l6.1-2.9-.9-.2-6.1 2.8z" color="#402cb9"/>
<path d="M124.6 441.4l7.3-1.3 7.3-1.9 7.4-2.3 8.5-3.5-.9-.3-7.3 2.9-7.4 2.4-7.3 2-8.5 1.7z" color="#3f28ae"/>
<path d="M113.6 442.3l4.9-.3-1-.1-4.8 .4z" color="#4230c4"/>
<path d="M108.7 442.3l4.9 0-.9 0-4.9 .3z" color="#4434cf"/>
<path d="M105 442.2l3.7 .1-.9 .3-3.7 0z" color="#4539d8"/>
<path d="M102.6 442l2.4 .2-.9 .4-2.4 0z" color="#463fdf"/>
<path d="M98.9 441.6l3.7 .4-.9 .6-3.7-.2z" color="#4744e5"/>
<path d="M97.7 441.5l1.2 .1-.9 .8-1.2-.1z" color="#4749ec"/>
<path d="M175.6 421.2l2.4-1.8-.9 .7-2.4 1.6z" color="#4744e5"/>
<path d="M171.9 423.7l3.7-2.5-.9 .5-3.7 2.3z" color="#463fdf"/>
<path d="M168.3 426l3.6-2.3-.9 .3-3.7 2.1z" color="#4539d8"/>
<path d="M164.6 428.2l3.7-2.2-1 .1-3.6 2.1z" color="#4434cf"/>
<path d="M160.9 430.2l3.7-2-.9 0-3.7 1.9z" color="#4230c4"/>
<path d="M154.8 433.2l6.1-3-.9-.1-6.1 2.8z" color="#402cb9"/>
<path d="M126.7 441.5l7.4-1.3 7.3-1.9 6.1-2 7.3-3.1-.9-.3-7.3 3-7.4 2.3-6.1 1.6-7.3 1.4z" color="#3f28ae"/>
<path d="M120.6 442.1l6.1-.6-.9-.3-6.1 .7z" color="#402cb9"/>
<path d="M112.1 442.1l3.7 .1-1 .1-3.7 0z" color="#4434cf"/>
<path d="M109.6 442l2.5 .1-1 .2-2.4 0z" color="#4539d8"/>
<path d="M106 441.7l3.6 .3-.9 .3-3.7-.1z" color="#463fdf"/>
<path d="M103.5 441.3l2.5 .4-1 .5-2.4-.2z" color="#4744e5"/>
<path d="M101.1 441l2.4 .3-.9 .7-2.4-.2z" color="#4749ec"/>
<path d="M98.6 440.5l2.5 .5-.9 .8-2.5-.3z" color="#474ff1"/>
<path d="M176.5 420.6l2.5-2-1 .8-2.4 1.8z" color="#4749ec"/>
<path d="M174.1 422.4l2.4-1.8-.9 .6-2.4 1.6z" color="#4744e5"/>
<path d="M170.4 425l3.7-2.6-.9 .4-3.7 2.4z" color="#463fdf"/>
<path d="M168 426.6l2.4-1.6-.9 .2-2.5 1.5z" color="#4539d8"/>
<path d="M164.3 428.9l3.7-2.3-1 .1-3.6 2.2z" color="#4434cf"/>
<path d="M160.7 431l3.6-2.1-.9 0-3.7 1.9z" color="#4230c4"/>
<path d="M154.5 434.1l6.2-3.1-1-.2-6.1 3z" color="#402cb9"/>
<path d="M128.9 441.7l6.1-1 7.3-1.9 6.1-2.1 6.1-2.6-.9-.3-6.1 2.5-6.1 2-6.1 1.7-7.3 1.3z" color="#3f28ae"/>
<path d="M115.5 442.1l3.6 .1-.9 0-3.7 0z" color="#4434cf"/>
<path d="M111.8 441.8l3.7 .3-1 .1-3.6-.1z" color="#4539d8"/>
<path d="M109.4 441.5l2.4 .3-.9 .3-2.5-.2z" color="#463fdf"/>
<path d="M106.9 441.1l2.5 .4-1 .4-2.4-.2z" color="#4744e5"/>
<path d="M104.5 440.6l2.4 .5-.9 .6-2.5-.4z" color="#4749ec"/>
<path d="M102 440.1l2.5 .5-1 .7-2.4-.3z" color="#474ff1"/>
<path d="M99.6 439.4l2.4 .7-.9 .9-2.4-.5z" color="#4754f4"/>
<path d="M177.5 419.9l2.4-2.1-.9 .8-2.5 2z" color="#474ff1"/>
<path d="M175 421.9l2.5-2-1 .7-2.4 1.8z" color="#4749ec"/>
<path d="M172.6 423.7l2.4-1.8-.9 .5-2.5 1.7z" color="#4744e5"/>
<path d="M170.1 425.5l2.5-1.8-1 .4-2.4 1.7z" color="#463fdf"/>
<path d="M166.5 428.1l3.6-2.6-.9 .3-3.7 2.3z" color="#4539d8"/>
<path d="M164 429.6l2.5-1.5-1 0-2.4 1.5z" color="#4434cf"/>
<path d="M160.4 431.8l3.6-2.2-.9 0-3.7 2.1z" color="#4230c4"/>
<path d="M154.3 435l6.1-3.2-1-.1-6.1 3z" color="#402cb9"/>
<path d="M129.8 442l6.1-.9 6.1-1.5 6.2-2 6.1-2.6-1-.3-6.1 2.5-6.1 2-6.1 1.5-6.1 1z" color="#3f28ae"/>
<path d="M117.6 442l3.7 .3-.9-.1-3.7-.1z" color="#4434cf"/>
<path d="M115.2 441.8l2.4 .2-.9 .1-2.5-.1z" color="#4539d8"/>
<path d="M112.7 441.4l2.5 .4-1 .2-2.4-.2z" color="#463fdf"/>
<path d="M110.3 441l2.4 .4-.9 .4-2.4-.3z" color="#4744e5"/>
<path d="M107.8 440.4l2.5 .6-.9 .5-2.5-.4z" color="#4749ec"/>
<path d="M105.4 439.8l2.4 .6-.9 .7-2.4-.5z" color="#474ff1"/>
<path d="M104.2 439.4l1.2 .4-.9 .8-1.2-.3z" color="#4754f4"/>
<path d="M101.7 438.7l2.5 .7-1 .9-2.4-.5z" color="#465af7"/>
<path d="M100.5 438.3l1.2 .4-.9 1.1-1.2-.4z" color="#455ffb"/>
<path d="M176 421.3l2.4-2.2-.9 .8-2.5 2z" color="#474ff1"/>
<path d="M173.5 423.3l2.5-2-1 .6-2.4 1.8z" color="#4749ec"/>
<path d="M171.1 425.3l2.4-2-.9 .4-2.5 1.8z" color="#4744e5"/>
<path d="M168.6 427.1l2.5-1.8-1 .2-2.4 1.8z" color="#463fdf"/>
<path d="M166.2 428.8l2.4-1.7-.9 .2-2.4 1.6z" color="#4539d8"/>
<path d="M163.8 430.4l2.4-1.6-.9 .1-2.5 1.5z" color="#4434cf"/>
<path d="M160.1 432.7l3.7-2.3-1 0-3.7 2.1z" color="#4230c4"/>
<path d="M155.2 435.3l4.9-2.6-1-.2-4.8 2.5z" color="#402cb9"/>
<path d="M132 442.2l4.9-.7 6.1-1.4 6.1-2.1 6.1-2.7-.9-.3-6.1 2.6-4.9 1.7-6.1 1.5-6.1 1z" color="#3f28ae"/>
<path d="M127.1 442.4l4.9-.2-.9-.4-4.9 .4z" color="#402cb9"/>
<path d="M123.4 442.4l3.7 0-.9-.2-3.7 .1z" color="#4230c4"/>
<path d="M119.8 442l3.6 .4-.9-.1-3.7-.2z" color="#4434cf"/>
<path d="M117.3 441.7l2.5 .3-1 .1-2.4-.2z" color="#4539d8"/>
<path d="M114.9 441.3l2.4 .4-.9 .2-2.4-.3z" color="#463fdf"/>
<path d="M112.4 440.7l2.5 .6-.9 .3-2.5-.4z" color="#4744e5"/>
<path d="M111.2 440.4l1.2 .3-.9 .5-1.2-.2z" color="#4749ec"/>
<path d="M108.8 439.7l2.4 .7-.9 .6-2.5-.6z" color="#474ff1"/>
<path d="M106.3 438.9l2.5 .8-1 .7-2.4-.6z" color="#4754f4"/>
<path d="M105.1 438.5l1.2 .4-.9 .9-1.2-.4z" color="#465af7"/>
<path d="M103.9 438l1.2 .5-.9 .9-1.2-.3z" color="#455ffb"/>
<path d="M101.5 437l2.4 1-.9 1.1-2.5-.8z" color="#4365fc"/>
<path d="M179.3 418.3l1.3-1.2-1 .9-1.2 1.1z" color="#465af7"/>
<path d="M176.9 420.6l2.4-2.3-.9 .8-2.4 2.2z" color="#4754f4"/>
<path d="M175.7 421.7l1.2-1.1-.9 .7-1.3 1z" color="#474ff1"/>
<path d="M173.2 423.9l2.5-2.2-1 .6-2.4 2z" color="#4749ec"/>
<path d="M170.8 425.9l2.4-2-.9 .4-2.4 1.9z" color="#4744e5"/>
<path d="M168.4 427.8l2.4-1.9-.9 .3-2.5 1.8z" color="#463fdf"/>
<path d="M165.9 429.6l2.5-1.8-1 .2-2.4 1.6z" color="#4539d8"/>
<path d="M163.5 431.3l2.4-1.7-.9 0-2.5 1.6z" color="#4434cf"/>
<path d="M159.8 433.6l3.7-2.3-1-.1-3.6 2.2z" color="#4230c4"/>
<path d="M154.9 436.3l4.9-2.7-.9-.2-4.9 2.5z" color="#402cb9"/>
<path d="M132.9 442.5l4.9-.6 6.1-1.3 4.9-1.7 6.1-2.6-.9-.4-4.9 2.1-6.1 2.1-6.1 1.4-4.9 .7z" color="#3f28ae"/>
<path d="M129.3 442.6l3.6-.1-.9-.3-3.7 .2z" color="#402cb9"/>
<path d="M125.6 442.5l3.7 .1-1-.2-3.6 0z" color="#4230c4"/>
<path d="M119.5 441.7l3.7 .6-1 0-3.6-.4z" color="#4539d8"/>
<path d="M118.3 441.4l1.2 .3-.9 .2-1.3-.2z" color="#463fdf"/>
<path d="M115.8 440.9l2.5 .5-1 .3-2.4-.4z" color="#4744e5"/>
<path d="M113.4 440.2l2.4 .7-.9 .4-2.5-.6z" color="#4749ec"/>
<path d="M112.2 439.8l1.2 .4-1 .5-1.2-.3z" color="#474ff1"/>
<path d="M109.7 438.9l2.5 .9-1 .6-2.4-.7z" color="#4754f4"/>
<path d="M108.5 438.4l1.2 .5-.9 .8-1.2-.4z" color="#465af7"/>
<path d="M107.3 437.9l1.2 .5-.9 .9-1.3-.4z" color="#455ffb"/>
<path d="M104.8 436.8l2.5 1.1-1 1-2.4-.9z" color="#4365fc"/>
<path d="M103.6 436.2l1.2 .6-.9 1.2-1.2-.5z" color="#3f6bfc"/>
<path d="M102.4 435.6l1.2 .6-.9 1.3-1.2-.5z" color="#3a71fd"/>
<path d="M179.1 418.7l2.4-2.6-.9 1-2.5 2.4z" color="#455ffb"/>
<path d="M177.8 419.9l1.3-1.2-1 .8-1.2 1.1z" color="#465af7"/>
<path d="M176.6 421.1l1.2-1.2-.9 .7-1.2 1.1z" color="#4754f4"/>
<path d="M174.2 423.4l2.4-2.3-.9 .6-2.5 2.2z" color="#474ff1"/>
<path d="M173 424.5l1.2-1.1-1 .5-1.2 1z" color="#4749ec"/>
<path d="M170.5 426.6l2.5-2.1-1 .4-2.4 2z" color="#4744e5"/>
<path d="M168.1 428.6l2.4-2-.9 .3-2.5 1.8z" color="#463fdf"/>
<path d="M165.6 430.5l2.5-1.9-1 .1-2.4 1.8z" color="#4539d8"/>
<path d="M163.2 432.2l2.4-1.7-.9 0-2.5 1.6z" color="#4434cf"/>
<path d="M159.5 434.5l3.7-2.3-1-.1-3.6 2.2z" color="#4230c4"/>
<path d="M155.8 436.6l3.7-2.1-.9-.2-3.7 2z" color="#402cb9"/>
<path d="M135.1 442.8l4.9-.7 4.9-1.1 4.8-1.6 6.1-2.8-.9-.3-4.9 2.2-4.9 1.7-6.1 1.5-4.8 .7z" color="#3f28ae"/>
<path d="M130.2 442.8l4.9 0-.9-.4-4.9 .2z" color="#402cb9"/>
<path d="M125.3 442.4l2.5 .3-1-.1-2.4-.2z" color="#4434cf"/>
<path d="M122.9 442l2.4 .4-.9 0-2.5-.3z" color="#4539d8"/>
<path d="M120.4 441.5l2.5 .5-1 .1-2.4-.4z" color="#463fdf"/>
<path d="M118 440.8l2.4 .7-.9 .2-2.5-.5z" color="#4744e5"/>
<path d="M116.8 440.4l1.2 .4-1 .4-1.2-.3z" color="#4749ec"/>
<path d="M114.3 439.6l2.5 .8-1 .5-2.4-.7z" color="#474ff1"/>
<path d="M113.1 439.1l1.2 .5-.9 .6-1.2-.4z" color="#4754f4"/>
<path d="M110.7 438l2.4 1.1-.9 .7-2.5-.9z" color="#465af7"/>
<path d="M109.4 437.5l1.3 .5-1 .9-1.2-.5z" color="#455ffb"/>
<path d="M108.2 436.9l1.2 .6-.9 .9-1.2-.5z" color="#4365fc"/>
<path d="M107 436.2l1.2 .7-.9 1-1.2-.5z" color="#3f6bfc"/>
<path d="M105.8 435.5l1.2 .7-.9 1.2-1.3-.6z" color="#3a71fd"/>
<path d="M104.6 434.8l1.2 .7-1 1.3-1.2-.6z" color="#3677fd"/>
<path d="M103.3 434.1l1.2 .7-.9 1.4-1.2-.6z" color="#327dfb"/>
<path d="M182.4 415.1l1.3-1.5-1 1.2-1.2 1.3z" color="#3a71fd"/>
<path d="M180 417.8l1.2-1.3-.9 .9-1.2 1.3z" color="#4365fc"/>
<path d="M177.6 420.4l1.2-1.3-1 .8-1.2 1.2z" color="#465af7"/>
<path d="M175.1 422.9l2.5-2.5-1 .7-2.4 2.3z" color="#4754f4"/>
<path d="M173.9 424.1l1.2-1.2-.9 .5-1.2 1.1z" color="#474ff1"/>
<path d="M171.4 426.4l2.5-2.3-.9 .4-2.5 2.1z" color="#4749ec"/>
<path d="M170.2 427.4l1.2-1-.9 .2-1.2 1.1z" color="#4744e5"/>
<path d="M167.8 429.5l2.4-2.1-.9 .3-2.5 1.9z" color="#463fdf"/>
<path d="M165.3 431.4l2.5-1.9-1 .1-2.4 1.8z" color="#4539d8"/>
<path d="M162.9 433.2l2.4-1.8-.9 0-2.4 1.6z" color="#4434cf"/>
<path d="M160.4 434.8l2.5-1.6-.9-.2-2.5 1.5z" color="#4230c4"/>
<path d="M155.6 437.6l4.8-2.8-.9-.3-4.9 2.7z" color="#402cb9"/>
<path d="M136 443.1l4.9-.5 4.9-1.1 4.9-1.7 4.9-2.2-1-.4-4.9 2.2-4.8 1.6-4.9 1.1-4.9 .7z" color="#3f28ae"/>
<path d="M129.9 442.9l2.5 .2-1-.2-2.4-.1z" color="#4230c4"/>
<path d="M126.2 442.4l3.7 .5-.9-.1-3.7-.4z" color="#4434cf"/>
<path d="M123.8 441.9l2.5 .5-1 0-2.4-.4z" color="#4539d8"/>
<path d="M122.6 441.6l1.2 .3-.9 .1-1.2-.2z" color="#463fdf"/>
<path d="M120.1 440.8l2.5 .8-1 .2-2.4-.6z" color="#4744e5"/>
<path d="M118.9 440.4l1.2 .4-.9 .4-1.2-.4z" color="#4749ec"/>
<path d="M116.5 439.4l2.4 1-.9 .4-2.5-.8z" color="#474ff1"/>
<path d="M115.3 438.9l1.2 .5-1 .6-1.2-.4z" color="#4754f4"/>
<path d="M114 438.3l1.3 .6-1 .7-1.2-.5z" color="#465af7"/>
<path d="M112.8 437.7l1.2 .6-.9 .8-1.2-.5z" color="#455ffb"/>
<path d="M111.6 437.1l1.2 .6-.9 .9-1.2-.6z" color="#4365fc"/>
<path d="M109.2 435.7l2.4 1.4-.9 .9-2.5-1.1z" color="#3f6bfc"/>
<path d="M107.9 435l1.2 .7-.9 1.2-1.2-.7z" color="#3a71fd"/>
<path d="M106.7 434.2l1.2 .8-.9 1.2-1.2-.7z" color="#3677fd"/>
<path d="M105.5 433.4l1.2 .8-.9 1.3-1.2-.7z" color="#327dfb"/>
<path d="M104.3 432.5l1.2 .9-1 1.4-1.2-.7z" color="#3182f8"/>
<path d="M180.9 416.9l1.2-1.5-.9 1.1-1.2 1.3z" color="#3f6bfc"/>
<path d="M179.7 418.3l1.2-1.4-.9 .9-1.2 1.3z" color="#4365fc"/>
<path d="M178.5 419.7l1.2-1.4-.9 .8-1.2 1.3z" color="#455ffb"/>
<path d="M176 422.4l2.5-2.7-.9 .7-2.5 2.5z" color="#465af7"/>
<path d="M174.8 423.6l1.2-1.2-.9 .5-1.2 1.2z" color="#4754f4"/>
<path d="M173.6 424.9l1.2-1.3-.9 .5-1.2 1.2z" color="#474ff1"/>
<path d="M171.2 427.2l2.4-2.3-.9 .4-2.5 2.1z" color="#4749ec"/>
<path d="M169.9 428.3l1.3-1.1-1 .2-1.2 1.1z" color="#4744e5"/>
<path d="M167.5 430.4l2.4-2.1-.9 .2-2.4 2z" color="#463fdf"/>
<path d="M166.3 431.4l1.2-1-.9 .1-1.3 .9z" color="#4539d8"/>
<path d="M163.8 433.3l2.5-1.9-1 0-2.4 1.8z" color="#4434cf"/>
<path d="M160.2 435.8l3.6-2.5-.9-.1-3.7 2.3z" color="#4230c4"/>
<path d="M156.5 437.9l3.7-2.1-1-.3-3.6 2.1z" color="#402cb9"/>
<path d="M138.2 443.4l4.9-.6 3.6-.9 4.9-1.6 4.9-2.4-.9-.3-4.9 2.2-3.7 1.3-4.9 1.3-4.9 .6z" color="#3f28ae"/>
<path d="M130.8 443.1l3.7 .3-.9-.3-3.7-.2z" color="#4230c4"/>
<path d="M128.4 442.7l2.4 .4-.9-.2-2.4-.3z" color="#4434cf"/>
<path d="M126 442.1l2.4 .6-.9-.1-2.5-.4z" color="#4539d8"/>
<path d="M124.7 441.7l1.3 .4-1 .1-1.2-.3z" color="#463fdf"/>
<path d="M122.3 440.9l2.4 .8-.9 .2-2.4-.7z" color="#4744e5"/>
<path d="M121.1 440.5l1.2 .4-.9 .3-1.3-.4z" color="#4749ec"/>
<path d="M119.9 439.9l1.2 .6-1 .3-1.2-.4z" color="#474ff1"/>
<path d="M117.4 438.8l2.5 1.1-1 .5-2.4-1z" color="#4754f4"/>
<path d="M116.2 438.2l1.2 .6-.9 .6-1.2-.5z" color="#465af7"/>
<path d="M115 437.5l1.2 .7-.9 .7-1.3-.6z" color="#455ffb"/>
<path d="M113.8 436.8l1.2 .7-1 .8-1.2-.6z" color="#4365fc"/>
<path d="M112.5 436.1l1.2 .7-.9 .9-1.2-.6z" color="#3f6bfc"/>
<path d="M111.3 435.3l1.2 .8-.9 1-1.2-.7z" color="#3a71fd"/>
<path d="M110.1 434.5l1.2 .8-.9 1.1-1.2-.7z" color="#3677fd"/>
<path d="M108.9 433.6l1.2 .9-1 1.2-1.2-.7z" color="#327dfb"/>
<path d="M107.6 432.7l1.3 .9-1 1.4-1.2-.8z" color="#3182f8"/>
<path d="M106.4 431.8l1.2 .9-.9 1.5-1.2-.8z" color="#2f88f5"/>
<path d="M105.2 430.8l1.2 1-.9 1.6-1.2-.9z" color="#2d8df1"/>
<path d="M183.1 414.3l1.2-1.6-.9 1.2-1.2 1.5z" color="#327dfb"/>
<path d="M181.9 415.9l1.2-1.6-.9 1.1-1.3 1.5z" color="#3677fd"/>
<path d="M180.6 417.4l1.3-1.5-1 1-1.2 1.4z" color="#3a71fd"/>
<path d="M179.4 418.9l1.2-1.5-.9 .9-1.2 1.4z" color="#3f6bfc"/>
<path d="M178.2 420.3l1.2-1.4-.9 .8-1.2 1.3z" color="#4365fc"/>
<path d="M177 421.7l1.2-1.4-.9 .7-1.3 1.4z" color="#455ffb"/>
<path d="M175.8 423.1l1.2-1.4-1 .7-1.2 1.2z" color="#465af7"/>
<path d="M174.5 424.4l1.3-1.3-1 .5-1.2 1.3z" color="#4754f4"/>
<path d="M173.3 425.7l1.2-1.3-.9 .5-1.2 1.1z" color="#474ff1"/>
<path d="M172.1 426.9l1.2-1.2-.9 .3-1.2 1.2z" color="#4749ec"/>
<path d="M169.6 429.3l2.5-2.4-.9 .3-2.5 2.2z" color="#4744e5"/>
<path d="M168.4 430.3l1.2-1-.9 .1-1.2 1z" color="#463fdf"/>
<path d="M166 432.4l2.4-2.1-.9 .1-2.5 2z" color="#4539d8"/>
<path d="M163.5 434.3l2.5-1.9-1 0-2.4 1.8z" color="#4434cf"/>
<path d="M161.1 436l2.4-1.7-.9-.1-2.4 1.6z" color="#4230c4"/>
<path d="M157.4 438.3l3.7-2.3-.9-.2-3.7 2.1z" color="#402cb9"/>
<path d="M139.1 443.7l4.9-.5 4.9-1.2 3.7-1.3 4.8-2.4-.9-.4-4.9 2.4-4.9 1.6-3.6 .9-4.9 .6z" color="#3f28ae"/>
<path d="M135.4 443.7l3.7 0-.9-.3-3.7 0z" color="#402cb9"/>
<path d="M133 443.4l2.4 .3-.9-.3-2.4-.2z" color="#4230c4"/>
<path d="M128.1 442.3l2.5 .7-1-.1-2.4-.5z" color="#4539d8"/>
<path d="M126.9 442l1.2 .3-.9 .1-1.2-.3z" color="#463fdf"/>
<path d="M124.5 441.1l2.4 .9-.9 .1-2.5-.8z" color="#4744e5"/>
<path d="M123.2 440.6l1.3 .5-1 .2-1.2-.4z" color="#4749ec"/>
<path d="M122 440l1.2 .6-.9 .3-1.2-.4z" color="#474ff1"/>
<path d="M119.6 438.8l2.4 1.2-.9 .5-2.5-1.1z" color="#4754f4"/>
<path d="M118.4 438.1l1.2 .7-1 .6-1.2-.6z" color="#465af7"/>
<path d="M117.1 437.4l1.2 .7-.9 .7-1.2-.6z" color="#455ffb"/>
<path d="M115.9 436.7l1.2 .7-.9 .8-1.2-.7z" color="#4365fc"/>
<path d="M114.7 435.9l1.2 .8-.9 .8-1.2-.7z" color="#3f6bfc"/>
<path d="M113.5 435l1.2 .9-1 .9-1.2-.7z" color="#3a71fd"/>
<path d="M112.2 434.1l1.3 .9-1 1.1-1.2-.8z" color="#3677fd"/>
<path d="M111 433.2l1.2 .9-.9 1.2-1.2-.8z" color="#327dfb"/>
<path d="M109.8 432.2l1.2 1-.9 1.3-1.2-.9z" color="#2f88f5"/>
<path d="M108.6 431.2l1.2 1-.9 1.4-1.3-.9z" color="#2d8df1"/>
<path d="M107.4 430.1l1.2 1.1-1 1.5-1.2-.9z" color="#2b92ee"/>
<path d="M106.1 429l1.3 1.1-1 1.7-1.2-1z" color="#2897eb"/>
<path d="M185.2 411.4l1.3-1.8-1 1.4-1.2 1.7z" color="#2f88f5"/>
<path d="M181.6 416.4l1.2-1.6-.9 1.1-1.3 1.5z" color="#3677fd"/>
<path d="M180.4 418l1.2-1.6-1 1-1.2 1.5z" color="#3a71fd"/>
<path d="M179.1 419.6l1.3-1.6-1 .9-1.2 1.4z" color="#3f6bfc"/>
<path d="M177.9 421.1l1.2-1.5-.9 .7-1.2 1.4z" color="#4365fc"/>
<path d="M176.7 422.5l1.2-1.4-.9 .6-1.2 1.4z" color="#455ffb"/>
<path d="M175.5 423.9l1.2-1.4-.9 .6-1.3 1.3z" color="#465af7"/>
<path d="M174.2 425.3l1.3-1.4-1 .5-1.2 1.3z" color="#4754f4"/>
<path d="M173 426.6l1.2-1.3-.9 .4-1.2 1.2z" color="#474ff1"/>
<path d="M171.8 427.9l1.2-1.3-.9 .3-1.2 1.2z" color="#4749ec"/>
<path d="M169.4 430.3l2.4-2.4-.9 .2-2.5 2.2z" color="#4744e5"/>
<path d="M168.1 431.4l1.3-1.1-1 0-1.2 1.1z" color="#463fdf"/>
<path d="M165.7 433.5l2.4-2.1-.9 0-2.4 2z" color="#4539d8"/>
<path d="M163.3 435.4l2.4-1.9-.9-.1-2.5 1.8z" color="#4434cf"/>
<path d="M160.8 437.1l2.5-1.7-1-.2-2.4 1.6z" color="#4230c4"/>
<path d="M157.2 439.3l3.6-2.2-.9-.3-3.7 2.2z" color="#402cb9"/>
<path d="M140 444.1l3.7-.2 4.9-1 4.9-1.8 3.7-1.8-1-.3-3.6 1.7-4.9 1.7-3.7 .8-4.9 .5z" color="#3f28ae"/>
<path d="M137.6 444l2.4 .1-.9-.4-2.4 0z" color="#402cb9"/>
<path d="M133.9 443.5l3.7 .5-.9-.3-3.7-.3z" color="#4230c4"/>
<path d="M132.7 443.3l1.2 .2-.9-.1-1.2-.2z" color="#4434cf"/>
<path d="M130.3 442.7l2.4 .6-.9-.1-2.5-.5z" color="#4539d8"/>
<path d="M127.8 441.8l2.5 .9-1 0-2.4-.7z" color="#463fdf"/>
<path d="M126.6 441.3l1.2 .5-.9 .2-1.2-.5z" color="#4744e5"/>
<path d="M125.4 440.8l1.2 .5-.9 .2-1.2-.4z" color="#4749ec"/>
<path d="M124.2 440.2l1.2 .6-.9 .3-1.3-.5z" color="#474ff1"/>
<path d="M121.7 438.9l2.5 1.3-1 .4-2.4-1.2z" color="#4754f4"/>
<path d="M120.5 438.2l1.2 .7-.9 .5-1.2-.6z" color="#465af7"/>
<path d="M119.3 437.4l1.2 .8-.9 .6-1.2-.7z" color="#455ffb"/>
<path d="M118.1 436.6l1.2 .8-1 .7-1.2-.7z" color="#4365fc"/>
<path d="M116.8 435.7l1.3 .9-1 .8-1.2-.7z" color="#3f6bfc"/>
<path d="M115.6 434.8l1.2 .9-.9 1-1.2-.8z" color="#3677fd"/>
<path d="M114.4 433.8l1.2 1-.9 1.1-1.2-.9z" color="#327dfb"/>
<path d="M113.2 432.8l1.2 1-.9 1.2-1.3-.9z" color="#3182f8"/>
<path d="M112 431.8l1.2 1-1 1.3-1.2-.9z" color="#2f88f5"/>
<path d="M110.7 430.7l1.3 1.1-1 1.4-1.2-1z" color="#2d8df1"/>
<path d="M109.5 429.5l1.2 1.2-.9 1.5-1.2-1z" color="#2897eb"/>
<path d="M108.3 428.3l1.2 1.2-.9 1.7-1.2-1.1z" color="#259ce8"/>
<path d="M107.1 427.1l1.2 1.2-.9 1.8-1.3-1.1z" color="#22a1e5"/>
<path d="M185 411.9l1.2-1.9-1 1.4-1.2 1.7z" color="#2d8df1"/>
<path d="M183.7 413.7l1.3-1.8-1 1.2-1.2 1.7z" color="#2f88f5"/>
<path d="M181.3 417.1l1.2-1.7-.9 1-1.2 1.6z" color="#3677fd"/>
<path d="M180.1 418.8l1.2-1.7-.9 .9-1.3 1.6z" color="#3a71fd"/>
<path d="M178.8 420.4l1.3-1.6-1 .8-1.2 1.5z" color="#3f6bfc"/>
<path d="M177.6 421.9l1.2-1.5-.9 .7-1.2 1.4z" color="#4365fc"/>
<path d="M176.4 423.4l1.2-1.5-.9 .6-1.2 1.4z" color="#455ffb"/>
<path d="M175.2 424.9l1.2-1.5-.9 .5-1.2 1.4z" color="#465af7"/>
<path d="M174 426.3l1.2-1.4-.9 .4-1.3 1.3z" color="#4754f4"/>
<path d="M172.7 427.6l1.3-1.3-1 .3-1.2 1.3z" color="#474ff1"/>
<path d="M171.5 428.9l1.2-1.3-.9 .3-1.2 1.2z" color="#4749ec"/>
<path d="M170.3 430.1l1.2-1.2-.9 .2-1.2 1.2z" color="#4744e5"/>
<path d="M167.9 432.5l2.4-2.4-.9 .2-2.5 2.2z" color="#463fdf"/>
<path d="M166.6 433.5l1.3-1-1 0-1.2 1z" color="#4539d8"/>
<path d="M164.2 435.6l2.4-2.1-.9 0-2.4 1.9z" color="#4434cf"/>
<path d="M161.8 437.4l2.4-1.8-.9-.2-2.5 1.7z" color="#4230c4"/>
<path d="M158.1 439.7l3.7-2.3-1-.3-3.6 2.2z" color="#402cb9"/>
<path d="M142.2 444.4l3.7-.3 4.9-1.1 3.6-1.4 3.7-1.9-.9-.4-3.7 1.8-3.7 1.4-4.9 1.2-3.6 .4z" color="#3f28ae"/>
<path d="M136.1 443.9l2.4 .4-.9-.3-2.4-.2z" color="#4230c4"/>
<path d="M133.7 443.4l2.4 .5-.9-.1-2.5-.5z" color="#4434cf"/>
<path d="M132.4 443l1.3 .4-1-.1-1.2-.3z" color="#4539d8"/>
<path d="M130 442.2l2.4 .8-.9 0-2.4-.7z" color="#463fdf"/>
<path d="M128.8 441.6l1.2 .6-.9 .1-1.3-.5z" color="#4744e5"/>
<path d="M127.5 441.1l1.3 .5-1 .2-1.2-.5z" color="#4749ec"/>
<path d="M125.1 439.8l2.4 1.3-.9 .2-2.4-1.1z" color="#474ff1"/>
<path d="M123.9 439.1l1.2 .7-.9 .4-1.3-.6z" color="#4754f4"/>
<path d="M122.7 438.3l1.2 .8-1 .5-1.2-.7z" color="#465af7"/>
<path d="M121.4 437.5l1.3 .8-1 .6-1.2-.7z" color="#455ffb"/>
<path d="M120.2 436.6l1.2 .9-.9 .7-1.2-.8z" color="#4365fc"/>
<path d="M119 435.7l1.2 .9-.9 .8-1.2-.8z" color="#3a71fd"/>
<path d="M117.8 434.7l1.2 1-.9 .9-1.3-.9z" color="#3677fd"/>
<path d="M116.6 433.7l1.2 1-1 1-1.2-.9z" color="#327dfb"/>
<path d="M115.3 432.6l1.3 1.1-1 1.1-1.2-1z" color="#3182f8"/>
<path d="M114.1 431.5l1.2 1.1-.9 1.2-1.2-1z" color="#2f88f5"/>
<path d="M112.9 430.3l1.2 1.2-.9 1.3-1.2-1z" color="#2b92ee"/>
<path d="M111.7 429.1l1.2 1.2-.9 1.5-1.3-1.1z" color="#2897eb"/>
<path d="M110.4 427.8l1.3 1.3-1 1.6-1.2-1.2z" color="#22a1e5"/>
<path d="M109.2 426.5l1.2 1.3-.9 1.7-1.2-1.2z" color="#1fa5e1"/>
<path d="M108 425.1l1.2 1.4-.9 1.8-1.2-1.2z" color="#14add9"/>
<path d="M193.2 397.8l1.2-2.4-.9 2.4-1.2 2.1z" color="#10bac3"/>
<path d="M185.9 410.5l1.2-2-.9 1.5-1.2 1.9z" color="#2b92ee"/>
<path d="M184.7 412.5l1.2-2-.9 1.4-1.3 1.8z" color="#2d8df1"/>
<path d="M183.4 414.3l1.3-1.8-1 1.2-1.2 1.7z" color="#2f88f5"/>
<path d="M182.2 416.1l1.2-1.8-.9 1.1-1.2 1.7z" color="#327dfb"/>
<path d="M181 417.9l1.2-1.8-.9 1-1.2 1.7z" color="#3677fd"/>
<path d="M179.8 419.6l1.2-1.7-.9 .9-1.2 1.6z" color="#3a71fd"/>
<path d="M178.6 421.3l1.2-1.7-.9 .8-1.3 1.5z" color="#3f6bfc"/>
<path d="M177.3 422.9l1.3-1.6-1 .6-1.2 1.5z" color="#4365fc"/>
<path d="M176.1 424.4l1.2-1.5-.9 .5-1.2 1.5z" color="#455ffb"/>
<path d="M174.9 425.9l1.2-1.5-.9 .5-1.2 1.4z" color="#465af7"/>
<path d="M173.7 427.3l1.2-1.4-.9 .4-1.3 1.3z" color="#4754f4"/>
<path d="M172.5 428.7l1.2-1.4-1 .3-1.2 1.3z" color="#474ff1"/>
<path d="M171.2 430l1.3-1.3-1 .2-1.2 1.2z" color="#4749ec"/>
<path d="M170 431.3l1.2-1.3-.9 .1-1.2 1.2z" color="#4744e5"/>
<path d="M168.8 432.5l1.2-1.2-.9 0-1.2 1.2z" color="#463fdf"/>
<path d="M166.4 434.7l2.4-2.2-.9 0-2.5 2.1z" color="#4539d8"/>
<path d="M163.9 436.7l2.4-2-.9-.1-2.4 1.9z" color="#4434cf"/>
<path d="M161.5 438.5l2.4-1.8-.9-.2-2.5 1.7z" color="#4230c4"/>
<path d="M159 440.1l2.5-1.6-1-.3-2.4 1.5z" color="#402cb9"/>
<path d="M143.1 444.8l3.7-.2 4.9-1.2 3.7-1.4 3.6-1.9-.9-.4-3.7 1.9-3.6 1.4-4.9 1.1-3.7 .3z" color="#3f28ae"/>
<path d="M135.8 443.8l1.2 .3-.9-.2-1.2-.2z" color="#4434cf"/>
<path d="M133.4 443l2.4 .8-.9-.1-2.5-.7z" color="#4539d8"/>
<path d="M132.2 442.6l1.2 .4-1 0-1.2-.4z" color="#463fdf"/>
<path d="M130.9 442l1.2 .6-.9 0-1.2-.4z" color="#4744e5"/>
<path d="M128.5 440.8l2.4 1.2-.9 .2-2.5-1.1z" color="#4749ec"/>
<path d="M127.3 440.1l1.2 .7-1 .3-1.2-.6z" color="#474ff1"/>
<path d="M126 439.4l1.3 .7-1 .4-1.2-.7z" color="#4754f4"/>
<path d="M124.8 438.6l1.2 .8-.9 .4-1.2-.7z" color="#465af7"/>
<path d="M123.6 437.7l1.2 .9-.9 .5-1.2-.8z" color="#455ffb"/>
<path d="M122.4 436.8l1.2 .9-.9 .6-1.3-.8z" color="#4365fc"/>
<path d="M121.2 435.8l1.2 1-1 .7-1.2-.9z" color="#3a71fd"/>
<path d="M119.9 434.8l1.3 1-1 .8-1.2-.9z" color="#3677fd"/>
<path d="M118.7 433.7l1.2 1.1-.9 .9-1.2-1z" color="#327dfb"/>
<path d="M117.5 432.5l1.2 1.2-.9 1-1.2-1z" color="#3182f8"/>
<path d="M116.3 431.3l1.2 1.2-.9 1.2-1.3-1.1z" color="#2d8df1"/>
<path d="M115 430.1l1.3 1.2-1 1.3-1.2-1.1z" color="#2b92ee"/>
<path d="M113.8 428.8l1.2 1.3-.9 1.4-1.2-1.2z" color="#259ce8"/>
<path d="M112.6 427.4l1.2 1.4-.9 1.5-1.2-1.2z" color="#22a1e5"/>
<path d="M111.4 426l1.2 1.4-.9 1.7-1.3-1.3z" color="#19a9dd"/>
<path d="M110.2 424.5l1.2 1.5-1 1.8-1.2-1.3z" color="#14add9"/>
<path d="M108.9 422.9l1.3 1.6-1 2-1.2-1.4z" color="#0cb5d0"/>
<path d="M194.2 395.5l1.2-2.5-1 2.4-1.2 2.4z" color="#1fc1ae"/>
<path d="M186.8 409.1l1.2-2.1-.9 1.5-1.2 2z" color="#259ce8"/>
<path d="M185.6 411.2l1.2-2.1-.9 1.4-1.2 2z" color="#2897eb"/>
<path d="M184.4 413.2l1.2-2-.9 1.3-1.2 1.8z" color="#2d8df1"/>
<path d="M183.2 415.1l1.2-1.9-.9 1.1-1.3 1.8z" color="#2f88f5"/>
<path d="M181.9 417l1.3-1.9-1 1-1.2 1.8z" color="#327dfb"/>
<path d="M180.7 418.8l1.2-1.8-.9 .9-1.2 1.7z" color="#3677fd"/>
<path d="M179.5 420.6l1.2-1.8-.9 .8-1.2 1.7z" color="#3a71fd"/>
<path d="M178.3 422.3l1.2-1.7-.9 .7-1.3 1.6z" color="#3f6bfc"/>
<path d="M177.1 423.9l1.2-1.6-1 .6-1.2 1.5z" color="#455ffb"/>
<path d="M175.8 425.5l1.3-1.6-1 .5-1.2 1.5z" color="#465af7"/>
<path d="M174.6 427l1.2-1.5-.9 .4-1.2 1.4z" color="#4754f4"/>
<path d="M173.4 428.4l1.2-1.4-.9 .3-1.2 1.4z" color="#474ff1"/>
<path d="M172.2 429.8l1.2-1.4-.9 .3-1.3 1.3z" color="#4749ec"/>
<path d="M169.7 432.4l2.5-2.6-1 .2-2.4 2.5z" color="#4744e5"/>
<path d="M168.5 433.6l1.2-1.2-.9 .1-1.2 1.1z" color="#463fdf"/>
<path d="M167.3 434.8l1.2-1.2-.9 0-1.2 1.1z" color="#4539d8"/>
<path d="M164.8 436.9l2.5-2.1-1-.1-2.4 2z" color="#4434cf"/>
<path d="M162.4 438.8l2.4-1.9-.9-.2-2.4 1.8z" color="#4230c4"/>
<path d="M158.7 441.2l3.7-2.4-.9-.3-3.7 2.3z" color="#402cb9"/>
<path d="M144.1 445.2l3.6-.2 3.7-.7 3.7-1.3 3.6-1.8-.9-.4-3.7 1.7-3.6 1.3-3.7 .8-3.7 .2z" color="#3f28ae"/>
<path d="M136.8 443.9l2.4 .7-.9-.2-2.5-.6z" color="#4434cf"/>
<path d="M135.5 443.5l1.2 .4-.9-.1-1.2-.3z" color="#4539d8"/>
<path d="M133.1 442.5l2.4 1-.9 0-2.4-.9z" color="#463fdf"/>
<path d="M131.9 441.9l1.2 .6-.9 .1-1.3-.6z" color="#4744e5"/>
<path d="M130.6 441.2l1.3 .7-1 .1-1.2-.5z" color="#4749ec"/>
<path d="M129.4 440.5l1.2 .7-.9 .3-1.2-.7z" color="#474ff1"/>
<path d="M128.2 439.7l1.2 .8-.9 .3-1.2-.7z" color="#4754f4"/>
<path d="M127 438.9l1.2 .8-.9 .4-1.3-.7z" color="#465af7"/>
<path d="M125.8 438l1.2 .9-1 .5-1.2-.8z" color="#455ffb"/>
<path d="M124.5 437l1.3 1-1 .6-1.2-.9z" color="#4365fc"/>
<path d="M123.3 436l1.2 1-.9 .7-1.2-.9z" color="#3f6bfc"/>
<path d="M122.1 434.9l1.2 1.1-.9 .8-1.2-1z" color="#3677fd"/>
<path d="M120.9 433.8l1.2 1.1-.9 .9-1.3-1z" color="#327dfb"/>
<path d="M119.6 432.5l1.3 1.3-1 1-1.2-1.1z" color="#3182f8"/>
<path d="M118.4 431.3l1.2 1.2-.9 1.2-1.2-1.2z" color="#2d8df1"/>
<path d="M117.2 429.9l1.2 1.4-.9 1.2-1.2-1.2z" color="#2b92ee"/>
<path d="M116 428.6l1.2 1.3-.9 1.4-1.2-1.2z" color="#259ce8"/>
<path d="M114.8 427.1l1.2 1.5-1 1.5-1.2-1.3z" color="#22a1e5"/>
<path d="M113.5 425.6l1.3 1.5-1 1.7-1.2-1.4z" color="#19a9dd"/>
<path d="M112.3 424l1.2 1.6-.9 1.8-1.2-1.4z" color="#0eb1d5"/>
<path d="M111.1 422.4l1.2 1.6-.9 2-1.2-1.5z" color="#0cb5d0"/>
<path d="M109.9 420.7l1.2 1.7-.9 2.1-1.3-1.6z" color="#10bac3"/>
<path d="M195.1 393.1l1.2-2.6-.9 2.5-1.2 2.5z" color="#2fc69f"/>
<path d="M190.2 403.1l1.2-2.4-.9 1.9-1.2 2.2z" color="#0cb5d0"/>
<path d="M185.3 412l1.2-2.2-.9 1.4-1.2 2z" color="#2897eb"/>
<path d="M184.1 414l1.2-2-.9 1.2-1.2 1.9z" color="#2d8df1"/>
<path d="M182.9 416l1.2-2-.9 1.1-1.3 1.9z" color="#2f88f5"/>
<path d="M181.7 417.9l1.2-1.9-1 1-1.2 1.8z" color="#327dfb"/>
<path d="M180.4 419.8l1.3-1.9-1 .9-1.2 1.8z" color="#3677fd"/>
<path d="M179.2 421.6l1.2-1.8-.9 .8-1.2 1.7z" color="#3a71fd"/>
<path d="M178 423.3l1.2-1.7-.9 .7-1.2 1.6z" color="#4365fc"/>
<path d="M176.8 425l1.2-1.7-.9 .6-1.3 1.6z" color="#455ffb"/>
<path d="M175.5 426.6l1.3-1.6-1 .5-1.2 1.5z" color="#465af7"/>
<path d="M174.3 428.2l1.2-1.6-.9 .4-1.2 1.4z" color="#4754f4"/>
<path d="M173.1 429.6l1.2-1.4-.9 .2-1.2 1.4z" color="#474ff1"/>
<path d="M171.9 431l1.2-1.4-.9 .2-1.2 1.4z" color="#4749ec"/>
<path d="M170.7 432.4l1.2-1.4-.9 .2-1.3 1.2z" color="#4744e5"/>
<path d="M168.2 434.9l2.5-2.5-1 0-2.4 2.4z" color="#463fdf"/>
<path d="M167 436l1.2-1.1-.9-.1-1.2 1.1z" color="#4539d8"/>
<path d="M165.8 437.1l1.2-1.1-.9-.1-1.3 1z" color="#4434cf"/>
<path d="M163.3 439.1l2.5-2-1-.2-2.4 1.9z" color="#4230c4"/>
<path d="M159.7 441.6l3.6-2.5-.9-.3-3.7 2.4z" color="#402cb9"/>
<path d="M146.2 445.6l3.7-.3 3.7-.9 3.6-1.5 2.5-1.3-1-.4-2.4 1.2-3.7 1.5-3.6 .9-3.7 .4z" color="#3f28ae"/>
<path d="M140.1 444.8l2.5 .5-1-.3-2.4-.4z" color="#4230c4"/>
<path d="M138.9 444.5l1.2 .3-.9-.2-1.2-.3z" color="#4434cf"/>
<path d="M136.5 443.6l2.4 .9-.9-.2-2.5-.8z" color="#4539d8"/>
<path d="M135.2 443l1.3 .6-1-.1-1.2-.5z" color="#463fdf"/>
<path d="M134 442.4l1.2 .6-.9 0-1.2-.5z" color="#4744e5"/>
<path d="M132.8 441.7l1.2 .7-.9 .1-1.2-.6z" color="#4749ec"/>
<path d="M131.6 441l1.2 .7-.9 .2-1.3-.7z" color="#474ff1"/>
<path d="M130.4 440.2l1.2 .8-1 .2-1.2-.7z" color="#4754f4"/>
<path d="M129.1 439.3l1.3 .9-1 .3-1.2-.8z" color="#465af7"/>
<path d="M127.9 438.4l1.2 .9-.9 .4-1.2-.8z" color="#455ffb"/>
<path d="M126.7 437.4l1.2 1-.9 .5-1.2-.9z" color="#4365fc"/>
<path d="M125.5 436.3l1.2 1.1-.9 .6-1.3-1z" color="#3f6bfc"/>
<path d="M124.2 435.2l1.3 1.1-1 .7-1.2-1z" color="#3677fd"/>
<path d="M123 434l1.2 1.2-.9 .8-1.2-1.1z" color="#327dfb"/>
<path d="M121.8 432.7l1.2 1.3-.9 .9-1.2-1.1z" color="#3182f8"/>
<path d="M120.6 431.4l1.2 1.3-.9 1.1-1.3-1.3z" color="#2d8df1"/>
<path d="M119.4 430l1.2 1.4-1 1.1-1.2-1.2z" color="#2b92ee"/>
<path d="M118.1 428.5l1.3 1.5-1 1.3-1.2-1.4z" color="#259ce8"/>
<path d="M116.9 427l1.2 1.5-.9 1.4-1.2-1.3z" color="#1fa5e1"/>
<path d="M115.7 425.4l1.2 1.6-.9 1.6-1.2-1.5z" color="#19a9dd"/>
<path d="M114.5 423.7l1.2 1.7-.9 1.7-1.3-1.5z" color="#0eb1d5"/>
<path d="M113.3 422l1.2 1.7-1 1.9-1.2-1.6z" color="#0eb7c9"/>
<path d="M112 420.2l1.3 1.8-1 2-1.2-1.6z" color="#12bdbc"/>
<path d="M110.8 418.4l1.2 1.8-.9 2.2-1.2-1.7z" color="#1fc1ae"/>
<path d="M196 390.6l1.2-2.8-.9 2.7-1.2 2.6z" color="#4dca84"/>
<path d="M189.9 403.7l1.2-2.5-.9 1.9-1.2 2.3z" color="#0cb5d0"/>
<path d="M188.7 406.1l1.2-2.4-.9 1.7-1.2 2.2z" color="#14add9"/>
<path d="M187.5 408.4l1.2-2.3-.9 1.5-1.3 2.2z" color="#1fa5e1"/>
<path d="M186.3 410.7l1.2-2.3-1 1.4-1.2 2.2z" color="#259ce8"/>
<path d="M185 412.9l1.3-2.2-1 1.3-1.2 2z" color="#2897eb"/>
<path d="M183.8 415l1.2-2.1-.9 1.1-1.2 2z" color="#2d8df1"/>
<path d="M182.6 417l1.2-2-.9 1-1.2 1.9z" color="#2f88f5"/>
<path d="M181.4 419l1.2-2-.9 .9-1.3 1.9z" color="#327dfb"/>
<path d="M180.1 420.9l1.3-1.9-1 .8-1.2 1.8z" color="#3677fd"/>
<path d="M178.9 422.8l1.2-1.9-.9 .7-1.2 1.7z" color="#3f6bfc"/>
<path d="M177.7 424.5l1.2-1.7-.9 .5-1.2 1.7z" color="#4365fc"/>
<path d="M176.5 426.2l1.2-1.7-.9 .5-1.2 1.6z" color="#455ffb"/>
<path d="M175.3 427.9l1.2-1.7-1 .4-1.2 1.6z" color="#465af7"/>
<path d="M174 429.4l1.3-1.5-1 .3-1.2 1.4z" color="#4754f4"/>
<path d="M172.8 430.9l1.2-1.5-.9 .2-1.2 1.4z" color="#474ff1"/>
<path d="M171.6 432.3l1.2-1.4-.9 .1-1.2 1.4z" color="#4749ec"/>
<path d="M170.4 433.7l1.2-1.4-.9 .1-1.3 1.3z" color="#4744e5"/>
<path d="M169.2 435l1.2-1.3-1 0-1.2 1.2z" color="#463fdf"/>
<path d="M167.9 436.2l1.3-1.2-1-.1-1.2 1.1z" color="#4539d8"/>
<path d="M165.5 438.4l2.4-2.2-.9-.2-2.4 2.1z" color="#4434cf"/>
<path d="M163 440.3l2.5-1.9-.9-.3-2.5 1.9z" color="#4230c4"/>
<path d="M160.6 441.9l2.4-1.6-.9-.3-2.4 1.6z" color="#402cb9"/>
<path d="M147.2 446l3.6-.3 3.7-.9 3.7-1.5 2.4-1.4-.9-.3-2.5 1.3-3.6 1.5-3.7 .9-3.7 .3z" color="#3f28ae"/>
<path d="M139.8 444.6l2.5 .7-1-.2-2.4-.6z" color="#4434cf"/>
<path d="M138.6 444.1l1.2 .5-.9-.1-1.2-.5z" color="#4539d8"/>
<path d="M136.2 443l2.4 1.1-.9-.1-2.5-1z" color="#463fdf"/>
<path d="M135 442.3l1.2 .7-1 0-1.2-.6z" color="#4744e5"/>
<path d="M133.7 441.5l1.3 .8-1 .1-1.2-.7z" color="#4749ec"/>
<path d="M132.5 440.7l1.2 .8-.9 .2-1.2-.7z" color="#474ff1"/>
<path d="M131.3 439.8l1.2 .9-.9 .3-1.2-.8z" color="#4754f4"/>
<path d="M130.1 438.8l1.2 1-.9 .4-1.3-.9z" color="#455ffb"/>
<path d="M128.8 437.8l1.3 1-1 .5-1.2-.9z" color="#4365fc"/>
<path d="M127.6 436.7l1.2 1.1-.9 .6-1.2-1z" color="#3f6bfc"/>
<path d="M126.4 435.5l1.2 1.2-.9 .7-1.2-1.1z" color="#3a71fd"/>
<path d="M125.2 434.3l1.2 1.2-.9 .8-1.3-1.1z" color="#327dfb"/>
<path d="M124 433l1.2 1.3-1 .9-1.2-1.2z" color="#3182f8"/>
<path d="M122.7 431.6l1.3 1.4-1 1-1.2-1.3z" color="#2d8df1"/>
<path d="M121.5 430.1l1.2 1.5-.9 1.1-1.2-1.3z" color="#2b92ee"/>
<path d="M120.3 428.6l1.2 1.5-.9 1.3-1.2-1.4z" color="#259ce8"/>
<path d="M119.1 427l1.2 1.6-.9 1.4-1.3-1.5z" color="#1fa5e1"/>
<path d="M117.9 425.3l1.2 1.7-1 1.5-1.2-1.5z" color="#19a9dd"/>
<path d="M116.6 423.6l1.3 1.7-1 1.7-1.2-1.6z" color="#0eb1d5"/>
<path d="M115.4 421.8l1.2 1.8-.9 1.8-1.2-1.7z" color="#0eb7c9"/>
<path d="M114.2 419.9l1.2 1.9-.9 1.9-1.2-1.7z" color="#12bdbc"/>
<path d="M113 418l1.2 1.9-.9 2.1-1.3-1.8z" color="#1fc1ae"/>
<path d="M111.8 415.9l1.2 2.1-1 2.2-1.2-1.8z" color="#2fc69f"/>
<path d="M197 388l1.2-3-.9 2.8-1.3 2.8z" color="#71cc66"/>
<path d="M189.6 404.5l1.3-2.6-1 1.8-1.2 2.4z" color="#0cb5d0"/>
<path d="M188.4 406.9l1.2-2.4-.9 1.6-1.2 2.3z" color="#14add9"/>
<path d="M187.2 409.3l1.2-2.4-.9 1.5-1.2 2.3z" color="#1fa5e1"/>
<path d="M186 411.6l1.2-2.3-.9 1.4-1.3 2.2z" color="#259ce8"/>
<path d="M184.8 413.9l1.2-2.3-1 1.3-1.2 2.1z" color="#2897eb"/>
<path d="M183.5 416.1l1.2-2.2-.9 1.1-1.2 2z" color="#2d8df1"/>
<path d="M182.3 418.2l1.2-2.1-.9 .9-1.2 2z" color="#3182f8"/>
<path d="M181.1 420.2l1.2-2-.9 .8-1.2 1.9z" color="#327dfb"/>
<path d="M179.9 422.1l1.2-1.9-1 .7-1.2 1.9z" color="#3a71fd"/>
<path d="M178.6 424l1.3-1.9-1 .7-1.2 1.7z" color="#3f6bfc"/>
<path d="M177.4 425.8l1.2-1.8-.9 .5-1.2 1.7z" color="#4365fc"/>
<path d="M176.2 427.5l1.2-1.7-.9 .4-1.2 1.7z" color="#455ffb"/>
<path d="M175 429.2l1.2-1.7-.9 .4-1.3 1.5z" color="#4754f4"/>
<path d="M173.8 430.7l1.2-1.5-1 .2-1.2 1.5z" color="#474ff1"/>
<path d="M172.5 432.2l1.3-1.5-1 .2-1.2 1.4z" color="#4749ec"/>
<path d="M171.3 433.7l1.2-1.5-.9 .1-1.2 1.4z" color="#4744e5"/>
<path d="M170.1 435l1.2-1.3-.9 0-1.2 1.3z" color="#463fdf"/>
<path d="M167.6 437.5l2.5-2.5-.9 0-2.5 2.3z" color="#4539d8"/>
<path d="M166.4 438.6l1.2-1.1-.9-.2-1.2 1.1z" color="#4434cf"/>
<path d="M164 440.6l2.4-2-.9-.2-2.5 1.9z" color="#4230c4"/>
<path d="M161.5 442.3l2.5-1.7-1-.3-2.4 1.6z" color="#402cb9"/>
<path d="M148.1 446.4l3.7-.2 3.6-.9 3.7-1.6 2.4-1.4-.9-.4-2.4 1.4-3.7 1.5-3.7 .9-3.6 .3z" color="#3f28ae"/>
<path d="M143.2 445.6l2.5 .5-1-.3-2.4-.5z" color="#4230c4"/>
<path d="M140.8 444.7l2.4 .9-.9-.3-2.5-.7z" color="#4434cf"/>
<path d="M139.6 444.2l1.2 .5-1-.1-1.2-.5z" color="#4539d8"/>
<path d="M138.3 443.6l1.3 .6-1-.1-1.2-.5z" color="#463fdf"/>
<path d="M137.1 442.9l1.2 .7-.9 0-1.2-.6z" color="#4744e5"/>
<path d="M135.9 442.1l1.2 .8-.9 .1-1.2-.7z" color="#4749ec"/>
<path d="M134.7 441.3l1.2 .8-.9 .2-1.3-.8z" color="#474ff1"/>
<path d="M133.5 440.4l1.2 .9-1 .2-1.2-.8z" color="#4754f4"/>
<path d="M132.2 439.4l1.3 1-1 .3-1.2-.9z" color="#465af7"/>
<path d="M131 438.3l1.2 1.1-.9 .4-1.2-1z" color="#455ffb"/>
<path d="M129.8 437.2l1.2 1.1-.9 .5-1.2-1z" color="#3f6bfc"/>
<path d="M128.6 436l1.2 1.2-.9 .6-1.3-1.1z" color="#3a71fd"/>
<path d="M127.3 434.7l1.3 1.3-1 .7-1.2-1.2z" color="#3677fd"/>
<path d="M126.1 433.3l1.2 1.4-.9 .8-1.2-1.2z" color="#3182f8"/>
<path d="M124.9 431.9l1.2 1.4-.9 1-1.2-1.3z" color="#2d8df1"/>
<path d="M123.7 430.4l1.2 1.5-.9 1.1-1.3-1.4z" color="#2b92ee"/>
<path d="M122.5 428.8l1.2 1.6-1 1.2-1.2-1.5z" color="#259ce8"/>
<path d="M121.2 427.1l1.3 1.7-1 1.3-1.2-1.5z" color="#1fa5e1"/>
<path d="M120 425.4l1.2 1.7-.9 1.5-1.2-1.6z" color="#19a9dd"/>
<path d="M118.8 423.6l1.2 1.8-.9 1.6-1.2-1.7z" color="#0eb1d5"/>
<path d="M117.6 421.7l1.2 1.9-.9 1.7-1.3-1.7z" color="#0eb7c9"/>
<path d="M116.4 419.7l1.2 2-1 1.9-1.2-1.8z" color="#12bdbc"/>
<path d="M115.1 417.7l1.2 2-.9 2.1-1.2-1.9z" color="#1fc1ae"/>
<path d="M113.9 415.6l1.2 2.1-.9 2.2-1.2-1.9z" color="#38c897"/>
<path d="M112.7 413.4l1.2 2.2-.9 2.4-1.2-2.1z" color="#4dca84"/>
<path d="M197.9 385.3l1.2-3.2-.9 2.9-1.2 3z" color="#9ac946"/>
<path d="M190.6 402.8l1.2-2.8-.9 1.9-1.3 2.6z" color="#10bac3"/>
<path d="M189.4 405.4l1.2-2.6-1 1.7-1.2 2.4z" color="#0cb5d0"/>
<path d="M188.1 407.9l1.2-2.5-.9 1.5-1.2 2.4z" color="#14add9"/>
<path d="M186.9 410.4l1.2-2.5-.9 1.4-1.2 2.3z" color="#1fa5e1"/>
<path d="M185.7 412.8l1.2-2.4-.9 1.2-1.2 2.3z" color="#259ce8"/>
<path d="M184.5 415.1l1.2-2.3-.9 1.1-1.3 2.2z" color="#2b92ee"/>
<path d="M183.2 417.3l1.3-2.2-1 1-1.2 2.1z" color="#2d8df1"/>
<path d="M182 419.4l1.2-2.1-.9 .9-1.2 2z" color="#3182f8"/>
<path d="M180.8 421.5l1.2-2.1-.9 .8-1.2 1.9z" color="#327dfb"/>
<path d="M179.6 423.5l1.2-2-.9 .6-1.3 1.9z" color="#3a71fd"/>
<path d="M178.4 425.4l1.2-1.9-1 .5-1.2 1.8z" color="#3f6bfc"/>
<path d="M177.1 427.2l1.3-1.8-1 .4-1.2 1.7z" color="#455ffb"/>
<path d="M175.9 428.9l1.2-1.7-.9 .3-1.2 1.7z" color="#465af7"/>
<path d="M174.7 430.6l1.2-1.7-.9 .3-1.2 1.5z" color="#4754f4"/>
<path d="M173.5 432.1l1.2-1.5-.9 .1-1.3 1.5z" color="#474ff1"/>
<path d="M172.2 433.6l1.3-1.5-1 .1-1.2 1.5z" color="#4749ec"/>
<path d="M171 435.1l1.2-1.5-.9 .1-1.2 1.3z" color="#4744e5"/>
<path d="M169.8 436.4l1.2-1.3-.9-.1-1.2 1.3z" color="#463fdf"/>
<path d="M168.6 437.6l1.2-1.2-.9-.1-1.2 1.2z" color="#4539d8"/>
<path d="M166.1 439.9l2.5-2.3-.9-.1-2.5 2.1z" color="#4434cf"/>
<path d="M164.9 440.9l1.2-1-.9-.3-1.2 1z" color="#4230c4"/>
<path d="M162.5 442.7l2.4-1.8-.9-.3-2.5 1.7z" color="#402cb9"/>
<path d="M149 446.8l3.7-.2 3.7-.8 3.6-1.6 2.5-1.5-1-.4-2.4 1.4-3.7 1.6-3.6 .9-3.7 .2z" color="#3f28ae"/>
<path d="M144.2 445.8l2.4 .6-.9-.3-2.5-.5z" color="#4230c4"/>
<path d="M142.9 445.4l1.3 .4-1-.2-1.2-.4z" color="#4434cf"/>
<path d="M141.7 444.9l1.2 .5-.9-.2-1.2-.5z" color="#4539d8"/>
<path d="M139.3 443.6l2.4 1.3-.9-.2-2.5-1.1z" color="#463fdf"/>
<path d="M138 442.8l1.3 .8-1 0-1.2-.7z" color="#4744e5"/>
<path d="M136.8 442l1.2 .8-.9 .1-1.2-.8z" color="#4749ec"/>
<path d="M135.6 441.1l1.2 .9-.9 .1-1.2-.8z" color="#4754f4"/>
<path d="M134.4 440.1l1.2 1-.9 .2-1.2-.9z" color="#465af7"/>
<path d="M133.2 439l1.2 1.1-.9 .3-1.3-1z" color="#455ffb"/>
<path d="M131.9 437.8l1.3 1.2-1 .4-1.2-1.1z" color="#4365fc"/>
<path d="M130.7 436.6l1.2 1.2-.9 .5-1.2-1.1z" color="#3a71fd"/>
<path d="M129.5 435.3l1.2 1.3-.9 .6-1.2-1.2z" color="#3677fd"/>
<path d="M128.3 433.9l1.2 1.4-.9 .7-1.3-1.3z" color="#3182f8"/>
<path d="M127.1 432.4l1.2 1.5-1 .8-1.2-1.4z" color="#2f88f5"/>
<path d="M125.8 430.8l1.3 1.6-1 .9-1.2-1.4z" color="#2b92ee"/>
<path d="M124.6 429.2l1.2 1.6-.9 1.1-1.2-1.5z" color="#259ce8"/>
<path d="M123.4 427.4l1.2 1.8-.9 1.2-1.2-1.6z" color="#22a1e5"/>
<path d="M122.2 425.6l1.2 1.8-.9 1.4-1.3-1.7z" color="#19a9dd"/>
<path d="M121 423.7l1.2 1.9-1 1.5-1.2-1.7z" color="#0eb1d5"/>
<path d="M119.7 421.8l1.2 1.9-.9 1.7-1.2-1.8z" color="#0eb7c9"/>
<path d="M118.5 419.7l1.2 2.1-.9 1.8-1.2-1.9z" color="#12bdbc"/>
<path d="M117.3 417.6l1.2 2.1-.9 2-1.2-2z" color="#27c4a7"/>
<path d="M116.1 415.4l1.2 2.2-1 2.1-1.2-2z" color="#38c897"/>
<path d="M114.8 413.1l1.3 2.3-1 2.3-1.2-2.1z" color="#4dca84"/>
<path d="M113.6 410.7l1.2 2.4-.9 2.5-1.2-2.2z" color="#71cc66"/>
<path d="M198.8 382.5l1.3-3.4-1 3-1.2 3.2z" color="#c2c22e"/>
<path d="M197.6 385.8l1.2-3.3-.9 2.8-1.2 3.1z" color="#9ac946"/>
<path d="M195.2 392.1l1.2-3.1-.9 2.5-1.3 2.9z" color="#57cc7b"/>
<path d="M194 395.2l1.2-3.1-1 2.3-1.2 2.9z" color="#42c98e"/>
<path d="M192.7 398.1l1.2-2.9-.9 2.1-1.2 2.7z" color="#27c4a7"/>
<path d="M191.5 401l1.2-2.9-.9 1.9-1.2 2.8z" color="#17bfb5"/>
<path d="M189.1 406.4l1.2-2.6-.9 1.6-1.3 2.5z" color="#0cb5d0"/>
<path d="M187.8 409l1.3-2.6-1 1.5-1.2 2.5z" color="#14add9"/>
<path d="M186.6 411.6l1.2-2.6-.9 1.4-1.2 2.4z" color="#1fa5e1"/>
<path d="M185.4 414l1.2-2.4-.9 1.2-1.2 2.3z" color="#259ce8"/>
<path d="M184.2 416.3l1.2-2.3-.9 1.1-1.3 2.2z" color="#2b92ee"/>
<path d="M183 418.6l1.2-2.3-1 1-1.2 2.1z" color="#2f88f5"/>
<path d="M181.7 420.8l1.3-2.2-1 .8-1.2 2.1z" color="#3182f8"/>
<path d="M180.5 422.9l1.2-2.1-.9 .7-1.2 2z" color="#3677fd"/>
<path d="M179.3 424.9l1.2-2-.9 .6-1.2 1.9z" color="#3a71fd"/>
<path d="M178.1 426.8l1.2-1.9-.9 .5-1.3 1.8z" color="#4365fc"/>
<path d="M176.8 428.6l1.3-1.8-1 .4-1.2 1.7z" color="#455ffb"/>
<path d="M175.6 430.4l1.2-1.8-.9 .3-1.2 1.7z" color="#4754f4"/>
<path d="M174.4 432l1.2-1.6-.9 .2-1.2 1.5z" color="#474ff1"/>
<path d="M173.2 433.6l1.2-1.6-.9 .1-1.2 1.5z" color="#4749ec"/>
<path d="M172 435.1l1.2-1.5-.9 0-1.3 1.5z" color="#4744e5"/>
<path d="M170.7 436.5l1.3-1.4-1 0-1.2 1.3z" color="#463fdf"/>
<path d="M169.5 437.8l1.2-1.3-.9-.1-1.2 1.2z" color="#4539d8"/>
<path d="M167.1 440.2l2.4-2.4-.9-.2-2.5 2.3z" color="#4434cf"/>
<path d="M165.9 441.2l1.2-1-1-.3-1.2 1z" color="#4230c4"/>
<path d="M162.2 443.9l3.7-2.7-1-.3-3.6 2.6z" color="#402cb9"/>
<path d="M150 447.1l3.6 0 2.5-.5 2.4-.8 3.7-1.9-.9-.4-3.7 1.8-2.4 .8-3.7 .6-2.5 .1z" color="#3f28ae"/>
<path d="M147.5 446.8l2.5 .3-1-.3-2.4-.4z" color="#402cb9"/>
<path d="M143.9 445.5l2.4 .9-.9-.2-2.5-.8z" color="#4434cf"/>
<path d="M142.6 445l1.3 .5-1-.1-1.2-.5z" color="#4539d8"/>
<path d="M141.4 444.3l1.2 .7-.9-.1-1.2-.6z" color="#463fdf"/>
<path d="M140.2 443.6l1.2 .7-.9 0-1.2-.7z" color="#4744e5"/>
<path d="M139 442.7l1.2 .9-.9 0-1.2-.8z" color="#4749ec"/>
<path d="M137.8 441.8l1.2 .9-.9 .1-1.3-.8z" color="#474ff1"/>
<path d="M136.5 440.8l1.3 1-1 .2-1.2-.9z" color="#4754f4"/>
<path d="M135.3 439.7l1.2 1.1-.9 .3-1.2-1z" color="#465af7"/>
<path d="M134.1 438.5l1.2 1.2-.9 .4-1.2-1.1z" color="#4365fc"/>
<path d="M132.9 437.3l1.2 1.2-.9 .5-1.3-1.2z" color="#3f6bfc"/>
<path d="M131.7 435.9l1.2 1.4-1 .5-1.2-1.2z" color="#3677fd"/>
<path d="M130.4 434.5l1.3 1.4-1 .7-1.2-1.3z" color="#327dfb"/>
<path d="M129.2 433l1.2 1.5-.9 .8-1.2-1.4z" color="#2f88f5"/>
<path d="M128 431.3l1.2 1.7-.9 .9-1.2-1.5z" color="#2b92ee"/>
<path d="M126.8 429.6l1.2 1.7-.9 1.1-1.3-1.6z" color="#2897eb"/>
<path d="M125.6 427.9l1.2 1.7-1 1.2-1.2-1.6z" color="#22a1e5"/>
<path d="M124.3 426l1.2 1.9-.9 1.3-1.2-1.8z" color="#19a9dd"/>
<path d="M123.1 424l1.2 2-.9 1.4-1.2-1.8z" color="#0eb1d5"/>
<path d="M121.9 422l1.2 2-.9 1.6-1.3-1.9z" color="#0eb7c9"/>
<path d="M120.7 419.9l1.2 2.1-1 1.7-1.2-1.9z" color="#12bdbc"/>
<path d="M119.4 417.7l1.3 2.2-1 1.9-1.2-2.1z" color="#27c4a7"/>
<path d="M118.2 415.4l1.2 2.3-.9 2-1.2-2.1z" color="#38c897"/>
<path d="M117 413l1.2 2.4-.9 2.2-1.2-2.2z" color="#4dca84"/>
<path d="M115.8 410.5l1.2 2.5-.9 2.4-1.3-2.3z" color="#71cc66"/>
<path d="M114.6 408l1.2 2.5-1 2.6-1.2-2.4z" color="#8dca50"/>
<path d="M199.8 379.6l1.2-3.6-.9 3.1-1.3 3.4z" color="#e2bd32"/>
<path d="M198.5 383.1l1.3-3.5-1 2.9-1.2 3.3z" color="#c2c22e"/>
<path d="M197.3 386.5l1.2-3.4-.9 2.7-1.2 3.2z" color="#9ac946"/>
<path d="M196.1 389.8l1.2-3.3-.9 2.5-1.2 3.1z" color="#7fcb5b"/>
<path d="M194.9 393l1.2-3.2-.9 2.3-1.2 3.1z" color="#57cc7b"/>
<path d="M193.7 396.1l1.2-3.1-.9 2.2-1.3 2.9z" color="#42c98e"/>
<path d="M192.4 399.1l1.3-3-1 2-1.2 2.9z" color="#27c4a7"/>
<path d="M191.2 402.1l1.2-3-.9 1.9-1.2 2.8z" color="#17bfb5"/>
<path d="M190 404.9l1.2-2.8-.9 1.7-1.2 2.6z" color="#10bac3"/>
<path d="M188.8 407.7l1.2-2.8-.9 1.5-1.3 2.6z" color="#0eb1d5"/>
<path d="M187.6 410.3l1.2-2.6-1 1.3-1.2 2.6z" color="#19a9dd"/>
<path d="M186.3 412.9l1.3-2.6-1 1.3-1.2 2.4z" color="#22a1e5"/>
<path d="M185.1 415.4l1.2-2.5-.9 1.1-1.2 2.3z" color="#2897eb"/>
<path d="M183.9 417.8l1.2-2.4-.9 .9-1.2 2.3z" color="#2b92ee"/>
<path d="M182.7 420l1.2-2.2-.9 .8-1.3 2.2z" color="#2f88f5"/>
<path d="M181.5 422.2l1.2-2.2-1 .8-1.2 2.1z" color="#327dfb"/>
<path d="M180.2 424.4l1.3-2.2-1 .7-1.2 2z" color="#3a71fd"/>
<path d="M179 426.4l1.2-2-.9 .5-1.2 1.9z" color="#3f6bfc"/>
<path d="M177.8 428.3l1.2-1.9-.9 .4-1.2 1.8z" color="#4365fc"/>
<path d="M176.6 430.1l1.2-1.8-.9 .3-1.3 1.8z" color="#465af7"/>
<path d="M175.3 431.9l1.3-1.8-1 .3-1.2 1.6z" color="#4754f4"/>
<path d="M174.1 433.5l1.2-1.6-.9 .1-1.2 1.6z" color="#474ff1"/>
<path d="M172.9 435.1l1.2-1.6-.9 .1-1.2 1.5z" color="#4749ec"/>
<path d="M171.7 436.6l1.2-1.5-.9 0-1.3 1.4z" color="#4744e5"/>
<path d="M170.5 437.9l1.2-1.3-1-.1-1.2 1.3z" color="#463fdf"/>
<path d="M169.2 439.2l1.3-1.3-1-.1-1.2 1.2z" color="#4539d8"/>
<path d="M168 440.4l1.2-1.2-.9-.2-1.2 1.2z" color="#4434cf"/>
<path d="M165.6 442.5l2.4-2.1-.9-.2-2.5 2z" color="#4230c4"/>
<path d="M163.1 444.3l2.5-1.8-1-.3-2.4 1.7z" color="#402cb9"/>
<path d="M150.9 447.5l2.5 .1 3.6-.6 2.5-.8 3.6-1.9-.9-.4-3.7 1.9-2.4 .8-2.5 .5-3.6 0z" color="#3f28ae"/>
<path d="M148.5 447.1l2.4 .4-.9-.4-2.5-.3z" color="#402cb9"/>
<path d="M147.2 446.7l1.3 .4-1-.3-1.2-.4z" color="#4230c4"/>
<path d="M144.8 445.7l2.4 1-.9-.3-2.4-.9z" color="#4434cf"/>
<path d="M143.6 445.1l1.2 .6-.9-.2-1.2-.5z" color="#4539d8"/>
<path d="M142.4 444.3l1.2 .8-.9-.1-1.3-.7z" color="#463fdf"/>
<path d="M141.1 443.5l1.3 .8-1 0-1.2-.7z" color="#4744e5"/>
<path d="M139.9 442.6l1.2 .9-.9 .1-1.2-.9z" color="#4749ec"/>
<path d="M138.7 441.6l1.2 1-.9 .1-1.2-.9z" color="#4754f4"/>
<path d="M137.5 440.5l1.2 1.1-.9 .2-1.3-1z" color="#465af7"/>
<path d="M136.3 439.3l1.2 1.2-1 .3-1.2-1.1z" color="#455ffb"/>
<path d="M135 438l1.3 1.3-1 .4-1.2-1.2z" color="#3f6bfc"/>
<path d="M133.8 436.7l1.2 1.3-.9 .5-1.2-1.2z" color="#3a71fd"/>
<path d="M132.6 435.2l1.2 1.5-.9 .6-1.2-1.4z" color="#327dfb"/>
<path d="M131.4 433.7l1.2 1.5-.9 .7-1.3-1.4z" color="#3182f8"/>
<path d="M130.2 432l1.2 1.7-1 .8-1.2-1.5z" color="#2d8df1"/>
<path d="M128.9 430.3l1.2 1.7-.9 1-1.2-1.7z" color="#2897eb"/>
<path d="M127.7 428.4l1.2 1.9-.9 1-1.2-1.7z" color="#22a1e5"/>
<path d="M126.5 426.5l1.2 1.9-.9 1.2-1.2-1.7z" color="#19a9dd"/>
<path d="M125.3 424.5l1.2 2-1 1.4-1.2-1.9z" color="#0eb1d5"/>
<path d="M124 422.4l1.3 2.1-1 1.5-1.2-2z" color="#0eb7c9"/>
<path d="M122.8 420.2l1.2 2.2-.9 1.6-1.2-2z" color="#12bdbc"/>
<path d="M121.6 417.9l1.2 2.3-.9 1.8-1.2-2.1z" color="#27c4a7"/>
<path d="M120.4 415.5l1.2 2.4-.9 2-1.3-2.2z" color="#38c897"/>
<path d="M119.2 413.1l1.2 2.4-1 2.2-1.2-2.3z" color="#4dca84"/>
<path d="M117.9 410.5l1.3 2.6-1 2.3-1.2-2.4z" color="#71cc66"/>
<path d="M116.7 407.9l1.2 2.6-.9 2.5-1.2-2.5z" color="#9ac946"/>
<path d="M115.5 405.1l1.2 2.8-.9 2.6-1.2-2.5z" color="#b5c436"/>
<path d="M199.5 380.3l1.2-3.7-.9 3-1.2 3.5z" color="#e2bd32"/>
<path d="M198.3 383.8l1.2-3.5-1 2.8-1.2 3.4z" color="#c2c22e"/>
<path d="M195.8 390.7l1.2-3.4-.9 2.5-1.2 3.2z" color="#7fcb5b"/>
<path d="M194.6 394l1.2-3.3-.9 2.3-1.2 3.1z" color="#57cc7b"/>
<path d="M193.4 397.2l1.2-3.2-.9 2.1-1.3 3z" color="#38c897"/>
<path d="M192.2 400.3l1.2-3.1-1 1.9-1.2 3z" color="#27c4a7"/>
<path d="M190.9 403.3l1.3-3-1 1.8-1.2 2.8z" color="#17bfb5"/>
<path d="M189.7 406.2l1.2-2.9-.9 1.6-1.2 2.8z" color="#0eb7c9"/>
<path d="M188.5 409l1.2-2.8-.9 1.5-1.2 2.6z" color="#0eb1d5"/>
<path d="M186 414.3l1.3-2.6-1 1.2-1.2 2.5z" color="#22a1e5"/>
<path d="M184.8 416.9l1.2-2.6-.9 1.1-1.2 2.4z" color="#2897eb"/>
<path d="M183.6 419.3l1.2-2.4-.9 .9-1.2 2.2z" color="#2d8df1"/>
<path d="M182.4 421.6l1.2-2.3-.9 .7-1.2 2.2z" color="#3182f8"/>
<path d="M181.2 423.8l1.2-2.2-.9 .6-1.3 2.2z" color="#3677fd"/>
<path d="M179.9 425.9l1.3-2.1-1 .6-1.2 2z" color="#3a71fd"/>
<path d="M178.7 428l1.2-2.1-.9 .5-1.2 1.9z" color="#4365fc"/>
<path d="M177.5 429.9l1.2-1.9-.9 .3-1.2 1.8z" color="#455ffb"/>
<path d="M176.3 431.7l1.2-1.8-.9 .2-1.3 1.8z" color="#4754f4"/>
<path d="M175.1 433.5l1.2-1.8-1 .2-1.2 1.6z" color="#474ff1"/>
<path d="M173.8 435.1l1.3-1.6-1 0-1.2 1.6z" color="#4749ec"/>
<path d="M172.6 436.6l1.2-1.5-.9 0-1.2 1.5z" color="#4744e5"/>
<path d="M171.4 438.1l1.2-1.5-.9 0-1.2 1.3z" color="#463fdf"/>
<path d="M170.2 439.4l1.2-1.3-.9-.2-1.3 1.3z" color="#4539d8"/>
<path d="M169 440.7l1.2-1.3-1-.2-1.2 1.2z" color="#4434cf"/>
<path d="M166.5 442.9l2.4-2.2-.9-.3-2.4 2.1z" color="#4230c4"/>
<path d="M164.1 444.7l2.4-1.8-.9-.4-2.5 1.8z" color="#402cb9"/>
<path d="M153.1 448l3.6-.2 2.5-.7 2.4-1 2.5-1.4-1-.4-2.4 1.4-2.5 1-2.4 .6-3.7 .3z" color="#3f28ae"/>
<path d="M150.6 447.7l2.5 .3-1-.4-2.4-.3z" color="#402cb9"/>
<path d="M148.2 447l2.4 .7-.9-.4-2.4-.6z" color="#4230c4"/>
<path d="M147 446.5l1.2 .5-.9-.3-1.3-.4z" color="#4434cf"/>
<path d="M145.7 445.9l1.3 .6-1-.2-1.2-.6z" color="#4539d8"/>
<path d="M144.5 445.2l1.2 .7-.9-.2-1.2-.6z" color="#463fdf"/>
<path d="M143.3 444.4l1.2 .8-.9-.1-1.2-.8z" color="#4744e5"/>
<path d="M142.1 443.5l1.2 .9-.9-.1-1.3-.8z" color="#4749ec"/>
<path d="M140.9 442.5l1.2 1-1 0-1.2-.9z" color="#474ff1"/>
<path d="M139.6 441.4l1.3 1.1-1 .1-1.2-1z" color="#4754f4"/>
<path d="M138.4 440.2l1.2 1.2-.9 .2-1.2-1.1z" color="#465af7"/>
<path d="M137.2 438.9l1.2 1.3-.9 .3-1.2-1.2z" color="#4365fc"/>
<path d="M136 437.5l1.2 1.4-.9 .4-1.3-1.3z" color="#3f6bfc"/>
<path d="M134.8 436l1.2 1.5-1 .5-1.2-1.3z" color="#3677fd"/>
<path d="M133.5 434.5l1.2 1.5-.9 .7-1.2-1.5z" color="#3182f8"/>
<path d="M132.3 432.8l1.2 1.7-.9 .7-1.2-1.5z" color="#2f88f5"/>
<path d="M131.1 431l1.2 1.8-.9 .9-1.2-1.7z" color="#2b92ee"/>
<path d="M129.9 429.1l1.2 1.9-.9 1-1.3-1.7z" color="#259ce8"/>
<path d="M128.6 427.2l1.3 1.9-1 1.2-1.2-1.9z" color="#1fa5e1"/>
<path d="M127.4 425.1l1.2 2.1-.9 1.2-1.2-1.9z" color="#14add9"/>
<path d="M126.2 422.9l1.2 2.2-.9 1.4-1.2-2z" color="#0eb7c9"/>
<path d="M125 420.7l1.2 2.2-.9 1.6-1.3-2.1z" color="#12bdbc"/>
<path d="M123.8 418.3l1.2 2.4-1 1.7-1.2-2.2z" color="#1fc1ae"/>
<path d="M122.5 415.9l1.3 2.4-1 1.9-1.2-2.3z" color="#38c897"/>
<path d="M121.3 413.3l1.2 2.6-.9 2-1.2-2.4z" color="#4dca84"/>
<path d="M120.1 410.7l1.2 2.6-.9 2.2-1.2-2.4z" color="#71cc66"/>
<path d="M118.9 407.9l1.2 2.8-.9 2.4-1.3-2.6z" color="#9ac946"/>
<path d="M117.6 405.1l1.3 2.8-1 2.6-1.2-2.6z" color="#b5c436"/>
<path d="M116.4 402.1l1.2 3-.9 2.8-1.2-2.8z" color="#d8be2e"/>
<path d="M201.6 373.4l1.3-3.9-1 3.3-1.2 3.8z" color="#fbd32f"/>
<path d="M199.2 381.1l1.2-3.8-.9 3-1.2 3.5z" color="#e2bd32"/>
<path d="M198 384.8l1.2-3.7-.9 2.7-1.3 3.5z" color="#c2c22e"/>
<path d="M196.8 388.4l1.2-3.6-1 2.5-1.2 3.4z" color="#9ac946"/>
<path d="M194.3 395.2l1.2-3.4-.9 2.2-1.2 3.2z" color="#57cc7b"/>
<path d="M193.1 398.5l1.2-3.3-.9 2-1.2 3.1z" color="#38c897"/>
<path d="M191.9 401.6l1.2-3.1-.9 1.8-1.3 3z" color="#27c4a7"/>
<path d="M190.6 404.7l1.3-3.1-1 1.7-1.2 2.9z" color="#12bdbc"/>
<path d="M189.4 407.7l1.2-3-.9 1.5-1.2 2.8z" color="#0eb7c9"/>
<path d="M188.2 410.5l1.2-2.8-.9 1.3-1.2 2.7z" color="#14add9"/>
<path d="M187 413.3l1.2-2.8-.9 1.2-1.2 2.6z" color="#1fa5e1"/>
<path d="M185.8 415.9l1.2-2.6-.9 1-1.3 2.6z" color="#259ce8"/>
<path d="M184.5 418.5l1.3-2.6-1 1-1.2 2.4z" color="#2b92ee"/>
<path d="M183.3 420.9l1.2-2.4-.9 .8-1.2 2.3z" color="#2f88f5"/>
<path d="M182.1 423.2l1.2-2.3-.9 .7-1.2 2.2z" color="#327dfb"/>
<path d="M180.9 425.5l1.2-2.3-.9 .6-1.3 2.1z" color="#3677fd"/>
<path d="M179.7 427.6l1.2-2.1-1 .4-1.2 2.1z" color="#3f6bfc"/>
<path d="M178.4 429.6l1.3-2-1 .4-1.2 1.9z" color="#4365fc"/>
<path d="M177.2 431.5l1.2-1.9-.9 .3-1.2 1.8z" color="#465af7"/>
<path d="M176 433.4l1.2-1.9-.9 .2-1.2 1.8z" color="#4754f4"/>
<path d="M174.8 435.1l1.2-1.7-.9 .1-1.3 1.6z" color="#4749ec"/>
<path d="M173.5 436.7l1.3-1.6-1 0-1.2 1.5z" color="#4744e5"/>
<path d="M172.3 438.2l1.2-1.5-.9-.1-1.2 1.5z" color="#463fdf"/>
<path d="M171.1 439.6l1.2-1.4-.9-.1-1.2 1.3z" color="#4539d8"/>
<path d="M168.7 442.1l2.4-2.5-.9-.2-2.5 2.4z" color="#4434cf"/>
<path d="M167.4 443.2l1.3-1.1-1-.3-1.2 1.1z" color="#4230c4"/>
<path d="M165 445.1l2.4-1.9-.9-.3-2.4 1.8z" color="#402cb9"/>
<path d="M154 448.4l3.7-.2 2.4-.6 2.5-1.1 2.4-1.4-.9-.4-2.5 1.4-2.4 1-2.5 .7-3.6 .2z" color="#3f28ae"/>
<path d="M151.6 448l2.4 .4-.9-.4-2.5-.3z" color="#402cb9"/>
<path d="M147.9 446.7l1.2 .5-.9-.2-1.2-.5z" color="#4434cf"/>
<path d="M146.7 446l1.2 .7-.9-.2-1.3-.6z" color="#4539d8"/>
<path d="M145.5 445.2l1.2 .8-1-.1-1.2-.7z" color="#463fdf"/>
<path d="M144.2 444.4l1.3 .8-1 0-1.2-.8z" color="#4744e5"/>
<path d="M143 443.4l1.2 1-.9 0-1.2-.9z" color="#4749ec"/>
<path d="M141.8 442.3l1.2 1.1-.9 .1-1.2-1z" color="#474ff1"/>
<path d="M140.6 441.1l1.2 1.2-.9 .2-1.3-1.1z" color="#465af7"/>
<path d="M139.4 439.8l1.2 1.3-1 .3-1.2-1.2z" color="#455ffb"/>
<path d="M138.1 438.5l1.2 1.3-.9 .4-1.2-1.3z" color="#3f6bfc"/>
<path d="M136.9 437l1.2 1.5-.9 .4-1.2-1.4z" color="#3a71fd"/>
<path d="M135.7 435.4l1.2 1.6-.9 .5-1.2-1.5z" color="#327dfb"/>
<path d="M134.5 433.7l1.2 1.7-.9 .6-1.3-1.5z" color="#2f88f5"/>
<path d="M133.2 431.9l1.3 1.8-1 .8-1.2-1.7z" color="#2b92ee"/>
<path d="M132 430l1.2 1.9-.9 .9-1.2-1.8z" color="#259ce8"/>
<path d="M130.8 428l1.2 2-.9 1-1.2-1.9z" color="#1fa5e1"/>
<path d="M129.6 425.9l1.2 2.1-.9 1.1-1.3-1.9z" color="#14add9"/>
<path d="M128.4 423.6l1.2 2.3-1 1.3-1.2-2.1z" color="#0cb5d0"/>
<path d="M127.1 421.3l1.3 2.3-1 1.5-1.2-2.2z" color="#10bac3"/>
<path d="M125.9 418.9l1.2 2.4-.9 1.6-1.2-2.2z" color="#1fc1ae"/>
<path d="M124.7 416.4l1.2 2.5-.9 1.8-1.2-2.4z" color="#2fc69f"/>
<path d="M123.5 413.8l1.2 2.6-.9 1.9-1.3-2.4z" color="#4dca84"/>
<path d="M122.2 411l1.3 2.8-1 2.1-1.2-2.6z" color="#71cc66"/>
<path d="M121 408.2l1.2 2.8-.9 2.3-1.2-2.6z" color="#8dca50"/>
<path d="M119.8 405.3l1.2 2.9-.9 2.5-1.2-2.8z" color="#b5c436"/>
<path d="M118.6 402.2l1.2 3.1-.9 2.6-1.2-2.8z" color="#d8be2e"/>
<path d="M117.4 399.1l1.2 3.1-1 2.9-1.2-3z" color="#f4bb39"/>
<path d="M202.6 370.2l1.2-4.2-.9 3.5-1.3 3.9z" color="#f5e625"/>
<path d="M201.4 374.3l1.2-4.1-1 3.2-1.2 3.9z" color="#fbd32f"/>
<path d="M200.1 378.3l1.3-4-1 3-1.2 3.8z" color="#f6bf37"/>
<path d="M198.9 382.2l1.2-3.9-.9 2.8-1.2 3.7z" color="#e2bd32"/>
<path d="M197.7 385.9l1.2-3.7-.9 2.6-1.2 3.6z" color="#c2c22e"/>
<path d="M196.5 389.6l1.2-3.7-.9 2.5-1.3 3.4z" color="#9ac946"/>
<path d="M195.2 393.2l1.3-3.6-1 2.2-1.2 3.4z" color="#71cc66"/>
<path d="M194 396.6l1.2-3.4-.9 2-1.2 3.3z" color="#4dca84"/>
<path d="M192.8 399.9l1.2-3.3-.9 1.9-1.2 3.1z" color="#38c897"/>
<path d="M191.6 403.1l1.2-3.2-.9 1.7-1.2 3.1z" color="#1fc1ae"/>
<path d="M190.4 406.3l1.2-3.2-.9 1.6-1.3 3z" color="#10bac3"/>
<path d="M189.1 409.3l1.3-3-1 1.4-1.2 2.8z" color="#0cb5d0"/>
<path d="M187.9 412.2l1.2-2.9-.9 1.2-1.2 2.8z" color="#14add9"/>
<path d="M186.7 414.9l1.2-2.7-.9 1.1-1.2 2.6z" color="#1fa5e1"/>
<path d="M185.5 417.6l1.2-2.7-.9 1-1.3 2.6z" color="#2897eb"/>
<path d="M184.3 420.2l1.2-2.6-1 .9-1.2 2.4z" color="#2d8df1"/>
<path d="M183 422.6l1.3-2.4-1 .7-1.2 2.3z" color="#3182f8"/>
<path d="M181.8 425l1.2-2.4-.9 .6-1.2 2.3z" color="#327dfb"/>
<path d="M180.6 427.2l1.2-2.2-.9 .5-1.2 2.1z" color="#3a71fd"/>
<path d="M179.4 429.3l1.2-2.1-.9 .4-1.3 2z" color="#4365fc"/>
<path d="M178.1 431.3l1.3-2-1 .3-1.2 1.9z" color="#455ffb"/>
<path d="M176.9 433.3l1.2-2-.9 .2-1.2 1.9z" color="#4754f4"/>
<path d="M175.7 435l1.2-1.7-.9 .1-1.2 1.7z" color="#474ff1"/>
<path d="M174.5 436.7l1.2-1.7-.9 .1-1.2 1.6z" color="#4749ec"/>
<path d="M173.3 438.3l1.2-1.6-1 0-1.2 1.5z" color="#4744e5"/>
<path d="M172 439.8l1.3-1.5-1-.1-1.2 1.4z" color="#463fdf"/>
<path d="M170.8 441.1l1.2-1.3-.9-.2-1.2 1.3z" color="#4539d8"/>
<path d="M169.6 442.4l1.2-1.3-.9-.2-1.2 1.2z" color="#4434cf"/>
<path d="M168.4 443.5l1.2-1.1-.9-.3-1.3 1.1z" color="#4230c4"/>
<path d="M165.9 445.5l2.5-2-1-.3-2.4 1.9z" color="#402cb9"/>
<path d="M154.9 448.8l3.7-.1 2.5-.6 2.4-1.1 2.4-1.5-.9-.4-2.4 1.4-2.5 1.1-2.4 .6-3.7 .2z" color="#3f28ae"/>
<path d="M152.5 448.4l2.4 .4-.9-.4-2.4-.4z" color="#402cb9"/>
<path d="M151.3 448l1.2 .4-.9-.4-1.3-.3z" color="#4230c4"/>
<path d="M148.8 446.9l2.5 1.1-1-.3-2.4-1z" color="#4434cf"/>
<path d="M147.6 446.1l1.2 .8-.9-.2-1.2-.7z" color="#4539d8"/>
<path d="M146.4 445.3l1.2 .8-.9-.1-1.2-.8z" color="#463fdf"/>
<path d="M145.2 444.4l1.2 .9-.9-.1-1.3-.8z" color="#4744e5"/>
<path d="M144 443.3l1.2 1.1-1 0-1.2-1z" color="#474ff1"/>
<path d="M142.7 442.1l1.2 1.2-.9 .1-1.2-1.1z" color="#4754f4"/>
<path d="M141.5 440.9l1.2 1.2-.9 .2-1.2-1.2z" color="#465af7"/>
<path d="M140.3 439.5l1.2 1.4-.9 .2-1.2-1.3z" color="#4365fc"/>
<path d="M139.1 438l1.2 1.5-.9 .3-1.3-1.3z" color="#3f6bfc"/>
<path d="M137.8 436.4l1.3 1.6-1 .5-1.2-1.5z" color="#3677fd"/>
<path d="M136.6 434.7l1.2 1.7-.9 .6-1.2-1.6z" color="#3182f8"/>
<path d="M135.4 432.9l1.2 1.8-.9 .7-1.2-1.7z" color="#2d8df1"/>
<path d="M134.2 430.9l1.2 2-.9 .8-1.3-1.8z" color="#2897eb"/>
<path d="M133 428.9l1.2 2-1 1-1.2-1.9z" color="#22a1e5"/>
<path d="M131.7 426.7l1.3 2.2-1 1.1-1.2-2z" color="#19a9dd"/>
<path d="M130.5 424.5l1.2 2.2-.9 1.3-1.2-2.1z" color="#0eb1d5"/>
<path d="M129.3 422.1l1.2 2.4-.9 1.4-1.2-2.3z" color="#10bac3"/>
<path d="M128.1 419.6l1.2 2.5-.9 1.5-1.3-2.3z" color="#17bfb5"/>
<path d="M126.8 417.1l1.3 2.5-1 1.7-1.2-2.4z" color="#2fc69f"/>
<path d="M125.6 414.4l1.2 2.7-.9 1.8-1.2-2.5z" color="#4dca84"/>
<path d="M124.4 411.6l1.2 2.8-.9 2-1.2-2.6z" color="#62cc71"/>
<path d="M123.2 408.6l1.2 3-.9 2.2-1.2-2.8z" color="#8dca50"/>
<path d="M122 405.6l1.2 3-1 2.4-1.2-2.8z" color="#b5c436"/>
<path d="M120.7 402.5l1.3 3.1-1 2.6-1.2-2.9z" color="#d8be2e"/>
<path d="M119.5 399.2l1.2 3.3-.9 2.8-1.2-3.1z" color="#f4bb39"/>
<path d="M118.3 395.9l1.2 3.3-.9 3-1.2-3.1z" color="#fdcd32"/>
</g>
<path d="M52.8 428.1L52.8 358.5M203.8 435.6L203.8 366.0M52.8 428.1L118.3 460.6M118.3 460.6L203.8 435.6" stroke="#2b2b2b" stroke-width="0.9" fill="none"/>
<path d="M118.3 460.6L116.7 459.8M161.1 448.1L159.4 447.3M203.8 435.6L202.2 434.8M118.3 460.6L120.4 460.0M85.5 444.4L87.7 443.7M52.8 428.1L54.9 427.5M52.8 415.0L54.9 414.3M52.8 401.8L54.9 401.2M52.8 388.7L54.9 388.1M52.8 375.5L54.9 374.9M52.8 362.4L54.9 361.8" stroke="#2b2b2b" stroke-width="0.8" fill="none"/>
<path d="M148.3 810.7L72.2 772.5M72.2 772.5L72.2 689.4M168.0 804.7L91.9 766.5M91.9 766.5L91.9 683.4M187.7 798.7L111.6 760.5M111.6 760.5L111.6 677.4M207.4 792.7L131.3 754.5M131.3 754.5L131.3 671.4M227.1 786.7L151.0 748.5M151.0 748.5L151.0 665.4M130.9 809.9L228.9 780.0M228.9 780.0L228.9 696.9M100.3 794.5L198.3 764.6M198.3 764.6L198.3 681.5M69.7 779.2L167.7 749.3M167.7 749.3L167.7 666.2M62.4 760.9L160.4 731.0M160.4 731.0L236.5 769.2M62.4 746.4L160.4 716.5M160.4 716.5L236.5 754.7M62.4 731.8L160.4 701.9M160.4 701.9L236.5 740.1M62.4 717.2L160.4 687.3M160.4 687.3L236.5 725.5M62.4 702.6L160.4 672.7M160.4 672.7L236.5 710.9" stroke="#dcdcdc" stroke-width="0.8" fill="none"/>
<path d="M160.4 745.6L160.4 662.5M62.4 692.4L160.4 662.5M160.4 662.5L236.5 700.7M62.4 775.5L160.4 745.6M160.4 745.6L236.5 783.8" stroke="#2b2b2b" stroke-width="0.9" fill="none"/>
<path d="M77.3 783L89.9 784.9L100 787L108.6 789.5L115.8 792.5L122.4 796.4L127.5 800.8L132 806.1L135.9 812.4M169.5 804.3L171.9 800.9L176.1 797.3L179.7 795.3L185.1 793.3L191.6 791.7L198.9 790.7L218.1 789.4M214.8 772.9L191.1 768.1L182.4 765.5L175.9 763.1L170.5 760.3L165.1 756.7L160.8 752.9L155.9 747M236.3 783.9L229 782.4L224.6 780.8L223.9 780.3L223.5 779.2L224.6 777.8" stroke="#4640e1" stroke-width="0.5" fill="none" opacity="0.6"/>
<path d="M80.4 784.6L91.5 786.6L99.5 788.6L107.7 791.3L113.6 793.9L118.7 796.8L124.2 801L128.1 805L132.4 810.6M174.5 802.7L180 798.3L183.7 796.4L188.1 794.8L200 792.1L213.7 790.7M209.8 770.4L190.4 766L184.5 764.2L177.2 761.2L171.9 758.4L166.7 754.8L162.4 750.9L158.3 746.2" stroke="#4560fb" stroke-width="0.5" fill="none" opacity="0.6"/>
<path d="M83 785.8L98.8 789.5L105.7 791.9L111.6 794.5L116.8 797.4L121.8 801L126 804.9L129.6 809.2M178.8 801.4L184.6 797.8L191.1 795.3L198.8 793.5L209.9 791.9M206.7 768.9L190 764.7L178.3 760.1L173 757.3L167.8 753.7L162.9 749.3L159.8 745.8" stroke="#3182f8" stroke-width="0.5" fill="none" opacity="0.6"/>
<path d="M85.2 786.9L98.6 790.4L110.2 795L115.4 797.8L119.8 800.9L123 803.6L127.2 808M183.2 800.1L188.1 797.6L192.5 796L198.8 794.4L205.8 793.2M204.1 767.6L190.3 763.9L178.8 759.2L173.6 756.4L169.2 753.3L164.8 749.4L161.8 746.3" stroke="#239fe6" stroke-width="0.5" fill="none" opacity="0.6"/>
<path d="M87.3 788L99.7 791.5L109.9 795.8L118.7 801.2L125 806.9M188.8 798.3L193.6 796.6L200.4 794.8M201.8 766.4L189.2 762.7L179.1 758.4L171 753.5L164.1 747.5" stroke="#0db6cc" stroke-width="0.5" fill="none" opacity="0.6"/>
<path d="M89.3 789L99.8 792.2L108.9 796.1L116.3 800.5L122.8 805.8M199.5 765.2L188 761.6L180.1 758.1L173.4 754.2L166.4 748.6" stroke="#2ac4a4" stroke-width="0.5" fill="none" opacity="0.6"/>
<path d="M91.4 790.1L100.1 792.9L108.1 796.3L114.8 800.2L120.6 804.7M197.2 764.1L188.9 761.3L180.9 757.8L174.2 754L168.7 749.8" stroke="#66cc6e" stroke-width="0.5" fill="none" opacity="0.6"/>
<path d="M93.6 791.2L101.5 793.9L107.4 796.6L113.3 799.9L118.4 803.6M194.8 762.9L187.6 760.3L181.7 757.6L176.5 754.7L171.1 751" stroke="#b5c435" stroke-width="0.5" fill="none" opacity="0.6"/>
<path d="M96.1 792.4L106.7 796.8L115.9 802.3M192 761.5L182.3 757.4L173.9 752.4" stroke="#f3ba39" stroke-width="0.5" fill="none" opacity="0.6"/>
<path d="M99 793.9L106.1 797L112.8 800.8M188.4 759.7L183 757.2L177.5 754.2" stroke="#f9d82d" stroke-width="0.5" fill="none" opacity="0.6"/>
<g class="sf">
<path d="M160.2 724.6l1-7-.8 2.2-1.1 6.5z" color="#2f88f5"/>
<path d="M159.1 730.3l1.1-5.7-.9 1.7-1.1 5.3z" color="#3f6bfc"/>
<path d="M158 734.9l1.1-4.6-.9 1.3-1.1 4.2z" color="#465af7"/>
<path d="M156.9 738.5l1.1-3.6-.9 .9-1.1 3.4z" color="#4749ec"/>
<path d="M155.8 741.3l1.1-2.8-.9 .7-1 2.6z" color="#463fdf"/>
<path d="M154.7 743.6l1.1-2.3-.8 .5-1.1 2z" color="#4434cf"/>
<path d="M153.6 745.3l1.1-1.7-.8 .2-1.1 1.6z" color="#4230c4"/>
<path d="M151.4 747.7l2.2-2.4-.8 .1-2.2 2.2z" color="#402cb9"/>
<path d="M122 756.8l6.6-1 6.5-1.8 12-3.8 2.2-1 2.1-1.5-.8-.1-2.2 1.3-2.2 .9-13 4.1-5.5 1.3-6.5 .8z" color="#3f28ae"/>
<path d="M76.3 768l5.5-.2-.9-.5-5.4 .1z" color="#4230c4"/>
<path d="M72 768.2l4.3-.2-.8-.6-4.4 0z" color="#4434cf"/>
<path d="M64.3 771l3.3-1.8 2.2-.7 2.2-.3-.9-.8-2.2 .2-2.1 .6-3.3 1.5z" color="#4539d8"/>
<path d="M63.2 771.7l1.1-.7-.8-1.3-1.1 .7z" color="#4434cf"/>
<path d="M161 722.8l1.1-7.4-.9 2.2-1 7z" color="#2b92ee"/>
<path d="M159.9 728.9l1.1-6.1-.8 1.8-1.1 5.7z" color="#3677fd"/>
<path d="M158.8 733.8l1.1-4.9-.8 1.4-1.1 4.6z" color="#455ffb"/>
<path d="M157.7 737.7l1.1-3.9-.8 1.1-1.1 3.6z" color="#474ff1"/>
<path d="M156.6 740.8l1.1-3.1-.8 .8-1.1 2.8z" color="#4744e5"/>
<path d="M155.6 743.3l1-2.5-.8 .5-1.1 2.3z" color="#4539d8"/>
<path d="M154.5 745.2l1.1-1.9-.9 .3-1.1 1.7z" color="#4434cf"/>
<path d="M153.4 746.7l1.1-1.5-.9 .1-1.1 1.4z" color="#4230c4"/>
<path d="M152.3 747.9l1.1-1.2-.9 0-1.1 1z" color="#402cb9"/>
<path d="M121.8 757.7l4.4-.7 4.3-1 15.3-4.7 3.2-1.2 2.2-1.3 1.1-.9-.9-.2-2.1 1.5-2.2 1-13.1 4.1-6.5 1.7-6.5 .9z" color="#3f28ae"/>
<path d="M77.2 768.5l4.3-.1-.8-.5-4.4 .1z" color="#4230c4"/>
<path d="M64.1 773l3.3-2.2 2.1-1 3.3-.9 4.4-.4-.9-.5-4.3 .2-3.3 .6-3.3 1.5-2.2 1.4z" color="#4434cf"/>
<path d="M161.8 721l1.1-7.9-.8 2.3-1.1 7.4z" color="#259ce8"/>
<path d="M160.8 727.5l1-6.5-.8 1.8-1.1 6.1z" color="#3182f8"/>
<path d="M159.7 732.7l1.1-5.2-.9 1.4-1.1 4.9z" color="#4365fc"/>
<path d="M158.6 736.9l1.1-4.2-.9 1.1-1.1 3.9z" color="#4754f4"/>
<path d="M157.5 740.3l1.1-3.4-.9 .8-1.1 3.1z" color="#4749ec"/>
<path d="M156.4 742.9l1.1-2.6-.9 .5-1 2.5z" color="#463fdf"/>
<path d="M155.3 745l1.1-2.1-.8 .4-1.1 1.9z" color="#4434cf"/>
<path d="M154.2 746.7l1.1-1.7-.8 .2-1.1 1.5z" color="#4230c4"/>
<path d="M152 749l2.2-2.3-.8 0-2.2 2.1z" color="#402cb9"/>
<path d="M120.5 758.7l7.6-1.4 7.6-2.1 12-3.8 2.2-1 2.1-1.4-.8-.2-2.2 1.3-2.2 .9-14.1 4.4-6.5 1.6-6.6 1z" color="#3f28ae"/>
<path d="M76.9 769.2l5.5-.3-.9-.5-5.4 .2z" color="#4230c4"/>
<path d="M67.1 772.6l2.2-1.2 2.2-1 2.1-.6 3.3-.6-.8-.6-3.3 .3-2.2 .6-2.2 .8-2.1 1.2z" color="#4434cf"/>
<path d="M64.9 774.2l2.2-1.6-.8-1.1-2.2 1.5z" color="#4230c4"/>
<path d="M162.7 719.1l1.1-8.4-.9 2.4-1.1 7.9z" color="#1fa5e1"/>
<path d="M161.6 726l1.1-6.9-.9 1.9-1 6.5z" color="#2f88f5"/>
<path d="M160.5 731.5l1.1-5.5-.8 1.5-1.1 5.2z" color="#3a71fd"/>
<path d="M159.4 736l1.1-4.5-.8 1.2-1.1 4.2z" color="#465af7"/>
<path d="M158.3 739.6l1.1-3.6-.8 .9-1.1 3.4z" color="#4749ec"/>
<path d="M157.2 742.5l1.1-2.9-.8 .7-1.1 2.6z" color="#463fdf"/>
<path d="M156.2 744.8l1-2.3-.8 .4-1.1 2.1z" color="#4539d8"/>
<path d="M154 748l2.2-3.2-.9 .2-2.2 3z" color="#4230c4"/>
<path d="M152.9 749.1l1.1-1.1-.9 0-1.1 1z" color="#402cb9"/>
<path d="M118 760.1l12-2.6 15.3-4.6 4.3-1.6 2.2-1.3 1.1-.9-.9-.1-2.1 1.4-2.2 1-14.2 4.4-6.5 1.7-9.8 1.8z" color="#3f28ae"/>
<path d="M76.7 770.1l6.5-.7-.8-.5-6.6 .5z" color="#4230c4"/>
<path d="M71.2 771.9l2.2-.9 3.3-.9-.9-.7-3.2 .7-2.2 .7z" color="#4434cf"/>
<path d="M66.9 774.5l4.3-2.6-.8-1.1-2.2 1.2-2.2 1.4z" color="#4230c4"/>
<path d="M65.8 775.3l1.1-.8-.9-1.1-1.1 .8z" color="#402cb9"/>
<path d="M163.5 717.1l1.1-8.8-.8 2.4-1.1 8.4z" color="#14add9"/>
<path d="M162.4 724.4l1.1-7.3-.8 2-1.1 6.9z" color="#2b92ee"/>
<path d="M161.4 730.3l1-5.9-.8 1.6-1.1 5.5z" color="#3677fd"/>
<path d="M160.3 735.1l1.1-4.8-.9 1.2-1.1 4.5z" color="#455ffb"/>
<path d="M159.2 739l1.1-3.9-.9 .9-1.1 3.6z" color="#474ff1"/>
<path d="M158.1 742.1l1.1-3.1-.9 .6-1.1 2.9z" color="#4744e5"/>
<path d="M157 744.5l1.1-2.4-.9 .4-1 2.3z" color="#4539d8"/>
<path d="M155.9 746.5l1.1-2-.8 .3-1.1 1.8z" color="#4434cf"/>
<path d="M154.8 748l1.1-1.5-.8 .1-1.1 1.4z" color="#4230c4"/>
<path d="M152.7 750.2l2.1-2.2-.8 0-2.2 2z" color="#402cb9"/>
<path d="M115.6 761.5l12-2.7 7.6-2.1 13.1-4.1 2.2-1 2.2-1.4-.9-.2-2.2 1.3-2.2 .9-14.1 4.4-6.5 1.7-12 2.5z" color="#3f28ae"/>
<path d="M68.8 774.9l3.3-2 3.2-1.4 3.3-.9 5.5-.7-.9-.5-5.4 .5-3.3 .7-3.3 1.3-3.2 1.9z" color="#4230c4"/>
<path d="M66.6 776.4l2.2-1.5-.8-1.1-2.2 1.5z" color="#402cb9"/>
<path d="M164.4 715.2l1.1-9.3-.9 2.4-1.1 8.8z" color="#0cb5d0"/>
<path d="M163.3 722.8l1.1-7.6-.9 1.9-1.1 7.3z" color="#2897eb"/>
<path d="M162.2 729.1l1.1-6.3-.8 1.6-1.1 5.9z" color="#3182f8"/>
<path d="M161.1 734.2l1.1-5.1-.8 1.2-1.1 4.8z" color="#3f6bfc"/>
<path d="M160 738.3l1.1-4.1-.8 .9-1.1 3.9z" color="#4754f4"/>
<path d="M158.9 741.6l1.1-3.3-.8 .7-1.1 3.1z" color="#4749ec"/>
<path d="M157.9 744.2l1-2.6-.8 .5-1.1 2.4z" color="#463fdf"/>
<path d="M156.8 746.3l1.1-2.1-.9 .3-1.1 2z" color="#4434cf"/>
<path d="M155.7 748l1.1-1.7-.9 .2-1.1 1.5z" color="#4230c4"/>
<path d="M153.5 750.4l2.2-2.4-.9 0-2.1 2.2z" color="#402cb9"/>
<path d="M91.4 769.5l6.6-1.5 16.3-5.2 14.2-3.5 7.6-2.2 13-4.2 2.2-1 2.2-1.5-.8-.2-2.2 1.4-2.2 1-14.2 4.4-6.5 1.8-14.1 3.3-5.5 1.6-10.9 3.7-6.5 1.6z" color="#3f28ae"/>
<path d="M71.8 774.5l3.3-1.7 2.2-.9 3.2-.8 3.3-.6-.8-.5-3.3 .4-3.3 .7-3.2 1.2-2.2 1.2z" color="#4230c4"/>
<path d="M68.6 776.6l3.2-2.1-.8-1-3.3 2.1z" color="#402cb9"/>
<path d="M67.5 777.3l1.1-.7-.9-1-1.1 .8z" color="#3f28ae"/>
<path d="M165.2 713.2l1.1-9.7-.8 2.4-1.1 9.3z" color="#10bac3"/>
<path d="M164.1 721.2l1.1-8-.8 2-1.1 7.6z" color="#22a1e5"/>
<path d="M163.1 727.8l1-6.6-.8 1.6-1.1 6.3z" color="#2f88f5"/>
<path d="M162 733.2l1.1-5.4-.9 1.3-1.1 5.1z" color="#3a71fd"/>
<path d="M160.9 737.5l1.1-4.3-.9 1-1.1 4.1z" color="#465af7"/>
<path d="M159.8 741.1l1.1-3.6-.9 .8-1.1 3.3z" color="#474ff1"/>
<path d="M158.7 743.9l1.1-2.8-.9 .5-1 2.6z" color="#4744e5"/>
<path d="M157.6 746.2l1.1-2.3-.8 .3-1.1 2.1z" color="#4539d8"/>
<path d="M156.5 748l1.1-1.8-.8 .1-1.1 1.7z" color="#4434cf"/>
<path d="M155.4 749.4l1.1-1.4-.8 0-1.1 1.3z" color="#4230c4"/>
<path d="M154.3 750.5l1.1-1.1-.8-.1-1.1 1.1z" color="#402cb9"/>
<path d="M91.2 770.1l4.3-.8 4.4-1.1 14.2-4.4 17.4-4.6 14.1-4.4 3.3-1.1 2.2-.9 2.2-1.3 1-1-.8-.1-2.2 1.5-2.2 1-14.1 4.5-6.5 1.9-15.3 3.8-16.3 5.2-6.6 1.4z" color="#3f28ae"/>
<path d="M74.9 774.2l4.3-1.8 4.4-1.1-.9-.6-4.3 .9-4.4 1.7z" color="#4230c4"/>
<path d="M70.5 776.8l4.4-2.6-.9-.9-4.3 2.6z" color="#402cb9"/>
<path d="M68.3 778l2.2-1.2-.8-.9-2.2 1.4z" color="#3f28ae"/>
<path d="M166.1 711.2l1.1-10.1-.9 2.4-1.1 9.7z" color="#17bfb5"/>
<path d="M165 719.6l1.1-8.4-.9 2-1.1 8z" color="#19a9dd"/>
<path d="M163.9 726.5l1.1-6.9-.9 1.6-1 6.6z" color="#2d8df1"/>
<path d="M162.8 732.2l1.1-5.7-.8 1.3-1.1 5.4z" color="#3677fd"/>
<path d="M161.7 736.8l1.1-4.6-.8 1-1.1 4.3z" color="#455ffb"/>
<path d="M160.6 740.5l1.1-3.7-.8 .7-1.1 3.6z" color="#474ff1"/>
<path d="M159.5 743.5l1.1-3-.8 .6-1.1 2.8z" color="#4744e5"/>
<path d="M158.5 746l1-2.5-.8 .4-1.1 2.3z" color="#4539d8"/>
<path d="M157.4 747.9l1.1-1.9-.9 .2-1.1 1.8z" color="#4434cf"/>
<path d="M156.3 749.4l1.1-1.5-.9 .1-1.1 1.4z" color="#4230c4"/>
<path d="M154.1 751.7l2.2-2.3-.9 0-2.1 2.1z" color="#402cb9"/>
<path d="M92 770.6l4.4-.8 4.3-1.1 15.3-4.7 19.6-5.4 13.1-4.1 3.2-1.4 2.2-1.4-.8-.2-2.2 1.3-2.2 .9-14.2 4.5-19.6 5.2-16.3 5.1-7.6 1.6z" color="#3f28ae"/>
<path d="M72.4 777l4.4-2.5 3.3-1.4-.9-.7-3.3 1.3-4.3 2.4z" color="#402cb9"/>
<path d="M69.2 778.7l3.2-1.7-.8-.9-3.3 1.9z" color="#3f28ae"/>
<path d="M166.9 709.2l1.1-10.5-.8 2.4-1.1 10.1z" color="#27c4a7"/>
<path d="M165.8 718l1.1-8.8-.8 2-1.1 8.4z" color="#0eb1d5"/>
<path d="M164.7 725.2l1.1-7.2-.8 1.6-1.1 6.9z" color="#2897eb"/>
<path d="M163.7 731.1l1-5.9-.8 1.3-1.1 5.7z" color="#327dfb"/>
<path d="M162.6 736l1.1-4.9-.9 1.1-1.1 4.6z" color="#4365fc"/>
<path d="M161.5 740l1.1-4-.9 .8-1.1 3.7z" color="#4754f4"/>
<path d="M160.4 743.2l1.1-3.2-.9 .5-1.1 3z" color="#4749ec"/>
<path d="M159.3 745.7l1.1-2.5-.9 .3-1 2.5z" color="#463fdf"/>
<path d="M158.2 747.8l1.1-2.1-.8 .3-1.1 1.9z" color="#4434cf"/>
<path d="M156 750.8l2.2-3-.8 .1-2.2 2.8z" color="#4230c4"/>
<path d="M154.9 751.9l1.1-1.1-.8-.1-1.1 1z" color="#402cb9"/>
<path d="M92.9 771.1l5.4-1.1 4.4-1.1 14.1-4.3 16.4-4.6 13-4 5.5-2 2.2-1.3 1-.8-.8-.2-2.2 1.4-3.2 1.4-13.1 4.1-19.6 5.4-15.3 4.7-4.3 1.1-4.4 .8z" color="#3f28ae"/>
<path d="M75.5 776.6l4.3-2.2 3.3-1.2 4.3-1.1 5.5-1-.9-.5-6.5 1.1-3.3 .7-3.2 1.2-4.4 2.1z" color="#402cb9"/>
<path d="M70 779.1l2.2-.8 3.3-1.7-.9-.9-5.4 3z" color="#3f28ae"/>
<path d="M167.8 707.3l1.1-10.9-.9 2.3-1.1 10.5z" color="#38c897"/>
<path d="M166.7 716.4l1.1-9.1-.9 1.9-1.1 8.8z" color="#0cb5d0"/>
<path d="M165.6 723.9l1.1-7.5-.9 1.6-1.1 7.2z" color="#259ce8"/>
<path d="M164.5 730.1l1.1-6.2-.9 1.3-1 5.9z" color="#3182f8"/>
<path d="M163.4 735.2l1.1-5.1-.8 1-1.1 4.9z" color="#3f6bfc"/>
<path d="M162.3 739.4l1.1-4.2-.8 .8-1.1 4z" color="#465af7"/>
<path d="M161.2 742.8l1.1-3.4-.8 .6-1.1 3.2z" color="#474ff1"/>
<path d="M160.1 745.5l1.1-2.7-.8 .4-1.1 2.5z" color="#4744e5"/>
<path d="M159.1 747.7l1-2.2-.8 .2-1.1 2.1z" color="#4539d8"/>
<path d="M158 749.5l1.1-1.8-.9 .1-1.1 1.7z" color="#4434cf"/>
<path d="M156.9 750.9l1.1-1.4-.9 0-1.1 1.3z" color="#4230c4"/>
<path d="M154.7 753l2.2-2.1-.9-.1-2.1 1.9z" color="#402cb9"/>
<path d="M92.6 771.8l5.5-1.1 5.4-1.3 31.6-9.3 14.2-4.4 3.2-1.4 2.2-1.3-.8-.3-2.2 1.3-3.3 1.3-15.2 4.7-16.4 4.6-15.2 4.6-4.4 1-5.4 1.1zM70.9 779.4l1-.2 2.2-.8 4.4-2.2-.9-.8-5.4 2.9-2.2 .8z" color="#3f28ae"/>
<path d="M168.6 705.4l1.1-11.3-.8 2.3-1.1 10.9z" color="#4dca84"/>
<path d="M167.5 714.8l1.1-9.4-.8 1.9-1.1 9.1z" color="#10bac3"/>
<path d="M166.4 722.6l1.1-7.8-.8 1.6-1.1 7.5z" color="#1fa5e1"/>
<path d="M165.3 729.1l1.1-6.5-.8 1.3-1.1 6.2z" color="#2d8df1"/>
<path d="M164.3 734.4l1-5.3-.8 1-1.1 5.1z" color="#3a71fd"/>
<path d="M163.2 738.8l1.1-4.4-.9 .8-1.1 4.2z" color="#455ffb"/>
<path d="M162.1 742.4l1.1-3.6-.9 .6-1.1 3.4z" color="#474ff1"/>
<path d="M161 745.2l1.1-2.8-.9 .4-1.1 2.7z" color="#4744e5"/>
<path d="M159.9 747.6l1.1-2.4-.9 .3-1 2.2z" color="#4539d8"/>
<path d="M158.8 749.5l1.1-1.9-.8 .1-1.1 1.8z" color="#4434cf"/>
<path d="M157.7 751l1.1-1.5-.8 0-1.1 1.4z" color="#4230c4"/>
<path d="M155.5 753.2l2.2-2.2-.8-.1-2.2 2.1z" color="#402cb9"/>
<path d="M93.5 772.3l7.6-1.6 5.4-1.5 39.2-11.6 4.4-1.5 2.2-.9 3.2-2-.8-.2-2.2 1.3-3.2 1.4-14.2 4.4-31.6 9.3-5.4 1.3-5.5 1.1zM71.7 779.5l1.1 0 2.2-.5 5.4-2.6-.8-.7-5.5 2.7-2.2 .8-1 .2z" color="#3f28ae"/>
<path d="M169.5 703.5l1-11.6-.8 2.2-1.1 11.3z" color="#57cc7b"/>
<path d="M168.4 713.3l1.1-9.8-.9 1.9-1.1 9.4z" color="#17bfb5"/>
<path d="M167.3 721.4l1.1-8.1-.9 1.5-1.1 7.8z" color="#19a9dd"/>
<path d="M166.2 728.1l1.1-6.7-.9 1.2-1.1 6.5z" color="#2b92ee"/>
<path d="M165.1 733.7l1.1-5.6-.9 1-1 5.3z" color="#3677fd"/>
<path d="M164 738.2l1.1-4.5-.8 .7-1.1 4.4z" color="#4365fc"/>
<path d="M162.9 742l1.1-3.8-.8 .6-1.1 3.6z" color="#4754f4"/>
<path d="M161.8 745l1.1-3-.8 .4-1.1 2.8z" color="#4749ec"/>
<path d="M160.7 747.4l1.1-2.4-.8 .2-1.1 2.4z" color="#463fdf"/>
<path d="M159.7 749.4l1-2-.8 .2-1.1 1.9z" color="#4434cf"/>
<path d="M157.5 752.3l2.2-2.9-.9 .1-2.2 2.7z" color="#4230c4"/>
<path d="M156.4 753.4l1.1-1.1-.9-.1-1.1 1z" color="#402cb9"/>
<path d="M93.2 773l8.7-1.9 5.5-1.4 39.2-11.7 4.3-1.5 2.2-.9 3.3-2.2-.9-.2-2.1 1.4-3.3 1.5-14.2 4.5-30.4 8.9-5.5 1.4-7.6 1.6zM72.5 779.4l1.1 .3 2.2-.2 2.2-.8 5.4-2.5-.8-.8-7.6 3.6-2.2 .5-1.1 0z" color="#3f28ae"/>
<path d="M170.3 701.8l1.1-12-.9 2.1-1 11.6z" color="#71cc66"/>
<path d="M169.2 711.8l1.1-10-.8 1.7-1.1 9.8z" color="#1fc1ae"/>
<path d="M168.1 720.2l1.1-8.4-.8 1.5-1.1 8.1z" color="#0eb1d5"/>
<path d="M167 727.1l1.1-6.9-.8 1.2-1.1 6.7z" color="#2897eb"/>
<path d="M165.9 732.9l1.1-5.8-.8 1-1.1 5.6z" color="#327dfb"/>
<path d="M164.9 737.7l1-4.8-.8 .8-1.1 4.5z" color="#3f6bfc"/>
<path d="M163.8 741.5l1.1-3.8-.9 .5-1.1 3.8z" color="#465af7"/>
<path d="M162.7 744.7l1.1-3.2-.9 .5-1.1 3z" color="#4749ec"/>
<path d="M161.6 747.3l1.1-2.6-.9 .3-1.1 2.4z" color="#463fdf"/>
<path d="M160.5 749.4l1.1-2.1-.9 .1-1 2z" color="#4539d8"/>
<path d="M159.4 751.1l1.1-1.7-.8 0-1.1 1.6z" color="#4434cf"/>
<path d="M158.3 752.5l1.1-1.4-.8-.1-1.1 1.3z" color="#4230c4"/>
<path d="M156.1 754.5l2.2-2-.8-.2-2.2 1.9z" color="#402cb9"/>
<path d="M91.9 774.1l16.3-4 28.3-8.4 14.2-4.4 3.3-1.4 2.1-1.4-.8-.3-2.2 1.4-3.2 1.3-16.4 5.1-27.2 8-15.2 3.5zM73.4 779.2l1.1 .5 1.1 .1 2.1-.2 2.2-.8 7.6-3.3-.8-.6-9.8 4.2-2.2 .6-1.1 0-1.1-.3z" color="#3f28ae"/>
<path d="M171.1 700.1l1.1-12.3-.8 2-1.1 12z" color="#8dca50"/>
<path d="M170.1 710.4l1-10.3-.8 1.7-1.1 10z" color="#2fc69f"/>
<path d="M169 719l1.1-8.6-.9 1.4-1.1 8.4z" color="#0cb5d0"/>
<path d="M167.9 726.2l1.1-7.2-.9 1.2-1.1 6.9z" color="#259ce8"/>
<path d="M166.8 732.2l1.1-6-.9 .9-1.1 5.8z" color="#3182f8"/>
<path d="M165.7 737.1l1.1-4.9-.9 .7-1 4.8z" color="#3a71fd"/>
<path d="M164.6 741.2l1.1-4.1-.8 .6-1.1 3.8z" color="#465af7"/>
<path d="M163.5 744.5l1.1-3.3-.8 .3-1.1 3.2z" color="#474ff1"/>
<path d="M162.4 747.2l1.1-2.7-.8 .2-1.1 2.6z" color="#4744e5"/>
<path d="M161.3 749.4l1.1-2.2-.8 .1-1.1 2.1z" color="#4539d8"/>
<path d="M160.3 751.2l1-1.8-.8 0-1.1 1.7z" color="#4434cf"/>
<path d="M159.2 752.6l1.1-1.4-.9-.1-1.1 1.4z" color="#4230c4"/>
<path d="M157 754.8l2.2-2.2-.9-.1-2.2 2z" color="#402cb9"/>
<path d="M75.3 779.5l1.1 .4 1.1 .1 2.2-.3 12-4.7 19.6-5 37-11.2 5.4-2 3.3-2-.9-.3-3.2 1.9-6.6 2.3-37 11.1-18.5 4.6-4.3 1.5-6.6 2.9-2.2 .8-2.1 .2-1.1-.1z" color="#3f28ae"/>
<path d="M74.2 778.7l1.1 .8-.8 .2-1.1-.5z" color="#402cb9"/>
<path d="M172 698.5l1.1-12.5-.9 1.8-1.1 12.3z" color="#a7c73e"/>
<path d="M170.9 709.1l1.1-10.6-.9 1.6-1 10.3z" color="#38c897"/>
<path d="M169.8 717.9l1.1-8.8-.8 1.3-1.1 8.6z" color="#0eb7c9"/>
<path d="M168.7 725.3l1.1-7.4-.8 1.1-1.1 7.2z" color="#22a1e5"/>
<path d="M167.6 731.5l1.1-6.2-.8 .9-1.1 6z" color="#2f88f5"/>
<path d="M166.6 736.6l1-5.1-.8 .7-1.1 4.9z" color="#3a71fd"/>
<path d="M165.5 740.8l1.1-4.2-.9 .5-1.1 4.1z" color="#455ffb"/>
<path d="M164.4 744.2l1.1-3.4-.9 .4-1.1 3.3z" color="#474ff1"/>
<path d="M163.3 747l1.1-2.8-.9 .3-1.1 2.7z" color="#4744e5"/>
<path d="M162.2 749.3l1.1-2.3-.9 .2-1.1 2.2z" color="#463fdf"/>
<path d="M161.1 751.2l1.1-1.9-.9 .1-1 1.8z" color="#4434cf"/>
<path d="M158.9 754l2.2-2.8-.8 0-2.2 2.6z" color="#4230c4"/>
<path d="M157.8 755l1.1-1-.8-.2-1.1 1z" color="#402cb9"/>
<path d="M77.3 779.7l1 .3 1.1 .1 2.2-.3 12-4.5 18.5-4.9 33.8-10.1 7.6-2.7 2.2-1.1 2.1-1.5-.8-.2-3.3 2-2.2 .9-4.3 1.5-35.9 10.8-19.6 5-12 4.7-2.2 .3-1.1-.1z" color="#3f28ae"/>
<path d="M76.2 779.1l1.1 .6-.9 .2-1.1-.4z" color="#402cb9"/>
<path d="M75.1 778l1.1 1.1-.9 .4-1.1-.8z" color="#4230c4"/>
<path d="M172.8 697l1.1-12.8-.8 1.8-1.1 12.5z" color="#b5c436"/>
<path d="M171.8 707.8l1-10.8-.8 1.5-1.1 10.6z" color="#4dca84"/>
<path d="M170.7 716.9l1.1-9.1-.9 1.3-1.1 8.8z" color="#10bac3"/>
<path d="M169.6 724.5l1.1-7.6-.9 1-1.1 7.4z" color="#1fa5e1"/>
<path d="M168.5 730.8l1.1-6.3-.9 .8-1.1 6.2z" color="#2d8df1"/>
<path d="M167.4 736.1l1.1-5.3-.9 .7-1 5.1z" color="#3677fd"/>
<path d="M166.3 740.4l1.1-4.3-.8 .5-1.1 4.2z" color="#4365fc"/>
<path d="M165.2 744l1.1-3.6-.8 .4-1.1 3.4z" color="#4754f4"/>
<path d="M164.1 746.9l1.1-2.9-.8 .2-1.1 2.8z" color="#4749ec"/>
<path d="M163 749.3l1.1-2.4-.8 .1-1.1 2.3z" color="#463fdf"/>
<path d="M162 751.3l1-2-.8 0-1.1 1.9z" color="#4539d8"/>
<path d="M160.9 752.9l1.1-1.6-.9-.1-1.1 1.5z" color="#4434cf"/>
<path d="M159.8 754.2l1.1-1.3-.9-.2-1.1 1.3z" color="#4230c4"/>
<path d="M157.6 756.1l2.2-1.9-.9-.2-2.1 1.8z" color="#402cb9"/>
<path d="M79.2 780l2.2 .3 2.2-.4 11.9-4.4 17.5-4.6 21.7-6.6 17.5-5.4 3.2-1.4 2.2-1.4-.8-.3-3.3 1.8-6.5 2.3-33.8 10.2-19.6 5.2-12 4.5-2.2 .3-1-.1z" color="#3f28ae"/>
<path d="M77 778.5l1.1 .9 1.1 .6-.8 0-1.1-.3-1.1-.6z" color="#402cb9"/>
<path d="M75.9 777.2l1.1 1.3-.8 .6-1.1-1.1z" color="#4230c4"/>
<path d="M173.7 695.7l1.1-13.1-.9 1.6-1.1 12.8z" color="#cec029"/>
<path d="M172.6 706.7l1.1-11-.9 1.3-1 10.8z" color="#57cc7b"/>
<path d="M171.5 716l1.1-9.3-.8 1.1-1.1 9.1z" color="#17bfb5"/>
<path d="M170.4 723.8l1.1-7.8-.8 .9-1.1 7.6z" color="#19a9dd"/>
<path d="M169.3 730.2l1.1-6.4-.8 .7-1.1 6.3z" color="#2b92ee"/>
<path d="M168.2 735.6l1.1-5.4-.8 .6-1.1 5.3z" color="#327dfb"/>
<path d="M167.2 740.1l1-4.5-.8 .5-1.1 4.3z" color="#4365fc"/>
<path d="M166.1 743.8l1.1-3.7-.9 .3-1.1 3.6z" color="#465af7"/>
<path d="M165 746.8l1.1-3-.9 .2-1.1 2.9z" color="#4749ec"/>
<path d="M163.9 749.3l1.1-2.5-.9 .1-1.1 2.4z" color="#463fdf"/>
<path d="M162.8 751.3l1.1-2-.9 0-1 2z" color="#4539d8"/>
<path d="M161.7 753l1.1-1.7-.8 0-1.1 1.6z" color="#4434cf"/>
<path d="M160.6 754.4l1.1-1.4-.8-.1-1.1 1.3z" color="#4230c4"/>
<path d="M158.4 756.4l2.2-2-.8-.2-2.2 1.9z" color="#402cb9"/>
<path d="M80 779.8l1.1 .4 1.1 .2 1.1 0 2.2-.4 12-4.3 18.5-5 33.7-10.3 5.5-2 3.2-2-.8-.3-2.2 1.4-3.2 1.4-17.5 5.4-21.7 6.6-17.5 4.6-11.9 4.4-2.2 .4-2.2-.3z" color="#3f28ae"/>
<path d="M79 779l1 .8-.8 .2-1.1-.6z" color="#402cb9"/>
<path d="M77.9 777.8l1.1 1.2-.9 .4-1.1-.9z" color="#4230c4"/>
<path d="M76.8 776.1l1.1 1.7-.9 .7-1.1-1.3z" color="#4434cf"/>
<path d="M174.5 694.5l1.1-13.3-.8 1.4-1.1 13.1z" color="#d8be2e"/>
<path d="M173.4 705.7l1.1-11.2-.8 1.2-1.1 11z" color="#62cc71"/>
<path d="M172.4 715.1l1-9.4-.8 1-1.1 9.3z" color="#1fc1ae"/>
<path d="M171.3 723.1l1.1-8-.9 .9-1.1 7.8z" color="#14add9"/>
<path d="M170.2 729.7l1.1-6.6-.9 .7-1.1 6.4z" color="#2897eb"/>
<path d="M169.1 735.2l1.1-5.5-.9 .5-1.1 5.4z" color="#3182f8"/>
<path d="M168 739.8l1.1-4.6-.9 .4-1 4.5z" color="#3f6bfc"/>
<path d="M166.9 743.6l1.1-3.8-.8 .3-1.1 3.7z" color="#465af7"/>
<path d="M165.8 746.7l1.1-3.1-.8 .2-1.1 3z" color="#474ff1"/>
<path d="M164.7 749.3l1.1-2.6-.8 .1-1.1 2.5z" color="#4744e5"/>
<path d="M163.6 751.4l1.1-2.1-.8 0-1.1 2z" color="#4539d8"/>
<path d="M162.6 753.1l1-1.7-.8-.1-1.1 1.7z" color="#4434cf"/>
<path d="M161.5 754.5l1.1-1.4-.9-.1-1.1 1.4z" color="#4230c4"/>
<path d="M159.3 756.7l2.2-2.2-.9-.1-2.2 2z" color="#402cb9"/>
<path d="M82 780.1l2.2 .5 3.2-.5 12-4.2 18.5-5.1 32.7-10 5.4-2.1 3.3-2-.9-.3-2.1 1.4-2.2 1.1-6.5 2.2-31.6 9.6-18.5 5-12 4.3-2.2 .4-2.2-.2z" color="#3f28ae"/>
<path d="M80.9 779.4l1.1 .7-.9 .1-1.1-.4z" color="#402cb9"/>
<path d="M79.8 778.4l1.1 1-.9 .4-1-.8z" color="#4230c4"/>
<path d="M78.7 776.9l1.1 1.5-.8 .6-1.1-1.2z" color="#4434cf"/>
<path d="M77.6 774.9l1.1 2-.8 .9-1.1-1.7z" color="#4539d8"/>
<path d="M175.4 693.4l1.1-13.5-.9 1.3-1.1 13.3z" color="#ecbb36"/>
<path d="M174.3 704.8l1.1-11.4-.9 1.1-1.1 11.2z" color="#71cc66"/>
<path d="M173.2 714.4l1.1-9.6-.9 .9-1 9.4z" color="#27c4a7"/>
<path d="M172.1 722.5l1.1-8.1-.8 .7-1.1 8z" color="#0eb1d5"/>
<path d="M171 729.2l1.1-6.7-.8 .6-1.1 6.6z" color="#259ce8"/>
<path d="M169.9 734.9l1.1-5.7-.8 .5-1.1 5.5z" color="#3182f8"/>
<path d="M168.8 739.6l1.1-4.7-.8 .3-1.1 4.6z" color="#3a71fd"/>
<path d="M167.8 743.5l1-3.9-.8 .2-1.1 3.8z" color="#455ffb"/>
<path d="M166.7 746.7l1.1-3.2-.9 .1-1.1 3.1z" color="#474ff1"/>
<path d="M165.6 749.3l1.1-2.6-.9 0-1.1 2.6z" color="#4744e5"/>
<path d="M164.5 751.5l1.1-2.2-.9 0-1.1 2.1z" color="#463fdf"/>
<path d="M163.4 753.3l1.1-1.8-.9-.1-1 1.7z" color="#4434cf"/>
<path d="M161.2 756l2.2-2.7-.8-.2-2.2 2.6z" color="#4230c4"/>
<path d="M159 757.8l2.2-1.8-.8-.3-2.2 1.8z" color="#402cb9"/>
<path d="M83.9 780.4l2.2 .3 3.3-.5 11.9-4.1 18.5-5.2 30.5-9.3 5.5-2 3.2-1.8-.8-.3-2.2 1.2-3.2 1.4-15.3 4.8-21.8 6.5-16.3 4.5-12 4.2-2.2 .4-2.1-.1z" color="#3f28ae"/>
<path d="M82.8 779.8l1.1 .6-.8 0-1.1-.3z" color="#402cb9"/>
<path d="M81.7 779l1.1 .8-.8 .3-1.1-.7z" color="#4230c4"/>
<path d="M80.6 777.7l1.1 1.3-.8 .4-1.1-1z" color="#4434cf"/>
<path d="M79.6 775.9l1 1.8-.8 .7-1.1-1.5z" color="#4539d8"/>
<path d="M78.5 773.5l1.1 2.4-.9 1-1.1-2z" color="#4744e5"/>
<path d="M176.2 692.5l1.1-13.7-.8 1.1-1.1 13.5z" color="#f4bb39"/>
<path d="M175.1 704l1.1-11.5-.8 .9-1.1 11.4z" color="#7fcb5b"/>
<path d="M174 713.8l1.1-9.8-.8 .8-1.1 9.6z" color="#2fc69f"/>
<path d="M173 722l1-8.2-.8 .6-1.1 8.1z" color="#0cb5d0"/>
<path d="M171.9 728.9l1.1-6.9-.9 .5-1.1 6.7z" color="#259ce8"/>
<path d="M170.8 734.6l1.1-5.7-.9 .3-1.1 5.7z" color="#2f88f5"/>
<path d="M169.7 739.4l1.1-4.8-.9 .3-1.1 4.7z" color="#3a71fd"/>
<path d="M168.6 743.4l1.1-4-.9 .2-1 3.9z" color="#455ffb"/>
<path d="M167.5 746.7l1.1-3.3-.8 .1-1.1 3.2z" color="#474ff1"/>
<path d="M166.4 749.4l1.1-2.7-.8 0-1.1 2.6z" color="#4744e5"/>
<path d="M165.3 751.6l1.1-2.2-.8-.1-1.1 2.2z" color="#463fdf"/>
<path d="M164.2 753.4l1.1-1.8-.8-.1-1.1 1.8z" color="#4539d8"/>
<path d="M163.2 755l1-1.6-.8-.1-1.1 1.4z" color="#4434cf"/>
<path d="M162.1 756.2l1.1-1.2-.9-.3-1.1 1.3z" color="#4230c4"/>
<path d="M159.9 758.1l2.2-1.9-.9-.2-2.2 1.8z" color="#402cb9"/>
<path d="M85.8 780.7l2.2 .2 3.3-.6 10.9-3.7 16.3-4.6 16.3-5 18.6-5.7 3.2-1.3 3.3-1.9-.9-.3-2.1 1.3-2.2 1-6.5 2.2-29.4 8.9-17.5 4.9-11.9 4.1-2.2 .5-2.2 0z" color="#3f28ae"/>
<path d="M83.7 779.5l1.1 .7 1 .5-.8 0-1.1-.3-1.1-.6z" color="#402cb9"/>
<path d="M82.6 778.4l1.1 1.1-.9 .3-1.1-.8z" color="#4230c4"/>
<path d="M81.5 776.8l1.1 1.6-.9 .6-1.1-1.3z" color="#4434cf"/>
<path d="M80.4 774.7l1.1 2.1-.9 .9-1-1.8z" color="#463fdf"/>
<path d="M79.3 771.9l1.1 2.8-.8 1.2-1.1-2.4z" color="#4749ec"/>
<path d="M177.1 691.7l1.1-13.7-.9 .8-1.1 13.7z" color="#f6bf37"/>
<path d="M176 703.4l1.1-11.7-.9 .8-1.1 11.5z" color="#8dca50"/>
<path d="M174.9 713.2l1.1-9.8-.9 .6-1.1 9.8z" color="#2fc69f"/>
<path d="M173.8 721.6l1.1-8.4-.9 .6-1 8.2z" color="#0eb7c9"/>
<path d="M172.7 728.5l1.1-6.9-.8 .4-1.1 6.9z" color="#22a1e5"/>
<path d="M171.6 734.4l1.1-5.9-.8 .4-1.1 5.7z" color="#2f88f5"/>
<path d="M170.5 739.3l1.1-4.9-.8 .2-1.1 4.8z" color="#3677fd"/>
<path d="M169.4 743.3l1.1-4-.8 .1-1.1 4z" color="#455ffb"/>
<path d="M168.4 746.7l1-3.4-.8 .1-1.1 3.3z" color="#4754f4"/>
<path d="M167.3 749.5l1.1-2.8-.9 0-1.1 2.7z" color="#4749ec"/>
<path d="M166.2 751.7l1.1-2.2-.9-.1-1.1 2.2z" color="#463fdf"/>
<path d="M165.1 753.6l1.1-1.9-.9-.1-1.1 1.8z" color="#4539d8"/>
<path d="M164 755.2l1.1-1.6-.9-.2-1 1.6z" color="#4434cf"/>
<path d="M162.9 756.5l1.1-1.3-.8-.2-1.1 1.2z" color="#4230c4"/>
<path d="M160.7 758.4l2.2-1.9-.8-.3-2.2 1.9z" color="#402cb9"/>
<path d="M86.7 780.6l1.1 .3 2.2 .1 3.2-.6 10.9-3.6 18.5-5.4 29.4-9 5.5-2 3.2-2-.8-.3-3.3 1.9-3.2 1.3-18.6 5.7-16.3 5-16.3 4.6-10.9 3.7-3.3 .6-2.2-.2z" color="#3f28ae"/>
<path d="M85.6 779.9l1.1 .7-.9 .1-1-.5z" color="#402cb9"/>
<path d="M84.5 779l1.1 .9-.8 .3-1.1-.7z" color="#4230c4"/>
<path d="M83.4 777.6l1.1 1.4-.8 .5-1.1-1.1z" color="#4434cf"/>
<path d="M82.3 775.8l1.1 1.8-.8 .8-1.1-1.6z" color="#4539d8"/>
<path d="M81.2 773.3l1.1 2.5-.8 1-1.1-2.1z" color="#4744e5"/>
<path d="M80.2 770.1l1 3.2-.8 1.4-1.1-2.8z" color="#474ff1"/>
<path d="M177.9 691.1l1.1-13.8-.8 .7-1.1 13.7z" color="#f9c435"/>
<path d="M176.8 702.9l1.1-11.8-.8 .6-1.1 11.7z" color="#9ac946"/>
<path d="M175.7 712.8l1.1-9.9-.8 .5-1.1 9.8z" color="#38c897"/>
<path d="M174.6 721.3l1.1-8.5-.8 .4-1.1 8.4z" color="#0eb7c9"/>
<path d="M173.6 728.3l1-7-.8 .3-1.1 6.9z" color="#1fa5e1"/>
<path d="M172.5 734.3l1.1-6-.9 .2-1.1 5.9z" color="#2d8df1"/>
<path d="M171.4 739.2l1.1-4.9-.9 .1-1.1 4.9z" color="#3677fd"/>
<path d="M170.3 743.3l1.1-4.1-.9 .1-1.1 4z" color="#4365fc"/>
<path d="M169.2 746.7l1.1-3.4-.9 0-1 3.4z" color="#4754f4"/>
<path d="M168.1 749.6l1.1-2.9-.8 0-1.1 2.8z" color="#4749ec"/>
<path d="M167 751.9l1.1-2.3-.8-.1-1.1 2.2z" color="#463fdf"/>
<path d="M165.9 753.8l1.1-1.9-.8-.2-1.1 1.9z" color="#4539d8"/>
<path d="M164.8 755.4l1.1-1.6-.8-.2-1.1 1.6z" color="#4434cf"/>
<path d="M163.8 756.7l1-1.3-.8-.2-1.1 1.3z" color="#4230c4"/>
<path d="M161.6 758.7l2.2-2-.9-.2-2.2 1.9z" color="#402cb9"/>
<path d="M88.6 780.9l1.1 .3 2.2 0 3.3-.7 10.8-3.6 18.6-5.4 28.3-8.6 5.4-2.2 3.3-2-.9-.3-2.1 1.4-2.2 1.1-7.6 2.6-27.3 8.3-17.4 5-10.9 3.6-3.2 .6-2.2-.1z" color="#3f28ae"/>
<path d="M87.5 780.4l1.1 .5-.8 0-1.1-.3z" color="#402cb9"/>
<path d="M85.4 778.4l1 1.2 1.1 .8-.8 .2-1.1-.7-1.1-.9z" color="#4230c4"/>
<path d="M84.3 776.8l1.1 1.6-.9 .6-1.1-1.4z" color="#4539d8"/>
<path d="M83.2 774.6l1.1 2.2-.9 .8-1.1-1.8z" color="#463fdf"/>
<path d="M82.1 771.8l1.1 2.8-.9 1.2-1.1-2.5z" color="#4749ec"/>
<path d="M81 768.2l1.1 3.6-.9 1.5-1-3.2z" color="#465af7"/>
<path d="M178.8 690.7l1-13.9-.8 .5-1.1 13.8z" color="#f9c435"/>
<path d="M177.7 702.5l1.1-11.8-.9 .4-1.1 11.8z" color="#a7c73e"/>
<path d="M176.6 712.6l1.1-10.1-.9 .4-1.1 9.9z" color="#42c98e"/>
<path d="M175.5 721.1l1.1-8.5-.9 .2-1.1 8.5z" color="#10bac3"/>
<path d="M174.4 728.2l1.1-7.1-.9 .2-1 7z" color="#1fa5e1"/>
<path d="M173.3 734.2l1.1-6-.8 .1-1.1 6z" color="#2d8df1"/>
<path d="M172.2 739.2l1.1-5-.8 .1-1.1 4.9z" color="#3677fd"/>
<path d="M171.1 743.4l1.1-4.2-.8 0-1.1 4.1z" color="#4365fc"/>
<path d="M170 746.8l1.1-3.4-.8-.1-1.1 3.4z" color="#4754f4"/>
<path d="M169 749.7l1-2.9-.8-.1-1.1 2.9z" color="#4749ec"/>
<path d="M167.9 752.1l1.1-2.4-.9-.1-1.1 2.3z" color="#4744e5"/>
<path d="M166.8 754l1.1-1.9-.9-.2-1.1 1.9z" color="#4539d8"/>
<path d="M165.7 755.7l1.1-1.7-.9-.2-1.1 1.6z" color="#4434cf"/>
<path d="M164.6 757l1.1-1.3-.9-.3-1 1.3z" color="#4230c4"/>
<path d="M161.3 759.9l2.2-1.8 1.1-1.1-.8-.3-1.1 1.1-2.2 1.7z" color="#402cb9"/>
<path d="M90.6 781.2l1 .2 2.2-.1 3.3-.7 10.9-3.5 17.4-5.1 27.2-8.4 5.5-2 3.2-1.7-.8-.4-2.2 1.2-2.2 1-8.7 2.9-25 7.6-16.4 4.7-10.8 3.6-3.3 .7-2.2 0z" color="#3f28ae"/>
<path d="M88.4 780.1l2.2 1.1-.9 0-2.2-.8z" color="#402cb9"/>
<path d="M87.3 779.1l1.1 1-.9 .3-1.1-.8z" color="#4230c4"/>
<path d="M86.2 777.7l1.1 1.4-.9 .5-1-1.2z" color="#4434cf"/>
<path d="M85.1 775.8l1.1 1.9-.8 .7-1.1-1.6z" color="#463fdf"/>
<path d="M84 773.4l1.1 2.4-.8 1-1.1-2.2z" color="#4744e5"/>
<path d="M82.9 770.1l1.1 3.3-.8 1.2-1.1-2.8z" color="#4754f4"/>
<path d="M81.8 766.1l1.1 4-.8 1.7-1.1-3.6z" color="#4365fc"/>
<path d="M179.6 690.5l1.1-14-.9 .3-1 13.9z" color="#fcc834"/>
<path d="M178.5 702.4l1.1-11.9-.8 .2-1.1 11.8z" color="#a7c73e"/>
<path d="M177.4 712.5l1.1-10.1-.8 .1-1.1 10.1z" color="#42c98e"/>
<path d="M176.3 721l1.1-8.5-.8 .1-1.1 8.5z" color="#10bac3"/>
<path d="M175.2 728.2l1.1-7.2-.8 .1-1.1 7.1z" color="#19a9dd"/>
<path d="M174.2 734.2l1-6-.8 0-1.1 6z" color="#2b92ee"/>
<path d="M173.1 739.2l1.1-5-.9 0-1.1 5z" color="#327dfb"/>
<path d="M172 743.5l1.1-4.3-.9 0-1.1 4.2z" color="#4365fc"/>
<path d="M170.9 747l1.1-3.5-.9-.1-1.1 3.4z" color="#465af7"/>
<path d="M169.8 749.9l1.1-2.9-.9-.2-1 2.9z" color="#474ff1"/>
<path d="M168.7 752.3l1.1-2.4-.8-.2-1.1 2.4z" color="#4744e5"/>
<path d="M167.6 754.3l1.1-2-.8-.2-1.1 1.9z" color="#4539d8"/>
<path d="M166.5 755.9l1.1-1.6-.8-.3-1.1 1.7z" color="#4434cf"/>
<path d="M164.4 758.4l2.1-2.5-.8-.2-2.2 2.4z" color="#4230c4"/>
<path d="M162.2 760.2l2.2-1.8-.9-.3-2.2 1.8z" color="#402cb9"/>
<path d="M92.5 781.5l2.2 .1 3.2-.6 12-3.8 27.2-8.1 18.5-5.8 3.3-1.3 3.3-1.8-.9-.3-2.1 1.2-2.2 1-7.6 2.6-41.4 12.4-10.9 3.5-3.3 .7-2.2 .1z" color="#3f28ae"/>
<path d="M90.3 780.6l2.2 .9-.9-.1-2.1-.6z" color="#402cb9"/>
<path d="M89.2 779.8l1.1 .8-.8 .2-1.1-.7z" color="#4230c4"/>
<path d="M88.1 778.6l1.1 1.2-.8 .3-1.1-1z" color="#4434cf"/>
<path d="M87 777l1.1 1.6-.8 .5-1.1-1.4z" color="#4539d8"/>
<path d="M86 774.8l1 2.2-.8 .7-1.1-1.9z" color="#4744e5"/>
<path d="M84.9 772l1.1 2.8-.9 1-1.1-2.4z" color="#474ff1"/>
<path d="M83.8 768.4l1.1 3.6-.9 1.4-1.1-3.3z" color="#465af7"/>
<path d="M82.7 763.9l1.1 4.5-.9 1.7-1.1-4z" color="#3a71fd"/>
<path d="M180.4 690.4l1.1-13.9-.8 0-1.1 14z" color="#fcc834"/>
<path d="M179.4 702.4l1-12-.8 .1-1.1 11.9z" color="#b5c436"/>
<path d="M178.3 712.5l1.1-10.1-.9 0-1.1 10.1z" color="#4dca84"/>
<path d="M177.2 721l1.1-8.5-.9 0-1.1 8.5z" color="#12bdbc"/>
<path d="M176.1 728.2l1.1-7.2-.9 0-1.1 7.2z" color="#19a9dd"/>
<path d="M175 734.3l1.1-6.1-.9 0-1 6z" color="#2b92ee"/>
<path d="M173.9 739.4l1.1-5.1-.8-.1-1.1 5z" color="#327dfb"/>
<path d="M172.8 743.6l1.1-4.2-.8-.2-1.1 4.3z" color="#3f6bfc"/>
<path d="M171.7 747.2l1.1-3.6-.8-.1-1.1 3.5z" color="#465af7"/>
<path d="M170.6 750.1l1.1-2.9-.8-.2-1.1 2.9z" color="#474ff1"/>
<path d="M169.6 752.5l1-2.4-.8-.2-1.1 2.4z" color="#4744e5"/>
<path d="M168.5 754.6l1.1-2.1-.9-.2-1.1 2z" color="#4539d8"/>
<path d="M167.4 756.2l1.1-1.6-.9-.3-1.1 1.6z" color="#4434cf"/>
<path d="M165.2 758.8l2.2-2.6-.9-.3-2.1 2.5z" color="#4230c4"/>
<path d="M163 760.6l2.2-1.8-.8-.4-2.2 1.8z" color="#402cb9"/>
<path d="M93.3 781.5l1.1 .2 2.2 0 4.4-.9 53.3-16.3 5.5-2.1 3.2-1.8-.8-.4-3.3 1.8-3.3 1.3-18.5 5.8-27.2 8.1-12 3.8-3.2 .6-2.2-.1z" color="#3f28ae"/>
<path d="M91.2 780.4l2.1 1.1-.8 0-2.2-.9z" color="#402cb9"/>
<path d="M90.1 779.4l1.1 1-.9 .2-1.1-.8z" color="#4230c4"/>
<path d="M89 778l1.1 1.4-.9 .4-1.1-1.2z" color="#4434cf"/>
<path d="M87.9 776.1l1.1 1.9-.9 .6-1.1-1.6z" color="#463fdf"/>
<path d="M86.8 773.6l1.1 2.5-.9 .9-1-2.2z" color="#4749ec"/>
<path d="M85.7 770.5l1.1 3.1-.8 1.2-1.1-2.8z" color="#4754f4"/>
<path d="M84.6 766.5l1.1 4-.8 1.5-1.1-3.6z" color="#4365fc"/>
<path d="M83.5 761.5l1.1 5-.8 1.9-1.1-4.5z" color="#3677fd"/>
<path d="M181.3 690.6l1.1-14-.9-.1-1.1 13.9z" color="#fdcd32"/>
<path d="M180.2 702.5l1.1-11.9-.8-.2-1.1 12z" color="#b5c436"/>
<path d="M179.1 712.6l1.1-10.1-.8-.1-1.1 10.1z" color="#4dca84"/>
<path d="M178 721.2l1.1-8.6-.8-.1-1.1 8.5z" color="#12bdbc"/>
<path d="M176.9 728.4l1.1-7.2-.8-.2-1.1 7.2z" color="#19a9dd"/>
<path d="M175.9 734.5l1-6.1-.8-.2-1.1 6.1z" color="#2b92ee"/>
<path d="M174.8 739.6l1.1-5.1-.9-.2-1.1 5.1z" color="#327dfb"/>
<path d="M173.7 743.8l1.1-4.2-.9-.2-1.1 4.2z" color="#3f6bfc"/>
<path d="M172.6 747.4l1.1-3.6-.9-.2-1.1 3.6z" color="#465af7"/>
<path d="M171.5 750.4l1.1-3-.9-.2-1.1 2.9z" color="#474ff1"/>
<path d="M170.4 752.8l1.1-2.4-.9-.3-1 2.4z" color="#4744e5"/>
<path d="M169.3 754.8l1.1-2-.8-.3-1.1 2.1z" color="#463fdf"/>
<path d="M168.2 756.5l1.1-1.7-.8-.2-1.1 1.6z" color="#4434cf"/>
<path d="M166.1 759.1l2.1-2.6-.8-.3-2.2 2.6z" color="#4230c4"/>
<path d="M163.9 760.9l2.2-1.8-.9-.3-2.2 1.8z" color="#402cb9"/>
<path d="M95.3 781.8l1.1 .2 2.1-.1 3.3-.7 31.6-9.6 22.9-7.1 4.3-1.7 3.3-1.9-.9-.3-2.2 1.3-2.1 1-7.7 2.6-50 15.3-3.3 .8-3.3 .1z" color="#3f28ae"/>
<path d="M93.1 780.9l2.2 .9-.9-.1-2.1-.6z" color="#402cb9"/>
<path d="M92 780.1l1.1 .8-.8 .2-1.1-.7z" color="#4230c4"/>
<path d="M90.9 778.9l1.1 1.2-.8 .3-1.1-1z" color="#4434cf"/>
<path d="M89.8 777.3l1.1 1.6-.8 .5-1.1-1.4z" color="#4539d8"/>
<path d="M88.7 775.2l1.1 2.1-.8 .7-1.1-1.9z" color="#4744e5"/>
<path d="M87.7 772.4l1 2.8-.8 .9-1.1-2.5z" color="#474ff1"/>
<path d="M86.6 768.9l1.1 3.5-.9 1.2-1.1-3.1z" color="#465af7"/>
<path d="M85.5 764.5l1.1 4.4-.9 1.6-1.1-4z" color="#3a71fd"/>
<path d="M84.4 759.1l1.1 5.4-.9 2-1.1-5z" color="#3182f8"/>
<path d="M182.1 690.9l1.1-13.9-.8-.4-1.1 14z" color="#fdcd32"/>
<path d="M181.1 702.8l1-11.9-.8-.3-1.1 11.9z" color="#b5c436"/>
<path d="M180 712.9l1.1-10.1-.9-.3-1.1 10.1z" color="#4dca84"/>
<path d="M178.9 721.5l1.1-8.6-.9-.3-1.1 8.6z" color="#12bdbc"/>
<path d="M177.8 728.7l1.1-7.2-.9-.3-1.1 7.2z" color="#19a9dd"/>
<path d="M176.7 734.8l1.1-6.1-.9-.3-1 6.1z" color="#2b92ee"/>
<path d="M175.6 739.9l1.1-5.1-.8-.3-1.1 5.1z" color="#327dfb"/>
<path d="M174.5 744.1l1.1-4.2-.8-.3-1.1 4.2z" color="#3f6bfc"/>
<path d="M173.4 747.7l1.1-3.6-.8-.3-1.1 3.6z" color="#465af7"/>
<path d="M172.3 750.7l1.1-3-.8-.3-1.1 3z" color="#474ff1"/>
<path d="M171.3 753.1l1-2.4-.8-.3-1.1 2.4z" color="#4744e5"/>
<path d="M170.2 755.2l1.1-2.1-.9-.3-1.1 2z" color="#463fdf"/>
<path d="M168 758.3l2.2-3.1-.9-.4-2.2 3.1z" color="#4434cf"/>
<path d="M166.9 759.5l1.1-1.2-.9-.4-1 1.2z" color="#4230c4"/>
<path d="M164.7 761.3l2.2-1.8-.8-.4-2.2 1.8z" color="#402cb9"/>
<path d="M97.2 782.1l3.3-.1 3.2-.7 48-14.6 8.7-3 2.1-1 2.2-1.4-.8-.4-2.2 1.4-2.2 1-7.6 2.6-49 15-3.3 .8-3.2 .3z" color="#3f28ae"/>
<path d="M95 781.4l2.2 .7-.8-.1-2.2-.5z" color="#402cb9"/>
<path d="M92.9 779.8l1 1 1.1 .6-.8 .1-2.2-1.4z" color="#4230c4"/>
<path d="M91.8 778.4l1.1 1.4-.9 .3-1.1-1.2z" color="#4539d8"/>
<path d="M90.7 776.5l1.1 1.9-.9 .5-1.1-1.6z" color="#463fdf"/>
<path d="M89.6 774.2l1.1 2.3-.9 .8-1.1-2.1z" color="#4749ec"/>
<path d="M88.5 771.1l1.1 3.1-.9 1-1-2.8z" color="#4754f4"/>
<path d="M87.4 767.3l1.1 3.8-.8 1.3-1.1-3.5z" color="#4365fc"/>
<path d="M86.3 762.5l1.1 4.8-.8 1.6-1.1-4.4z" color="#3677fd"/>
<path d="M85.2 756.6l1.1 5.9-.8 2-1.1-5.4z" color="#2d8df1"/>
<path d="M183 691.5l1.1-13.9-.9-.6-1.1 13.9z" color="#fdcd32"/>
<path d="M181.9 703.3l1.1-11.8-.9-.6-1 11.9z" color="#b5c436"/>
<path d="M180.8 713.3l1.1-10-.8-.5-1.1 10.1z" color="#4dca84"/>
<path d="M179.7 721.9l1.1-8.6-.8-.4-1.1 8.6z" color="#12bdbc"/>
<path d="M178.6 729.1l1.1-7.2-.8-.4-1.1 7.2z" color="#19a9dd"/>
<path d="M177.5 735.1l1.1-6-.8-.4-1.1 6.1z" color="#2b92ee"/>
<path d="M176.5 740.2l1-5.1-.8-.3-1.1 5.1z" color="#327dfb"/>
<path d="M175.4 744.5l1.1-4.3-.9-.3-1.1 4.2z" color="#3f6bfc"/>
<path d="M174.3 748l1.1-3.5-.9-.4-1.1 3.6z" color="#465af7"/>
<path d="M173.2 751l1.1-3-.9-.3-1.1 3z" color="#474ff1"/>
<path d="M172.1 753.5l1.1-2.5-.9-.3-1 2.4z" color="#4744e5"/>
<path d="M171 755.5l1.1-2-.8-.4-1.1 2.1z" color="#463fdf"/>
<path d="M169.9 757.2l1.1-1.7-.8-.3-1.1 1.7z" color="#4539d8"/>
<path d="M168.8 758.7l1.1-1.5-.8-.3-1.1 1.4z" color="#4434cf"/>
<path d="M167.7 759.9l1.1-1.2-.8-.4-1.1 1.2z" color="#4230c4"/>
<path d="M165.6 761.7l2.1-1.8-.8-.4-2.2 1.8z" color="#402cb9"/>
<path d="M98.1 782.2l1 .2 2.2-.1 5.5-1.2 50.1-15.4 5.4-2.1 3.3-1.9-.9-.4-2.2 1.4-2.1 1-8.7 3-48 14.6-3.2 .7-3.3 .1z" color="#3f28ae"/>
<path d="M95.9 781.3l2.2 .9-.9-.1-2.2-.7z" color="#402cb9"/>
<path d="M94.8 780.5l1.1 .8-.9 .1-1.1-.6z" color="#4230c4"/>
<path d="M93.7 779.4l1.1 1.1-.9 .3-1-1z" color="#4434cf"/>
<path d="M92.6 777.8l1.1 1.6-.8 .4-1.1-1.4z" color="#4539d8"/>
<path d="M91.5 775.7l1.1 2.1-.8 .6-1.1-1.9z" color="#4744e5"/>
<path d="M90.4 773.1l1.1 2.6-.8 .8-1.1-2.3z" color="#474ff1"/>
<path d="M89.3 769.7l1.1 3.4-.8 1.1-1.1-3.1z" color="#465af7"/>
<path d="M88.3 765.5l1 4.2-.8 1.4-1.1-3.8z" color="#3f6bfc"/>
<path d="M87.2 760.4l1.1 5.1-.9 1.8-1.1-4.8z" color="#3182f8"/>
<path d="M86.1 754l1.1 6.4-.9 2.1-1.1-5.9z" color="#259ce8"/>
<path d="M183.8 692.2l1.1-13.8-.8-.8-1.1 13.9z" color="#fdcd32"/>
<path d="M182.7 703.9l1.1-11.7-.8-.7-1.1 11.8z" color="#b5c436"/>
<path d="M181.7 713.9l1-10-.8-.6-1.1 10z" color="#4dca84"/>
<path d="M180.6 722.4l1.1-8.5-.9-.6-1.1 8.6z" color="#12bdbc"/>
<path d="M179.5 729.6l1.1-7.2-.9-.5-1.1 7.2z" color="#19a9dd"/>
<path d="M178.4 735.6l1.1-6-.9-.5-1.1 6z" color="#2b92ee"/>
<path d="M177.3 740.7l1.1-5.1-.9-.5-1 5.1z" color="#327dfb"/>
<path d="M176.2 744.9l1.1-4.2-.8-.5-1.1 4.3z" color="#3f6bfc"/>
<path d="M175.1 748.4l1.1-3.5-.8-.4-1.1 3.5z" color="#465af7"/>
<path d="M174 751.4l1.1-3-.8-.4-1.1 3z" color="#474ff1"/>
<path d="M172.9 753.9l1.1-2.5-.8-.4-1.1 2.5z" color="#4744e5"/>
<path d="M171.9 755.9l1-2-.8-.4-1.1 2z" color="#463fdf"/>
<path d="M170.8 757.6l1.1-1.7-.9-.4-1.1 1.7z" color="#4539d8"/>
<path d="M169.7 759.1l1.1-1.5-.9-.4-1.1 1.5z" color="#4434cf"/>
<path d="M168.6 760.2l1.1-1.1-.9-.4-1.1 1.2z" color="#4230c4"/>
<path d="M166.4 762.1l2.2-1.9-.9-.3-2.1 1.8z" color="#402cb9"/>
<path d="M100 782.6l3.3-.1 4.3-1 44.7-13.6 8.7-2.9 3.2-1.5 2.2-1.4-.8-.4-2.2 1.4-2.2 1-7.6 2.7-47.9 14.6-3.3 .8-3.3 .2z" color="#3f28ae"/>
<path d="M97.8 781.9l2.2 .7-.9-.2-2.1-.5z" color="#402cb9"/>
<path d="M96.7 781.2l1.1 .7-.8 0-1.1-.6z" color="#4230c4"/>
<path d="M95.6 780.3l1.1 .9-.8 .1-1.1-.8z" color="#4434cf"/>
<path d="M94.5 778.9l1.1 1.4-.8 .2-1.1-1.1z" color="#4539d8"/>
<path d="M93.5 777.2l1 1.7-.8 .5-1.1-1.6z" color="#463fdf"/>
<path d="M92.4 774.9l1.1 2.3-.9 .6-1.1-2.1z" color="#4749ec"/>
<path d="M91.3 772l1.1 2.9-.9 .8-1.1-2.6z" color="#4754f4"/>
<path d="M90.2 768.3l1.1 3.7-.9 1.1-1.1-3.4z" color="#4365fc"/>
<path d="M89.1 763.8l1.1 4.5-.9 1.4-1-4.2z" color="#3677fd"/>
<path d="M88 758.2l1.1 5.6-.8 1.7-1.1-5.1z" color="#2d8df1"/>
<path d="M86.9 751.4l1.1 6.8-.8 2.2-1.1-6.4z" color="#1fa5e1"/>
<path d="M184.7 693.1l1.1-13.6-.9-1.1-1.1 13.8z" color="#fcc834"/>
<path d="M183.6 704.8l1.1-11.7-.9-.9-1.1 11.7z" color="#b5c436"/>
<path d="M182.5 714.7l1.1-9.9-.9-.9-1 10z" color="#4dca84"/>
<path d="M181.4 723.1l1.1-8.4-.8-.8-1.1 8.5z" color="#12bdbc"/>
<path d="M180.3 730.2l1.1-7.1-.8-.7-1.1 7.2z" color="#19a9dd"/>
<path d="M179.2 736.1l1.1-5.9-.8-.6-1.1 6z" color="#2b92ee"/>
<path d="M178.1 741.2l1.1-5.1-.8-.5-1.1 5.1z" color="#327dfb"/>
<path d="M177.1 745.4l1-4.2-.8-.5-1.1 4.2z" color="#3f6bfc"/>
<path d="M176 748.9l1.1-3.5-.9-.5-1.1 3.5z" color="#465af7"/>
<path d="M174.9 751.8l1.1-2.9-.9-.5-1.1 3z" color="#474ff1"/>
<path d="M173.8 754.3l1.1-2.5-.9-.4-1.1 2.5z" color="#4744e5"/>
<path d="M172.7 756.3l1.1-2-.9-.4-1 2z" color="#463fdf"/>
<path d="M171.6 758l1.1-1.7-.8-.4-1.1 1.7z" color="#4539d8"/>
<path d="M170.5 759.5l1.1-1.5-.8-.4-1.1 1.5z" color="#4434cf"/>
<path d="M169.4 760.7l1.1-1.2-.8-.4-1.1 1.1z" color="#4230c4"/>
<path d="M167.3 762.5l2.1-1.8-.8-.5-2.2 1.9z" color="#402cb9"/>
<path d="M100.8 782.7l2.2 .2 2.2-.3 5.4-1.4 47.9-14.6 5.5-2.2 3.3-1.9-.9-.4-2.2 1.4-3.2 1.5-8.7 2.9-44.7 13.6-4.3 1-3.3 .1z" color="#3f28ae"/>
<path d="M98.7 781.8l2.1 .9-.8-.1-2.2-.7z" color="#402cb9"/>
<path d="M97.6 781.1l1.1 .7-.9 .1-1.1-.7z" color="#4230c4"/>
<path d="M96.5 780l1.1 1.1-.9 .1-1.1-.9z" color="#4434cf"/>
<path d="M95.4 778.5l1.1 1.5-.9 .3-1.1-1.4z" color="#4539d8"/>
<path d="M94.3 776.5l1.1 2-.9 .4-1-1.7z" color="#4744e5"/>
<path d="M93.2 774l1.1 2.5-.8 .7-1.1-2.3z" color="#474ff1"/>
<path d="M92.1 770.8l1.1 3.2-.8 .9-1.1-2.9z" color="#465af7"/>
<path d="M91 766.9l1.1 3.9-.8 1.2-1.1-3.7z" color="#3f6bfc"/>
<path d="M89.9 762l1.1 4.9-.8 1.4-1.1-4.5z" color="#327dfb"/>
<path d="M88.9 756l1 6-.8 1.8-1.1-5.6z" color="#2897eb"/>
<path d="M87.8 748.7l1.1 7.3-.9 2.2-1.1-6.8z" color="#14add9"/>
<path d="M185.5 694.2l1.1-13.5-.8-1.2-1.1 13.6z" color="#fcc834"/>
<path d="M184.4 705.7l1.1-11.5-.8-1.1-1.1 11.7z" color="#a7c73e"/>
<path d="M183.3 715.5l1.1-9.8-.8-.9-1.1 9.9z" color="#42c98e"/>
<path d="M182.3 723.8l1-8.3-.8-.8-1.1 8.4z" color="#12bdbc"/>
<path d="M181.2 730.9l1.1-7.1-.9-.7-1.1 7.1z" color="#19a9dd"/>
<path d="M180.1 736.8l1.1-5.9-.9-.7-1.1 5.9z" color="#2b92ee"/>
<path d="M179 741.8l1.1-5-.9-.7-1.1 5.1z" color="#327dfb"/>
<path d="M177.9 745.9l1.1-4.1-.9-.6-1 4.2z" color="#3f6bfc"/>
<path d="M176.8 749.4l1.1-3.5-.8-.5-1.1 3.5z" color="#465af7"/>
<path d="M175.7 752.3l1.1-2.9-.8-.5-1.1 2.9z" color="#474ff1"/>
<path d="M174.6 754.8l1.1-2.5-.8-.5-1.1 2.5z" color="#4744e5"/>
<path d="M173.5 756.8l1.1-2-.8-.5-1.1 2z" color="#463fdf"/>
<path d="M172.5 758.5l1-1.7-.8-.5-1.1 1.7z" color="#4539d8"/>
<path d="M171.4 759.9l1.1-1.4-.9-.5-1.1 1.5z" color="#4434cf"/>
<path d="M170.3 761.1l1.1-1.2-.9-.4-1.1 1.2z" color="#4230c4"/>
<path d="M168.1 762.9l2.2-1.8-.9-.4-2.1 1.8z" color="#402cb9"/>
<path d="M102.8 783l3.2 0 4.4-1 43.5-13.3 8.8-2.9 3.2-1.5 2.2-1.4-.8-.4-2.2 1.4-2.2 1-3.3 1.3-5.4 1.8-44.7 13.6-4.3 1-3.3 .2z" color="#3f28ae"/>
<path d="M100.6 782.4l2.2 .6-.9-.2-2.2-.4z" color="#402cb9"/>
<path d="M98.4 780.9l2.2 1.5-.9 0-2.1-1.3z" color="#4230c4"/>
<path d="M97.3 779.6l1.1 1.3-.8 .2-1.1-1.1z" color="#4539d8"/>
<path d="M96.2 778l1.1 1.6-.8 .4-1.1-1.5z" color="#463fdf"/>
<path d="M95.1 775.9l1.1 2.1-.8 .5-1.1-2z" color="#4744e5"/>
<path d="M94.1 773.1l1 2.8-.8 .6-1.1-2.5z" color="#4754f4"/>
<path d="M93 769.7l1.1 3.4-.9 .9-1.1-3.2z" color="#455ffb"/>
<path d="M91.9 765.4l1.1 4.3-.9 1.1-1.1-3.9z" color="#3a71fd"/>
<path d="M90.8 760.2l1.1 5.2-.9 1.5-1.1-4.9z" color="#2f88f5"/>
<path d="M89.7 753.8l1.1 6.4-.9 1.8-1-6z" color="#22a1e5"/>
<path d="M88.6 746l1.1 7.8-.8 2.2-1.1-7.3z" color="#0cb5d0"/>
<path d="M186.4 695.5l1.1-13.3-.9-1.5-1.1 13.5z" color="#f9c435"/>
<path d="M185.3 706.9l1.1-11.4-.9-1.3-1.1 11.5z" color="#a7c73e"/>
<path d="M184.2 716.5l1.1-9.6-.9-1.2-1.1 9.8z" color="#42c98e"/>
<path d="M183.1 724.7l1.1-8.2-.9-1-1 8.3z" color="#10bac3"/>
<path d="M182 731.7l1.1-7-.8-.9-1.1 7.1z" color="#19a9dd"/>
<path d="M180.9 737.5l1.1-5.8-.8-.8-1.1 5.9z" color="#2b92ee"/>
<path d="M179.8 742.4l1.1-4.9-.8-.7-1.1 5z" color="#327dfb"/>
<path d="M178.7 746.5l1.1-4.1-.8-.6-1.1 4.1z" color="#3f6bfc"/>
<path d="M177.7 750l1-3.5-.8-.6-1.1 3.5z" color="#465af7"/>
<path d="M176.6 752.9l1.1-2.9-.9-.6-1.1 2.9z" color="#474ff1"/>
<path d="M175.5 755.3l1.1-2.4-.9-.6-1.1 2.5z" color="#4744e5"/>
<path d="M174.4 757.3l1.1-2-.9-.5-1.1 2z" color="#463fdf"/>
<path d="M173.3 758.9l1.1-1.6-.9-.5-1 1.7z" color="#4539d8"/>
<path d="M172.2 760.3l1.1-1.4-.8-.4-1.1 1.4z" color="#4434cf"/>
<path d="M171.1 761.5l1.1-1.2-.8-.4-1.1 1.2z" color="#4230c4"/>
<path d="M168.9 763.4l2.2-1.9-.8-.4-2.2 1.8z" color="#402cb9"/>
<path d="M103.6 783.2l2.2 .2 2.2-.3 6.5-1.7 45.7-14 5.5-2.1 3.2-1.9-.8-.5-2.2 1.4-3.2 1.5-8.8 2.9-43.5 13.3-4.4 1-3.2 0z" color="#3f28ae"/>
<path d="M101.4 782.4l2.2 .8-.8-.2-2.2-.6z" color="#402cb9"/>
<path d="M100.3 781.7l1.1 .7-.8 0-1.1-.6z" color="#4230c4"/>
<path d="M99.3 780.7l1 1-.8 .1-1.1-.9z" color="#4434cf"/>
<path d="M98.2 779.3l1.1 1.4-.9 .2-1.1-1.3z" color="#4539d8"/>
<path d="M97.1 777.5l1.1 1.8-.9 .3-1.1-1.6z" color="#463fdf"/>
<path d="M96 775.2l1.1 2.3-.9 .5-1.1-2.1z" color="#4749ec"/>
<path d="M94.9 772.2l1.1 3-.9 .7-1-2.8z" color="#4754f4"/>
<path d="M93.8 768.5l1.1 3.7-.8 .9-1.1-3.4z" color="#4365fc"/>
<path d="M92.7 763.9l1.1 4.6-.8 1.2-1.1-4.3z" color="#327dfb"/>
<path d="M91.6 758.3l1.1 5.6-.8 1.5-1.1-5.2z" color="#2b92ee"/>
<path d="M90.5 751.5l1.1 6.8-.8 1.9-1.1-6.4z" color="#1fa5e1"/>
<path d="M89.5 743.3l1 8.2-.8 2.3-1.1-7.8z" color="#10bac3"/>
<path d="M187.2 697l1.1-13.1-.8-1.7-1.1 13.3z" color="#f6bf37"/>
<path d="M186.1 708.2l1.1-11.2-.8-1.5-1.1 11.4z" color="#9ac946"/>
<path d="M185 717.7l1.1-9.5-.8-1.3-1.1 9.6z" color="#38c897"/>
<path d="M183.9 725.7l1.1-8-.8-1.2-1.1 8.2z" color="#10bac3"/>
<path d="M182.9 732.6l1-6.9-.8-1-1.1 7z" color="#1fa5e1"/>
<path d="M181.8 738.3l1.1-5.7-.9-.9-1.1 5.8z" color="#2b92ee"/>
<path d="M180.7 743.2l1.1-4.9-.9-.8-1.1 4.9z" color="#327dfb"/>
<path d="M179.6 747.2l1.1-4-.9-.8-1.1 4.1z" color="#3f6bfc"/>
<path d="M178.5 750.6l1.1-3.4-.9-.7-1 3.5z" color="#465af7"/>
<path d="M177.4 753.4l1.1-2.8-.8-.6-1.1 2.9z" color="#474ff1"/>
<path d="M176.3 755.8l1.1-2.4-.8-.5-1.1 2.4z" color="#4744e5"/>
<path d="M175.2 757.8l1.1-2-.8-.5-1.1 2z" color="#463fdf"/>
<path d="M173.1 760.8l2.1-3-.8-.5-2.2 3z" color="#4434cf"/>
<path d="M172 762l1.1-1.2-.9-.5-1.1 1.2z" color="#4230c4"/>
<path d="M169.8 763.8l2.2-1.8-.9-.5-2.2 1.9z" color="#402cb9"/>
<path d="M105.5 783.6l3.3-.1 4.4-1 41.3-12.6 9.8-3.3 3.3-1.5 2.2-1.3-.9-.4-2.1 1.3-2.2 1.1-8.7 3-43.6 13.3-4.3 1-3.3 .3z" color="#3f28ae"/>
<path d="M103.4 783l2.1 .6-.8-.2-2.2-.5z" color="#402cb9"/>
<path d="M101.2 781.6l2.2 1.4-.9-.1-2.2-1.2z" color="#4230c4"/>
<path d="M100.1 780.5l1.1 1.1-.9 .1-1-1z" color="#4434cf"/>
<path d="M99 779l1.1 1.5-.8 .2-1.1-1.4z" color="#463fdf"/>
<path d="M97.9 777l1.1 2-.8 .3-1.1-1.8z" color="#4744e5"/>
<path d="M96.8 774.5l1.1 2.5-.8 .5-1.1-2.3z" color="#474ff1"/>
<path d="M95.7 771.3l1.1 3.2-.8 .7-1.1-3z" color="#465af7"/>
<path d="M94.7 767.3l1 4-.8 .9-1.1-3.7z" color="#3f6bfc"/>
<path d="M93.6 762.4l1.1 4.9-.9 1.2-1.1-4.6z" color="#3182f8"/>
<path d="M92.5 756.5l1.1 5.9-.9 1.5-1.1-5.6z" color="#2897eb"/>
<path d="M91.4 749.3l1.1 7.2-.9 1.8-1.1-6.8z" color="#14add9"/>
<path d="M90.3 740.7l1.1 8.6-.9 2.2-1-8.2z" color="#1fc1ae"/>
<path d="M188.1 698.6l1-12.9-.8-1.8-1.1 13.1z" color="#f4bb39"/>
<path d="M187 709.6l1.1-11-.9-1.6-1.1 11.2z" color="#8dca50"/>
<path d="M185.9 718.9l1.1-9.3-.9-1.4-1.1 9.5z" color="#38c897"/>
<path d="M184.8 726.9l1.1-8-.9-1.2-1.1 8z" color="#0eb7c9"/>
<path d="M183.7 733.6l1.1-6.7-.9-1.2-1 6.9z" color="#1fa5e1"/>
<path d="M182.6 739.2l1.1-5.6-.8-1-1.1 5.7z" color="#2d8df1"/>
<path d="M181.5 744l1.1-4.8-.8-.9-1.1 4.9z" color="#327dfb"/>
<path d="M180.4 747.9l1.1-3.9-.8-.8-1.1 4z" color="#4365fc"/>
<path d="M179.3 751.3l1.1-3.4-.8-.7-1.1 3.4z" color="#465af7"/>
<path d="M178.3 754.1l1-2.8-.8-.7-1.1 2.8z" color="#474ff1"/>
<path d="M177.2 756.4l1.1-2.3-.9-.7-1.1 2.4z" color="#4744e5"/>
<path d="M176.1 758.3l1.1-1.9-.9-.6-1.1 2z" color="#463fdf"/>
<path d="M173.9 761.3l2.2-3-.9-.5-2.1 3z" color="#4434cf"/>
<path d="M172.8 762.5l1.1-1.2-.8-.5-1.1 1.2z" color="#4230c4"/>
<path d="M170.6 764.2l2.2-1.7-.8-.5-2.2 1.8z" color="#402cb9"/>
<path d="M106.4 783.8l2.2 .1 2.1-.3 7.7-2 43.5-13.3 5.5-2.2 3.2-1.9-.8-.4-2.2 1.3-3.3 1.5-9.8 3.3-41.3 12.6-4.4 1-3.3 .1z" color="#3f28ae"/>
<path d="M104.2 783.1l2.2 .7-.9-.2-2.1-.6z" color="#402cb9"/>
<path d="M103.1 782.5l1.1 .6-.8-.1-1.1-.5z" color="#4230c4"/>
<path d="M102 781.5l1.1 1-.8 0-1.1-.9z" color="#4434cf"/>
<path d="M100.9 780.3l1.1 1.2-.8 .1-1.1-1.1z" color="#4539d8"/>
<path d="M99.9 778.6l1 1.7-.8 .2-1.1-1.5z" color="#463fdf"/>
<path d="M98.8 776.5l1.1 2.1-.9 .4-1.1-2z" color="#4749ec"/>
<path d="M97.7 773.8l1.1 2.7-.9 .5-1.1-2.5z" color="#4754f4"/>
<path d="M96.6 770.4l1.1 3.4-.9 .7-1.1-3.2z" color="#455ffb"/>
<path d="M95.5 766.1l1.1 4.3-.9 .9-1-4z" color="#3a71fd"/>
<path d="M94.4 761l1.1 5.1-.8 1.2-1.1-4.9z" color="#2f88f5"/>
<path d="M93.3 754.7l1.1 6.3-.8 1.4-1.1-5.9z" color="#22a1e5"/>
<path d="M92.2 747.1l1.1 7.6-.8 1.8-1.1-7.2z" color="#0cb5d0"/>
<path d="M91.1 738l1.1 9.1-.8 2.2-1.1-8.6z" color="#2fc69f"/>
<path d="M188.9 700.4l1.1-12.6-.9-2.1-1 12.9z" color="#ecbb36"/>
<path d="M187.8 711.2l1.1-10.8-.8-1.8-1.1 11z" color="#7fcb5b"/>
<path d="M186.7 720.3l1.1-9.1-.8-1.6-1.1 9.3z" color="#2fc69f"/>
<path d="M185.6 728.1l1.1-7.8-.8-1.4-1.1 8z" color="#0eb7c9"/>
<path d="M184.6 734.6l1-6.5-.8-1.2-1.1 6.7z" color="#22a1e5"/>
<path d="M183.5 740.2l1.1-5.6-.9-1-1.1 5.6z" color="#2d8df1"/>
<path d="M182.4 744.8l1.1-4.6-.9-1-1.1 4.8z" color="#3677fd"/>
<path d="M181.3 748.7l1.1-3.9-.9-.8-1.1 3.9z" color="#4365fc"/>
<path d="M180.2 752l1.1-3.3-.9-.8-1.1 3.4z" color="#465af7"/>
<path d="M179.1 754.7l1.1-2.7-.9-.7-1 2.8z" color="#4749ec"/>
<path d="M178 757l1.1-2.3-.8-.6-1.1 2.3z" color="#4744e5"/>
<path d="M176.9 758.9l1.1-1.9-.8-.6-1.1 1.9z" color="#4539d8"/>
<path d="M175.8 760.5l1.1-1.6-.8-.6-1.1 1.7z" color="#4434cf"/>
<path d="M173.7 762.9l2.1-2.4-.8-.5-2.2 2.5z" color="#4230c4"/>
<path d="M171.5 764.7l2.2-1.8-.9-.4-2.2 1.7z" color="#402cb9"/>
<path d="M108.3 784.2l3.3-.2 4.4-1 40.2-12.3 9.8-3.2 3.3-1.5 2.2-1.3-.9-.5-2.1 1.4-2.2 1-8.7 3.1-42.5 12.9-4.4 1-3.2 .3z" color="#3f28ae"/>
<path d="M104 782.5l2.2 1.2-.9-.2-2.2-1z" color="#4230c4"/>
<path d="M102.9 781.4l1.1 1.1-.9 0-1.1-1z" color="#4434cf"/>
<path d="M101.8 780.1l1.1 1.3-.9 .1-1.1-1.2z" color="#4539d8"/>
<path d="M100.7 778.3l1.1 1.8-.9 .2-1-1.7z" color="#4744e5"/>
<path d="M99.6 776l1.1 2.3-.8 .3-1.1-2.1z" color="#4749ec"/>
<path d="M98.5 773.1l1.1 2.9-.8 .5-1.1-2.7z" color="#465af7"/>
<path d="M97.4 769.5l1.1 3.6-.8 .7-1.1-3.4z" color="#4365fc"/>
<path d="M96.4 765l1 4.5-.8 .9-1.1-4.3z" color="#327dfb"/>
<path d="M95.3 759.5l1.1 5.5-.9 1.1-1.1-5.1z" color="#2b92ee"/>
<path d="M94.2 752.9l1.1 6.6-.9 1.5-1.1-6.3z" color="#1fa5e1"/>
<path d="M93.1 745l1.1 7.9-.9 1.8-1.1-7.6z" color="#10bac3"/>
<path d="M92 735.4l1.1 9.6-.9 2.1-1.1-9.1z" color="#42c98e"/>
<path d="M189.8 702.4l1-12.4-.8-2.2-1.1 12.6z" color="#e2bd32"/>
<path d="M188.7 712.9l1.1-10.5-.9-2-1.1 10.8z" color="#71cc66"/>
<path d="M187.6 721.8l1.1-8.9-.9-1.7-1.1 9.1z" color="#27c4a7"/>
<path d="M186.5 729.4l1.1-7.6-.9-1.5-1.1 7.8z" color="#0cb5d0"/>
<path d="M185.4 735.8l1.1-6.4-.9-1.3-1 6.5z" color="#22a1e5"/>
<path d="M184.3 741.2l1.1-5.4-.8-1.2-1.1 5.6z" color="#2f88f5"/>
<path d="M183.2 745.8l1.1-4.6-.8-1-1.1 4.6z" color="#3677fd"/>
<path d="M182.1 749.6l1.1-3.8-.8-1-1.1 3.9z" color="#4365fc"/>
<path d="M181 752.8l1.1-3.2-.8-.9-1.1 3.3z" color="#4754f4"/>
<path d="M180 755.4l1-2.6-.8-.8-1.1 2.7z" color="#4749ec"/>
<path d="M178.9 757.6l1.1-2.2-.9-.7-1.1 2.3z" color="#4744e5"/>
<path d="M177.8 759.5l1.1-1.9-.9-.6-1.1 1.9z" color="#4539d8"/>
<path d="M176.7 761.1l1.1-1.6-.9-.6-1.1 1.6z" color="#4434cf"/>
<path d="M174.5 763.5l2.2-2.4-.9-.6-2.1 2.4z" color="#4230c4"/>
<path d="M172.3 765.2l2.2-1.7-.8-.6-2.2 1.8z" color="#402cb9"/>
<path d="M109.2 784.4l2.2 0 2.1-.2 8.7-2.4 41.4-12.7 5.5-2.1 3.2-1.8-.8-.5-2.2 1.3-3.3 1.5-9.8 3.2-40.2 12.3-4.4 1-3.3 .2z" color="#3f28ae"/>
<path d="M107 783.9l2.2 .5-.9-.2-2.1-.5z" color="#402cb9"/>
<path d="M104.8 782.5l2.2 1.4-.8-.2-2.2-1.2z" color="#4230c4"/>
<path d="M103.7 781.4l1.1 1.1-.8 0-1.1-1.1z" color="#4434cf"/>
<path d="M102.6 779.9l1.1 1.5-.8 0-1.1-1.3z" color="#463fdf"/>
<path d="M101.6 778l1 1.9-.8 .2-1.1-1.8z" color="#4744e5"/>
<path d="M100.5 775.5l1.1 2.5-.9 .3-1.1-2.3z" color="#474ff1"/>
<path d="M99.4 772.4l1.1 3.1-.9 .5-1.1-2.9z" color="#465af7"/>
<path d="M98.3 768.6l1.1 3.8-.9 .7-1.1-3.6z" color="#3f6bfc"/>
<path d="M97.2 763.9l1.1 4.7-.9 .9-1-4.5z" color="#3182f8"/>
<path d="M96.1 758.1l1.1 5.8-.8 1.1-1.1-5.5z" color="#2897eb"/>
<path d="M95 751.2l1.1 6.9-.8 1.4-1.1-6.6z" color="#14add9"/>
<path d="M93.9 742.9l1.1 8.3-.8 1.7-1.1-7.9z" color="#17bfb5"/>
<path d="M92.8 732.9l1.1 10-.8 2.1-1.1-9.6z" color="#57cc7b"/>
<path d="M190.6 704.5l1.1-12.1-.9-2.4-1 12.4z" color="#d8be2e"/>
<path d="M189.5 714.7l1.1-10.2-.8-2.1-1.1 10.5z" color="#62cc71"/>
<path d="M188.4 723.4l1.1-8.7-.8-1.8-1.1 8.9z" color="#1fc1ae"/>
<path d="M187.3 730.8l1.1-7.4-.8-1.6-1.1 7.6z" color="#0eb1d5"/>
<path d="M186.2 737.1l1.1-6.3-.8-1.4-1.1 6.4z" color="#259ce8"/>
<path d="M185.2 742.3l1-5.2-.8-1.3-1.1 5.4z" color="#2f88f5"/>
<path d="M184.1 746.8l1.1-4.5-.9-1.1-1.1 4.6z" color="#3a71fd"/>
<path d="M183 750.5l1.1-3.7-.9-1-1.1 3.8z" color="#455ffb"/>
<path d="M181.9 753.6l1.1-3.1-.9-.9-1.1 3.2z" color="#4754f4"/>
<path d="M180.8 756.2l1.1-2.6-.9-.8-1 2.6z" color="#4749ec"/>
<path d="M179.7 758.3l1.1-2.1-.8-.8-1.1 2.2z" color="#463fdf"/>
<path d="M178.6 760.1l1.1-1.8-.8-.7-1.1 1.9z" color="#4539d8"/>
<path d="M177.5 761.6l1.1-1.5-.8-.6-1.1 1.6z" color="#4434cf"/>
<path d="M175.4 764l2.1-2.4-.8-.5-2.2 2.4z" color="#4230c4"/>
<path d="M173.2 765.7l2.2-1.7-.9-.5-2.2 1.7z" color="#402cb9"/>
<path d="M110 784.7l2.2 .1 2.2-.3 7.6-1.9 42.5-13.1 5.4-2.1 3.3-1.7-.9-.5-3.2 1.8-5.5 2.1-41.4 12.7-8.7 2.4-2.1 .2-2.2 0z" color="#3f28ae"/>
<path d="M107.8 784l2.2 .7-.8-.3-2.2-.5z" color="#402cb9"/>
<path d="M106.8 783.4l1 .6-.8-.1-1.1-.6z" color="#4230c4"/>
<path d="M105.7 782.5l1.1 .9-.9-.1-1.1-.8z" color="#4434cf"/>
<path d="M104.6 781.3l1.1 1.2-.9 0-1.1-1.1z" color="#4539d8"/>
<path d="M103.5 779.7l1.1 1.6-.9 .1-1.1-1.5z" color="#463fdf"/>
<path d="M102.4 777.6l1.1 2.1-.9 .2-1-1.9z" color="#4749ec"/>
<path d="M101.3 775l1.1 2.6-.8 .4-1.1-2.5z" color="#4754f4"/>
<path d="M100.2 771.8l1.1 3.2-.8 .5-1.1-3.1z" color="#455ffb"/>
<path d="M99.1 767.8l1.1 4-.8 .6-1.1-3.8z" color="#3a71fd"/>
<path d="M98 762.8l1.1 5-.8 .8-1.1-4.7z" color="#2f88f5"/>
<path d="M97 756.8l1 6-.8 1.1-1.1-5.8z" color="#259ce8"/>
<path d="M95.9 749.6l1.1 7.2-.9 1.3-1.1-6.9z" color="#0eb1d5"/>
<path d="M94.8 740.9l1.1 8.7-.9 1.6-1.1-8.3z" color="#27c4a7"/>
<path d="M93.7 730.5l1.1 10.4-.9 2-1.1-10z" color="#71cc66"/>
<path d="M191.4 706.7l1.1-11.7-.8-2.6-1.1 12.1z" color="#c2c22e"/>
<path d="M190.4 716.7l1-10-.8-2.2-1.1 10.2z" color="#57cc7b"/>
<path d="M189.3 725.2l1.1-8.5-.9-2-1.1 8.7z" color="#17bfb5"/>
<path d="M188.2 732.3l1.1-7.1-.9-1.8-1.1 7.4z" color="#14add9"/>
<path d="M187.1 738.4l1.1-6.1-.9-1.5-1.1 6.3z" color="#2897eb"/>
<path d="M186 743.5l1.1-5.1-.9-1.3-1 5.2z" color="#3182f8"/>
<path d="M184.9 747.8l1.1-4.3-.8-1.2-1.1 4.5z" color="#3a71fd"/>
<path d="M183.8 751.4l1.1-3.6-.8-1-1.1 3.7z" color="#455ffb"/>
<path d="M182.7 754.4l1.1-3-.8-.9-1.1 3.1z" color="#4754f4"/>
<path d="M181.6 756.9l1.1-2.5-.8-.8-1.1 2.6z" color="#4749ec"/>
<path d="M180.6 759l1-2.1-.8-.7-1.1 2.1z" color="#463fdf"/>
<path d="M179.5 760.8l1.1-1.8-.9-.7-1.1 1.8z" color="#4539d8"/>
<path d="M178.4 762.2l1.1-1.4-.9-.7-1.1 1.5z" color="#4434cf"/>
<path d="M176.2 764.5l2.2-2.3-.9-.6-2.1 2.4z" color="#4230c4"/>
<path d="M174 766.1l2.2-1.6-.8-.5-2.2 1.7z" color="#402cb9"/>
<path d="M112 785.1l2.1-.1 3.3-.5 9.8-2.8 38.1-11.7 5.5-2.1 3.2-1.8-.8-.4-2.2 1.2-3.3 1.5-9.8 3.2-39.2 11.9-4.3 1-3.3 .3z" color="#3f28ae"/>
<path d="M107.6 783.5l2.2 1.1-.9-.2-2.1-1z" color="#4230c4"/>
<path d="M106.5 782.5l1.1 1-.8-.1-1.1-.9z" color="#4434cf"/>
<path d="M105.4 781.2l1.1 1.3-.8 0-1.1-1.2z" color="#4539d8"/>
<path d="M104.3 779.5l1.1 1.7-.8 .1-1.1-1.6z" color="#4744e5"/>
<path d="M103.2 777.4l1.1 2.1-.8 .2-1.1-2.1z" color="#4749ec"/>
<path d="M102.2 774.6l1 2.8-.8 .2-1.1-2.6z" color="#4754f4"/>
<path d="M101.1 771.2l1.1 3.4-.9 .4-1.1-3.2z" color="#4365fc"/>
<path d="M100 767l1.1 4.2-.9 .6-1.1-4z" color="#3677fd"/>
<path d="M98.9 761.8l1.1 5.2-.9 .8-1.1-5z" color="#2d8df1"/>
<path d="M97.8 755.5l1.1 6.3-.9 1-1-6z" color="#22a1e5"/>
<path d="M96.7 748l1.1 7.5-.8 1.3-1.1-7.2z" color="#0eb7c9"/>
<path d="M95.6 739l1.1 9-.8 1.6-1.1-8.7z" color="#2fc69f"/>
<path d="M94.5 728.2l1.1 10.8-.8 1.9-1.1-10.4z" color="#8dca50"/>
<path d="M192.3 709l1.1-11.4-.9-2.6-1.1 11.7z" color="#b5c436"/>
<path d="M191.2 718.7l1.1-9.7-.9-2.3-1 10z" color="#4dca84"/>
<path d="M190.1 727l1.1-8.3-.8-2-1.1 8.5z" color="#12bdbc"/>
<path d="M189 733.9l1.1-6.9-.8-1.8-1.1 7.1z" color="#19a9dd"/>
<path d="M187.9 739.8l1.1-5.9-.8-1.6-1.1 6.1z" color="#2897eb"/>
<path d="M186.8 744.7l1.1-4.9-.8-1.4-1.1 5.1z" color="#3182f8"/>
<path d="M185.8 748.9l1-4.2-.8-1.2-1.1 4.3z" color="#3f6bfc"/>
<path d="M184.7 752.4l1.1-3.5-.9-1.1-1.1 3.6z" color="#455ffb"/>
<path d="M183.6 755.3l1.1-2.9-.9-1-1.1 3z" color="#474ff1"/>
<path d="M182.5 757.7l1.1-2.4-.9-.9-1.1 2.5z" color="#4744e5"/>
<path d="M181.4 759.7l1.1-2-.9-.8-1 2.1z" color="#463fdf"/>
<path d="M180.3 761.4l1.1-1.7-.8-.7-1.1 1.8z" color="#4539d8"/>
<path d="M179.2 762.8l1.1-1.4-.8-.6-1.1 1.4z" color="#4434cf"/>
<path d="M178.1 764l1.1-1.2-.8-.6-1.1 1.3z" color="#4230c4"/>
<path d="M174.9 766.6l3.2-2.6-.8-.5-3.3 2.6z" color="#402cb9"/>
<path d="M112.8 785.4l2.2 0 2.2-.3 8.7-2.4 40.3-12.3 5.4-2.1 3.3-1.7-.9-.5-3.2 1.8-5.5 2.1-38.1 11.7-9.8 2.8-3.3 .5-2.1 .1z" color="#3f28ae"/>
<path d="M108.4 783.6l2.2 1.3-.8-.3-2.2-1.1z" color="#4230c4"/>
<path d="M107.4 782.6l1 1-.8-.1-1.1-1z" color="#4434cf"/>
<path d="M106.3 781.2l1.1 1.4-.9-.1-1.1-1.3z" color="#4539d8"/>
<path d="M105.2 779.4l1.1 1.8-.9 0-1.1-1.7z" color="#4744e5"/>
<path d="M104.1 777.1l1.1 2.3-.9 .1-1.1-2.1z" color="#474ff1"/>
<path d="M103 774.2l1.1 2.9-.9 .3-1-2.8z" color="#465af7"/>
<path d="M101.9 770.6l1.1 3.6-.8 .4-1.1-3.4z" color="#3f6bfc"/>
<path d="M100.8 766.2l1.1 4.4-.8 .6-1.1-4.2z" color="#327dfb"/>
<path d="M99.7 760.9l1.1 5.3-.8 .8-1.1-5.2z" color="#2b92ee"/>
<path d="M98.6 754.3l1.1 6.6-.8 .9-1.1-6.3z" color="#19a9dd"/>
<path d="M97.6 746.5l1 7.8-.8 1.2-1.1-7.5z" color="#10bac3"/>
<path d="M96.5 737.2l1.1 9.3-.9 1.5-1.1-9z" color="#42c98e"/>
<path d="M95.4 726l1.1 11.2-.9 1.8-1.1-10.8z" color="#a7c73e"/>
<path d="M193.1 711.5l1.1-11-.8-2.9-1.1 11.4z" color="#9ac946"/>
<path d="M192 720.9l1.1-9.4-.8-2.5-1.1 9.7z" color="#38c897"/>
<path d="M191 728.8l1-7.9-.8-2.2-1.1 8.3z" color="#10bac3"/>
<path d="M189.9 735.6l1.1-6.8-.9-1.8-1.1 6.9z" color="#1fa5e1"/>
<path d="M188.8 741.3l1.1-5.7-.9-1.7-1.1 5.9z" color="#2b92ee"/>
<path d="M187.7 746l1.1-4.7-.9-1.5-1.1 4.9z" color="#327dfb"/>
<path d="M186.6 750l1.1-4-.9-1.3-1 4.2z" color="#3f6bfc"/>
<path d="M185.5 753.4l1.1-3.4-.8-1.1-1.1 3.5z" color="#465af7"/>
<path d="M184.4 756.2l1.1-2.8-.8-1-1.1 2.9z" color="#474ff1"/>
<path d="M183.3 758.5l1.1-2.3-.8-.9-1.1 2.4z" color="#4744e5"/>
<path d="M182.2 760.5l1.1-2-.8-.8-1.1 2z" color="#463fdf"/>
<path d="M181.2 762.1l1-1.6-.8-.8-1.1 1.7z" color="#4539d8"/>
<path d="M180.1 763.5l1.1-1.4-.9-.7-1.1 1.4z" color="#4434cf"/>
<path d="M179 764.6l1.1-1.1-.9-.7-1.1 1.2z" color="#4230c4"/>
<path d="M175.7 767.1l3.3-2.5-.9-.6-3.2 2.6z" color="#402cb9"/>
<path d="M113.6 785.7l2.2 0 2.2-.2 7.6-2 41.4-12.7 5.4-2 3.3-1.7-.8-.5-3.3 1.7-5.4 2.1-40.3 12.3-8.7 2.4-2.2 .3-2.2 0z" color="#3f28ae"/>
<path d="M110.4 784.6l1.1 .5-.9-.2-1.1-.5z" color="#4230c4"/>
<path d="M109.3 783.7l1.1 .9-.9-.2-1.1-.8z" color="#4434cf"/>
<path d="M108.2 782.6l1.1 1.1-.9-.1-1-1z" color="#4539d8"/>
<path d="M107.1 781.2l1.1 1.4-.8 0-1.1-1.4z" color="#463fdf"/>
<path d="M106 779.3l1.1 1.9-.8 0-1.1-1.8z" color="#4744e5"/>
<path d="M104.9 776.9l1.1 2.4-.8 .1-1.1-2.3z" color="#474ff1"/>
<path d="M103.8 773.9l1.1 3-.8 .2-1.1-2.9z" color="#465af7"/>
<path d="M102.8 770.2l1 3.7-.8 .3-1.1-3.6z" color="#3f6bfc"/>
<path d="M101.7 765.6l1.1 4.6-.9 .4-1.1-4.4z" color="#3182f8"/>
<path d="M100.6 760l1.1 5.6-.9 .6-1.1-5.3z" color="#2897eb"/>
<path d="M99.5 753.2l1.1 6.8-.9 .9-1.1-6.6z" color="#14add9"/>
<path d="M98.4 745.1l1.1 8.1-.9 1.1-1-7.8z" color="#17bfb5"/>
<path d="M97.3 735.5l1.1 9.6-.8 1.4-1.1-9.3z" color="#57cc7b"/>
<path d="M96.2 724l1.1 11.5-.8 1.7-1.1-11.2z" color="#c2c22e"/>
<path d="M194 714l1.1-10.6-.9-2.9-1.1 11z" color="#7fcb5b"/>
<path d="M192.9 723.1l1.1-9.1-.9-2.5-1.1 9.4z" color="#2fc69f"/>
<path d="M191.8 730.8l1.1-7.7-.9-2.2-1 7.9z" color="#0eb7c9"/>
<path d="M190.7 737.3l1.1-6.5-.8-2-1.1 6.8z" color="#22a1e5"/>
<path d="M189.6 742.8l1.1-5.5-.8-1.7-1.1 5.7z" color="#2d8df1"/>
<path d="M188.5 747.3l1.1-4.5-.8-1.5-1.1 4.7z" color="#3677fd"/>
<path d="M187.4 751.2l1.1-3.9-.8-1.3-1.1 4z" color="#4365fc"/>
<path d="M186.4 754.4l1-3.2-.8-1.2-1.1 3.4z" color="#465af7"/>
<path d="M185.3 757.1l1.1-2.7-.9-1-1.1 2.8z" color="#4749ec"/>
<path d="M184.2 759.3l1.1-2.2-.9-.9-1.1 2.3z" color="#4744e5"/>
<path d="M183.1 761.2l1.1-1.9-.9-.8-1.1 2z" color="#4539d8"/>
<path d="M182 762.8l1.1-1.6-.9-.7-1 1.6z" color="#4434cf"/>
<path d="M179.8 765.2l2.2-2.4-.8-.7-2.2 2.5z" color="#4230c4"/>
<path d="M177.6 766.9l2.2-1.7-.8-.6-2.2 1.8z" color="#402cb9"/>
<path d="M115.6 786.1l3.2-.2 5.5-1.3 37-11.3 10.9-3.6 3.3-1.5 2.1-1.3-.8-.5-2.2 1.3-3.2 1.5-8.8 3-39.2 11.9-5.4 1.4-3.3 .3z" color="#3f28ae"/>
<path d="M112.3 785.4l1.1 .4 2.2 .3-.9-.3-2.1-.3-1.1-.4z" color="#402cb9"/>
<path d="M111.2 784.8l1.1 .6-.8-.3-1.1-.5z" color="#4230c4"/>
<path d="M110.1 783.9l1.1 .9-.8-.2-1.1-.9z" color="#4434cf"/>
<path d="M109 782.7l1.1 1.2-.8-.2-1.1-1.1z" color="#4539d8"/>
<path d="M108 781.2l1 1.5-.8-.1-1.1-1.4z" color="#463fdf"/>
<path d="M106.9 779.2l1.1 2-.9 0-1.1-1.9z" color="#4749ec"/>
<path d="M105.8 776.7l1.1 2.5-.9 .1-1.1-2.4z" color="#4754f4"/>
<path d="M104.7 773.6l1.1 3.1-.9 .2-1.1-3z" color="#455ffb"/>
<path d="M103.6 769.7l1.1 3.9-.9 .3-1-3.7z" color="#3a71fd"/>
<path d="M102.5 765l1.1 4.7-.8 .5-1.1-4.6z" color="#3182f8"/>
<path d="M101.4 759.2l1.1 5.8-.8 .6-1.1-5.6z" color="#259ce8"/>
<path d="M100.3 752.2l1.1 7-.8 .8-1.1-6.8z" color="#0eb1d5"/>
<path d="M99.2 743.9l1.1 8.3-.8 1-1.1-8.1z" color="#1fc1ae"/>
<path d="M98.2 733.9l1 10-.8 1.2-1.1-9.6z" color="#62cc71"/>
<path d="M97.1 722.1l1.1 11.8-.9 1.6-1.1-11.5z" color="#d8be2e"/>
<path d="M194.8 716.7l1.1-10.3-.8-3-1.1 10.6z" color="#71cc66"/>
<path d="M193.7 725.4l1.1-8.7-.8-2.7-1.1 9.1z" color="#1fc1ae"/>
<path d="M192.6 732.8l1.1-7.4-.8-2.3-1.1 7.7z" color="#0eb1d5"/>
<path d="M191.6 739l1-6.2-.8-2-1.1 6.5z" color="#259ce8"/>
<path d="M190.5 744.3l1.1-5.3-.9-1.7-1.1 5.5z" color="#2f88f5"/>
<path d="M189.4 748.7l1.1-4.4-.9-1.5-1.1 4.5z" color="#3a71fd"/>
<path d="M188.3 752.4l1.1-3.7-.9-1.4-1.1 3.9z" color="#455ffb"/>
<path d="M187.2 755.5l1.1-3.1-.9-1.2-1 3.2z" color="#4754f4"/>
<path d="M186.1 758l1.1-2.5-.8-1.1-1.1 2.7z" color="#4749ec"/>
<path d="M185 760.2l1.1-2.2-.8-.9-1.1 2.2z" color="#463fdf"/>
<path d="M183.9 762l1.1-1.8-.8-.9-1.1 1.9z" color="#4539d8"/>
<path d="M182.8 763.5l1.1-1.5-.8-.8-1.1 1.6z" color="#4434cf"/>
<path d="M180.7 765.8l2.1-2.3-.8-.7-2.2 2.4z" color="#4230c4"/>
<path d="M178.5 767.5l2.2-1.7-.9-.6-2.2 1.7z" color="#402cb9"/>
<path d="M116.4 786.5l3.3-.3 4.3-.9 31.6-9.6 16.4-5.2 3.2-1.3 3.3-1.7-.9-.6-2.1 1.3-3.3 1.5-10.9 3.6-37 11.3-5.5 1.3-3.2 .2z" color="#3f28ae"/>
<path d="M113.2 785.6l1 .5 2.2 .4-.8-.4-2.2-.3-1.1-.4z" color="#402cb9"/>
<path d="M112.1 785l1.1 .6-.9-.2-1.1-.6z" color="#4230c4"/>
<path d="M111 784.1l1.1 .9-.9-.2-1.1-.9z" color="#4434cf"/>
<path d="M109.9 782.9l1.1 1.2-.9-.2-1.1-1.2z" color="#4539d8"/>
<path d="M108.8 781.3l1.1 1.6-.9-.2-1-1.5z" color="#463fdf"/>
<path d="M107.7 779.2l1.1 2.1-.8-.1-1.1-2z" color="#4749ec"/>
<path d="M106.6 776.6l1.1 2.6-.8 0-1.1-2.5z" color="#4754f4"/>
<path d="M105.5 773.4l1.1 3.2-.8 .1-1.1-3.1z" color="#455ffb"/>
<path d="M104.4 769.4l1.1 4-.8 .2-1.1-3.9z" color="#3a71fd"/>
<path d="M103.4 764.5l1 4.9-.8 .3-1.1-4.7z" color="#2f88f5"/>
<path d="M102.3 758.5l1.1 6-.9 .5-1.1-5.8z" color="#259ce8"/>
<path d="M101.2 751.3l1.1 7.2-.9 .7-1.1-7z" color="#0cb5d0"/>
<path d="M100.1 742.7l1.1 8.6-.9 .9-1.1-8.3z" color="#27c4a7"/>
<path d="M99 732.5l1.1 10.2-.9 1.2-1-10z" color="#71cc66"/>
<path d="M97.9 720.4l1.1 12.1-.8 1.4-1.1-11.8z" color="#e2bd32"/>
<path d="M195.7 719.4l1.1-9.9-.9-3.1-1.1 10.3z" color="#57cc7b"/>
<path d="M194.6 727.8l1.1-8.4-.9-2.7-1.1 8.7z" color="#17bfb5"/>
<path d="M193.5 734.9l1.1-7.1-.9-2.4-1.1 7.4z" color="#14add9"/>
<path d="M192.4 740.8l1.1-5.9-.9-2.1-1 6.2z" color="#2897eb"/>
<path d="M191.3 745.9l1.1-5.1-.8-1.8-1.1 5.3z" color="#3182f8"/>
<path d="M190.2 750.1l1.1-4.2-.8-1.6-1.1 4.4z" color="#3a71fd"/>
<path d="M189.1 753.6l1.1-3.5-.8-1.4-1.1 3.7z" color="#455ffb"/>
<path d="M188 756.5l1.1-2.9-.8-1.2-1.1 3.1z" color="#474ff1"/>
<path d="M187 759l1-2.5-.8-1-1.1 2.5z" color="#4749ec"/>
<path d="M185.9 761l1.1-2-.9-1-1.1 2.2z" color="#463fdf"/>
<path d="M184.8 762.8l1.1-1.8-.9-.8-1.1 1.8z" color="#4539d8"/>
<path d="M183.7 764.2l1.1-1.4-.9-.8-1.1 1.5z" color="#4434cf"/>
<path d="M182.6 765.4l1.1-1.2-.9-.7-1 1.2z" color="#4230c4"/>
<path d="M179.3 768l3.3-2.6-.8-.7-3.3 2.8z" color="#402cb9"/>
<path d="M117.3 786.8l2.1 0 3.3-.6 8.7-2.4 39.2-12.1 5.5-2 3.2-1.7-.8-.5-3.3 1.7-3.2 1.3-16.4 5.2-31.6 9.6-4.3 .9-3.3 .3z" color="#3f28ae"/>
<path d="M112.9 785.2l2.2 1.2-.9-.3-2.1-1.1z" color="#4230c4"/>
<path d="M111.8 784.3l1.1 .9-.8-.2-1.1-.9z" color="#4434cf"/>
<path d="M110.7 783l1.1 1.3-.8-.2-1.1-1.2z" color="#4539d8"/>
<path d="M109.6 781.4l1.1 1.6-.8-.1-1.1-1.6z" color="#4744e5"/>
<path d="M108.6 779.2l1 2.2-.8-.1-1.1-2.1z" color="#4749ec"/>
<path d="M107.5 776.6l1.1 2.6-.9 0-1.1-2.6z" color="#4754f4"/>
<path d="M106.4 773.2l1.1 3.4-.9 0-1.1-3.2z" color="#4365fc"/>
<path d="M105.3 769.1l1.1 4.1-.9 .2-1.1-4z" color="#3677fd"/>
<path d="M104.2 764l1.1 5.1-.9 .3-1-4.9z" color="#2d8df1"/>
<path d="M103.1 757.9l1.1 6.1-.8 .5-1.1-6z" color="#22a1e5"/>
<path d="M102 750.6l1.1 7.3-.8 .6-1.1-7.2z" color="#0eb7c9"/>
<path d="M100.9 741.7l1.1 8.9-.8 .7-1.1-8.6z" color="#2fc69f"/>
<path d="M99.8 731.3l1.1 10.4-.8 1-1.1-10.2z" color="#8dca50"/>
<path d="M98.8 718.8l1 12.5-.8 1.2-1.1-12.1z" color="#f4bb39"/>
<path d="M196.5 722.1l1.1-9.5-.8-3.1-1.1 9.9z" color="#42c98e"/>
<path d="M195.4 730.2l1.1-8.1-.8-2.7-1.1 8.4z" color="#10bac3"/>
<path d="M194.3 736.9l1.1-6.7-.8-2.4-1.1 7.1z" color="#1fa5e1"/>
<path d="M193.2 742.7l1.1-5.8-.8-2-1.1 5.9z" color="#2b92ee"/>
<path d="M192.2 747.5l1-4.8-.8-1.9-1.1 5.1z" color="#327dfb"/>
<path d="M191.1 751.5l1.1-4-.9-1.6-1.1 4.2z" color="#3f6bfc"/>
<path d="M190 754.8l1.1-3.3-.9-1.4-1.1 3.5z" color="#465af7"/>
<path d="M188.9 757.6l1.1-2.8-.9-1.2-1.1 2.9z" color="#474ff1"/>
<path d="M187.8 760l1.1-2.4-.9-1.1-1 2.5z" color="#4744e5"/>
<path d="M186.7 761.9l1.1-1.9-.8-1-1.1 2z" color="#463fdf"/>
<path d="M185.6 763.5l1.1-1.6-.8-.9-1.1 1.8z" color="#4539d8"/>
<path d="M184.5 764.9l1.1-1.4-.8-.7-1.1 1.4z" color="#4434cf"/>
<path d="M183.4 766l1.1-1.1-.8-.7-1.1 1.2z" color="#4230c4"/>
<path d="M180.2 768.5l3.2-2.5-.8-.6-3.3 2.6z" color="#402cb9"/>
<path d="M118.1 787.2l2.2 0 2.2-.3 8.7-2.4 40.3-12.4 5.4-2 3.3-1.6-.9-.5-3.2 1.7-5.5 2-39.2 12.1-8.7 2.4-3.3 .6-2.1 0z" color="#3f28ae"/>
<path d="M113.8 785.5l2.1 1.2-.8-.3-2.2-1.2z" color="#4230c4"/>
<path d="M112.7 784.5l1.1 1-.9-.3-1.1-.9z" color="#4434cf"/>
<path d="M111.6 783.2l1.1 1.3-.9-.2-1.1-1.3z" color="#4539d8"/>
<path d="M110.5 781.5l1.1 1.7-.9-.2-1.1-1.6z" color="#4744e5"/>
<path d="M109.4 779.3l1.1 2.2-.9-.1-1-2.2z" color="#474ff1"/>
<path d="M108.3 776.6l1.1 2.7-.8-.1-1.1-2.6z" color="#465af7"/>
<path d="M107.2 773.1l1.1 3.5-.8 0-1.1-3.4z" color="#4365fc"/>
<path d="M106.1 768.9l1.1 4.2-.8 .1-1.1-4.1z" color="#3677fd"/>
<path d="M105 763.7l1.1 5.2-.8 .2-1.1-5.1z" color="#2d8df1"/>
<path d="M104 757.4l1 6.3-.8 .3-1.1-6.1z" color="#1fa5e1"/>
<path d="M102.9 749.9l1.1 7.5-.9 .5-1.1-7.3z" color="#0eb7c9"/>
<path d="M101.8 740.9l1.1 9-.9 .7-1.1-8.9z" color="#38c897"/>
<path d="M100.7 730.2l1.1 10.7-.9 .8-1.1-10.4z" color="#9ac946"/>
<path d="M99.6 717.5l1.1 12.7-.9 1.1-1-12.5z" color="#f6bf37"/>
<path d="M197.4 724.9l1-9.1-.8-3.2-1.1 9.5z" color="#2fc69f"/>
<path d="M196.3 732.6l1.1-7.7-.9-2.8-1.1 8.1z" color="#0cb5d0"/>
<path d="M195.2 739.1l1.1-6.5-.9-2.4-1.1 6.7z" color="#22a1e5"/>
<path d="M194.1 744.5l1.1-5.4-.9-2.2-1.1 5.8z" color="#2d8df1"/>
<path d="M193 749.1l1.1-4.6-.9-1.8-1 4.8z" color="#3677fd"/>
<path d="M191.9 752.9l1.1-3.8-.8-1.6-1.1 4z" color="#4365fc"/>
<path d="M190.8 756.1l1.1-3.2-.8-1.4-1.1 3.3z" color="#4754f4"/>
<path d="M189.7 758.7l1.1-2.6-.8-1.3-1.1 2.8z" color="#4749ec"/>
<path d="M188.6 760.9l1.1-2.2-.8-1.1-1.1 2.4z" color="#4744e5"/>
<path d="M187.6 762.8l1-1.9-.8-.9-1.1 1.9z" color="#4539d8"/>
<path d="M186.5 764.3l1.1-1.5-.9-.9-1.1 1.6z" color="#4434cf"/>
<path d="M184.3 766.6l2.2-2.3-.9-.8-2.2 2.5z" color="#4230c4"/>
<path d="M182.1 768.3l2.2-1.7-.9-.6-2.1 1.8z" color="#402cb9"/>
<path d="M119 787.6l2.1 0 3.3-.5 10.9-3.1 38.1-11.8 5.5-2.1 3.2-1.8-.8-.5-3.3 1.8-3.3 1.4-16.3 5.2-32.7 9.9-4.3 .9-3.3 .2z" color="#3f28ae"/>
<path d="M114.6 785.8l2.2 1.3-.9-.4-2.1-1.2z" color="#4230c4"/>
<path d="M113.5 784.8l1.1 1-.8-.3-1.1-1z" color="#4434cf"/>
<path d="M112.4 783.5l1.1 1.3-.8-.3-1.1-1.3z" color="#463fdf"/>
<path d="M111.3 781.7l1.1 1.8-.8-.3-1.1-1.7z" color="#4744e5"/>
<path d="M110.3 779.5l1 2.2-.8-.2-1.1-2.2z" color="#474ff1"/>
<path d="M109.2 776.6l1.1 2.9-.9-.2-1.1-2.7z" color="#465af7"/>
<path d="M108.1 773.1l1.1 3.5-.9 0-1.1-3.5z" color="#3f6bfc"/>
<path d="M107 768.8l1.1 4.3-.9 0-1.1-4.2z" color="#327dfb"/>
<path d="M105.9 763.5l1.1 5.3-.9 .1-1.1-5.2z" color="#2b92ee"/>
<path d="M104.8 757.1l1.1 6.4-.9 .2-1-6.3z" color="#1fa5e1"/>
<path d="M103.7 749.4l1.1 7.7-.8 .3-1.1-7.5z" color="#10bac3"/>
<path d="M102.6 740.2l1.1 9.2-.8 .5-1.1-9z" color="#42c98e"/>
<path d="M101.5 729.3l1.1 10.9-.8 .7-1.1-10.7z" color="#a7c73e"/>
<path d="M100.4 716.3l1.1 13-.8 .9-1.1-12.7z" color="#f9c435"/>
<path d="M198.2 727.7l1.1-8.6-.8-3.3-1.1 9.1z" color="#1fc1ae"/>
<path d="M197.1 735l1.1-7.3-.8-2.8-1.1 7.7z" color="#0eb1d5"/>
<path d="M196 741.2l1.1-6.2-.8-2.4-1.1 6.5z" color="#259ce8"/>
<path d="M194.9 746.4l1.1-5.2-.8-2.1-1.1 5.4z" color="#3182f8"/>
<path d="M193.9 750.7l1-4.3-.8-1.9-1.1 4.6z" color="#3a71fd"/>
<path d="M192.8 754.3l1.1-3.6-.9-1.6-1.1 3.8z" color="#455ffb"/>
<path d="M191.7 757.3l1.1-3-.9-1.4-1.1 3.2z" color="#4754f4"/>
<path d="M190.6 759.8l1.1-2.5-.9-1.2-1.1 2.6z" color="#4749ec"/>
<path d="M189.5 761.9l1.1-2.1-.9-1.1-1.1 2.2z" color="#463fdf"/>
<path d="M185.1 767.3l2.2-2.2-.8-.8-2.2 2.3z" color="#4230c4"/>
<path d="M183 768.9l2.1-1.6-.8-.7-2.2 1.7z" color="#402cb9"/>
<path d="M119.8 788l2.2 0 2.2-.3 8.7-2.3 40.3-12.4 5.4-2 4.4-2.1-.9-.6-3.2 1.8-5.5 2.1-38.1 11.8-10.9 3.1-3.3 .5-2.1 0z" color="#3f28ae"/>
<path d="M116.5 786.9l1.1 .5-.8-.3-1.1-.5z" color="#4230c4"/>
<path d="M114.4 785.1l2.1 1.8-.8-.3-2.2-1.8z" color="#4434cf"/>
<path d="M113.3 783.7l1.1 1.4-.9-.3-1.1-1.3z" color="#463fdf"/>
<path d="M112.2 781.9l1.1 1.8-.9-.2-1.1-1.8z" color="#4744e5"/>
<path d="M111.1 779.6l1.1 2.3-.9-.2-1-2.2z" color="#474ff1"/>
<path d="M110 776.7l1.1 2.9-.8-.1-1.1-2.9z" color="#465af7"/>
<path d="M108.9 773.2l1.1 3.5-.8-.1-1.1-3.5z" color="#3f6bfc"/>
<path d="M107.8 768.7l1.1 4.5-.8-.1-1.1-4.3z" color="#327dfb"/>
<path d="M106.7 763.4l1.1 5.3-.8 .1-1.1-5.3z" color="#2b92ee"/>
<path d="M105.7 756.8l1 6.6-.8 .1-1.1-6.4z" color="#19a9dd"/>
<path d="M104.6 749l1.1 7.8-.9 .3-1.1-7.7z" color="#12bdbc"/>
<path d="M103.5 739.7l1.1 9.3-.9 .4-1.1-9.2z" color="#4dca84"/>
<path d="M102.4 728.5l1.1 11.2-.9 .5-1.1-10.9z" color="#b5c436"/>
<path d="M101.3 715.4l1.1 13.1-.9 .8-1-13z" color="#fcc834"/>
<path d="M199.1 730.6l1-8.3-.8-3.2-1.1 8.6z" color="#12bdbc"/>
<path d="M198 737.5l1.1-6.9-.9-2.9-1.1 7.3z" color="#19a9dd"/>
<path d="M196.9 743.3l1.1-5.8-.9-2.5-1.1 6.2z" color="#2b92ee"/>
<path d="M195.8 748.2l1.1-4.9-.9-2.1-1.1 5.2z" color="#327dfb"/>
<path d="M194.7 752.3l1.1-4.1-.9-1.8-1 4.3z" color="#3f6bfc"/>
<path d="M193.6 755.7l1.1-3.4-.8-1.6-1.1 3.6z" color="#465af7"/>
<path d="M192.5 758.5l1.1-2.8-.8-1.4-1.1 3z" color="#474ff1"/>
<path d="M191.4 760.9l1.1-2.4-.8-1.2-1.1 2.5z" color="#4744e5"/>
<path d="M183.8 769.4l3.3-2.5-.9-.6-3.2 2.6z" color="#402cb9"/>
<path d="M120.7 788.4l2.1 0 2.2-.3 3.3-.7 5.4-1.6 40.3-12.4 5.5-1.9 4.3-2.1-.8-.5-4.4 2.1-5.4 2-40.3 12.4-8.7 2.3-2.2 .3-2.2 0z" color="#3f28ae"/>
<path d="M117.4 787.3l1.1 .5-.9-.4-1.1-.5z" color="#4230c4"/>
<path d="M116.3 786.5l1.1 .8-.9-.4-1-.7z" color="#4434cf"/>
<path d="M115.2 785.5l1.1 1-.8-.3-1.1-1.1z" color="#4539d8"/>
<path d="M114.1 784l1.1 1.5-.8-.4-1.1-1.4z" color="#463fdf"/>
<path d="M113 782.2l1.1 1.8-.8-.3-1.1-1.8z" color="#4744e5"/>
<path d="M111.9 779.9l1.1 2.3-.8-.3-1.1-2.3z" color="#474ff1"/>
<path d="M110.9 776.9l1 3-.8-.3-1.1-2.9z" color="#465af7"/>
<path d="M109.8 773.3l1.1 3.6-.9-.2-1.1-3.5z" color="#3f6bfc"/>
<path d="M108.7 768.8l1.1 4.5-.9-.1-1.1-4.5z" color="#3182f8"/>
<path d="M107.6 763.3l1.1 5.5-.9-.1-1.1-5.3z" color="#2897eb"/>
<path d="M106.5 756.7l1.1 6.6-.9 .1-1-6.6z" color="#19a9dd"/>
<path d="M105.4 748.8l1.1 7.9-.8 .1-1.1-7.8z" color="#12bdbc"/>
<path d="M104.3 739.3l1.1 9.5-.8 .2-1.1-9.3z" color="#4dca84"/>
<path d="M103.2 728l1.1 11.3-.8 .4-1.1-11.2z" color="#b5c436"/>
<path d="M102.1 714.7l1.1 13.3-.8 .5-1.1-13.1z" color="#fdcd32"/>
<path d="M199.9 733.4l1.1-7.8-.9-3.3-1 8.3z" color="#0eb7c9"/>
<path d="M198.8 739.9l1.1-6.5-.8-2.8-1.1 6.9z" color="#22a1e5"/>
<path d="M197.7 745.4l1.1-5.5-.8-2.4-1.1 5.8z" color="#2d8df1"/>
<path d="M196.6 750l1.1-4.6-.8-2.1-1.1 4.9z" color="#3677fd"/>
<path d="M195.5 753.9l1.1-3.9-.8-1.8-1.1 4.1z" color="#4365fc"/>
<path d="M194.5 757.1l1-3.2-.8-1.6-1.1 3.4z" color="#4754f4"/>
<path d="M193.4 759.7l1.1-2.6-.9-1.4-1.1 2.8z" color="#4749ec"/>
<path d="M121.5 788.8l2.2 0 3.2-.5 9.8-2.7 39.2-12.2 5.5-1.9 4.3-2.2-.8-.6-3.3 1.8-4.3 1.8-21.8 6.9-27.2 8.2-4.4 .9-3.2 .1z" color="#3f28ae"/>
<path d="M117.1 786.9l1.1 .8-.8-.4-1.1-.8z" color="#4434cf"/>
<path d="M116.1 785.8l1 1.1-.8-.4-1.1-1z" color="#4539d8"/>
<path d="M115 784.4l1.1 1.4-.9-.3-1.1-1.5z" color="#463fdf"/>
<path d="M113.9 782.5l1.1 1.9-.9-.4-1.1-1.8z" color="#4744e5"/>
<path d="M112.8 780.2l1.1 2.3-.9-.3-1.1-2.3z" color="#474ff1"/>
<path d="M111.7 777.2l1.1 3-.9-.3-1-3z" color="#455ffb"/>
<path d="M110.6 773.5l1.1 3.7-.8-.3-1.1-3.6z" color="#3f6bfc"/>
<path d="M109.5 769l1.1 4.5-.8-.2-1.1-4.5z" color="#3182f8"/>
<path d="M108.4 763.4l1.1 5.6-.8-.2-1.1-5.5z" color="#2897eb"/>
<path d="M107.3 756.7l1.1 6.7-.8-.1-1.1-6.6z" color="#14add9"/>
<path d="M106.3 748.7l1 8-.8 0-1.1-7.9z" color="#17bfb5"/>
<path d="M105.2 739.1l1.1 9.6-.9 .1-1.1-9.5z" color="#57cc7b"/>
<path d="M104.1 727.7l1.1 11.4-.9 .2-1.1-11.3z" color="#c2c22e"/>
<path d="M103 714.2l1.1 13.5-.9 .3-1.1-13.3z" color="#fbd32f"/>
<path d="M200.7 736.1l1.1-7.3-.8-3.2-1.1 7.8z" color="#0eb1d5"/>
<path d="M199.7 742.3l1-6.2-.8-2.7-1.1 6.5z" color="#259ce8"/>
<path d="M198.6 747.5l1.1-5.2-.9-2.4-1.1 5.5z" color="#3182f8"/>
<path d="M197.5 751.8l1.1-4.3-.9-2.1-1.1 4.6z" color="#3a71fd"/>
<path d="M196.4 755.4l1.1-3.6-.9-1.8-1.1 3.9z" color="#455ffb"/>
<path d="M195.3 758.4l1.1-3-.9-1.5-1 3.2z" color="#4754f4"/>
<path d="M122.3 789.2l2.2 0 2.2-.2 3.3-.8 5.4-1.5 41.4-12.9 5.4-1.9 4.4-2.1-.9-.5-4.3 2.2-5.5 1.9-39.2 12.2-9.8 2.7-3.2 .5-2.2 0z" color="#3f28ae"/>
<path d="M119.1 788.1l1.1 .6-.9-.5-1.1-.5z" color="#4230c4"/>
<path d="M118 787.3l1.1 .8-.9-.4-1.1-.8z" color="#4434cf"/>
<path d="M116.9 786.2l1.1 1.1-.9-.4-1-1.1z" color="#4539d8"/>
<path d="M115.8 784.8l1.1 1.4-.8-.4-1.1-1.4z" color="#463fdf"/>
<path d="M114.7 782.9l1.1 1.9-.8-.4-1.1-1.9z" color="#4744e5"/>
<path d="M113.6 780.5l1.1 2.4-.8-.4-1.1-2.3z" color="#474ff1"/>
<path d="M112.5 777.5l1.1 3-.8-.3-1.1-3z" color="#455ffb"/>
<path d="M111.5 773.8l1 3.7-.8-.3-1.1-3.7z" color="#3f6bfc"/>
<path d="M110.4 769.2l1.1 4.6-.9-.3-1.1-4.5z" color="#3182f8"/>
<path d="M109.3 763.7l1.1 5.5-.9-.2-1.1-5.6z" color="#2897eb"/>
<path d="M108.2 756.9l1.1 6.8-.9-.3-1.1-6.7z" color="#14add9"/>
<path d="M107.1 748.8l1.1 8.1-.9-.2-1-8z" color="#17bfb5"/>
<path d="M106 739.1l1.1 9.7-.8-.1-1.1-9.6z" color="#57cc7b"/>
<path d="M104.9 727.5l1.1 11.6-.8 0-1.1-11.4z" color="#c2c22e"/>
<path d="M103.8 713.9l1.1 13.6-.8 .2-1.1-13.5z" color="#fbd32f"/>
<path d="M201.6 738.9l1.1-6.9-.9-3.2-1.1 7.3z" color="#19a9dd"/>
<path d="M200.5 744.7l1.1-5.8-.9-2.8-1 6.2z" color="#2b92ee"/>
<path d="M199.4 749.6l1.1-4.9-.8-2.4-1.1 5.2z" color="#327dfb"/>
<path d="M198.3 753.6l1.1-4-.8-2.1-1.1 4.3z" color="#3f6bfc"/>
<path d="M197.2 757l1.1-3.4-.8-1.8-1.1 3.6z" color="#465af7"/>
<path d="M196.1 759.7l1.1-2.7-.8-1.6-1.1 3z" color="#474ff1"/>
<path d="M123.2 789.7l2.2 0 2.1-.3 7.7-2 41.3-12.8 6.6-2.3 4.3-2-.8-.5-4.4 2.1-5.4 1.9-41.4 12.9-5.4 1.5-3.3 .8-2.2 .2-2.2 0z" color="#3f28ae"/>
<path d="M118.8 787.8l1.1 .8-.8-.5-1.1-.8z" color="#4434cf"/>
<path d="M117.7 786.7l1.1 1.1-.8-.5-1.1-1.1z" color="#4539d8"/>
<path d="M116.7 785.2l1 1.5-.8-.5-1.1-1.4z" color="#463fdf"/>
<path d="M115.6 783.4l1.1 1.8-.9-.4-1.1-1.9z" color="#4744e5"/>
<path d="M114.5 781l1.1 2.4-.9-.5-1.1-2.4z" color="#474ff1"/>
<path d="M113.4 778l1.1 3-.9-.5-1.1-3z" color="#455ffb"/>
<path d="M112.3 774.2l1.1 3.8-.9-.5-1-3.7z" color="#3f6bfc"/>
<path d="M111.2 769.6l1.1 4.6-.8-.4-1.1-4.6z" color="#3182f8"/>
<path d="M110.1 764l1.1 5.6-.8-.4-1.1-5.5z" color="#2897eb"/>
<path d="M109 757.2l1.1 6.8-.8-.3-1.1-6.8z" color="#14add9"/>
<path d="M107.9 749l1.1 8.2-.8-.3-1.1-8.1z" color="#17bfb5"/>
<path d="M106.9 739.2l1 9.8-.8-.2-1.1-9.7z" color="#57cc7b"/>
<path d="M105.8 727.6l1.1 11.6-.9-.1-1.1-11.6z" color="#cec029"/>
<path d="M104.7 713.9l1.1 13.7-.9-.1-1.1-13.6z" color="#f9da2c"/>
<path d="M202.4 741.6l1.1-6.5-.8-3.1-1.1 6.9z" color="#22a1e5"/>
<path d="M201.3 747l1.1-5.4-.8-2.7-1.1 5.8z" color="#2f88f5"/>
<path d="M200.3 751.6l1-4.6-.8-2.3-1.1 4.9z" color="#3677fd"/>
<path d="M199.2 755.3l1.1-3.7-.9-2-1.1 4z" color="#4365fc"/>
<path d="M198.1 758.4l1.1-3.1-.9-1.7-1.1 3.4z" color="#4754f4"/>
<path d="M124 790.1l2.2 0 3.3-.5 9.8-2.8 25-7.6 15.3-4.9 5.4-2 4.4-2.1-.9-.5-3.2 1.7-4.4 1.7-22.9 7.3-27.2 8.3-4.3 .9-3.3 .1z" color="#3f28ae"/>
<path d="M119.7 788.2l1.1 .8-.9-.4-1.1-.8z" color="#4434cf"/>
<path d="M118.6 787.2l1.1 1-.9-.4-1.1-1.1z" color="#4539d8"/>
<path d="M117.5 785.7l1.1 1.5-.9-.5-1-1.5z" color="#463fdf"/>
<path d="M116.4 783.8l1.1 1.9-.8-.5-1.1-1.8z" color="#4744e5"/>
<path d="M115.3 781.4l1.1 2.4-.8-.4-1.1-2.4z" color="#474ff1"/>
<path d="M114.2 778.4l1.1 3-.8-.4-1.1-3z" color="#455ffb"/>
<path d="M113.1 774.7l1.1 3.7-.8-.4-1.1-3.8z" color="#3f6bfc"/>
<path d="M112.1 770.1l1 4.6-.8-.5-1.1-4.6z" color="#3182f8"/>
<path d="M111 764.4l1.1 5.7-.9-.5-1.1-5.6z" color="#2897eb"/>
<path d="M109.9 757.6l1.1 6.8-.9-.4-1.1-6.8z" color="#14add9"/>
<path d="M108.8 749.4l1.1 8.2-.9-.4-1.1-8.2z" color="#17bfb5"/>
<path d="M107.7 739.6l1.1 9.8-.9-.4-1-9.8z" color="#57cc7b"/>
<path d="M106.6 727.9l1.1 11.7-.8-.4-1.1-11.6z" color="#cec029"/>
<path d="M105.5 714.1l1.1 13.8-.8-.3-1.1-13.7z" color="#f9da2c"/>
<path d="M203.3 744.2l1.1-6-.9-3.1-1.1 6.5z" color="#2897eb"/>
<path d="M202.2 749.3l1.1-5.1-.9-2.6-1.1 5.4z" color="#3182f8"/>
<path d="M201.1 753.5l1.1-4.2-.9-2.3-1 4.6z" color="#3f6bfc"/>
<path d="M200 757l1.1-3.5-.8-1.9-1.1 3.7z" color="#455ffb"/>
<path d="M198.9 759.9l1.1-2.9-.8-1.7-1.1 3.1z" color="#474ff1"/>
<path d="M124.9 790.6l2.2 0 2.1-.3 8.7-2.4 26.2-8 14.1-4.5 7.7-2.6 4.3-2.1-.8-.5-4.4 2.1-5.4 2-15.3 4.9-25 7.6-9.8 2.8-3.3 .5-2.2 0z" color="#3f28ae"/>
<path d="M120.5 788.8l1.1 .7-.8-.5-1.1-.8z" color="#4434cf"/>
<path d="M119.4 787.7l1.1 1.1-.8-.6-1.1-1z" color="#4539d8"/>
<path d="M118.3 786.2l1.1 1.5-.8-.5-1.1-1.5z" color="#463fdf"/>
<path d="M117.3 784.4l1 1.8-.8-.5-1.1-1.9z" color="#4744e5"/>
<path d="M116.2 782l1.1 2.4-.9-.6-1.1-2.4z" color="#474ff1"/>
<path d="M115.1 779l1.1 3-.9-.6-1.1-3z" color="#455ffb"/>
<path d="M114 775.2l1.1 3.8-.9-.6-1.1-3.7z" color="#3f6bfc"/>
<path d="M112.9 770.6l1.1 4.6-.9-.5-1-4.6z" color="#3182f8"/>
<path d="M111.8 765l1.1 5.6-.8-.5-1.1-5.7z" color="#2897eb"/>
<path d="M110.7 758.1l1.1 6.9-.8-.6-1.1-6.8z" color="#14add9"/>
<path d="M109.6 749.9l1.1 8.2-.8-.5-1.1-8.2z" color="#17bfb5"/>
<path d="M108.5 740.1l1.1 9.8-.8-.5-1.1-9.8z" color="#57cc7b"/>
<path d="M107.5 728.4l1 11.7-.8-.5-1.1-11.7z" color="#cec029"/>
<path d="M106.4 714.5l1.1 13.9-.9-.5-1.1-13.8z" color="#f9da2c"/>
<path d="M204.1 746.8l1.1-5.7-.8-2.9-1.1 6z" color="#2d8df1"/>
<path d="M203 751.5l1.1-4.7-.8-2.6-1.1 5.1z" color="#3677fd"/>
<path d="M201.9 755.4l1.1-3.9-.8-2.2-1.1 4.2z" color="#4365fc"/>
<path d="M200.9 758.6l1-3.2-.8-1.9-1.1 3.5z" color="#4754f4"/>
<path d="M125.7 791.1l2.2-.1 2.2-.3 8.7-2.3 35.9-11.2 10.9-3.6 5.5-2.4-.9-.5-4.3 2.1-7.7 2.6-14.1 4.5-26.2 8-8.7 2.4-2.1 .3-2.2 0z" color="#3f28ae"/>
<path d="M120.3 788.2l2.2 1.8-.9-.5-2.2-1.8z" color="#4434cf"/>
<path d="M119.2 786.8l1.1 1.4-.9-.5-1.1-1.5z" color="#463fdf"/>
<path d="M118.1 785l1.1 1.8-.9-.6-1-1.8z" color="#4744e5"/>
<path d="M117 782.6l1.1 2.4-.8-.6-1.1-2.4z" color="#474ff1"/>
<path d="M115.9 779.6l1.1 3-.8-.6-1.1-3z" color="#465af7"/>
<path d="M114.8 775.9l1.1 3.7-.8-.6-1.1-3.8z" color="#3f6bfc"/>
<path d="M113.7 771.3l1.1 4.6-.8-.7-1.1-4.6z" color="#3182f8"/>
<path d="M112.7 765.6l1 5.7-.8-.7-1.1-5.6z" color="#2897eb"/>
<path d="M111.6 758.8l1.1 6.8-.9-.6-1.1-6.9z" color="#14add9"/>
<path d="M110.5 750.6l1.1 8.2-.9-.7-1.1-8.2z" color="#17bfb5"/>
<path d="M109.4 740.8l1.1 9.8-.9-.7-1.1-9.8z" color="#57cc7b"/>
<path d="M108.3 729l1.1 11.8-.9-.7-1-11.7z" color="#cec029"/>
<path d="M107.2 715.2l1.1 13.8-.8-.6-1.1-13.9z" color="#f9da2c"/>
<path d="M205 749.2l1.1-5.2-.9-2.9-1.1 5.7z" color="#3182f8"/>
<path d="M203.9 753.6l1.1-4.4-.9-2.4-1.1 4.7z" color="#3a71fd"/>
<path d="M202.8 757.2l1.1-3.6-.9-2.1-1.1 3.9z" color="#455ffb"/>
<path d="M201.7 760.1l1.1-2.9-.9-1.8-1 3.2z" color="#474ff1"/>
<path d="M126.6 791.5l3.2-.1 4.4-1 28.3-8.6 22.9-7.5 4.3-1.6 3.3-1.6-.9-.5-3.2 1.7-3.3 1.3-22.9 7.4-29.4 9-4.3 .9-3.3 .2z" color="#3f28ae"/>
<path d="M122.2 789.8l2.2 1.3-.9-.5-2.1-1.3z" color="#4230c4"/>
<path d="M121.1 788.8l1.1 1-.8-.5-1.1-1.1z" color="#4434cf"/>
<path d="M120 787.4l1.1 1.4-.8-.6-1.1-1.4z" color="#463fdf"/>
<path d="M118.9 785.6l1.1 1.8-.8-.6-1.1-1.8z" color="#4744e5"/>
<path d="M117.9 783.2l1 2.4-.8-.6-1.1-2.4z" color="#474ff1"/>
<path d="M116.8 780.3l1.1 2.9-.9-.6-1.1-3z" color="#465af7"/>
<path d="M115.7 776.6l1.1 3.7-.9-.7-1.1-3.7z" color="#3f6bfc"/>
<path d="M114.6 772l1.1 4.6-.9-.7-1.1-4.6z" color="#3182f8"/>
<path d="M113.5 766.4l1.1 5.6-.9-.7-1-5.7z" color="#2897eb"/>
<path d="M112.4 759.6l1.1 6.8-.8-.8-1.1-6.8z" color="#14add9"/>
<path d="M111.3 751.4l1.1 8.2-.8-.8-1.1-8.2z" color="#17bfb5"/>
<path d="M110.2 741.6l1.1 9.8-.8-.8-1.1-9.8z" color="#57cc7b"/>
<path d="M109.1 729.9l1.1 11.7-.8-.8-1.1-11.8z" color="#cec029"/>
<path d="M108.1 716.1l1 13.8-.8-.9-1.1-13.8z" color="#f9da2c"/>
<path d="M205.8 751.6l1.1-4.8-.8-2.8-1.1 5.2z" color="#327dfb"/>
<path d="M204.7 755.6l1.1-4-.8-2.4-1.1 4.4z" color="#4365fc"/>
<path d="M203.6 758.9l1.1-3.3-.8-2-1.1 3.6z" color="#465af7"/>
<path d="M202.6 761.6l1-2.7-.8-1.7-1.1 2.9z" color="#474ff1"/>
<path d="M127.4 792l3.3-.2 4.3-1 28.3-8.6 10.9-3.4 12-4.1 4.4-1.6 3.2-1.5-.8-.5-3.3 1.6-4.3 1.6-22.9 7.5-28.3 8.6-4.4 1-3.2 .1z" color="#3f28ae"/>
<path d="M122 789.4l1.1 1-.9-.6-1.1-1z" color="#4434cf"/>
<path d="M120.9 788.1l1.1 1.3-.9-.6-1.1-1.4z" color="#4539d8"/>
<path d="M119.8 786.3l1.1 1.8-.9-.7-1.1-1.8z" color="#4744e5"/>
<path d="M118.7 784l1.1 2.3-.9-.7-1-2.4z" color="#474ff1"/>
<path d="M117.6 781l1.1 3-.8-.8-1.1-2.9z" color="#465af7"/>
<path d="M116.5 777.4l1.1 3.6-.8-.7-1.1-3.7z" color="#3f6bfc"/>
<path d="M115.4 772.9l1.1 4.5-.8-.8-1.1-4.6z" color="#327dfb"/>
<path d="M114.4 767.3l1 5.6-.8-.9-1.1-5.6z" color="#2b92ee"/>
<path d="M113.3 760.6l1.1 6.7-.9-.9-1.1-6.8z" color="#19a9dd"/>
<path d="M112.2 752.4l1.1 8.2-.9-1-1.1-8.2z" color="#12bdbc"/>
<path d="M111.1 742.7l1.1 9.7-.9-1-1.1-9.8z" color="#57cc7b"/>
<path d="M110 731l1.1 11.7-.9-1.1-1.1-11.7z" color="#c2c22e"/>
<path d="M108.9 717.2l1.1 13.8-.9-1.1-1-13.8z" color="#fbd32f"/>
<path d="M206.7 753.8l1.1-4.4-.9-2.6-1.1 4.8z" color="#3a71fd"/>
<path d="M205.6 757.5l1.1-3.7-.9-2.2-1.1 4z" color="#455ffb"/>
<path d="M204.5 760.5l1.1-3-.9-1.9-1.1 3.3z" color="#4754f4"/>
<path d="M203.4 762.9l1.1-2.4-.9-1.6-1 2.7z" color="#4749ec"/>
<path d="M128.3 792.5l3.2-.2 4.4-1 29.4-9 20.7-6.8 5.4-2 3.3-1.4-.9-.5-3.2 1.5-4.4 1.6-12 4.1-10.8 3.4-28.4 8.6-4.3 1-3.3 .2z" color="#3f28ae"/>
<path d="M122.8 790l1.1 1-.8-.6-1.1-1z" color="#4434cf"/>
<path d="M121.7 788.7l1.1 1.3-.8-.6-1.1-1.3z" color="#4539d8"/>
<path d="M120.6 787l1.1 1.7-.8-.6-1.1-1.8z" color="#4744e5"/>
<path d="M119.6 784.7l1 2.3-.8-.7-1.1-2.3z" color="#474ff1"/>
<path d="M118.5 781.8l1.1 2.9-.9-.7-1.1-3z" color="#465af7"/>
<path d="M117.4 778.2l1.1 3.6-.9-.8-1.1-3.6z" color="#3f6bfc"/>
<path d="M116.3 773.8l1.1 4.4-.9-.8-1.1-4.5z" color="#327dfb"/>
<path d="M115.2 768.3l1.1 5.5-.9-.9-1-5.6z" color="#2b92ee"/>
<path d="M114.1 761.6l1.1 6.7-.8-1-1.1-6.7z" color="#19a9dd"/>
<path d="M113 753.5l1.1 8.1-.8-1-1.1-8.2z" color="#12bdbc"/>
<path d="M111.9 743.9l1.1 9.6-.8-1.1-1.1-9.7z" color="#4dca84"/>
<path d="M110.8 732.3l1.1 11.6-.8-1.2-1.1-11.7z" color="#c2c22e"/>
<path d="M109.8 718.6l1 13.7-.8-1.3-1.1-13.8z" color="#fbd32f"/>
<path d="M207.5 755.9l1.1-4-.8-2.5-1.1 4.4z" color="#3f6bfc"/>
<path d="M206.4 759.3l1.1-3.4-.8-2.1-1.1 3.7z" color="#465af7"/>
<path d="M205.3 762l1.1-2.7-.8-1.8-1.1 3z" color="#474ff1"/>
<path d="M204.2 764.2l1.1-2.2-.8-1.5-1.1 2.4z" color="#4744e5"/>
<path d="M128 793l2.2 0 2.2-.2 7.6-2.1 33.8-10.4 16.3-5.6 5.4-2.2-.8-.4-5.5 2.2-15.2 5.3-34.8 10.7-7.7 2-2.1 .2-2.2-.1z" color="#3f28ae"/>
<path d="M123.7 790.7l1.1 .9-.9-.6-1.1-1z" color="#4434cf"/>
<path d="M122.6 789.4l1.1 1.3-.9-.7-1.1-1.3z" color="#4539d8"/>
<path d="M121.5 787.7l1.1 1.7-.9-.7-1.1-1.7z" color="#463fdf"/>
<path d="M120.4 785.5l1.1 2.2-.9-.7-1-2.3z" color="#4749ec"/>
<path d="M119.3 782.7l1.1 2.8-.8-.8-1.1-2.9z" color="#4754f4"/>
<path d="M118.2 779.2l1.1 3.5-.8-.9-1.1-3.6z" color="#4365fc"/>
<path d="M117.1 774.8l1.1 4.4-.8-1-1.1-4.4z" color="#327dfb"/>
<path d="M116 769.4l1.1 5.4-.8-1-1.1-5.5z" color="#2b92ee"/>
<path d="M115 762.8l1 6.6-.8-1.1-1.1-6.7z" color="#19a9dd"/>
<path d="M113.9 754.8l1.1 8-.9-1.2-1.1-8.1z" color="#10bac3"/>
<path d="M112.8 745.2l1.1 9.6-.9-1.3-1.1-9.6z" color="#42c98e"/>
<path d="M111.7 733.8l1.1 11.4-.9-1.3-1.1-11.6z" color="#b5c436"/>
<path d="M110.6 720.2l1.1 13.6-.9-1.5-1-13.7z" color="#fdcd32"/>
<path d="M208.4 757.9l1-3.6-.8-2.4-1.1 4z" color="#455ffb"/>
<path d="M207.3 760.9l1.1-3-.9-2-1.1 3.4z" color="#4754f4"/>
<path d="M206.2 763.4l1.1-2.5-.9-1.6-1.1 2.7z" color="#4749ec"/>
<path d="M128.9 793.5l2.1 0 2.2-.3 7.6-2.1 33.8-10.3 16.3-5.8 5.5-2.1-.9-.4-5.4 2.2-16.3 5.6-33.8 10.4-7.6 2.1-2.2 .2-2.2 0z" color="#3f28ae"/>
<path d="M123.4 790.2l1.1 1.2-.8-.7-1.1-1.3z" color="#4539d8"/>
<path d="M122.3 788.5l1.1 1.7-.8-.8-1.1-1.7z" color="#463fdf"/>
<path d="M121.2 786.4l1.1 2.1-.8-.8-1.1-2.2z" color="#4749ec"/>
<path d="M120.2 783.6l1 2.8-.8-.9-1.1-2.8z" color="#4754f4"/>
<path d="M119.1 780.2l1.1 3.4-.9-.9-1.1-3.5z" color="#4365fc"/>
<path d="M118 775.9l1.1 4.3-.9-1-1.1-4.4z" color="#3677fd"/>
<path d="M116.9 770.6l1.1 5.3-.9-1.1-1.1-5.4z" color="#2d8df1"/>
<path d="M115.8 764.1l1.1 6.5-.9-1.2-1-6.6z" color="#1fa5e1"/>
<path d="M114.7 756.2l1.1 7.9-.8-1.3-1.1-8z" color="#10bac3"/>
<path d="M113.6 746.7l1.1 9.5-.8-1.4-1.1-9.6z" color="#42c98e"/>
<path d="M112.5 735.4l1.1 11.3-.8-1.5-1.1-11.4z" color="#a7c73e"/>
<path d="M111.4 721.9l1.1 13.5-.8-1.6-1.1-13.6z" color="#fcc834"/>
<path d="M209.2 759.8l1.1-3.3-.9-2.2-1 3.6z" color="#465af7"/>
<path d="M208.1 762.5l1.1-2.7-.8-1.9-1.1 3z" color="#474ff1"/>
<path d="M207 764.7l1.1-2.2-.8-1.6-1.1 2.5z" color="#4744e5"/>
<path d="M205.9 766.5l1.1-1.8-.8-1.3-1.1 2z" color="#463fdf"/>
<path d="M129.7 794l3.3-.1 4.3-1 31.6-9.6 12-4 16.3-6-.8-.4-5.5 2.1-16.3 5.8-33.8 10.3-7.6 2.1-2.2 .3-2.1 0z" color="#3f28ae"/>
<path d="M124.3 790.9l1.1 1.2-.9-.7-1.1-1.2z" color="#4539d8"/>
<path d="M123.2 789.3l1.1 1.6-.9-.7-1.1-1.7z" color="#463fdf"/>
<path d="M122.1 787.3l1.1 2-.9-.8-1.1-2.1z" color="#4749ec"/>
<path d="M121 784.6l1.1 2.7-.9-.9-1-2.8z" color="#4754f4"/>
<path d="M119.9 781.2l1.1 3.4-.8-1-1.1-3.4z" color="#455ffb"/>
<path d="M118.8 777l1.1 4.2-.8-1-1.1-4.3z" color="#3677fd"/>
<path d="M117.7 771.8l1.1 5.2-.8-1.1-1.1-5.3z" color="#2f88f5"/>
<path d="M116.6 765.5l1.1 6.3-.8-1.2-1.1-6.5z" color="#22a1e5"/>
<path d="M115.6 757.7l1 7.8-.8-1.4-1.1-7.9z" color="#0eb7c9"/>
<path d="M114.5 748.4l1.1 9.3-.9-1.5-1.1-9.5z" color="#38c897"/>
<path d="M113.4 737.2l1.1 11.2-.9-1.7-1.1-11.3z" color="#9ac946"/>
<path d="M112.3 723.9l1.1 13.3-.9-1.8-1.1-13.5z" color="#f9c435"/>
<path d="M210 761.5l1.1-3-.8-2-1.1 3.3z" color="#4754f4"/>
<path d="M209 763.9l1-2.4-.8-1.7-1.1 2.7z" color="#4749ec"/>
<path d="M207.9 765.9l1.1-2-.9-1.4-1.1 2.2z" color="#463fdf"/>
<path d="M206.8 767.5l1.1-1.6-.9-1.2-1.1 1.8z" color="#4539d8"/>
<path d="M130.6 794.6l3.2-.2 3.3-.8 33.7-10.2 10.9-3.6 15.3-5.7-.9-.4-16.3 6-12 3.9-30.5 9.3-4.3 1-3.3 .1z" color="#3f28ae"/>
<path d="M125.1 791.7l1.1 1.1-.8-.7-1.1-1.2z" color="#4434cf"/>
<path d="M124 790.2l1.1 1.5-.8-.8-1.1-1.6z" color="#463fdf"/>
<path d="M122.9 788.2l1.1 2-.8-.9-1.1-2z" color="#4744e5"/>
<path d="M121.8 785.6l1.1 2.6-.8-.9-1.1-2.7z" color="#474ff1"/>
<path d="M120.8 782.4l1 3.2-.8-1-1.1-3.4z" color="#455ffb"/>
<path d="M119.7 778.3l1.1 4.1-.9-1.2-1.1-4.2z" color="#3a71fd"/>
<path d="M118.6 773.2l1.1 5.1-.9-1.3-1.1-5.2z" color="#2f88f5"/>
<path d="M117.5 767l1.1 6.2-.9-1.4-1.1-6.3z" color="#22a1e5"/>
<path d="M116.4 759.4l1.1 7.6-.9-1.5-1-7.8z" color="#0cb5d0"/>
<path d="M115.3 750.2l1.1 9.2-.8-1.7-1.1-9.3z" color="#2fc69f"/>
<path d="M114.2 739.2l1.1 11-.8-1.8-1.1-11.2z" color="#8dca50"/>
<path d="M113.1 726.1l1.1 13.1-.8-2-1.1-13.3z" color="#f6bf37"/>
<path d="M210.9 763l1.1-2.6-.9-1.9-1.1 3z" color="#474ff1"/>
<path d="M209.8 765.2l1.1-2.2-.9-1.5-1 2.4z" color="#4744e5"/>
<path d="M208.7 766.9l1.1-1.7-.8-1.3-1.1 2z" color="#463fdf"/>
<path d="M207.6 768.4l1.1-1.5-.8-1-1.1 1.6z" color="#4539d8"/>
<path d="M130.3 795l2.2 .1 2.2-.3 6.5-1.7 35.9-11 6.6-2.3 13-5-.8-.3-19.6 7.1-35.9 11.1-6.6 1.7-2.2 .2-2.1-.2z" color="#3f28ae"/>
<path d="M124.9 791l1.1 1.5-.9-.8-1.1-1.5z" color="#4539d8"/>
<path d="M123.8 789.1l1.1 1.9-.9-.8-1.1-2z" color="#4744e5"/>
<path d="M122.7 786.7l1.1 2.4-.9-.9-1.1-2.6z" color="#474ff1"/>
<path d="M121.6 783.5l1.1 3.2-.9-1.1-1-3.2z" color="#465af7"/>
<path d="M120.5 779.6l1.1 3.9-.8-1.1-1.1-4.1z" color="#3f6bfc"/>
<path d="M119.4 774.6l1.1 5-.8-1.3-1.1-5.1z" color="#3182f8"/>
<path d="M118.3 768.5l1.1 6.1-.8-1.4-1.1-6.2z" color="#259ce8"/>
<path d="M117.2 761.1l1.1 7.4-.8-1.5-1.1-7.6z" color="#0eb1d5"/>
<path d="M116.2 752.2l1 8.9-.8-1.7-1.1-9.2z" color="#27c4a7"/>
<path d="M115.1 741.4l1.1 10.8-.9-2-1.1-11z" color="#7fcb5b"/>
<path d="M114 728.5l1.1 12.9-.9-2.2-1.1-13.1z" color="#ecbb36"/>
<path d="M211.7 764.4l1.1-2.3-.8-1.7-1.1 2.6z" color="#4749ec"/>
<path d="M210.6 766.3l1.1-1.9-.8-1.4-1.1 2.2z" color="#463fdf"/>
<path d="M209.6 767.9l1-1.6-.8-1.1-1.1 1.7z" color="#4539d8"/>
<path d="M207.4 770.2l2.2-2.3-.9-1-2.2 2.6z" color="#4434cf"/>
<path d="M131.2 795.6l3.2-.1 3.3-.7 35.9-10.9 9.8-3.3 13.1-5.1-.9-.3-11.9 4.6-6.6 2.3-35.9 11-6.5 1.7-2.2 .3-2.2-.1z" color="#3f28ae"/>
<path d="M125.7 791.9l1.1 1.4-.8-.8-1.1-1.5z" color="#4539d8"/>
<path d="M124.6 790.1l1.1 1.8-.8-.9-1.1-1.9z" color="#4744e5"/>
<path d="M123.5 787.8l1.1 2.3-.8-1-1.1-2.4z" color="#4749ec"/>
<path d="M122.4 784.7l1.1 3.1-.8-1.1-1.1-3.2z" color="#465af7"/>
<path d="M121.4 780.9l1 3.8-.8-1.2-1.1-3.9z" color="#3f6bfc"/>
<path d="M120.3 776.1l1.1 4.8-.9-1.3-1.1-5z" color="#327dfb"/>
<path d="M119.2 770.2l1.1 5.9-.9-1.5-1.1-6.1z" color="#2897eb"/>
<path d="M118.1 763l1.1 7.2-.9-1.7-1.1-7.4z" color="#14add9"/>
<path d="M117 754.2l1.1 8.8-.9-1.9-1-8.9z" color="#1fc1ae"/>
<path d="M115.9 743.7l1.1 10.5-.8-2-1.1-10.8z" color="#71cc66"/>
<path d="M114.8 731l1.1 12.7-.8-2.3-1.1-12.9z" color="#e2bd32"/>
<path d="M212.6 765.7l1.1-2.1-.9-1.5-1.1 2.3z" color="#4744e5"/>
<path d="M211.5 767.4l1.1-1.7-.9-1.3-1.1 1.9z" color="#463fdf"/>
<path d="M210.4 768.7l1.1-1.3-.9-1.1-1 1.6z" color="#4539d8"/>
<path d="M209.3 769.8l1.1-1.1-.8-.8-1.1 1.2z" color="#4434cf"/>
<path d="M132 796.2l3.3-.2 3.2-.8 37.1-11.2 8.7-2.9 11.9-4.8-.8-.4-13.1 5.1-9.8 3.2-34.8 10.6-3.3 .7-3.2 .1z" color="#3f28ae"/>
<path d="M127.6 794.1l1.1 .9-.8-.7-1.1-1z" color="#4434cf"/>
<path d="M126.6 792.8l1 1.3-.8-.8-1.1-1.4z" color="#4539d8"/>
<path d="M125.5 791.1l1.1 1.7-.9-.9-1.1-1.8z" color="#463fdf"/>
<path d="M124.4 788.9l1.1 2.2-.9-1-1.1-2.3z" color="#4749ec"/>
<path d="M123.3 786l1.1 2.9-.9-1.1-1.1-3.1z" color="#4754f4"/>
<path d="M122.2 782.3l1.1 3.7-.9-1.3-1-3.8z" color="#4365fc"/>
<path d="M121.1 777.7l1.1 4.6-.8-1.4-1.1-4.8z" color="#327dfb"/>
<path d="M120 771.9l1.1 5.8-.8-1.6-1.1-5.9z" color="#2b92ee"/>
<path d="M118.9 764.9l1.1 7-.8-1.7-1.1-7.2z" color="#19a9dd"/>
<path d="M117.8 756.4l1.1 8.5-.8-1.9-1.1-8.8z" color="#17bfb5"/>
<path d="M116.8 746.1l1 10.3-.8-2.2-1.1-10.5z" color="#57cc7b"/>
<path d="M115.7 733.7l1.1 12.4-.9-2.4-1.1-12.7z" color="#cec029"/>
<path d="M213.4 766.8l1.1-1.8-.8-1.4-1.1 2.1z" color="#463fdf"/>
<path d="M212.3 768.3l1.1-1.5-.8-1.1-1.1 1.7z" color="#4539d8"/>
<path d="M210.2 770.4l2.1-2.1-.8-.9-2.2 2.4z" color="#4434cf"/>
<path d="M131.8 796.6l1 .1 2.2-.1 2.2-.4 4.4-1.2 39.2-12 6.5-2.3 8.7-3.6-.8-.4-8.8 3.5-7.6 2.7-38.1 11.7-5.4 1.4-2.2 .2-2.2-.2z" color="#3f28ae"/>
<path d="M127.4 793.7l1.1 1.2-.9-.8-1-1.3z" color="#4434cf"/>
<path d="M126.3 792.1l1.1 1.6-.8-.9-1.1-1.7z" color="#463fdf"/>
<path d="M125.2 790l1.1 2.1-.8-1-1.1-2.2z" color="#4749ec"/>
<path d="M124.1 787.2l1.1 2.8-.8-1.1-1.1-2.9z" color="#4754f4"/>
<path d="M123 783.7l1.1 3.5-.8-1.2-1.1-3.7z" color="#455ffb"/>
<path d="M122 779.2l1 4.5-.8-1.4-1.1-4.6z" color="#3677fd"/>
<path d="M120.9 773.7l1.1 5.5-.9-1.5-1.1-5.8z" color="#2d8df1"/>
<path d="M119.8 766.9l1.1 6.8-.9-1.8-1.1-7z" color="#1fa5e1"/>
<path d="M118.7 758.6l1.1 8.3-.9-2-1.1-8.5z" color="#10bac3"/>
<path d="M117.6 748.6l1.1 10-.9-2.2-1-10.3z" color="#4dca84"/>
<path d="M116.5 736.5l1.1 12.1-.8-2.5-1.1-12.4z" color="#c2c22e"/>
<path d="M214.3 767.7l1.1-1.5-.9-1.2-1.1 1.8z" color="#463fdf"/>
<path d="M213.2 769l1.1-1.3-.9-.9-1.1 1.5z" color="#4539d8"/>
<path d="M211 770.9l2.2-1.9-.9-.7-2.1 2.1z" color="#4434cf"/>
<path d="M132.6 797.2l3.3-.1 3.2-.7 39.2-11.9 8.8-3 8.7-3.6-.9-.4-7.6 3.2-6.5 2.3-39.2 12-4.4 1.2-2.2 .4-2.2 .1-1-.1z" color="#3f28ae"/>
<path d="M127.2 793.1l1 1.5-.8-.9-1.1-1.6z" color="#4539d8"/>
<path d="M126.1 791.1l1.1 2-.9-1-1.1-2.1z" color="#4744e5"/>
<path d="M125 788.5l1.1 2.6-.9-1.1-1.1-2.8z" color="#474ff1"/>
<path d="M123.9 785.1l1.1 3.4-.9-1.3-1.1-3.5z" color="#455ffb"/>
<path d="M122.8 780.9l1.1 4.2-.9-1.4-1-4.5z" color="#3a71fd"/>
<path d="M121.7 775.6l1.1 5.3-.8-1.7-1.1-5.5z" color="#2f88f5"/>
<path d="M120.6 769l1.1 6.6-.8-1.9-1.1-6.8z" color="#22a1e5"/>
<path d="M119.5 761l1.1 8-.8-2.1-1.1-8.3z" color="#0eb7c9"/>
<path d="M118.5 751.2l1 9.8-.8-2.4-1.1-10z" color="#38c897"/>
<path d="M117.4 739.5l1.1 11.7-.9-2.6-1.1-12.1z" color="#a7c73e"/>
<path d="M215.1 768.5l1.1-1.3-.8-1-1.1 1.5z" color="#4539d8"/>
<path d="M212.9 770.6l2.2-2.1-.8-.8-2.2 2.4z" color="#4434cf"/>
<path d="M206.4 774l4.4-2 2.1-1.4-.8-.5-2.2 1.5-4.3 2.1z" color="#4230c4"/>
<path d="M133.5 797.8l3.2-.2 3.3-.8 41.4-12.6 7.6-2.6 7.6-3.3-.8-.4-8.7 3.6-8.8 3-39.2 11.9-3.2 .7-3.3 .1z" color="#3f28ae"/>
<path d="M131.3 797.2l2.2 .6-.9-.6-2.2-.7z" color="#402cb9"/>
<path d="M129.1 795.5l1.1 1-.9-.8-1-1.1z" color="#4434cf"/>
<path d="M128 794.2l1.1 1.3-.8-.9-1.1-1.5z" color="#4539d8"/>
<path d="M126.9 792.3l1.1 1.9-.8-1.1-1.1-2z" color="#4744e5"/>
<path d="M125.8 789.8l1.1 2.5-.8-1.2-1.1-2.6z" color="#4749ec"/>
<path d="M124.7 786.6l1.1 3.2-.8-1.3-1.1-3.4z" color="#465af7"/>
<path d="M123.7 782.5l1 4.1-.8-1.5-1.1-4.2z" color="#3f6bfc"/>
<path d="M122.6 777.5l1.1 5-.9-1.6-1.1-5.3z" color="#3182f8"/>
<path d="M121.5 771.1l1.1 6.4-.9-1.9-1.1-6.6z" color="#259ce8"/>
<path d="M120.4 763.4l1.1 7.7-.9-2.1-1.1-8z" color="#0eb1d5"/>
<path d="M119.3 754l1.1 9.4-.9-2.4-1-9.8z" color="#27c4a7"/>
<path d="M118.2 742.6l1.1 11.4-.8-2.8-1.1-11.7z" color="#8dca50"/>
<path d="M216 769.2l1.1-1.2-.9-.8-1.1 1.3z" color="#4539d8"/>
<path d="M213.8 771l2.2-1.8-.9-.7-2.2 2.1z" color="#4434cf"/>
<path d="M206.2 774.6l4.3-1.9 3.3-1.7-.9-.4-3.2 1.9-4.4 1.9z" color="#4230c4"/>
<path d="M133.2 798.2l1.1 .2 2.2-.1 5.4-1.3 27.2-8.5 16.4-4.9 5.4-2 6.6-2.9-.9-.4-6.5 2.8-6.6 2.4-42.4 13-3.3 .9-2.2 .4-2.1 0-1.1-.2z" color="#3f28ae"/>
<path d="M128.9 795.2l1 1.2-.8-.9-1.1-1.3z" color="#4539d8"/>
<path d="M127.8 793.4l1.1 1.8-.9-1-1.1-1.9z" color="#463fdf"/>
<path d="M126.7 791.1l1.1 2.3-.9-1.1-1.1-2.5z" color="#4749ec"/>
<path d="M125.6 788.1l1.1 3-.9-1.3-1.1-3.2z" color="#4754f4"/>
<path d="M124.5 784.2l1.1 3.9-.9-1.5-1-4.1z" color="#4365fc"/>
<path d="M123.4 779.4l1.1 4.8-.8-1.7-1.1-5z" color="#327dfb"/>
<path d="M122.3 773.3l1.1 6.1-.8-1.9-1.1-6.4z" color="#2b92ee"/>
<path d="M121.2 765.9l1.1 7.4-.8-2.2-1.1-7.7z" color="#14add9"/>
<path d="M120.1 756.8l1.1 9.1-.8-2.5-1.1-9.4z" color="#1fc1ae"/>
<path d="M119.1 745.7l1 11.1-.8-2.8-1.1-11.4z" color="#71cc66"/>
<path d="M216.8 769.8l1.1-1.1-.8-.7-1.1 1.2z" color="#4539d8"/>
<path d="M213.5 771.9l3.3-2.1-.8-.6-1.1 1-2.2 1.4z" color="#4434cf"/>
<path d="M205.9 775.4l7.6-3.5-.8-.3-7.6 3.5z" color="#4230c4"/>
<path d="M134.1 798.9l1 .1 2.2-.2 3.3-.8 30.5-9.5 13-3.8 6.6-2.2 7.6-3.4-.8-.4-6.6 2.9-5.4 2-16.4 4.9-27.2 8.5-5.4 1.3-2.2 .1-1.1-.2z" color="#3f28ae"/>
<path d="M128.6 794.6l1.1 1.6-.8-1-1.1-1.8z" color="#463fdf"/>
<path d="M127.5 792.4l1.1 2.2-.8-1.2-1.1-2.3z" color="#4744e5"/>
<path d="M126.4 789.6l1.1 2.8-.8-1.3-1.1-3z" color="#4754f4"/>
<path d="M125.3 785.9l1.1 3.7-.8-1.5-1.1-3.9z" color="#455ffb"/>
<path d="M124.3 781.3l1 4.6-.8-1.7-1.1-4.8z" color="#3677fd"/>
<path d="M123.2 775.5l1.1 5.8-.9-1.9-1.1-6.1z" color="#2d8df1"/>
<path d="M122.1 768.4l1.1 7.1-.9-2.2-1.1-7.4z" color="#19a9dd"/>
<path d="M121 759.6l1.1 8.8-.9-2.5-1.1-9.1z" color="#12bdbc"/>
<path d="M119.9 749l1.1 10.6-.9-2.8-1-11.1z" color="#57cc7b"/>
<path d="M217.7 770.2l1-.9-.8-.6-1.1 1.1z" color="#4539d8"/>
<path d="M213.3 772.6l2.2-1.1 2.2-1.3-.9-.4-2.2 1.5-2.1 1.1z" color="#4434cf"/>
<path d="M205.7 776.2l7.6-3.6-.8-.2-7.7 3.5z" color="#4230c4"/>
<path d="M134.9 799.5l3.3-.2 3.2-.8 15.3-4.7 15.2-5 15.3-4.3 5.4-2 6.5-3-.8-.4-7.6 3.4-6.6 2.2-13 3.8-30.5 9.5-3.3 .8-2.2 .2-1-.1z" color="#3f28ae"/>
<path d="M132.7 798.9l2.2 .6-.8-.6-2.2-.8z" color="#402cb9"/>
<path d="M129.5 795.7l1 1.5-.8-1-1.1-1.6z" color="#4539d8"/>
<path d="M128.4 793.7l1.1 2-.9-1.1-1.1-2.2z" color="#4744e5"/>
<path d="M127.3 791l1.1 2.7-.9-1.3-1.1-2.8z" color="#474ff1"/>
<path d="M126.2 787.6l1.1 3.4-.9-1.4-1.1-3.7z" color="#465af7"/>
<path d="M125.1 783.3l1.1 4.3-.9-1.7-1-4.6z" color="#3a71fd"/>
<path d="M124 777.8l1.1 5.5-.8-2-1.1-5.8z" color="#2f88f5"/>
<path d="M122.9 770.9l1.1 6.9-.8-2.3-1.1-7.1z" color="#22a1e5"/>
<path d="M121.8 762.5l1.1 8.4-.8-2.5-1.1-8.8z" color="#0eb7c9"/>
<path d="M120.7 752.3l1.1 10.2-.8-2.9-1.1-10.6z" color="#42c98e"/>
<path d="M218.5 770.5l1.1-.8-.9-.4-1 .9z" color="#4539d8"/>
<path d="M213.1 773.2l5.4-2.7-.8-.3-2.2 1.3-3.3 1.6z" color="#4434cf"/>
<path d="M205.4 777.1l7.7-3.9-.9-.1-7.6 3.6z" color="#4230c4"/>
<path d="M134.7 800l1 .1 2.2-.1 3.3-.8 15.2-4.7 16.4-5.4 15.2-4.2 6.5-2.3 5.5-2.6-.9-.5-5.4 2.6-5.4 2-16.4 4.7-15.2 5-14.2 4.3-5.4 1.4-2.2 0-1.1-.2z" color="#3f28ae"/>
<path d="M132.5 799l2.2 1-.9-.7-1.1-.4-1.1-.7z" color="#402cb9"/>
<path d="M129.2 795l1.1 1.8-.8-1.1-1.1-2z" color="#463fdf"/>
<path d="M128.1 792.5l1.1 2.5-.8-1.3-1.1-2.7z" color="#4749ec"/>
<path d="M127 789.3l1.1 3.2-.8-1.5-1.1-3.4z" color="#465af7"/>
<path d="M125.9 785.2l1.1 4.1-.8-1.7-1.1-4.3z" color="#3f6bfc"/>
<path d="M124.9 780l1 5.2-.8-1.9-1.1-5.5z" color="#3182f8"/>
<path d="M123.8 773.5l1.1 6.5-.9-2.2-1.1-6.9z" color="#259ce8"/>
<path d="M122.7 765.5l1.1 8-.9-2.6-1.1-8.4z" color="#0cb5d0"/>
<path d="M121.6 755.6l1.1 9.9-.9-3-1.1-10.2z" color="#2fc69f"/>
<path d="M219.3 770.7l1.1-.7-.8-.3-1.1 .8z" color="#4539d8"/>
<path d="M211.7 774.4l7.6-3.7-.8-.2-2.2 1.2-5.4 2.6z" color="#4434cf"/>
<path d="M135.5 800.6l1.1 .1 2.2-.2 3.2-.9 15.3-4.7 16.3-5.5 16.3-4.4 5.5-1.9 5.4-2.6-.8-.5-5.5 2.6-6.5 2.3-15.2 4.2-16.4 5.4-15.2 4.7-3.3 .8-2.2 .1-1-.1z" color="#3f28ae"/>
<path d="M133.3 799.9l2.2 .7-.8-.6-2.2-1z" color="#402cb9"/>
<path d="M130.1 796.2l1 1.7-.8-1.1-1.1-1.8z" color="#4539d8"/>
<path d="M129 794l1.1 2.2-.9-1.2-1.1-2.5z" color="#4744e5"/>
<path d="M127.9 791l1.1 3-.9-1.5-1.1-3.2z" color="#4754f4"/>
<path d="M126.8 787.1l1.1 3.9-.9-1.7-1.1-4.1z" color="#4365fc"/>
<path d="M125.7 782.2l1.1 4.9-.9-1.9-1-5.2z" color="#3677fd"/>
<path d="M124.6 776.1l1.1 6.1-.8-2.2-1.1-6.5z" color="#2b92ee"/>
<path d="M123.5 768.4l1.1 7.7-.8-2.6-1.1-8z" color="#14add9"/>
<path d="M122.4 759l1.1 9.4-.8-2.9-1.1-9.9z" color="#1fc1ae"/>
<path d="M219.1 771.4l2.2-1.2-.9-.2-2.1 1.3z" color="#4539d8"/>
<path d="M211.5 775.2l7.6-3.8-.8-.1-7.7 3.7z" color="#4434cf"/>
<path d="M135.3 801.1l1 .2 2.2-.1 4.4-1.1 15.2-4.8 17.4-6.1 17.5-4.4 4.3-1.7 4.4-2.1-.9-.5-5.4 2.6-4.4 1.6-17.4 4.7-16.3 5.5-15.3 4.7-4.3 1-2.2 0-1.1-.2z" color="#3f28ae"/>
<path d="M134.2 800.7l1.1 .4-.9-.7-1.1-.5z" color="#402cb9"/>
<path d="M130.9 797.4l1.1 1.5-.9-1-1-1.7z" color="#4539d8"/>
<path d="M129.8 795.4l1.1 2-.8-1.2-1.1-2.2z" color="#4744e5"/>
<path d="M128.7 792.6l1.1 2.8-.8-1.4-1.1-3z" color="#474ff1"/>
<path d="M127.6 789l1.1 3.6-.8-1.6-1.1-3.9z" color="#455ffb"/>
<path d="M126.5 784.4l1.1 4.6-.8-1.9-1.1-4.9z" color="#3a71fd"/>
<path d="M125.5 778.6l1 5.8-.8-2.2-1.1-6.1z" color="#2d8df1"/>
<path d="M124.4 771.4l1.1 7.2-.9-2.5-1.1-7.7z" color="#1fa5e1"/>
<path d="M123.3 762.4l1.1 9-.9-3-1.1-9.4z" color="#12bdbc"/>
<path d="M217.8 772.5l4.3-2.2-.8-.1-4.4 2.2z" color="#4539d8"/>
<path d="M212.3 775.5l5.5-3-.9-.1-5.4 2.8z" color="#4434cf"/>
<path d="M136.1 801.8l2.2 0 3.2-.7 16.4-5 14.1-5.3 4.4-1.4 4.3-1.2 13.1-3 5.5-2 4.3-2.3-.8-.5-5.5 2.7-5.4 2-16.4 4.1-17.4 6.1-16.3 5.1-3.3 .8-2.2 .1-1-.2z" color="#3f28ae"/>
<path d="M133.9 800.9l1.1 .5 1.1 .4-.8-.7-1.1-.4-1.1-.7z" color="#402cb9"/>
<path d="M130.7 796.8l1 1.8-.8-1.2-1.1-2z" color="#463fdf"/>
<path d="M129.6 794.2l1.1 2.6-.9-1.4-1.1-2.8z" color="#4749ec"/>
<path d="M128.5 790.9l1.1 3.3-.9-1.6-1.1-3.6z" color="#465af7"/>
<path d="M127.4 786.6l1.1 4.3-.9-1.9-1.1-4.6z" color="#3f6bfc"/>
<path d="M126.3 781.2l1.1 5.4-.9-2.2-1-5.8z" color="#3182f8"/>
<path d="M125.2 774.3l1.1 6.9-.8-2.6-1.1-7.2z" color="#259ce8"/>
<path d="M124.1 765.8l1.1 8.5-.8-2.9-1.1-9z" color="#0cb5d0"/>
<path d="M216.4 773.8l6.6-3.4-.9-.1-6.5 3.3z" color="#4539d8"/>
<path d="M212.1 776.6l4.3-2.8-.8-.2-4.4 2.6z" color="#4434cf"/>
<path d="M135.9 802.2l1 .2 2.2-.1 4.4-1 15.2-4.8 16.4-6.3-.9-.1-16.3 6-15.3 4.7-4.3 1-2.2 0-1.1-.4z" color="#3f28ae"/>
<path d="M134.8 801.7l1.1 .5-.9-.8-1.1-.5z" color="#402cb9"/>
<path d="M131.5 798.1l1.1 1.7-.9-1.2-1-1.8z" color="#4539d8"/>
<path d="M130.4 795.8l1.1 2.3-.8-1.3-1.1-2.6z" color="#4744e5"/>
<path d="M129.3 792.8l1.1 3-.8-1.6-1.1-3.3z" color="#4754f4"/>
<path d="M128.2 788.8l1.1 4-.8-1.9-1.1-4.3z" color="#4365fc"/>
<path d="M127.1 783.7l1.1 5.1-.8-2.2-1.1-5.4z" color="#327dfb"/>
<path d="M126.1 777.2l1 6.5-.8-2.5-1.1-6.9z" color="#2b92ee"/>
<path d="M125 769.2l1.1 8-.9-2.9-1.1-8.5z" color="#14add9"/>
<path d="M221.6 771.5l2.2-1.2-.8 .1-2.2 1.1z" color="#463fdf"/>
<path d="M217.3 774l4.3-2.5-.8 0-4.4 2.3z" color="#4539d8"/>
<path d="M212.9 777l4.4-3-.9-.2-4.3 2.8z" color="#4434cf"/>
<path d="M184.6 787.8l8.7-1.4 4.4-1 4.3-1.7 4.4-2.3-.9-.6-4.3 2.4-4.4 1.7-4.3 1.2-8.7 1.7z" color="#3f28ae"/>
<path d="M171.6 791.9l6.5-2.5 6.5-1.6-.8 0-6.6 1.7-6.5 2.3z" color="#402cb9"/>
<path d="M136.7 802.9l2.2 .1 2.2-.4 14.1-4.3 6.6-2.3 9.8-4.1-.9-.1-12 4.7-16.3 5.1-3.3 .7-2.2 .1-1-.2z" color="#3f28ae"/>
<path d="M134.5 801.9l1.1 .6 1.1 .4-.8-.7-1.1-.5-1.1-.7z" color="#402cb9"/>
<path d="M132.4 799.4l1 1.5-.8-1.1-1.1-1.7z" color="#4539d8"/>
<path d="M131.3 797.3l1 2.1-.8-1.3-1.1-2.3z" color="#463fdf"/>
<path d="M130.2 794.5l1.1 2.8-.9-1.5-1.1-3z" color="#474ff1"/>
<path d="M129.1 790.9l1.1 3.6-.9-1.7-1.1-4z" color="#465af7"/>
<path d="M128 786.1l1.1 4.8-.9-2.1-1.1-5.1z" color="#3a71fd"/>
<path d="M126.9 780.1l1.1 6-.9-2.4-1-6.5z" color="#2d8df1"/>
<path d="M125.8 772.5l1.1 7.6-.8-2.9-1.1-8z" color="#1fa5e1"/>
<path d="M221.4 772.1l3.3-1.8-.9 0-3.3 1.7z" color="#463fdf"/>
<path d="M217 775l4.4-2.9-.9-.1-4.3 2.7z" color="#4539d8"/>
<path d="M213.8 777.4l3.2-2.4-.8-.3-3.3 2.3z" color="#4434cf"/>
<path d="M169.1 793.4l5.5-2.5 4.3-1.6 4.4-1.1 5.4-.9-.8 0-5.5 1-4.3 1.1-4.4 1.6-5.4 2.3z" color="#402cb9"/>
<path d="M137.6 803.6l2.1-.1 2.2-.4 14.2-4.4 5.4-1.9 7.6-3.4-.8-.1-9.8 3.9-15.3 4.8-4.3 1-2.2-.1z" color="#3f28ae"/>
<path d="M135.4 802.8l1.1 .5 1.1 .3-.9-.7-1.1-.4-1.1-.6z" color="#402cb9"/>
<path d="M132.1 798.8l1.1 1.8-.8-1.2-1.1-2.1z" color="#463fdf"/>
<path d="M131 796.3l1.1 2.5-.8-1.5-1.1-2.8z" color="#4749ec"/>
<path d="M129.9 792.9l1.1 3.4-.8-1.8-1.1-3.6z" color="#4754f4"/>
<path d="M128.8 788.5l1.1 4.4-.8-2-1.1-4.8z" color="#3f6bfc"/>
<path d="M127.8 782.9l1 5.6-.8-2.4-1.1-6z" color="#3182f8"/>
<path d="M126.7 775.8l1.1 7.1-.9-2.8-1.1-7.6z" color="#259ce8"/>
<path d="M221.2 772.9l4.3-2.7-.8 .1-4.4 2.5z" color="#463fdf"/>
<path d="M217.9 775.4l3.3-2.5-.9-.1-3.3 2.2z" color="#4539d8"/>
<path d="M214.6 778l3.3-2.6-.9-.4-3.2 2.4z" color="#4434cf"/>
<path d="M191.8 787l5.4-.5 4.4-1 3.2-1.2 4.4-2.4-.9-.6-4.3 2.5-3.3 1.3-4.3 1.1-5.5 .8z" color="#3f28ae"/>
<path d="M184.1 787.9l3.3-.5 4.4-.4-.9 0-7.6 1.2z" color="#402cb9"/>
<path d="M176.5 790.3l4.4-1.6 3.2-.8-.8 .3-3.3 .8-4.3 1.5z" color="#4230c4"/>
<path d="M167.8 794.5l8.7-4.2-.8 .2-8.7 3.9z" color="#402cb9"/>
<path d="M137.3 804.1l2.2 .1 2.2-.4 13-4 6.6-2.3 6.5-3-.8-.1-8.8 3.6-15.2 4.8-3.3 .7-2.1 .1-1.1-.3z" color="#3f28ae"/>
<path d="M136.2 803.7l1.1 .4-.8-.8-1.1-.5z" color="#402cb9"/>
<path d="M135.1 803l1.1 .7-.8-.9-1.1-.9z" color="#4230c4"/>
<path d="M133 800.2l1 1.6-.8-1.2-1.1-1.8z" color="#4539d8"/>
<path d="M131.9 797.9l1.1 2.3-.9-1.4-1.1-2.5z" color="#4744e5"/>
<path d="M130.8 794.9l1.1 3-.9-1.6-1.1-3.4z" color="#474ff1"/>
<path d="M129.7 790.8l1.1 4.1-.9-2-1.1-4.4z" color="#455ffb"/>
<path d="M128.6 785.6l1.1 5.2-.9-2.3-1-5.6z" color="#3677fd"/>
<path d="M127.5 779l1.1 6.6-.8-2.7-1.1-7.1z" color="#2b92ee"/>
<path d="M224.2 771.5l2.2-1.4-.9 .1-2.2 1.3z" color="#4744e5"/>
<path d="M220.9 774l3.3-2.5-.9 0-3.2 2.2z" color="#463fdf"/>
<path d="M218.7 775.8l2.2-1.8-.8-.3-2.2 1.7z" color="#4539d8"/>
<path d="M216.6 777.6l2.1-1.8-.8-.4-2.2 1.7z" color="#4434cf"/>
<path d="M213.3 780.3l3.3-2.7-.9-.5-3.3 2.5z" color="#4230c4"/>
<path d="M189.3 787l5.5-.2-.9 0-5.4 .5z" color="#402cb9"/>
<path d="M173 792.1l4.4-2.1 4.3-1.7 3.3-.8 4.3-.5-.8 .3-4.4 .6-3.2 .8-4.4 1.6-4.3 2z" color="#4230c4"/>
<path d="M167.6 795.1l5.4-3-.8 .2-5.5 2.7z" color="#402cb9"/>
<path d="M138.2 804.8l2.1-.1 2.2-.4 14.2-4.4 5.4-2.1 5.5-2.7-.9-.1-4.3 2-4.4 1.7-14.2 4.5-4.3 1-2.2-.1z" color="#3f28ae"/>
<path d="M136 803.9l1.1 .6 1.1 .3-.9-.7-1.1-.4-1.1-.7z" color="#402cb9"/>
<path d="M134.9 803l1.1 .9-.9-.9-1.1-1.2z" color="#4230c4"/>
<path d="M132.7 799.5l1.1 2-.8-1.3-1.1-2.3z" color="#463fdf"/>
<path d="M131.6 796.8l1.1 2.7-.8-1.6-1.1-3z" color="#4749ec"/>
<path d="M130.5 793.1l1.1 3.7-.8-1.9-1.1-4.1z" color="#465af7"/>
<path d="M129.4 788.3l1.1 4.8-.8-2.3-1.1-5.2z" color="#3a71fd"/>
<path d="M128.4 782.2l1 6.1-.8-2.7-1.1-6.6z" color="#2f88f5"/>
<path d="M225 771.6l2.2-1.5-.8 0-2.2 1.4z" color="#4744e5"/>
<path d="M221.8 774.3l3.2-2.7-.8-.1-3.3 2.5z" color="#463fdf"/>
<path d="M219.6 776.3l2.2-2-.9-.3-2.2 1.8z" color="#4539d8"/>
<path d="M217.4 778.2l2.2-1.9-.9-.5-2.1 1.8z" color="#4434cf"/>
<path d="M215.2 780.1l2.2-1.9-.8-.6-2.2 1.8z" color="#4230c4"/>
<path d="M193.4 786.5l4.4 .1-.8 .1-4.4 .1z" color="#402cb9"/>
<path d="M188 786.6l5.4-.1-.8 .3-5.4 .4z" color="#4230c4"/>
<path d="M177.1 790l5.5-2.2 2.1-.6 3.3-.6-.8 .6-5.5 1.1-5.4 2.2z" color="#4434cf"/>
<path d="M171.7 793.1l5.4-3.1-.8 .5-5.5 2.8z" color="#4230c4"/>
<path d="M166.2 796.3l5.5-3.2-.9 .2-5.4 2.9z" color="#402cb9"/>
<path d="M137.9 805.2l2.2 .2 2.2-.4 13-4 5.5-2 5.4-2.7-.8-.1-4.4 2-3.2 1.3-14.2 4.4-2.2 .6-2.2 .3-2.1-.3z" color="#3f28ae"/>
<path d="M136.8 804.8l1.1 .4-.8-.7-1.1-.6z" color="#402cb9"/>
<path d="M135.7 804l1.1 .8-.8-.9-1.1-.9z" color="#4230c4"/>
<path d="M132.5 798.6l1.1 2.5-.9-1.6-1.1-2.7z" color="#4744e5"/>
<path d="M131.4 795.3l1.1 3.3-.9-1.8-1.1-3.7z" color="#4754f4"/>
<path d="M130.3 790.9l1.1 4.4-.9-2.2-1.1-4.8z" color="#4365fc"/>
<path d="M129.2 785.2l1.1 5.7-.9-2.6-1-6.1z" color="#327dfb"/>
<path d="M224.8 772.8l3.2-2.7-.8 0-3.3 2.4z" color="#4744e5"/>
<path d="M222.6 774.8l2.2-2-.9-.3-2.1 1.8z" color="#463fdf"/>
<path d="M220.4 776.8l2.2-2-.8-.5-2.2 2z" color="#4539d8"/>
<path d="M218.2 778.9l2.2-2.1-.8-.5-2.2 1.9z" color="#4434cf"/>
<path d="M216.1 780.8l2.1-1.9-.8-.7-2.2 1.9z" color="#4230c4"/>
<path d="M199.7 786.4l3.3 .1 3.3-.4 3.2-1.1 3.3-1.8-.8-.7-3.3 1.9-3.3 1.3-3.2 .7-3.3 .2z" color="#3f28ae"/>
<path d="M196.5 786.2l3.2 .2-.8 .2-3.3-.1z" color="#402cb9"/>
<path d="M193.2 785.9l3.3 .3-.9 .3-3.2 0z" color="#4230c4"/>
<path d="M187.8 786l2.1-.2 3.3 .1-.8 .6-5.5 .3z" color="#4434cf"/>
<path d="M179 788.8l4.4-1.8 4.4-1-.9 .8-4.3 1-4.4 1.7z" color="#4539d8"/>
<path d="M174.7 791.3l4.3-2.5-.8 .7-4.4 2.3z" color="#4434cf"/>
<path d="M170.3 794.2l4.4-2.9-.9 .5-4.3 2.6z" color="#4230c4"/>
<path d="M166 796.9l4.3-2.7-.8 .2-4.4 2.5z" color="#402cb9"/>
<path d="M138.8 805.9l2.1 0 2.2-.5 13.1-4 5.4-2.2 4.4-2.3-.9 0-3.2 1.6-4.4 1.8-14.1 4.4-3.3 .7-2.2-.2z" color="#3f28ae"/>
<path d="M136.6 805l1.1 .6 1.1 .3-.9-.7-1.1-.4-1.1-.8z" color="#402cb9"/>
<path d="M135.5 804l1.1 1-.9-1-1.1-1.2z" color="#4230c4"/>
<path d="M134.4 802.5l1.1 1.5-.9-1.2-1-1.7z" color="#4434cf"/>
<path d="M133.3 800.3l1.1 2.2-.8-1.4-1.1-2.5z" color="#463fdf"/>
<path d="M132.2 797.3l1.1 3-.8-1.7-1.1-3.3z" color="#474ff1"/>
<path d="M131.1 793.3l1.1 4-.8-2-1.1-4.4z" color="#455ffb"/>
<path d="M130 788.1l1.1 5.2-.8-2.4-1.1-5.7z" color="#3677fd"/>
<path d="M227.8 771.1l1.1-1-.9 0-1 .8z" color="#4749ec"/>
<path d="M225.6 773.1l2.2-2-.8-.2-2.2 1.9z" color="#4744e5"/>
<path d="M223.4 775.3l2.2-2.2-.8-.3-2.2 2z" color="#463fdf"/>
<path d="M221.3 777.5l2.1-2.2-.8-.5-2.2 2z" color="#4539d8"/>
<path d="M220.2 778.6l1.1-1.1-.9-.7-1.1 1.1z" color="#4434cf"/>
<path d="M218 780.6l2.2-2-.9-.7-2.1 2z" color="#4230c4"/>
<path d="M214.7 783.2l3.3-2.6-.8-.7-3.3 2.6z" color="#402cb9"/>
<path d="M202.8 786.4l3.2 0 3.3-.5 2.2-.8 3.2-1.9-.8-.7-3.3 2-2.2 .9-3.2 .9-3.3 .2z" color="#3f28ae"/>
<path d="M199.5 785.9l3.3 .5-.9 .1-3.3-.1z" color="#402cb9"/>
<path d="M196.2 785.4l3.3 .5-.9 .5-3.2-.3z" color="#4230c4"/>
<path d="M193 785l3.2 .4-.8 .7-3.3-.3z" color="#4434cf"/>
<path d="M188.6 785l4.4 0-.9 .8-4.3 .2z" color="#4539d8"/>
<path d="M181 787.4l4.3-1.8 3.3-.6-.8 1-3.3 .6-4.4 1.7z" color="#463fdf"/>
<path d="M175.5 790.7l5.5-3.3-.9 .9-5.4 3z" color="#4539d8"/>
<path d="M172.3 793l3.2-2.3-.8 .6-3.3 2.2z" color="#4434cf"/>
<path d="M169 795.4l3.3-2.4-.9 .5-3.2 2.1z" color="#4230c4"/>
<path d="M164.6 798.2l4.4-2.8-.8 .2-4.4 2.6z" color="#402cb9"/>
<path d="M138.5 806.4l2.2 .2 2.2-.4 11.9-3.7 5.5-2 4.3-2.3-.8 0-3.3 1.5-3.2 1.3-14.2 4.4-3.3 .6-2.1-.4z" color="#3f28ae"/>
<path d="M137.4 806l1.1 .4-.8-.8-1.1-.6z" color="#402cb9"/>
<path d="M136.3 805.1l1.1 .9-.8-1-1.1-1z" color="#4230c4"/>
<path d="M134.2 801.9l1 1.9-.8-1.3-1.1-2.2z" color="#4539d8"/>
<path d="M133.1 799.3l1.1 2.6-.9-1.6-1.1-3z" color="#4749ec"/>
<path d="M132 795.7l1.1 3.6-.9-2-1.1-4z" color="#4754f4"/>
<path d="M130.9 791l1.1 4.7-.9-2.4-1.1-5.2z" color="#3f6bfc"/>
<path d="M228.6 771.3l1.1-1-.8-.2-1.1 1z" color="#4749ec"/>
<path d="M226.5 773.6l2.1-2.3-.8-.2-2.2 2z" color="#4744e5"/>
<path d="M224.3 775.9l2.2-2.3-.9-.5-2.2 2.2z" color="#463fdf"/>
<path d="M223.2 777.1l1.1-1.2-.9-.6-1 1.1z" color="#4539d8"/>
<path d="M221 779.3l2.2-2.2-.8-.7-2.2 2.2z" color="#4434cf"/>
<path d="M218.8 781.4l2.2-2.1-.8-.7-2.2 2z" color="#4230c4"/>
<path d="M216.7 783.2l2.1-1.8-.8-.8-2.2 1.8z" color="#402cb9"/>
<path d="M204.7 786.2l3.3 .2 3.2-.5 2.2-.8 3.3-1.9-.9-.8-3.2 2.1-2.2 1-3.3 .8-3.3 .2z" color="#3f28ae"/>
<path d="M202.5 785.8l2.2 .4-.9 .3-2.1-.2z" color="#402cb9"/>
<path d="M199.2 785l3.3 .8-.8 .5-3.3-.5z" color="#4230c4"/>
<path d="M197.1 784.4l2.1 .6-.8 .8-2.2-.4z" color="#4434cf"/>
<path d="M194.9 784l2.2 .4-.9 1-2.2-.3z" color="#4539d8"/>
<path d="M190.5 783.6l4.4 .4-.9 1.1-4.3-.2z" color="#463fdf"/>
<path d="M180.7 786.8l3.3-1.7 2.2-.8 2.2-.5 2.1-.2-.8 1.3-2.2 .2-2.2 .5-2.1 .8-3.3 1.5z" color="#4744e5"/>
<path d="M177.5 789l3.2-2.2-.8 1.1-3.3 2.1z" color="#463fdf"/>
<path d="M174.2 791.6l3.3-2.6-.9 1-3.2 2.3z" color="#4539d8"/>
<path d="M170.9 794.2l3.3-2.6-.8 .7-3.3 2.3z" color="#4434cf"/>
<path d="M168.8 795.9l2.1-1.7-.8 .4-2.2 1.6z" color="#4230c4"/>
<path d="M164.4 798.9l4.4-3-.9 .3-4.3 2.7z" color="#402cb9"/>
<path d="M139.4 807.2l1 0 2.2-.3 13.1-4 4.3-1.6 4.4-2.4-.8 0-3.3 1.6-3.3 1.3-13 4.1-3.3 .7-2.2-.2z" color="#3f28ae"/>
<path d="M137.2 806.2l1.1 .6 1.1 .4-.9-.8-1.1-.4-1.1-.9z" color="#402cb9"/>
<path d="M136.1 805.1l1.1 1.1-.9-1.1-1.1-1.3z" color="#4230c4"/>
<path d="M133.9 801.1l1.1 2.4-.8-1.6-1.1-2.6z" color="#4744e5"/>
<path d="M132.8 797.9l1.1 3.2-.8-1.8-1.1-3.6z" color="#474ff1"/>
<path d="M131.7 793.6l1.1 4.3-.8-2.2-1.1-4.7z" color="#455ffb"/>
<path d="M229.5 771.7l1.1-1.2-.9-.2-1.1 1z" color="#4749ec"/>
<path d="M227.3 774.1l2.2-2.4-.9-.4-2.1 2.3z" color="#4744e5"/>
<path d="M226.2 775.4l1.1-1.3-.8-.5-1.1 1.1z" color="#463fdf"/>
<path d="M224 777.9l2.2-2.5-.8-.7-2.2 2.4z" color="#4539d8"/>
<path d="M221.9 780.2l2.1-2.3-.8-.8-2.2 2.2z" color="#4434cf"/>
<path d="M220.8 781.2l1.1-1-.9-.9-1.1 1.1z" color="#4230c4"/>
<path d="M217.5 783.9l3.3-2.7-.9-.8-3.2 2.8z" color="#402cb9"/>
<path d="M207.7 786.3l3.3 .1 2.2-.4 2.1-.8 2.2-1.3-.8-.7-2.2 1.4-2.2 1-2.2 .6-3.2 .3z" color="#3f28ae"/>
<path d="M204.4 785.5l3.3 .8-.8 .2-3.3-.4z" color="#402cb9"/>
<path d="M202.3 784.8l2.1 .7-.8 .6-2.2-.5z" color="#4230c4"/>
<path d="M200.1 784l2.2 .8-.9 .8-2.2-.6z" color="#4434cf"/>
<path d="M197.9 783.2l2.2 .8-.9 1-2.1-.6z" color="#4539d8"/>
<path d="M195.7 782.5l2.2 .7-.8 1.2-2.2-.4z" color="#463fdf"/>
<path d="M193.6 782.1l2.1 .4-.8 1.5-2.2-.3z" color="#4744e5"/>
<path d="M188.1 782.3l2.2-.3 3.3 .1-.9 1.6-3.3 0-2.1 .3z" color="#4749ec"/>
<path d="M185.9 783l2.2-.7-.8 1.7-2.2 .6z" color="#474ff1"/>
<path d="M180.5 786.1l3.3-2.1 2.1-1-.8 1.6-2.2 1-3.3 1.9z" color="#4749ec"/>
<path d="M177.2 788.7l3.3-2.6-.9 1.4-3.2 2.3z" color="#4744e5"/>
<path d="M175 790.7l2.2-2-.8 1.1-2.2 1.8z" color="#463fdf"/>
<path d="M172.9 792.6l2.1-1.9-.8 .9-2.2 1.7z" color="#4539d8"/>
<path d="M170.7 794.6l2.2-2-.9 .7-2.2 1.8z" color="#4434cf"/>
<path d="M167.4 797.3l3.3-2.7-.9 .5-3.2 2.4z" color="#4230c4"/>
<path d="M164.2 799.6l3.2-2.3-.8 .2-3.3 2.1z" color="#402cb9"/>
<path d="M139.1 807.6l2.2 .2 2.2-.4 11.9-3.7 4.4-1.7 4.4-2.4-.9 0-3.3 1.7-3.2 1.2-13.1 4.1-3.3 .6-2.1-.4z" color="#3f28ae"/>
<path d="M138 807.2l1.1 .4-.8-.8-1.1-.6z" color="#402cb9"/>
<path d="M136.9 806.3l1.1 .9-.8-1-1.1-1.1z" color="#4230c4"/>
<path d="M135.8 804.9l1.1 1.4-.8-1.2-1.1-1.6z" color="#4434cf"/>
<path d="M134.8 802.9l1 2-.8-1.4-1.1-2.4z" color="#463fdf"/>
<path d="M133.7 800l1.1 2.9-.9-1.8-1.1-3.2z" color="#4749ec"/>
<path d="M132.6 796.2l1.1 3.8-.9-2.1-1.1-4.3z" color="#465af7"/>
<path d="M230.3 772.2l1.1-1.3-.8-.4-1.1 1.2z" color="#4749ec"/>
<path d="M228.2 774.8l2.1-2.6-.8-.5-2.2 2.4z" color="#4744e5"/>
<path d="M227.1 776.1l1.1-1.3-.9-.7-1.1 1.3z" color="#463fdf"/>
<path d="M224.9 778.7l2.2-2.6-.9-.7-2.2 2.5z" color="#4539d8"/>
<path d="M223.8 779.9l1.1-1.2-.9-.8-1 1.1z" color="#4434cf"/>
<path d="M221.6 782.1l2.2-2.2-.8-.9-2.2 2.2z" color="#4230c4"/>
<path d="M219.4 783.9l2.2-1.8-.8-.9-2.2 1.9z" color="#402cb9"/>
<path d="M209.6 786.2l3.3 .3 2.2-.4 2.2-.9 2.1-1.3-.8-.8-2.2 1.5-2.2 1.1-2.1 .6-3.3 .1z" color="#3f28ae"/>
<path d="M207.5 785.5l2.1 .7-.8 .2-2.2-.3z" color="#402cb9"/>
<path d="M205.3 784.7l2.2 .8-.9 .6-2.2-.6z" color="#4230c4"/>
<path d="M203.1 783.6l2.2 1.1-.9 .8-2.1-.7z" color="#4434cf"/>
<path d="M202 783.1l1.1 .5-.8 1.2-1.1-.4z" color="#4539d8"/>
<path d="M199.8 782.1l2.2 1-.8 1.3-2.2-.8z" color="#463fdf"/>
<path d="M197.7 781.1l2.1 1-.8 1.5-2.2-.8z" color="#4744e5"/>
<path d="M195.5 780.4l2.2 .7-.9 1.7-2.2-.5z" color="#4749ec"/>
<path d="M193.3 780l2.2 .4-.9 1.9-2.1-.3z" color="#474ff1"/>
<path d="M182.4 783.6l3.3-2.1 2.2-.9 2.1-.5 3.3-.1-.8 2-3.3 .1-2.2 .5-2.2 .9-3.2 1.9z" color="#4754f4"/>
<path d="M180.2 785.3l2.2-1.7-.8 1.8-2.2 1.5z" color="#474ff1"/>
<path d="M178.1 787.3l2.1-2-.8 1.6-2.2 1.8z" color="#4749ec"/>
<path d="M175.9 789.5l2.2-2.2-.9 1.4-2.2 2z" color="#4744e5"/>
<path d="M173.7 791.7l2.2-2.2-.9 1.2-2.1 1.9z" color="#463fdf"/>
<path d="M169.4 796l2.1-2.1-.8 .7-2.2 1.8z" color="#4434cf"/>
<path d="M167.2 797.9l2.2-1.9-.9 .4-2.2 1.7z" color="#4230c4"/>
<path d="M163.9 800.4l3.3-2.5-.9 .2-3.2 2.2z" color="#402cb9"/>
<path d="M140 808.4l1 .1 2.2-.4 13.1-4 4.3-1.8 3.3-1.9-.8-.1-2.2 1.2-3.3 1.4-13 4.2-3.3 .7-2.2-.2z" color="#3f28ae"/>
<path d="M137.8 807.4l1.1 .6 1.1 .4-.9-.8-1.1-.4-1.1-.9z" color="#402cb9"/>
<path d="M136.7 806.2l1.1 1.2-.9-1.1-1.1-1.4z" color="#4230c4"/>
<path d="M134.5 802l1.1 2.5-.8-1.6-1.1-2.9z" color="#4744e5"/>
<path d="M133.4 798.6l1.1 3.4-.8-2-1.1-3.8z" color="#474ff1"/>
<path d="M231.2 772.8l1.1-1.4-.9-.5-1.1 1.3z" color="#4749ec"/>
<path d="M230.1 774.2l1.1-1.4-.9-.6-1.1 1.3z" color="#4744e5"/>
<path d="M227.9 777l2.2-2.8-.9-.7-2.1 2.6z" color="#463fdf"/>
<path d="M226.8 778.4l1.1-1.4-.8-.9-1.1 1.3z" color="#4539d8"/>
<path d="M225.7 779.6l1.1-1.2-.8-1-1.1 1.3z" color="#4434cf"/>
<path d="M223.6 782l2.1-2.4-.8-.9-2.2 2.4z" color="#4230c4"/>
<path d="M221.4 783.9l2.2-1.9-.9-.9-2.2 2z" color="#402cb9"/>
<path d="M212.7 786.3l2.2 .2 2.1-.3 2.2-.9 2.2-1.4-.9-.8-2.1 1.5-2.2 1.1-2.2 .6-2.2 .2z" color="#3f28ae"/>
<path d="M209.4 785.2l3.3 1.1-.9 .2-3.2-.6z" color="#402cb9"/>
<path d="M208.3 784.7l1.1 .5-.8 .7-1.1-.4z" color="#4230c4"/>
<path d="M206.1 783.5l2.2 1.2-.8 .8-2.2-.8z" color="#4434cf"/>
<path d="M205 782.8l1.1 .7-.8 1.2-1.1-.5z" color="#4539d8"/>
<path d="M202.9 781.4l2.1 1.4-.8 1.4-2.2-1.1z" color="#463fdf"/>
<path d="M201.8 780.8l1.1 .6-.9 1.7-1.1-.5z" color="#4744e5"/>
<path d="M200.7 780.1l1.1 .7-.9 1.8-1.1-.5z" color="#4749ec"/>
<path d="M198.5 779l2.2 1.1-.9 2-2.1-1z" color="#474ff1"/>
<path d="M196.3 778.1l2.2 .9-.8 2.1-2.2-.7z" color="#4754f4"/>
<path d="M194.2 777.6l2.1 .5-.8 2.3-2.2-.4z" color="#465af7"/>
<path d="M184.4 780.5l3.2-1.9 2.2-.8 2.2-.4 2.2 .2-.9 2.4-2.2-.1-2.1 .4-2.2 .7-3.3 1.8z" color="#455ffb"/>
<path d="M181.1 783.4l3.3-2.9-.9 2.3-3.3 2.5z" color="#465af7"/>
<path d="M180 784.5l1.1-1.1-.9 1.9-1 1z" color="#4754f4"/>
<path d="M177.8 786.8l2.2-2.3-.8 1.8-2.2 2.1z" color="#474ff1"/>
<path d="M175.6 789.2l2.2-2.4-.8 1.6-2.2 2.2z" color="#4749ec"/>
<path d="M174.6 790.5l1.1-1.3-.9 1.4-1.1 1.1z" color="#4744e5"/>
<path d="M172.4 793l2.2-2.5-.9 1.2-2.2 2.2z" color="#463fdf"/>
<path d="M169.1 796.4l2.2-2.2-.9 .7-2.1 2.1z" color="#4434cf"/>
<path d="M166.9 798.5l2.2-2.1-.8 .6-2.2 1.8z" color="#4230c4"/>
<path d="M163.7 801.1l3.2-2.6-.8 .3-3.3 2.3z" color="#402cb9"/>
<path d="M139.7 808.9l1.1 .2 2.2-.3 13.1-4 4.3-1.8 3.3-1.9-.9 0-2.2 1.2-3.2 1.4-13.1 4.1-3.3 .7-1-.1-1.1-.4z" color="#3f28ae"/>
<path d="M138.6 808.4l1.1 .5-.8-.9-1.1-.6z" color="#402cb9"/>
<path d="M137.5 807.5l1.1 .9-.8-1-1.1-1.2z" color="#4230c4"/>
<path d="M135.4 803.9l1 2.1-.8-1.5-1.1-2.5z" color="#463fdf"/>
<path d="M134.3 800.9l1.1 3-.9-1.9-1.1-3.4zM232 773.5l1.1-1.5-.8-.6-1.1 1.4z" color="#4749ec"/>
<path d="M230.9 775l1.1-1.5-.8-.7-1.1 1.4z" color="#4744e5"/>
<path d="M229.9 776.5l1-1.5-.8-.8-1.1 1.4z" color="#463fdf"/>
<path d="M227.7 779.3l2.2-2.8-.9-.9-2.2 2.8z" color="#4539d8"/>
<path d="M226.6 780.6l1.1-1.3-.9-.9-1.1 1.2z" color="#4434cf"/>
<path d="M225.5 781.8l1.1-1.2-.9-1-1 1.3z" color="#4230c4"/>
<path d="M223.3 783.9l2.2-2.1-.8-.9-2.2 2.1z" color="#402cb9"/>
<path d="M214.6 786.2l2.2 .3 2.2-.3 2.1-.8 2.2-1.5-.8-.9-2.2 1.7-2.2 1.1-2.2 .6-2.1 .1z" color="#3f28ae"/>
<path d="M212.4 785.5l2.2 .7-.8 .3-2.2-.4z" color="#402cb9"/>
<path d="M210.3 784.2l2.1 1.3-.8 .6-2.2-.9z" color="#4230c4"/>
<path d="M209.2 783.5l1.1 .7-.9 1-1.1-.5z" color="#4434cf"/>
<path d="M208.1 782.7l1.1 .8-.9 1.2-1.1-.6z" color="#4539d8"/>
<path d="M205.9 781.1l2.2 1.6-.9 1.4-2.2-1.3z" color="#463fdf"/>
<path d="M204.8 780.2l1.1 .9-.9 1.7-1-.7z" color="#4744e5"/>
<path d="M203.7 779.4l1.1 .8-.8 1.9-1.1-.7z" color="#4749ec"/>
<path d="M202.6 778.5l1.1 .9-.8 2-1.1-.6z" color="#474ff1"/>
<path d="M201.5 777.7l1.1 .8-.8 2.3-1.1-.7z" color="#4754f4"/>
<path d="M199.4 776.3l2.1 1.4-.8 2.4-2.2-1.1z" color="#465af7"/>
<path d="M198.3 775.8l1.1 .5-.9 2.7-1.1-.5z" color="#455ffb"/>
<path d="M196.1 774.9l2.2 .9-.9 2.7-2.1-.7z" color="#4365fc"/>
<path d="M192.8 774.4l1.1 .1 2.2 .4-.8 2.9-3.3-.4z" color="#3f6bfc"/>
<path d="M187.4 776.2l3.3-1.4 2.1-.4-.8 3-2.2 .4-3.3 1.3z" color="#3a71fd"/>
<path d="M184.1 778.8l3.3-2.6-.9 2.9-3.2 2.3z" color="#3f6bfc"/>
<path d="M181.9 781l2.2-2.2-.8 2.6-2.2 2z" color="#4365fc"/>
<path d="M180.9 782.2l1-1.2-.8 2.4-1.1 1.1z" color="#455ffb"/>
<path d="M178.7 784.8l2.2-2.6-.9 2.3-2.2 2.3z" color="#465af7"/>
<path d="M177.6 786.2l1.1-1.4-.9 2-1.1 1.2z" color="#4754f4"/>
<path d="M176.5 787.6l1.1-1.4-.9 1.8-1 1.2z" color="#474ff1"/>
<path d="M174.3 790.4l2.2-2.8-.8 1.6-2.2 2.5z" color="#4749ec"/>
<path d="M173.2 791.8l1.1-1.4-.8 1.3-1.1 1.3z" color="#4744e5"/>
<path d="M170 795.7l2.1-2.6-.8 1.1-2.2 2.2z" color="#4539d8"/>
<path d="M167.8 798l2.2-2.3-.9 .7-2.2 2.1z" color="#4434cf"/>
<path d="M166.7 799.1l1.1-1.1-.9 .5-1 .9z" color="#4230c4"/>
<path d="M163.4 801.8l3.3-2.7-.9 .3-3.2 2.4z" color="#402cb9"/>
<path d="M139.5 809.3l1.1 .3 1.1 .1 3.2-.7 13.1-4.2 3.3-1.6 2.1-1.4-.8 0-2.2 1.2-3.3 1.4-13 4.2-2.2 .4-1.1 .1-1.1-.2-1.1-.5z" color="#3f28ae"/>
<path d="M138.4 808.6l1.1 .7-.9-.9-1.1-.9z" color="#402cb9"/>
<path d="M137.3 807.4l1.1 1.2-.9-1.1-1.1-1.5z" color="#4230c4"/>
<path d="M136.2 805.6l1.1 1.8-.8-1.4-1.1-2.1z" color="#4539d8"/>
<path d="M135.1 803l1.1 2.6-.8-1.7-1.1-3z" color="#4744e5"/>
<path d="M232.9 774.4l1.1-1.6-.9-.8-1.1 1.5z" color="#4749ec"/>
<path d="M231.8 776l1.1-1.6-.9-.9-1.1 1.5z" color="#4744e5"/>
<path d="M230.7 777.5l1.1-1.5-.9-1-1 1.5z" color="#463fdf"/>
<path d="M229.6 779l1.1-1.5-.8-1-1.1 1.5z" color="#4539d8"/>
<path d="M228.5 780.4l1.1-1.4-.8-1-1.1 1.3z" color="#4434cf"/>
<path d="M226.3 782.8l2.2-2.4-.8-1.1-2.2 2.5z" color="#4230c4"/>
<path d="M224.2 784.7l2.1-1.9-.8-1-2.2 2.1z" color="#402cb9"/>
<path d="M216.5 786.2l2.2 .4 2.2-.3 1.1-.4 2.2-1.2-.9-.8-2.2 1.5-1 .5-2.2 .6-2.2 0z" color="#3f28ae"/>
<path d="M214.4 785.2l2.1 1-.8 .3-2.2-.6z" color="#402cb9"/>
<path d="M213.3 784.5l1.1 .7-.9 .7-1.1-.4z" color="#4230c4"/>
<path d="M212.2 783.7l1.1 .8-.9 1-1.1-.6z" color="#4434cf"/>
<path d="M210 781.9l2.2 1.8-.9 1.2-2.1-1.4z" color="#4539d8"/>
<path d="M208.9 780.9l1.1 1-.8 1.6-1.1-.8z" color="#463fdf"/>
<path d="M207.8 779.9l1.1 1-.8 1.8-1.1-.8z" color="#4744e5"/>
<path d="M206.7 778.8l1.1 1.1-.8 2-1.1-.8z" color="#4749ec"/>
<path d="M205.7 777.8l1 1-.8 2.3-1.1-.9z" color="#474ff1"/>
<path d="M204.6 776.7l1.1 1.1-.9 2.4-1.1-.8z" color="#4754f4"/>
<path d="M203.5 775.7l1.1 1-.9 2.7-1.1-.9z" color="#465af7"/>
<path d="M202.4 774.8l1.1 .9-.9 2.8-1.1-.8z" color="#455ffb"/>
<path d="M201.3 773.9l1.1 .9-.9 2.9-1-.7z" color="#4365fc"/>
<path d="M200.2 773.1l1.1 .8-.8 3.1-1.1-.7z" color="#3f6bfc"/>
<path d="M198 771.8l2.2 1.3-.8 3.2-2.2-1z" color="#3a71fd"/>
<path d="M196.9 771.4l1.1 .4-.8 3.5-1.1-.4z" color="#3677fd"/>
<path d="M193.7 770.8l1.1 .1 2.1 .5-.8 3.5-2.2-.4-1.1-.1z" color="#327dfb"/>
<path d="M189.3 772.1l2.2-.9 2.2-.4-.9 3.6-2.1 .4-2.2 .8z" color="#3182f8"/>
<path d="M186.1 774.6l3.2-2.5-.8 3.5-3.3 2.2z" color="#327dfb"/>
<path d="M183.9 776.8l2.2-2.2-.9 3.2-2.2 2z" color="#3677fd"/>
<path d="M182.8 778.1l1.1-1.3-.9 3-1.1 1.2z" color="#3a71fd"/>
<path d="M180.6 780.9l2.2-2.8-.9 2.9-2.1 2.5z" color="#3f6bfc"/>
<path d="M179.5 782.4l1.1-1.5-.8 2.6-1.1 1.3z" color="#4365fc"/>
<path d="M178.4 784l1.1-1.6-.8 2.4-1.1 1.4z" color="#455ffb"/>
<path d="M177.3 785.5l1.1-1.5-.8 2.2-1.1 1.4z" color="#465af7"/>
<path d="M176.3 787.1l1-1.6-.8 2.1-1.1 1.4z" color="#4754f4"/>
<path d="M175.2 788.7l1.1-1.6-.9 1.9-1.1 1.4z" color="#474ff1"/>
<path d="M174.1 790.3l1.1-1.6-.9 1.7-1.1 1.4z" color="#4749ec"/>
<path d="M171.9 793.3l2.2-3-.9 1.5-2.1 2.6z" color="#4744e5"/>
<path d="M169.7 796.1l1.1-1.4-.8 1-1.1 1.2z" color="#4539d8"/>
<path d="M167.5 798.6l2.2-2.5-.8 .8-2.2 2.2z" color="#4434cf"/>
<path d="M165.4 800.8l2.1-2.2-.8 .5-2.2 1.9z" color="#4230c4"/>
<path d="M163.2 802.6l2.2-1.8-.9 .2-2.2 1.6z" color="#402cb9"/>
<path d="M140.3 810.1l1.1 .2 2.2-.3 12-3.7 4.3-1.7 3.3-2-.9 0-2.1 1.2-3.3 1.4-12 3.8-3.2 .7-1.1-.1-1.1-.3z" color="#3f28ae"/>
<path d="M139.2 809.6l1.1 .5-.8-.8-1.1-.7z" color="#402cb9"/>
<path d="M138.1 808.7l1.1 .9-.8-1-1.1-1.2z" color="#4230c4"/>
<path d="M137.1 807.2l1 1.5-.8-1.3-1.1-1.8z" color="#4434cf"/>
<path d="M136 804.9l1.1 2.3-.9-1.6-1.1-2.6z" color="#463fdf"/>
<path d="M233.7 775.4l1.1-1.7-.8-.9-1.1 1.6z" color="#4744e5"/>
<path d="M232.6 777.1l1.1-1.7-.8-1-1.1 1.6z" color="#463fdf"/>
<path d="M231.5 778.6l1.1-1.5-.8-1.1-1.1 1.5z" color="#4539d8"/>
<path d="M229.4 781.5l2.1-2.9-.8-1.1-2.2 2.9z" color="#4434cf"/>
<path d="M228.3 782.7l1.1-1.2-.9-1.1-1.1 1.3z" color="#4230c4"/>
<path d="M226.1 784.7l2.2-2-.9-1-2.1 2.1z" color="#402cb9"/>
<path d="M218.5 786.1l2.2 .5 2.1-.2 1.1-.4 2.2-1.3-.8-.9-2.2 1.6-2.2 .9-1.1 .2-2.2-.1z" color="#3f28ae"/>
<path d="M217.4 785.5l1.1 .6-.9 .3-1.1-.2z" color="#402cb9"/>
<path d="M215.2 784.1l2.2 1.4-.9 .7-2.1-1z" color="#4230c4"/>
<path d="M214.1 783.1l1.1 1-.8 1.1-1.1-.7z" color="#4434cf"/>
<path d="M213 782.1l1.1 1-.8 1.4-1.1-.8z" color="#4539d8"/>
<path d="M211.9 781l1.1 1.1-.8 1.6-1.1-.8z" color="#463fdf"/>
<path d="M210.9 779.8l1 1.2-.8 1.9-1.1-1z" color="#4744e5"/>
<path d="M209.8 778.5l1.1 1.3-.9 2.1-1.1-1z" color="#4749ec"/>
<path d="M208.7 777.3l1.1 1.2-.9 2.4-1.1-1z" color="#474ff1"/>
<path d="M207.6 776l1.1 1.3-.9 2.6-1.1-1.1z" color="#4754f4"/>
<path d="M206.5 774.7l1.1 1.3-.9 2.8-1-1z" color="#455ffb"/>
<path d="M205.4 773.5l1.1 1.2-.8 3.1-1.1-1.1z" color="#4365fc"/>
<path d="M204.3 772.3l1.1 1.2-.8 3.2-1.1-1z" color="#3f6bfc"/>
<path d="M203.2 771.2l1.1 1.1-.8 3.4-1.1-.9z" color="#3a71fd"/>
<path d="M202.1 770.2l1.1 1-.8 3.6-1.1-.9z" color="#3677fd"/>
<path d="M201.1 769.2l1 1-.8 3.7-1.1-.8z" color="#327dfb"/>
<path d="M200 768.4l1.1 .8-.9 3.9-1.1-.7z" color="#3182f8"/>
<path d="M197.8 767.2l2.2 1.2-.9 4-2.2-1z" color="#2f88f5"/>
<path d="M195.6 766.6l2.2 .6-.9 4.2-2.1-.5z" color="#2d8df1"/>
<path d="M189.1 768.7l2.2-1.4 1-.4 1.1-.3 2.2 0-.8 4.3-2.2 0-1.1 .3-1.1 .4-2.2 1.2z" color="#2b92ee"/>
<path d="M186.9 770.7l2.2-2-.9 4.1-2.1 1.8z" color="#2d8df1"/>
<path d="M184.7 773.3l2.2-2.6-.8 3.9-2.2 2.2z" color="#2f88f5"/>
<path d="M183.6 774.7l1.1-1.4-.8 3.5-1.1 1.3z" color="#3182f8"/>
<path d="M182.5 776.2l1.1-1.5-.8 3.4-1.1 1.4z" color="#327dfb"/>
<path d="M181.5 777.9l1-1.7-.8 3.3-1.1 1.4z" color="#3677fd"/>
<path d="M180.4 779.5l1.1-1.6-.9 3-1.1 1.5z" color="#3a71fd"/>
<path d="M179.3 781.3l1.1-1.8-.9 2.9-1.1 1.6z" color="#3f6bfc"/>
<path d="M178.2 783.1l1.1-1.8-.9 2.7-1.1 1.5z" color="#4365fc"/>
<path d="M177.1 784.8l1.1-1.7-.9 2.4-1 1.6z" color="#455ffb"/>
<path d="M176 786.6l1.1-1.8-.8 2.3-1.1 1.6z" color="#465af7"/>
<path d="M174.9 788.4l1.1-1.8-.8 2.1-1.1 1.6z" color="#4754f4"/>
<path d="M173.8 790.1l1.1-1.7-.8 1.9-1.1 1.5z" color="#474ff1"/>
<path d="M172.7 791.8l1.1-1.7-.8 1.7-1.1 1.5z" color="#4749ec"/>
<path d="M170.6 795l1.1-1.5-.9 1.2-1.1 1.4z" color="#463fdf"/>
<path d="M167.3 799.2l1.1-1.3-.9 .7-1 1.1z" color="#4434cf"/>
<path d="M165.1 801.5l2.2-2.3-.8 .5-2.2 2z" color="#4230c4"/>
<path d="M162.9 803.3l2.2-1.8-.8 .2-2.2 1.6z" color="#402cb9"/>
<path d="M140.1 810.5l1.1 .4 1.1 0 3.2-.7 12-3.9 3.3-1.5 2.1-1.5-.8 0-2.2 1.3-3.2 1.4-12 3.7-2.2 .5-1.1 .1-1.1-.2-1.1-.5z" color="#3f28ae"/>
<path d="M139 809.8l1.1 .7-.9-.9-1.1-.9z" color="#402cb9"/>
<path d="M137.9 808.6l1.1 1.2-.9-1.1-1-1.5z" color="#4230c4"/>
<path d="M136.8 806.7l1.1 1.9-.8-1.4-1.1-2.3z" color="#4539d8"/>
<path d="M234.6 776.5l1.1-1.7-.9-1.1-1.1 1.7z" color="#4744e5"/>
<path d="M233.5 778.2l1.1-1.7-.9-1.1-1.1 1.7z" color="#463fdf"/>
<path d="M232.4 779.8l1.1-1.6-.9-1.1-1.1 1.5z" color="#4539d8"/>
<path d="M231.3 781.3l1.1-1.5-.9-1.2-1 1.5z" color="#4434cf"/>
<path d="M230.2 782.6l1.1-1.3-.8-1.2-1.1 1.4z" color="#4230c4"/>
<path d="M228 784.7l2.2-2.1-.8-1.1-2.2 2.3z" color="#402cb9"/>
<path d="M221.5 786.4l2.2 .2 1.1-.1 1.1-.4 2.1-1.4-.8-.9-2.2 1.6-1.1 .6-1.1 .4-2.1 .2z" color="#3f28ae"/>
<path d="M219.3 785.3l2.2 1.1-.8 .2-2.2-.5z" color="#402cb9"/>
<path d="M218.2 784.5l1.1 .8-.8 .8-1.1-.6z" color="#4230c4"/>
<path d="M217.1 783.6l1.1 .9-.8 1-1.1-.6z" color="#4434cf"/>
<path d="M216.1 782.5l1 1.1-.8 1.3-1.1-.8z" color="#4539d8"/>
<path d="M215 781.3l1.1 1.2-.9 1.6-1.1-1z" color="#463fdf"/>
<path d="M213.9 780l1.1 1.3-.9 1.8-1.1-1z" color="#4744e5"/>
<path d="M212.8 778.6l1.1 1.4-.9 2.1-1.1-1.1z" color="#4749ec"/>
<path d="M211.7 777.1l1.1 1.5-.9 2.4-1-1.2z" color="#474ff1"/>
<path d="M210.6 775.6l1.1 1.5-.8 2.7-1.1-1.3z" color="#4754f4"/>
<path d="M209.5 774l1.1 1.6-.8 2.9-1.1-1.2z" color="#455ffb"/>
<path d="M208.4 772.5l1.1 1.5-.8 3.3-1.1-1.3z" color="#4365fc"/>
<path d="M207.3 771l1.1 1.5-.8 3.5-1.1-1.3z" color="#3f6bfc"/>
<path d="M206.3 769.6l1 1.4-.8 3.7-1.1-1.2z" color="#3677fd"/>
<path d="M205.2 768.2l1.1 1.4-.9 3.9-1.1-1.2z" color="#327dfb"/>
<path d="M204.1 766.9l1.1 1.3-.9 4.1-1.1-1.1z" color="#3182f8"/>
<path d="M203 765.7l1.1 1.2-.9 4.3-1.1-1z" color="#2f88f5"/>
<path d="M201.9 764.6l1.1 1.1-.9 4.5-1-1z" color="#2d8df1"/>
<path d="M200.8 763.7l1.1 .9-.8 4.6-1.1-.8z" color="#2b92ee"/>
<path d="M199.7 762.9l1.1 .8-.8 4.7-1.1-.7z" color="#2897eb"/>
<path d="M198.6 762.3l1.1 .6-.8 4.8-1.1-.5z" color="#259ce8"/>
<path d="M196.5 761.5l2.1 .8-.8 4.9-2.2-.6z" color="#22a1e5"/>
<path d="M191 763.1l2.2-1.2 1.1-.3 2.2-.1-.9 5.1-2.2 0-1.1 .3-2.1 1.1z" color="#1fa5e1"/>
<path d="M188.8 765l2.2-1.9-.8 4.9-2.2 1.6z" color="#22a1e5"/>
<path d="M186.7 767.5l2.1-2.5-.8 4.6-2.2 2.3z" color="#259ce8"/>
<path d="M185.6 769l1.1-1.5-.9 4.4-1.1 1.4z" color="#2897eb"/>
<path d="M184.5 770.7l1.1-1.7-.9 4.3-1.1 1.4z" color="#2b92ee"/>
<path d="M183.4 772.4l1.1-1.7-.9 4-1.1 1.5z" color="#2d8df1"/>
<path d="M182.3 774.2l1.1-1.8-.9 3.8-1 1.7z" color="#2f88f5"/>
<path d="M181.2 776.1l1.1-1.9-.8 3.7-1.1 1.6z" color="#3182f8"/>
<path d="M180.1 778.1l1.1-2-.8 3.4-1.1 1.8z" color="#327dfb"/>
<path d="M179 780.1l1.1-2-.8 3.2-1.1 1.8z" color="#3677fd"/>
<path d="M177.9 782.1l1.1-2-.8 3-1.1 1.7z" color="#3f6bfc"/>
<path d="M176.9 784.1l1-2-.8 2.7-1.1 1.8z" color="#4365fc"/>
<path d="M175.8 786.1l1.1-2-.9 2.5-1.1 1.8z" color="#455ffb"/>
<path d="M174.7 788.1l1.1-2-.9 2.3-1.1 1.7z" color="#465af7"/>
<path d="M173.6 790l1.1-1.9-.9 2-1.1 1.7z" color="#4754f4"/>
<path d="M172.5 791.9l1.1-1.9-.9 1.8-1 1.7z" color="#474ff1"/>
<path d="M171.4 793.7l1.1-1.8-.8 1.6-1.1 1.5z" color="#4744e5"/>
<path d="M169.2 797l2.2-3.3-.8 1.3-2.2 2.9z" color="#463fdf"/>
<path d="M168.1 798.5l1.1-1.5-.8 .9-1.1 1.3z" color="#4539d8"/>
<path d="M167.1 799.8l1-1.3-.8 .7-1.1 1.2z" color="#4434cf"/>
<path d="M164.9 802.2l2.2-2.4-.9 .6-2.2 2.1z" color="#4230c4"/>
<path d="M162.7 804.1l2.2-1.9-.9 .3-2.1 1.6z" color="#402cb9"/>
<path d="M140.9 811.4l1.1 .1 2.2-.3 12-3.7 3.2-1.4 3.3-2-.8 0-2.2 1.3-2.2 .9-13.1 4.2-2.1 .4-1.1 0-1.1-.4z" color="#3f28ae"/>
<path d="M139.8 810.9l1.1 .5-.8-.9-1.1-.7z" color="#402cb9"/>
<path d="M138.7 809.9l1.1 1-.8-1.1-1.1-1.2z" color="#4230c4"/>
<path d="M137.7 808.4l1 1.5-.8-1.3-1.1-1.9z" color="#4434cf"/>
<path d="M235.4 777.8l1.1-1.8-.8-1.2-1.1 1.7z" color="#463fdf"/>
<path d="M234.3 779.5l1.1-1.7-.8-1.3-1.1 1.7z" color="#4539d8"/>
<path d="M233.2 781l1.1-1.5-.8-1.3-1.1 1.6z" color="#4434cf"/>
<path d="M232.1 782.4l1.1-1.4-.8-1.2-1.1 1.5z" color="#4230c4"/>
<path d="M230 784.7l2.1-2.3-.8-1.1-2.2 2.4z" color="#402cb9"/>
<path d="M223.4 786.3l2.2 .4 1.1-.2 1.1-.4 2.2-1.4-.9-1-2.2 1.8-1 .6-1.1 .4-2.2 .1z" color="#3f28ae"/>
<path d="M221.3 785.1l2.1 1.2-.8 .3-2.2-.7z" color="#402cb9"/>
<path d="M220.2 784.2l1.1 .9-.9 .8-1.1-.6z" color="#4230c4"/>
<path d="M219.1 783.1l1.1 1.1-.9 1.1-1.1-.8z" color="#4434cf"/>
<path d="M218 781.8l1.1 1.3-.9 1.4-1.1-.9z" color="#4539d8"/>
<path d="M216.9 780.4l1.1 1.4-.9 1.8-1-1.1z" color="#463fdf"/>
<path d="M215.8 778.9l1.1 1.5-.8 2.1-1.1-1.2z" color="#4744e5"/>
<path d="M214.7 777.2l1.1 1.7-.8 2.4-1.1-1.3z" color="#474ff1"/>
<path d="M213.6 775.5l1.1 1.7-.8 2.8-1.1-1.4z" color="#4754f4"/>
<path d="M212.5 773.7l1.1 1.8-.8 3.1-1.1-1.5z" color="#455ffb"/>
<path d="M211.5 771.9l1 1.8-.8 3.4-1.1-1.5z" color="#4365fc"/>
<path d="M210.4 770.1l1.1 1.8-.9 3.7-1.1-1.6z" color="#3a71fd"/>
<path d="M209.3 768.3l1.1 1.8-.9 3.9-1.1-1.5z" color="#3677fd"/>
<path d="M208.2 766.5l1.1 1.8-.9 4.2-1.1-1.5z" color="#3182f8"/>
<path d="M207.1 764.8l1.1 1.7-.9 4.5-1-1.4z" color="#2f88f5"/>
<path d="M206 763.2l1.1 1.6-.8 4.8-1.1-1.4z" color="#2b92ee"/>
<path d="M204.9 761.7l1.1 1.5-.8 5-1.1-1.3z" color="#2897eb"/>
<path d="M203.8 760.3l1.1 1.4-.8 5.2-1.1-1.2z" color="#259ce8"/>
<path d="M202.7 759.1l1.1 1.2-.8 5.4-1.1-1.1z" color="#1fa5e1"/>
<path d="M201.7 758l1 1.1-.8 5.5-1.1-.9z" color="#19a9dd"/>
<path d="M199.5 756.4l2.2 1.6-.9 5.7-2.2-1.4z" color="#14add9"/>
<path d="M198.4 755.9l1.1 .5-.9 5.9-1.1-.5z" color="#0eb1d5"/>
<path d="M190.8 758.3l2.1-1.7 2.2-.9 1.1-.2 2.2 .4-.9 5.9-2.1-.3-1.1 .1-2.2 .8-2.2 1.5z" color="#0cb5d0"/>
<path d="M188.6 760.9l2.2-2.6-.9 5.6-2.2 2.3z" color="#0eb1d5"/>
<path d="M187.5 762.4l1.1-1.5-.9 5.3-1 1.3z" color="#14add9"/>
<path d="M186.4 764.1l1.1-1.7-.8 5.1-1.1 1.5z" color="#19a9dd"/>
<path d="M185.3 765.9l1.1-1.8-.8 4.9-1.1 1.7z" color="#1fa5e1"/>
<path d="M184.2 767.9l1.1-2-.8 4.8-1.1 1.7z" color="#22a1e5"/>
<path d="M183.1 769.9l1.1-2-.8 4.5-1.1 1.8z" color="#259ce8"/>
<path d="M182.1 772.1l1-2.2-.8 4.3-1.1 1.9z" color="#2b92ee"/>
<path d="M181 774.3l1.1-2.2-.9 4-1.1 2z" color="#2d8df1"/>
<path d="M179.9 776.5l1.1-2.2-.9 3.8-1.1 2z" color="#2f88f5"/>
<path d="M178.8 778.8l1.1-2.3-.9 3.6-1.1 2z" color="#327dfb"/>
<path d="M177.7 781.1l1.1-2.3-.9 3.3-1 2z" color="#3677fd"/>
<path d="M176.6 783.4l1.1-2.3-.8 3-1.1 2z" color="#3f6bfc"/>
<path d="M175.5 785.6l1.1-2.2-.8 2.7-1.1 2z" color="#4365fc"/>
<path d="M174.4 787.8l1.1-2.2-.8 2.5-1.1 1.9z" color="#455ffb"/>
<path d="M173.3 789.9l1.1-2.1-.8 2.2-1.1 1.9z" color="#4754f4"/>
<path d="M172.3 792l1-2.1-.8 2-1.1 1.8z" color="#474ff1"/>
<path d="M171.2 793.9l1.1-1.9-.9 1.7-1.1 1.7z" color="#4749ec"/>
<path d="M170.1 795.7l1.1-1.8-.9 1.5-1.1 1.6z" color="#4744e5"/>
<path d="M169 797.4l1.1-1.7-.9 1.3-1.1 1.5z" color="#463fdf"/>
<path d="M167.9 799l1.1-1.6-.9 1.1-1 1.3z" color="#4539d8"/>
<path d="M166.8 800.5l1.1-1.5-.8 .8-1.1 1.3z" color="#4434cf"/>
<path d="M164.6 802.9l2.2-2.4-.8 .6-2.2 2.1z" color="#4230c4"/>
<path d="M162.5 804.9l2.1-2-.8 .3-2.2 1.7z" color="#402cb9"/>
<path d="M140.7 811.8l1.1 .3 1.1 0 2.1-.4 12-3.9 3.3-1.5 2.2-1.4-.9 0-2.2 1.2-2.1 1-13.1 4.1-2.2 .3-1.1-.1-1.1-.5z" color="#3f28ae"/>
<path d="M139.6 811.1l1.1 .7-.9-.9-1.1-1z" color="#402cb9"/>
<path d="M138.5 809.9l1.1 1.2-.9-1.2-1-1.5z" color="#4230c4"/>
</g>
<path d="M62.4 775.5L62.4 692.4M236.5 783.8L236.5 700.7M62.4 775.5L138.5 813.7M138.5 813.7L236.5 783.8" stroke="#2b2b2b" stroke-width="0.9" fill="none"/>
<path d="M148.3 810.7L146.4 809.7M168.0 804.7L166.1 803.7M187.7 798.7L185.8 797.7M207.4 792.7L205.5 791.7M227.1 786.7L225.2 785.7M130.9 809.9L133.3 809.1M100.3 794.5L102.7 793.8M69.7 779.2L72.2 778.4M62.4 760.9L64.8 760.2M62.4 746.4L64.8 745.6M62.4 731.8L64.8 731.0M62.4 717.2L64.8 716.5M62.4 702.6L64.8 701.9" stroke="#2b2b2b" stroke-width="0.8" fill="none"/>
<text transform="translate(18.14,14.58) scale(0.997,1)" font-size="12.05" font-weight="bold" fill="#262626" >a</text>
<text transform="translate(25.96,14.32) scale(1.177,1)" font-size="12.44" font-weight="bold" fill="#262626" >)</text>
<text transform="translate(46.53,81.83) scale(1.025,1)" font-size="17.24" font-weight="bold" fill="#262626" >400</text>
<text transform="translate(46.17,109.03) scale(1.038,1)" font-size="17.24" font-weight="bold" fill="#262626" >200</text>
<text transform="translate(44.31,154.33) scale(1.104,1)" font-size="17.24" font-weight="bold" fill="#262626" >100</text>
<text transform="translate(92.11,169.04) scale(1.250,1)" font-size="15.83" font-weight="bold" fill="#262626" >0</text>
<text transform="translate(92.17,186.62) scale(0.992,1)" font-size="18.37" font-weight="bold" fill="#262626" >-100</text>
<text transform="translate(139.47,186.62) scale(0.992,1)" font-size="18.37" font-weight="bold" fill="#262626" >-100</text>
<text transform="translate(173.64,175.43) scale(1.235,1)" font-size="17.39" font-weight="bold" fill="#262626" >0</text>
<text transform="translate(209.30,162.91) scale(0.945,1)" font-size="18.66" font-weight="bold" fill="#262626" >100</text>
<text transform="translate(42.86,201.50) scale(0.949,1)" font-size="19.91" font-weight="bold" fill="#262626" >x</text>
<text transform="translate(53.53,210.80) scale(0.993,1)" font-size="16.49" font-weight="bold" fill="#262626" >2</text>
<text transform="translate(211.16,203.70) scale(0.977,1)" font-size="19.72" font-weight="bold" fill="#262626" >x</text>
<text transform="translate(222.35,212.80) scale(0.760,1)" font-size="15.85" font-weight="bold" fill="#262626" >1</text>
<text transform="translate(30.85,155.39) rotate(-90) scale(0.980,1)" font-size="19.52" font-weight="bold" fill="#262626">F14(</text>
<text transform="translate(31.00,109.54) rotate(-90) scale(0.887,1)" font-size="20.66" font-weight="bold" fill="#262626">x</text>
<text transform="translate(40.10,98.65) rotate(-90) scale(0.746,1)" font-size="16.15" font-weight="bold" fill="#262626">1</text>
<text transform="translate(30.89,85.10) rotate(-90) scale(1.000,1)" font-size="19.30" font-weight="bold" fill="#262626">,</text>
<text transform="translate(30.90,73.33) rotate(-90) scale(0.832,1)" font-size="20.47" font-weight="bold" fill="#262626">x</text>
<text transform="translate(40.10,62.76) rotate(-90) scale(0.976,1)" font-size="16.34" font-weight="bold" fill="#262626">2</text>
<text transform="translate(30.88,47.94) rotate(-90) scale(0.864,1)" font-size="19.84" font-weight="bold" fill="#262626">)</text>
<text transform="translate(7.93,311.67) scale(0.942,1)" font-size="13.15" font-weight="bold" fill="#262626" >a</text>
<text transform="translate(15.76,311.17) scale(1.467,1)" font-size="11.69" font-weight="bold" fill="#262626" >)</text>
<text transform="translate(37.38,365.59) scale(1.099,1)" font-size="15.91" font-weight="bold" fill="#262626" >5</text>
<text transform="translate(36.98,378.67) scale(1.099,1)" font-size="15.91" font-weight="bold" fill="#262626" >4</text>
<text transform="translate(37.51,391.95) scale(1.099,1)" font-size="15.91" font-weight="bold" fill="#262626" >3</text>
<text transform="translate(37.55,405.75) scale(1.099,1)" font-size="15.91" font-weight="bold" fill="#262626" >2</text>
<text transform="translate(37.38,418.67) scale(1.099,1)" font-size="15.91" font-weight="bold" fill="#262626" >1</text>
<text transform="translate(9.89,348.85) scale(1.215,1)" font-size="17.75" font-weight="normal" fill="#262626" >×</text>
<text transform="translate(24.05,346.74) scale(0.942,1)" font-size="16.11" font-weight="bold" fill="#262626" >10</text>
<text transform="translate(42.42,339.37) scale(1.259,1)" font-size="12.62" font-weight="bold" fill="#262626" >5</text>
<text transform="translate(36.72,447.55) scale(1.320,1)" font-size="14.62" font-weight="bold" fill="#262626" >5</text>
<text transform="translate(68.66,463.04) scale(1.181,1)" font-size="15.69" font-weight="bold" fill="#262626" >0</text>
<text transform="translate(96.49,479.74) scale(1.139,1)" font-size="15.63" font-weight="bold" fill="#262626" >-5</text>
<text transform="translate(124.14,479.74) scale(1.210,1)" font-size="15.63" font-weight="bold" fill="#262626" >-5</text>
<text transform="translate(166.46,467.15) scale(1.214,1)" font-size="15.27" font-weight="bold" fill="#262626" >0</text>
<text transform="translate(208.98,454.85) scale(1.402,1)" font-size="14.62" font-weight="bold" fill="#262626" >5</text>
<text transform="translate(42.16,492.80) scale(1.038,1)" font-size="18.20" font-weight="bold" fill="#262626" >x</text>
<text transform="translate(53.15,501.00) scale(1.077,1)" font-size="14.62" font-weight="bold" fill="#262626" >2</text>
<text transform="translate(179.46,494.60) scale(1.027,1)" font-size="18.39" font-weight="bold" fill="#262626" >x</text>
<text transform="translate(190.86,502.70) scale(0.797,1)" font-size="14.84" font-weight="bold" fill="#262626" >1</text>
<text transform="translate(19.47,452.06) rotate(-90) scale(0.845,1)" font-size="20.38" font-weight="bold" fill="#262626">F15(</text>
<text transform="translate(19.30,411.02) rotate(-90) scale(0.851,1)" font-size="19.15" font-weight="bold" fill="#262626">x</text>
<text transform="translate(28.80,400.65) rotate(-90) scale(0.577,1)" font-size="15.27" font-weight="bold" fill="#262626">1</text>
<text transform="translate(20.00,389.70) rotate(-90) scale(1.000,1)" font-size="19.30" font-weight="bold" fill="#262626">,</text>
<text transform="translate(19.30,378.12) rotate(-90) scale(0.851,1)" font-size="19.15" font-weight="bold" fill="#262626">x</text>
<text transform="translate(28.90,369.31) rotate(-90) scale(1.100,1)" font-size="13.19" font-weight="bold" fill="#262626">2</text>
<text transform="translate(19.53,355.74) rotate(-90) scale(0.892,1)" font-size="19.62" font-weight="bold" fill="#262626">)</text>
<text transform="translate(21.51,630.86) scale(0.911,1)" font-size="14.43" font-weight="bold" fill="#262626" >a</text>
<text transform="translate(29.26,629.79) scale(1.385,1)" font-size="12.12" font-weight="bold" fill="#262626" >)</text>
<text transform="translate(31.28,706.67) scale(0.990,1)" font-size="17.95" font-weight="bold" fill="#262626" >2.5</text>
<text transform="translate(46.30,721.26) scale(0.990,1)" font-size="17.95" font-weight="bold" fill="#262626" >2</text>
<text transform="translate(31.28,735.58) scale(0.990,1)" font-size="17.95" font-weight="bold" fill="#262626" >1.5</text>
<text transform="translate(46.12,750.17) scale(0.990,1)" font-size="17.95" font-weight="bold" fill="#262626" >1</text>
<text transform="translate(31.28,764.87) scale(0.990,1)" font-size="17.95" font-weight="bold" fill="#262626" >0.5</text>
<text transform="translate(20.05,672.40) scale(0.948,1)" font-size="21.80" font-weight="normal" fill="#262626" >×</text>
<text transform="translate(33.68,669.80) scale(0.835,1)" font-size="19.51" font-weight="bold" fill="#262626" >10</text>
<text transform="translate(53.80,660.67) scale(0.952,1)" font-size="13.00" font-weight="bold" fill="#262626" >8</text>
<text transform="translate(53.54,800.80) scale(1.019,1)" font-size="16.87" font-weight="bold" fill="#262626" >4</text>
<text transform="translate(83.81,816.03) scale(0.993,1)" font-size="17.39" font-weight="bold" fill="#262626" >0</text>
<text transform="translate(107.30,831.50) scale(1.041,1)" font-size="16.87" font-weight="bold" fill="#262626" >-4</text>
<text transform="translate(154.32,834.60) scale(1.004,1)" font-size="17.02" font-weight="bold" fill="#262626" >-4</text>
<text transform="translate(173.54,827.50) scale(1.080,1)" font-size="17.49" font-weight="bold" fill="#262626" >-2</text>
<text transform="translate(193.18,821.23) scale(1.041,1)" font-size="17.39" font-weight="bold" fill="#262626" >0</text>
<text transform="translate(212.53,815.30) scale(1.081,1)" font-size="17.63" font-weight="bold" fill="#262626" >2</text>
<text transform="translate(231.30,810.00) scale(1.050,1)" font-size="19.05" font-weight="bold" fill="#262626" >4</text>
<text transform="translate(59.87,852.50) scale(0.845,1)" font-size="21.04" font-weight="bold" fill="#262626" >x</text>
<text transform="translate(70.57,862.40) scale(0.887,1)" font-size="17.06" font-weight="bold" fill="#262626" >2</text>
<text transform="translate(201.86,854.90) scale(0.898,1)" font-size="21.04" font-weight="bold" fill="#262626" >x</text>
<text transform="translate(213.34,865.10) scale(0.575,1)" font-size="18.33" font-weight="bold" fill="#262626" >1</text>
<text transform="translate(16.68,795.08) rotate(-90) scale(1.032,1)" font-size="19.84" font-weight="bold" fill="#262626">F18(</text>
<text transform="translate(16.70,745.94) rotate(-90) scale(0.939,1)" font-size="19.72" font-weight="bold" fill="#262626">x</text>
<text transform="translate(25.80,733.83) rotate(-90) scale(0.732,1)" font-size="15.85" font-weight="bold" fill="#262626">1</text>
<text transform="translate(17.20,719.40) rotate(-90) scale(1.000,1)" font-size="19.30" font-weight="bold" fill="#262626">,</text>
<text transform="translate(16.40,706.95) rotate(-90) scale(1.035,1)" font-size="19.15" font-weight="bold" fill="#262626">x</text>
<text transform="translate(26.10,695.73) rotate(-90) scale(1.367,1)" font-size="13.19" font-weight="bold" fill="#262626">2</text>
<text transform="translate(16.74,679.24) rotate(-90) scale(0.819,1)" font-size="20.05" font-weight="bold" fill="#262626">)</text>
</svg>
</body></html>
